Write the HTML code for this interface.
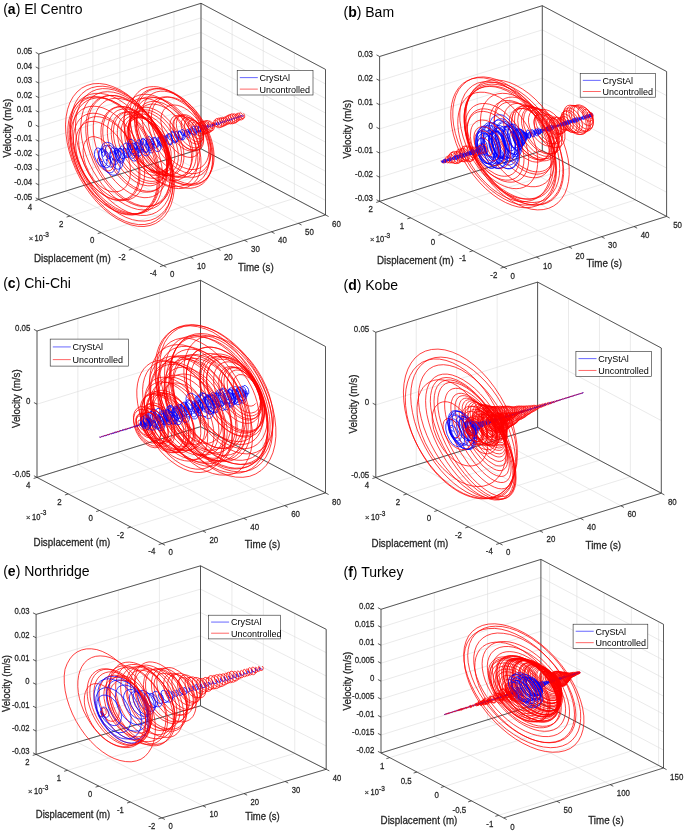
<!DOCTYPE html>
<html><head><meta charset="utf-8"><style>
html,body{margin:0;padding:0;background:#fff;}
svg{display:block;font-family:"Liberation Sans", sans-serif;will-change:transform;}
</style></head><body>
<svg width="685" height="833" viewBox="0 0 685 833">
<rect width="685" height="833" fill="#fff"/>
<g><line x1="38.80" y1="199.50" x2="38.80" y2="54.00" stroke="#dcdcdc" stroke-width="0.6"/><line x1="38.80" y1="199.50" x2="163.30" y2="265.60" stroke="#dcdcdc" stroke-width="0.6"/><line x1="65.83" y1="191.05" x2="65.83" y2="45.55" stroke="#dcdcdc" stroke-width="0.6"/><line x1="65.83" y1="191.05" x2="190.33" y2="257.15" stroke="#dcdcdc" stroke-width="0.6"/><line x1="92.87" y1="182.60" x2="92.87" y2="37.10" stroke="#dcdcdc" stroke-width="0.6"/><line x1="92.87" y1="182.60" x2="217.37" y2="248.70" stroke="#dcdcdc" stroke-width="0.6"/><line x1="119.90" y1="174.15" x2="119.90" y2="28.65" stroke="#dcdcdc" stroke-width="0.6"/><line x1="119.90" y1="174.15" x2="244.40" y2="240.25" stroke="#dcdcdc" stroke-width="0.6"/><line x1="146.93" y1="165.70" x2="146.93" y2="20.20" stroke="#dcdcdc" stroke-width="0.6"/><line x1="146.93" y1="165.70" x2="271.43" y2="231.80" stroke="#dcdcdc" stroke-width="0.6"/><line x1="173.97" y1="157.25" x2="173.97" y2="11.75" stroke="#dcdcdc" stroke-width="0.6"/><line x1="173.97" y1="157.25" x2="298.47" y2="223.35" stroke="#dcdcdc" stroke-width="0.6"/><line x1="201.00" y1="148.80" x2="201.00" y2="3.30" stroke="#dcdcdc" stroke-width="0.6"/><line x1="201.00" y1="148.80" x2="325.50" y2="214.90" stroke="#dcdcdc" stroke-width="0.6"/><line x1="38.80" y1="199.50" x2="201.00" y2="148.80" stroke="#dcdcdc" stroke-width="0.6"/><line x1="201.00" y1="148.80" x2="325.50" y2="214.90" stroke="#dcdcdc" stroke-width="0.6"/><line x1="38.80" y1="184.95" x2="201.00" y2="134.25" stroke="#dcdcdc" stroke-width="0.6"/><line x1="201.00" y1="134.25" x2="325.50" y2="200.35" stroke="#dcdcdc" stroke-width="0.6"/><line x1="38.80" y1="170.40" x2="201.00" y2="119.70" stroke="#dcdcdc" stroke-width="0.6"/><line x1="201.00" y1="119.70" x2="325.50" y2="185.80" stroke="#dcdcdc" stroke-width="0.6"/><line x1="38.80" y1="155.85" x2="201.00" y2="105.15" stroke="#dcdcdc" stroke-width="0.6"/><line x1="201.00" y1="105.15" x2="325.50" y2="171.25" stroke="#dcdcdc" stroke-width="0.6"/><line x1="38.80" y1="141.30" x2="201.00" y2="90.60" stroke="#dcdcdc" stroke-width="0.6"/><line x1="201.00" y1="90.60" x2="325.50" y2="156.70" stroke="#dcdcdc" stroke-width="0.6"/><line x1="38.80" y1="126.75" x2="201.00" y2="76.05" stroke="#dcdcdc" stroke-width="0.6"/><line x1="201.00" y1="76.05" x2="325.50" y2="142.15" stroke="#dcdcdc" stroke-width="0.6"/><line x1="38.80" y1="112.20" x2="201.00" y2="61.50" stroke="#dcdcdc" stroke-width="0.6"/><line x1="201.00" y1="61.50" x2="325.50" y2="127.60" stroke="#dcdcdc" stroke-width="0.6"/><line x1="38.80" y1="97.65" x2="201.00" y2="46.95" stroke="#dcdcdc" stroke-width="0.6"/><line x1="201.00" y1="46.95" x2="325.50" y2="113.05" stroke="#dcdcdc" stroke-width="0.6"/><line x1="38.80" y1="83.10" x2="201.00" y2="32.40" stroke="#dcdcdc" stroke-width="0.6"/><line x1="201.00" y1="32.40" x2="325.50" y2="98.50" stroke="#dcdcdc" stroke-width="0.6"/><line x1="38.80" y1="68.55" x2="201.00" y2="17.85" stroke="#dcdcdc" stroke-width="0.6"/><line x1="201.00" y1="17.85" x2="325.50" y2="83.95" stroke="#dcdcdc" stroke-width="0.6"/><line x1="38.80" y1="54.00" x2="201.00" y2="3.30" stroke="#dcdcdc" stroke-width="0.6"/><line x1="201.00" y1="3.30" x2="325.50" y2="69.40" stroke="#dcdcdc" stroke-width="0.6"/><line x1="201.00" y1="148.80" x2="201.00" y2="3.30" stroke="#dcdcdc" stroke-width="0.6"/><line x1="38.80" y1="199.50" x2="201.00" y2="148.80" stroke="#dcdcdc" stroke-width="0.6"/><line x1="232.12" y1="165.33" x2="232.12" y2="19.83" stroke="#dcdcdc" stroke-width="0.6"/><line x1="69.92" y1="216.03" x2="232.12" y2="165.33" stroke="#dcdcdc" stroke-width="0.6"/><line x1="263.25" y1="181.85" x2="263.25" y2="36.35" stroke="#dcdcdc" stroke-width="0.6"/><line x1="101.05" y1="232.55" x2="263.25" y2="181.85" stroke="#dcdcdc" stroke-width="0.6"/><line x1="294.38" y1="198.38" x2="294.38" y2="52.88" stroke="#dcdcdc" stroke-width="0.6"/><line x1="132.18" y1="249.07" x2="294.38" y2="198.38" stroke="#dcdcdc" stroke-width="0.6"/><line x1="325.50" y1="214.90" x2="325.50" y2="69.40" stroke="#dcdcdc" stroke-width="0.6"/><line x1="163.30" y1="265.60" x2="325.50" y2="214.90" stroke="#dcdcdc" stroke-width="0.6"/></g>
<g><line x1="38.80" y1="54.00" x2="201.00" y2="3.30" stroke="#262626" stroke-width="0.75"/><line x1="201.00" y1="3.30" x2="325.50" y2="69.40" stroke="#262626" stroke-width="0.75"/><line x1="325.50" y1="69.40" x2="325.50" y2="214.90" stroke="#262626" stroke-width="0.75"/><line x1="38.80" y1="199.50" x2="201.00" y2="148.80" stroke="#262626" stroke-width="0.75"/><line x1="201.00" y1="148.80" x2="325.50" y2="214.90" stroke="#262626" stroke-width="0.75"/><line x1="38.80" y1="199.50" x2="163.30" y2="265.60" stroke="#262626" stroke-width="0.75"/><line x1="163.30" y1="265.60" x2="325.50" y2="214.90" stroke="#262626" stroke-width="0.75"/><line x1="201.00" y1="3.30" x2="201.00" y2="148.80" stroke="#262626" stroke-width="0.75"/><line x1="38.80" y1="54.00" x2="38.80" y2="199.50" stroke="#262626" stroke-width="0.75"/></g>
<path d="M101 159.8l0-0.5M100.8 158.9l-1.3-1.3-1.1 0.1-0.8 1.3 0.1 2.4 1.2 3.2 2.4 3.2 3.2 2.4 1.2 0.5M95.2 136.8l-2.1-0.2-2 0.3-1.8 0.7-1.7 1.2-1.5 1.5-1.2 2-1 2.3-0.9 5.7 0.5 6.8 2 7.5 3.4 7.5 4.7 7.2 5.8 6.1 3.3 2.5 3.4 1.9 3.4 1.3 3.4 0.7 3.2 0M91 121.4l-3.3 0.6-3 1.3-2.7 2-2.2 2.7-1.8 3.2-1.3 3.8-0.8 4.2-0.3 4.6 0.3 5 0.8 5.2 1.4 5.3 1.9 5.3 2.3 5.3 2.8 5.2 3.2 4.8 3.6 4.5 3.8 4.1 4.1 3.5 4.2 3 4.2 2.3 4.3 1.6 4.1 0.9 4 0.2M89.2 113.6l-3.6 1.2-3.1 1.8-2.8 2.6-2.3 3.1-1.8 3.8-1.2 4.3-0.8 4.7-0.2 5 0.4 5.4 0.9 5.5 1.5 5.6 1.9 5.7 2.5 5.5 2.8 5.3 3.3 5.1 3.5 4.7 3.8 4.3 4.1 3.8 4.1 3.2 4.3 2.7 4.2 1.9 4.2 1.3 4 0.6 3.8-0.1M92.9 117l-3.2 1-2.9 1.7-2.4 2.2-2.1 2.9-1.6 3.3-1.2 3.8-0.7 4.2-0.2 4.5 0.3 4.7 0.7 4.9 1.3 5 3.6 10 2.3 4.9 2.6 4.8 3 4.6 3.4 4.3 3.6 3.9 3.8 3.5 3.9 2.9 4.1 2.5 4.1 1.8 4 1.2 3.9 0.5M93.7 106.2l-4.4 0.3-4 1.2-3.6 2-3.2 2.8-2.8 3.5-2.2 4.2-1.6 4.8-1.1 5.4-0.3 5.9 0.2 6.3 0.9 6.6 1.6 6.8 2.2 6.8 2.7 6.9 3.4 6.7 3.8 6.4 4.3 6.1 4.7 5.7 5.1 5.1 5.2 4.4 5.5 3.7 5.5 3 5.5 2.1 5.4 1.2 5.2 0.3M93.4 96.7l-5.1 0.6-4.7 1.7-4.2 2.6-3.7 3.6-3 4.4-2.3 5.3-1.7 5.9-0.8 6.5-0.1 7 0.6 7.4 1.4 7.6 2.2 7.7 2.8 7.7 3.5 7.6 4.1 7.3 4.6 6.9 5.1 6.3 5.4 5.7 5.7 5 5.8 4.2 5.9 3.3 5.9 2.4 5.8 1.3 5.5 0.4M95.3 96.9l-5.1 0.7-4.7 1.7-4.1 2.7-3.5 3.7-2.9 4.4-2.2 5.3-1.6 5.9-0.8 6.4 0 7 0.7 7.3 1.4 7.5 2.2 7.7 2.9 7.6 3.5 7.5 4 7.2 4.6 6.7 5 6.3 5.4 5.6 5.6 4.9 5.8 4.1 5.9 3.2 5.8 2.2 5.7 1.3 5.4 0.3M96.7 97.9l-4.9 0.9-4.6 1.8-4 2.8-3.5 3.8-2.8 4.5-2.1 5.4-1.4 6-0.7 6.6 0.1 7 0.9 7.4 1.6 7.5 2.4 7.7 3 7.6 3.6 7.3 4.3 7.1 4.7 6.6 5.1 6 5.4 5.4 5.7 4.6 5.8 3.8 5.8 2.9 5.7 1.9 5.6 1 5.3 0.2M94.9 93.4l-5.4 1.1-4.9 2.1-4.3 3.3-3.7 4.2-3 5.2-2.3 6-1.5 6.7-0.6 7.4 0.2 7.9 1.1 8.3 1.9 8.6 2.7 8.6 3.5 8.6 4.2 8.3 4.9 8.1 5.4 7.5 5.9 6.9 6.3 6.2 6.6 5.3 6.7 4.3 6.8 3.3 6.7 2.2 6.5 1.1 6.3-0.1M92.9 83.8l-5.8 1.6-5.4 2.7-4.6 3.8-4 4.9-3.2 5.8-2.3 6.7-1.5 7.5-0.6 8.1 0.4 8.6 1.2 8.9 2.1 9.1 2.9 9.2 3.7 9.1 4.4 8.8 5.1 8.4 5.6 7.9 6.1 7.3 6.5 6.4 6.7 5.6 6.9 4.7 7 3.5 6.8 2.5 6.7 1.4 6.4 0.2M97 86.5l-5.6 1.3-5 2.4-4.5 3.5-3.8 4.5-3.1 5.3-2.3 6.2-1.4 7-0.7 7.5 0.2 8 1 8.4 1.9 8.5 2.6 8.7 3.4 8.6 4.1 8.3 4.8 8.2 5.3 7.7 5.9 7 6.2 6.3 6.5 5.4 6.6 4.5 6.7 3.5 6.6 2.4 6.5 1.2 6.1 0.2M102.4 88.6l-5.6 0.9-5 2-4.5 3.1-3.9 4.1-3.1 5-2.4 5.9-1.6 6.5-0.8 7.3 0.1 7.7 0.9 8 1.8 8.3 2.5 8.4 3.3 8.3 4 8.1 4.5 7.7 5.2 7.3 5.5 6.6 6 5.9 6.1 5.1 6.4 4.2 6.3 3.2 6.3 2.2 6.1 1 5.8 0M102.1 92.2l-5 1.7-4.5 2.7-3.8 3.8-3.1 4.6-2.4 5.6-1.6 6.2-0.8 6.9 0 7.4 0.9 7.8 1.7 7.9 2.4 8.1 3.2 7.9 3.9 7.8 4.5 7.3 4.9 6.9 5.5 6.2 5.7 5.5 5.9 4.7 6.1 3.7 6.1 2.8 5.9 1.7 5.7 0.6 5.4-0.5M106.1 95.8l-4.7 1.4-4.3 2.5-3.6 3.4-3 4.3-2.3 5.1-1.6 5.9-0.8 6.4 0 6.9 0.7 7 1.4 7.2 2.1 7.3 2.8 7.3 3.4 7.2 3.9 6.8 4.5 6.5 4.8 5.9 5.2 5.3 5.4 4.6 5.6 3.8 5.6 2.9 5.5 2 5.4 1.1 5.2 0.1M109.5 95.5l-4.7 1-4.3 2-3.7 2.9-3.2 3.7-2.6 4.5-1.9 5.2-1.1 5.9-0.5 6.4 0.2 6.8 1 7.1 1.7 7.2 2.4 7.3 3 7.2 3.6 7 4.1 6.7 4.6 6.2 4.9 5.7 5.3 5.1 5.4 4.3 5.6 3.5 5.5 2.6 5.5 1.7 5.4 0.8 5-0.2M110.6 98.9l-4.1 1.5-3.7 2.5-3.2 3.2-2.5 4.1-1.9 4.6-1.3 5.3-0.6 5.8 0.1 6.1 0.7 6.5 1.4 6.6 2 6.6 2.6 6.5 3.2 6.4 3.6 6 4.1 5.7 4.3 5.1 4.7 4.6 4.8 3.8 4.9 3.2 4.9 2.4 4.8 1.5 4.6 0.8 4.4-0.2M117.1 106.8l-3.5 1.1-3.2 1.8-2.8 2.4-2.3 3-1.9 3.5-1.4 4.2-0.8 4.6-0.3 5 0.4 5.3 0.8 5.5 1.4 5.6 2 5.6 2.4 5.5 2.9 5.4 3.3 5.1 3.6 4.7 3.9 4.3 4.1 3.8 4.3 3.1 4.3 2.6 4.3 1.8 4.2 1.2 4.1 0.3 3.9-0.3M121.2 106.6l-3.7 0.5-3.4 1.2-3.1 1.9-2.6 2.6-2.2 3.2-1.7 3.8-1.1 4.3-0.6 4.8 0 5.1 0.6 5.3 1.1 5.5 1.6 5.6 2.2 5.6 2.6 5.4 3.1 5.3 3.4 4.9 3.7 4.5 4 4.1 4.2 3.5 4.3 2.9 4.3 2.2 4.3 1.6 4.2 0.8 3.9 0.1M123.2 109l-3.2 0.6-3 1.2-2.6 1.9-2.2 2.3-1.9 2.9-1.4 3.4-1 3.8-0.5 4.1 0 4.4 0.4 4.6 0.9 4.8 1.4 4.8 3.9 9.5 5.4 8.9 3.1 4.1 3.3 3.6 3.5 3.3 3.7 2.8 3.7 2.3 3.6 1.7 3.7 1.2 3.5 0.6 3.4 0M124.6 112l-3.1 0.9-2.8 1.5-2.3 2.1-2 2.7-1.5 3.2-1 3.6-0.6 4.1 0 4.3 0.4 4.6 1 4.8 1.4 4.8 1.9 4.8 2.3 4.7 2.7 4.5 3 4.2 3.3 3.9 3.5 3.5 3.6 2.9 3.8 2.5 3.7 1.9 3.7 1.2 3.6 0.7 3.5 0M129.5 111.9l-3.2 0.3-3 0.9-2.7 1.5-2.2 2.1-1.9 2.6-1.5 3.1-1 3.5-0.5 3.9-0.1 4.2 0.5 4.5 0.9 4.6 1.4 4.7 1.8 4.6 2.2 4.6 2.6 4.4 2.9 4 3.2 3.7 3.4 3.3 3.5 2.8 3.5 2.4 3.6 1.8 3.5 1.2 3.5 0.7 3.2 0.1M131.5 113.8l-2.9 0.4-2.6 0.9-2.4 1.4-2 2-1.7 2.4-1.2 2.9-0.9 3.2-0.4 3.5-0.1 3.9 1.3 8.1 2.9 8.4 4.4 8 5.4 7.2 6.3 5.9 3.3 2.2 3.3 1.9 3.3 1.3 3.2 0.7 3.1 0.3M133.2 115.7l-2.5 0.5-2.4 0.9-2 1.4-1.8 1.9-1.4 2.2-1.1 2.7-0.7 2.9-0.3 6.7 1.2 7.3 2.7 7.6 3.9 7.3 4.9 6.5 5.6 5.4 6 3.8 3 1.3 3 0.9 2.8 0.3 2.7 0M137 117.2l-2.5 0.2-2.3 0.7-2 1.1-1.8 1.5-1.5 2-1.2 2.3-0.8 2.8-0.5 6.2 0.9 7 2.4 7.2 3.7 7 4.8 6.3 5.4 5.3 5.8 3.7 2.9 1.3 2.9 0.8 2.7 0.4 2.6-0.2M139.7 117.8l-2.5 0.2-2.3 0.5-2.1 1.1-1.8 1.4-1.5 1.9-1.2 2.3-0.8 2.6-0.6 6 0.9 6.7 2.4 7 3.6 6.9 4.6 6.1 5.3 5.1 5.7 3.6 5.6 2 2.7 0.3M139.6 116.9l-2.5 0.4-2.3 0.9-2 1.4-1.7 1.8-1.3 2.2-1 2.6-0.6 2.9-0.2 3.3 0.8 7 2.3 7.5 3.8 7.3 4.9 6.6 5.7 5.5 6.1 4 3.1 1.3 3 0.9 3 0.3M141.4 114l-2.6 0.3-2.5 0.7-2.1 1.2-1.9 1.7-1.6 2.1-1.2 2.4-0.8 2.9-0.5 3.1 0.2 6.9 1.8 7.6 3.2 7.6 4.4 7.2 5.4 6.3 6.1 5.1 6.3 3.5 3.1 1 3 0.6 2.9 0.1M141.7 111.5l-2.7 0.4-2.5 1-2.2 1.4-1.9 1.9-1.6 2.3-1.2 2.7-0.8 3.1-0.4 3.4 0 3.7 1.3 7.8 2.9 8.2 4.3 7.9 5.5 7.3 6.4 6 3.4 2.4 3.5 1.9 3.4 1.4 3.3 0.9 3.3 0.4M145.3 109.8l-3.1 0.1-2.8 0.7-2.6 1.3-2.2 1.7-1.8 2.3-1.4 2.7-1.1 3.2-0.5 3.5-0.2 3.8 0.4 4.1 0.8 4.2 2.9 8.7 4.4 8.4 5.8 7.6 3.2 3.3 3.4 3 3.5 2.4 3.6 2 3.6 1.5 3.4 0.9 3.4 0.4M146.1 107.2l-3.2 0.1-3 0.7-2.8 1.2-2.4 1.8-2 2.3-1.6 2.9-1.2 3.3-0.8 3.7-0.2 4.1 0.2 4.3 0.8 4.6 1.2 4.7 1.7 4.8 2.2 4.8 2.5 4.6 3 4.5 3.2 4.2 3.6 3.9 3.8 3.5 3.9 3 4.1 2.5 4.1 1.9 4 1.3 3.9 0.7M145.4 98.4l-4.1 0-3.8 0.8-3.4 1.6-3.1 2.3-2.5 2.9-2 3.7-1.5 4.2-0.9 4.7-0.1 5.2 0.5 5.6 1.1 5.8 1.7 5.9 2.3 5.9 2.9 5.8 3.3 5.7 3.8 5.3 4.1 5 4.5 4.5 4.6 4 4.9 3.3 4.8 2.6 4.9 2 4.7 1.1 4.6 0.4M143.4 94.3l-4.2 0.7-3.8 1.5-3.4 2.3-2.8 3.1-2.3 3.8-1.7 4.4-1 5-0.4 5.4 0.4 5.8 1 6.1 1.6 6.3 2.3 6.3 2.9 6.2 3.4 6.1 3.9 5.8 4.3 5.4 4.6 4.9 4.9 4.4 5.1 3.7 5.2 2.9 5.2 2.3 5.1 1.4 4.8 0.5M148.7 96.9l-4.1 0.6-3.6 1.4-3.2 2.2-2.7 2.9-2.1 3.6-1.5 4.1-0.8 4.6-0.2 5.1 0.4 5.3 1.1 5.5 1.6 5.6 2.2 5.5 2.7 5.4 3.2 5.2 3.5 4.8 3.9 4.4 4 3.9 4.3 3.3 4.3 2.7 4.2 2 4.2 1.3 4 0.6 3.7-0.1M150.6 104.1l-3.3 0.8-2.9 1.3-2.5 2.1-2.1 2.6-1.6 3.1-1.1 3.5-0.6 4-0.1 4.2 0.4 4.5 1 4.7 1.4 4.8 1.9 4.8 2.3 4.7 2.8 4.5 3 4.3 3.4 4 3.6 3.6 3.8 3.2 3.9 2.7 3.9 2.1 3.9 1.5 3.8 0.9 3.7 0.3M153.7 101.3l-3.4 0.3-3.1 0.9-2.8 1.6-2.5 2.1-2 2.7-1.6 3.2-1.1 3.6-0.6 4-0.1 4.4 0.4 4.6 1 4.8 1.4 4.9 1.9 4.9 2.3 4.9 2.7 4.7 3.1 4.5 3.3 4.1 3.7 3.9 3.8 3.4 3.9 2.9 4 2.4 4 1.8 4 1.2 3.8 0.6 3.6 0M153.1 97.6l-3.6 0.4-3.4 1.1-3 1.7-2.7 2.4-2.2 3-1.7 3.6-1.1 4.1-0.6 4.5-0.1 4.9 0.5 5.2 1.1 5.4 1.6 5.6 2.2 5.6 2.6 5.5 3.2 5.4 3.5 5.1 3.9 4.8 4.2 4.4 4.5 4 4.6 3.4 4.7 2.8 4.7 2.1 4.7 1.4 4.5 0.7M153.5 86.6l-4.4 0.3-4.1 1-3.8 1.8-3.2 2.6-2.8 3.2-2.3 3.9-1.7 4.4-1 5-0.5 5.4 0.2 5.7 0.7 6 1.4 6.2 2 6.3 2.6 6.3 3.1 6.1 3.6 5.9 3.9 5.7 4.4 5.2 4.6 4.8 4.8 4.2 4.9 3.7 5.1 3 5 2.4 5 1.6 4.8 0.8 4.5 0.2M154.4 88.6l-4 0.7-3.6 1.4-3.3 2.1-2.8 2.7-2.3 3.3-1.8 3.9-1.3 4.4-0.7 4.8-0.2 5.1 0.5 5.4 0.9 5.7 1.5 5.7 2 5.6 2.4 5.7 2.8 5.5 3.3 5.3 3.6 5.1 3.9 4.7 4.2 4.4 4.4 3.9 4.5 3.4 4.6 2.8 4.6 2.3 4.6 1.6 4.4 1 4.3 0.3M156.7 88.7l-3.8 0.6-3.6 1.3-3.2 1.9-2.8 2.6-2.3 3.1-1.9 3.7-1.3 4.2-0.8 4.6-0.3 5 0.3 5.2 0.8 5.6 1.4 5.6 1.9 5.7 2.3 5.7 2.9 5.6 3.2 5.4 3.7 5.2 3.9 4.8 4.3 4.5 4.4 3.9 4.6 3.5 4.7 2.8 4.7 2.2 4.6 1.6 4.5 0.9 4.3 0.2M160.4 91.2l-3.9 0.7-3.5 1.4-3.1 2.1-2.6 2.7-2.1 3.4-1.6 3.9-1 4.3-0.5 4.8 0.1 5.1 0.7 5.3 1.3 5.5 1.8 5.5 2.3 5.6 2.8 5.3 3.2 5.2 3.5 4.9 3.9 4.5 4.1 4.1 4.3 3.5 4.4 3 4.4 2.3 4.4 1.7 4.2 1 4.1 0.3M165.8 96.8l-3.7 0.3-3.3 1-3 1.7-2.6 2.3-2 3-1.6 3.5-1 4-0.5 4.4 0.1 4.8 0.7 5 1.3 5.2 1.8 5.2 2.3 5.2 2.7 5.1 3.2 4.8 3.5 4.6 3.8 4.1 4.1 3.6 4.2 3.1 4.3 2.5 4.2 1.9 4.2 1.1 4 0.5M167.6 97l-3.6 0.5-3.2 1.2-2.9 1.9-2.3 2.5-1.9 3.1-1.4 3.6-0.8 4.1-0.2 4.5 0.4 4.7 0.8 4.9 1.5 5 1.9 5.1 2.4 4.9 2.9 4.7 3.2 4.5 3.5 4.1 3.7 3.6 3.9 3.2 3.9 2.5 3.9 1.9 3.9 1.3 3.7 0.7 3.5 0M171.8 105.1l-2.6 0.6-2.3 1.2-2 1.6-1.6 2.2-1.2 2.5-0.8 2.9-0.4 3.1 0.1 3.4 1.3 7.2 2.8 7.2 4 6.7 4.9 5.7 5.4 4.4 5.5 2.7 2.6 0.6 2.5 0.3 2.3-0.3M178.3 115.2l-3.4 0.6-2.6 1.9-1.7 3.1-0.7 4 0.5 4.6 1.5 4.9 2.4 4.7 3.2 4.4 3.6 3.6 4 2.5 3.9 1.4 1.9 0.2M180.4 116.1l-3 0.6-2.4 1.7-1.6 2.8-0.6 3.6 0.3 4.3 1.3 4.4 2.2 4.5 2.9 4 3.4 3.4 3.7 2.7 3.8 1.4 3.6 0.3M180.7 115.1l-2.9 0.9-2.3 2.2-1.4 3.2-0.3 4 0.6 4.6 1.7 4.8 2.5 4.7 3.3 4.2 3.7 3.4 4 2.4 4 1.2 1.8 0.2M183.5 114.6l-2.9 0.7-2.3 1.8-1.4 2.8-0.6 3.5 0.3 4.1 2.1 6.5 3.8 6 3.1 3.4 3.4 2.5 3.5 1.6 3.3 0.5M186.7 117.2l-2.3 0.6-1.8 1.5-1.1 2.2-0.4 4.4 1.1 5 2.5 4.9 3.5 4.2 4.1 2.9 4 1.2 1.2 0M188.9 118.7l-1.9 0.6-1.4 1.4-1.1 3.1 0.2 4.1 1.5 4.4 2.7 4.1 3.3 3.2 3.6 2 3.4 0.3M192.2 120.1l-2.3 0.7-1.5 2.1-0.3 3.1 0.8 3.5 1.8 3.5 2.5 3 2.9 2.1 2.9 0.8 0.8 0M194.9 121.9l-1.7 0.6-1.1 1.6-0.1 3.2 1.4 3.6 2.6 3.1 2.9 1.8 2.1 0.2M197.3 123.1l-1.3 0.5-0.8 1.8 0.3 2.8 1.9 3.4 2.4 2 2.5 0.7M199.2 122.6l-1.4 0.4-0.8 1.3 0 2.7 1.2 3 2.3 2.7 2.7 1.5 1.3 0.1M201 121.7l-1.4 0.6-0.8 1.3 0.1 2.7 1.8 3.7 2.3 2.4 2.6 1.1 0.6 0.1M203.2 121.2l-1.5 0.3-1 1.1-0.2 2.6 1.1 3.1 2.2 2.8 2.7 1.7 1.9 0.2M204.8 120.9l-1.3 0.5-0.8 2 0.5 2.7 2.1 3.5 2.4 1.9 2.4 0.5M207 120.4l-1.6 0.5-0.6 1.2 0.3 3 1.8 3.2 2.7 2.1 2.1 0.5M209.3 121.1l-1 0.9-0.1 2.1 1.6 2.8 2 1.4 1.2 0.1M212 122.8l-0.3 0.8 0.9 1.6 1.3 0.4 0.2 0M214 122.4l-0.7 0.4 0.4 1.7 1.7 1.8 1.3 0.4M215.5 120.1l-1.4 0.3-0.4 1.8 0.9 2.5 2.1 2.3 2.4 0.9M216.8 118.4l-1.2 0.7-0.5 1.6 0.9 3 2.2 2.6 2.2 1 1 0M218.7 118l-1.2 0.8-0.3 1.7 1 2.9 2.2 2.4 2.1 0.8 0.5 0M220.6 117.6l-1.1 0.7-0.3 2.1 1.2 2.7 2.1 2 2.3 0.7M222.7 117.3l-1.1 0.6-0.3 2 1.1 2.5 2.1 1.9 1.8 0.6M224.6 117l-1 0.6-0.2 1.8 1.3 2.8 2.1 1.6 1.6 0.3M226.6 116.2l-1.1 0.4-0.5 1.8 1.1 2.9 2.1 2 2.3 0.7M228.3 115.1l-1.3 0.6-0.5 1.6 0.8 2.8 2.1 2.5 2.6 1.2 0.5 0M229.8 114.3l-1.2 0.8-0.4 1.9 1.1 3 2.3 2.5 2.2 0.9 0.5 0M231.8 113.7l-1.3 0.8-0.3 1.8 1 2.9 2.2 2.4 2.5 0.9M234.1 113.7l-1.1 0.5-0.4 1.8 1.2 2.9 2 1.8 2 0.5M236.1 113.8l-0.9 0.7 0 2.1 1.5 2.3 2.2 1.3 0.7 0M238.1 113.1l-1.1 0.5-0.2 1.7 1.2 2.6 2.3 1.8 1.2 0.2M240 112.7l-0.9 0.7 0.1 2 1.8 2.5 2.1 0.8 0.3 0" fill="none" stroke="#ff0000" stroke-width="0.75" stroke-linejoin="round"/><path d="M101 159.8l-0.5-1.2-0.8 0.2 0 1.9 1.4 3.3 2.5 2.7 2.2 1.1 1.2 0 1.1-0.4 1-0.8 0.8-1.2 0.9-3.8-0.6-4-1.5-3.5-2-2.6-1-0.6-1.9 0.1-1.1 1.1-0.2 1-0.9-2.5-1.6-1.8-1.9-0.9-1 0.2-1 0.5-1.3 2.4-0.4 3.7 0.4 2.3 2.1 4.9 2.9 3.5 1.5 1 1.4 0.4 1.3-0.1 1.2-0.5 1.4-1.9 0.5-2.4-0.7-2.5-0.3-0.2 0.5 1.4 0.7-0.1 0.6-1.2-0.4-4-2.1-4.5-1.8-1.9-1.9-0.6-1.8 1-1.3 1.9-0.5 2.9 0.8 4.6 1.9 2.7 1.1 0.4 0.7-0.6-0.2 1.6 1.1 4 3.5 4.9 3.3 2.6 1.8 0.8 1.9 0.1 1.7-0.4 1.6-1.1 1.4-1.8 0.9-2.5 0.6-3 0-3.5-0.4-3.7-1-3.8-1.4-3.6-1.8-3.3-2.1-2.7-2.2-2-2.3-1.2-2.2-0.3-1.9 0.4-1.6 1.1-1.1 1.7-0.8 2.1-0.3 2.3 0.6 4 1.4 2.4 0.8 0 0.6-0.6 0.2-2.6-1.2-2.7-1-0.9-1-0.2-1.1 0.5-0.8 1.2-0.6 2-0.1 2.6 0.3 3.1 0.8 3.2 1.4 3.2 1.7 2.9 2 2.4 2.1 1.6 2.1 0.8 2-0.1 1.7-0.9 1.3-1.6 0.8-2.1 0.4-2.3-0.4-4.3-1.4-2.7-0.7-0.4-0.7 0.6 0.4 1.3 0.5 0 0.8-1.2-0.1-3.2-1.4-4.4-1.2-2.2-1.5-1.8-1.6-1.4-1.7-0.6-1.6 0.1-1.4 0.8-1.1 1.6-0.6 2.2-0.2 2.6 0.3 2.9 0.8 2.9 1.2 2.6 1.4 2.3 1.7 1.7 1.7 1.2 1.6 0.6 1.5 0 1.3-0.4 1.8-1.9 0.4-2.6-0.6-2.4-0.2-0.2 0.6 0.6 0.9-0.6 0.5-2.2-0.4-3.6-1.7-4.2-2.7-3.2-1.5-0.9-1.5-0.2-1.3 0.4-1.1 1-0.7 1.6-0.4 1.9 0.4 4.1 1.6 3.3 1.8 1.2 1.2-0.5 0.2-1.7-0.4-0.1 0 2.3 1.7 3.7 2 1.8 2.1 0.4 1.6-1.3 0.9-2.4-0.4-4.2-1.5-3-2.5-2-1.2 0.1-0.8 1.2-0.1 0.5-1-1.3-0.8 0-0.7 1.3-0.2 2.5 0.7 3.6 1.7 4.1 2.7 3.5 1.6 1.3 1.6 0.7 1.4 0 1.4-0.5 1.1-1 0.9-1.5 0.9-3.9-0.4-4.5-1.4-4-1.9-2.8-2.1-1.1-1.5 0.4-0.7 1.5 0.3 2 0.5 0.1 0.1-2.1-1.5-3-1.7-1-0.9 0.1-0.7 0.6-0.9 2.5 0.3 3.5 1.3 3.4 2 2.4 2 0.9 1.5-0.5 1.1-1.8 0.4-1.2 1 0.1 0.8-1.5-0.5-3.8-1.8-3.1-1.7-1.1-1.5 0.2-0.9 1.6-0.1 2.3 0.8 1.8 0.9 0.7 0.7-0.5-0.4-1.5-0.7 0.2-0.3 1.7 0.6 3.1 1.8 3.2 1.4 1.2 1.4 0.6 1.3 0.1 1.2-0.7 0.9-1.2 0.6-1.7 0-4.1-1.2-3.9-2-2.4-1-0.4-0.9 0-1.2 1.1-0.1 2.5 0.5 0.6 0.2-1.5-0.7-1.9-1.4-1.2-0.8-0.1-0.7 0.5-0.7 2.4 0.4 3.5 1.5 3.5 2.1 2.5 2.2 1 1.8-0.4 1.5-2 0.6-5-0.8-3.3-1.6-2-2-0.5-1.7 0.6-0.8 1.9 0.2 2.5 1.3 2.9 2 2 2 0.4 1.4-0.7 1.4-1.7 0.8-1.2 0-3.1-1.1-3-1.9-2.3-1.4-0.7-1.3 0.3-1.1 1.9 0.1 2.7 1.1 2.1 1.4 0.6 1.4 2.7 1.7 1.3 1.6 0.1 1.3-1 0.7-2.6-0.8-3-1.6-1.8-2.6-1.2-0.9 0.9-0.2 2.3 0.9 2.9 1.9 2.3 2.1 0.9 1.7-0.6 1.1-1.9 0.6-3.5-1-4.1-2-3-1.7-1.1-1.7 0.1-1.3 1.5-0.4 2.5 0.4 2.8 1.1 2.3 1.3 1.2 1.2 0.1 0.8-1.1 1 3.2 1.6 1.8 1.9 0.9 1-0.2 0.8-0.5 1.2-2.4 0-3.5-1-3.8-1.8-3-2.2-1.5-1.9 0.1-1.2 1.4-0.2 2.8 0.8 1.8 0.5 0 0.1-1.2-0.7-0.5-0.7 0.5-0.3 2.1 0.7 3.3 1.7 3.6 2.6 2.8 1.5 0.7 1.5 0.1 1.3-0.6 1.1-1.1 0.8-1.7 0.5-2.1-0.3-4.8-1.7-4.5-1.2-1.6-1.3-1.2-1.2-0.3-1.1 0.3-0.8 0.7-0.7 2.3 0.3 2.4 0.8 1.3 0.9 0 0.2-2.3-1.3-2.5-1.3-0.5-0.9 0.9-0.3 2.1 1 3.9 2.2 3 2.4 1.1 1.5-0.2 1-1.1 0.6-2.8-0.6-2.7-1-1.1-0.6 0.4 0.2 0.8 0.7-0.4 0-2.5-1.4-3.8-1.6-2.1-1.8-1-1.7 0.4-1.3 1.6-0.6 2.6 0.6 4.5 1.9 3.6 2.1 1.7 1.7-0.2 1-1.2 1.1 1.9 1.7 1.6 1.9 0.3 1.1-0.7 1-2.8-0.4-4.2-1.9-4.1-1.8-1.7-1.8-0.4-1.3 0.9-0.7 1.9 0.5 3.4 0.9 1.3 1 0.2 0.7-1.1-0.3-1.4-0.5-0.2-0.3 1.2 0.8 2.4 1.6 1.7 1.2 0 1.1-1.3 0-2.4-1.1-2.2-1.9-0.8-0.6 0.8 0.4 2.3 1.7 2.6 1.8 0.9 1.4-0.2 1-1.3 0.1-2.5-0.6-3.1-1.1-3.3-1.7-1.9-1.4-0.4-1.2 0.7-0.8 1.5 0 3.5 1.3 3.2 1.9 1.8 1.6-0.2 0.8-1.3 1.1 2.4 1.9 1.5 1.5-0.1 1.2-1.4 0.5-2.6-0.3-3.3-1.2-3.2-1.8-2.4-2-1-1.6 0.5-0.9 1.5 0 3 1 1.5 0.6-0.4-0.2-2.2-1-1.2-1.1-0.2-1 1.3-0.2 2.8 0.8 3.7 1.9 3.6 2.5 2.5 1.4 0.5 1.3 0.1 1.1-0.4 1-0.8 1.1-2.7 0-3.2-0.8-2.7-1.1-1.5-1-0.2-0.3 1 0.1-1.7-1.4-3.3-1.8-1.5-0.9-0.1-0.9 0.3-0.7 0.9-0.6 3 0.7 3.9 1.9 3.4 1.2 1.1 1.3 0.7 1.1 0 1-0.4 1.1-1.8 0-2.9-0.5-0.6 0.2 1.2 0.9 0.3 0.7-1.1 0-2.5-1.1-2.9-1.8-2.1-1-0.5-0.9-0.1-0.8 0.4-0.9 1.8 0 2.3 1.1 2.6 2 1.5 2.6 2.9 1.5 0.5 1.4-0.9 0.7-2.4-0.4-3.4-1.4-3-2.1-1.7-0.9-0.1-0.8 0.4-0.9 1.9 0.3 2.3 0.9 1.3 0.5 0.1 0.5-1-0.4-1.8-1.2-1.1-0.7 0.2-0.5 0.7-0.2 2.9 1.1 3.7 2.2 3 1.3 0.9 1.2 0.2 1.2-0.3 0.9-0.9 0.9-2.8-0.2-3.1-1.1-2-1-0.5-0.3 0.9 0.4 1.2 0.9 0.3 0.7-1.3-0.5-2.8-1.4-2.9-2.1-1.8-1-0.3-1 0.2-0.8 0.8-0.7 2.6 0.4 3.4 1.4 2.9 1.8 1.8 1.7 0.2 1.1-0.8 0.6-2-0.1-0.8 0.7 0.1 0.5-1.4-0.5-2.5-1.4-1.9-1.1-0.3-0.9 0.6-0.4 1.9 0.6 1.9 0.9 0.5 0.2-0.6 1 2.7 1.6 1.8 1.3 0.4 1.2-0.5 0.9-2.4-0.5-3.3-1.5-2.8-1.8-1.3-1.6 0.2-0.7 1.3 0.5 2.1 0.3 0-0.5-0.3-0.5 1.3 0.5 3.3 2.1 3.9 2 1.8 2.2 0.3 1-0.4 1.3-2 0.5-3-0.5-2.8-1.1-2.1-1.2-0.8-0.8 0.3-0.1 1.2 0.3-0.7-0.6-2.3-1.7-1.8-1.2 0.1-0.8 1.4 0 2.4 1.3 3.8 1.4 1.5 1.5 0.5 1-0.6 0.6-2-0.4-1.6-0.4-0.2 0.1 1.6 1.1 1.4 1.4 0.2 1-1.5 0-2.8-1.3-2.8-1.8-1.4-1 0.1-0.9 1.3 0.2 2.6 1.2 1.3 0.8-0.3 0.1-0.8-0.3 1.2 1 2.7 1.7 1.6 1.8 0.2 1.5-1.5 0.4-2.8-0.6-3.1-1.4-2-1.3-0.6-0.9 1-0.1 0.2-0.8-1.4-1-0.3-0.8 1.4 0.3 2.8 1.4 2.9 2.1 1.6 1.8-0.2 1.1-1.3 0.2-2.9-0.5-3.1-1.5-2.3-1.5-0.8-1.4 0.5-0.4 2 0.9 3 1.7 2 1.6 0.4 2-1 0.7-0.5 0-2.7-1.2-2-1.2-0.4-0.9 0.9 0 2.6 0.9 1.8 3.5 2.9 1.5 0.5 1.5-0.7 0.9-2.2-0.1-3.1-1.3-3-1.8-1.7-1.1-0.1-1 1.3 0 1.8 0.7 1 0.6-0.5-0.4-1.9-1-0.6-0.8 1.2 0.1 3.1 1.6 3.4 1.6 1.6 1.6 0.4 1.3-0.8 0.8-2.5-0.5-3.1-0.9-0.9 0 0.7 0.5-0.4-0.4-2.3-1.7-1.9-1.3 0-0.8 1.7 0.5 2.6 1.4 1.9 1.8 0.3 1.9 2.4 1.7 0.7 1.2-0.6 0.7-1.6 0-3.5-1.5-3.5-1.4-1.4-1.4-0.3-1 0.6-0.4 2 0.7 1.5-0.1-0.7-0.4 0.5 0.6 3 1.7 2.5 1.4 0.8 1.4-0.1 1-0.9 0.7-2.4-0.7-3.1-1.4-1.8-1.2-1.3-1.7-1.8-1.4 0.1-1 1.9 0.3 3.4 1.5 3.3 1.5 1.5 1.6 0.5 1.9-0.6 1.7-2.9 0-2.8-1.4-2.8-1.6-1.1-1.4 0.4-0.6 1.3 0.5 3 1.3 1.9 1.4 0.5 0.9-0.9-0.1-1 0.5 1.8 1.4 1.5 1.3 0 0.8-1.4 0-3.6-1.6-3.1-1.3-1-1.1 0.2-0.7 1.6 0.5 2 0.6 0.1-0.2-0.8 0 1.7 1.4 2.6 1.8 1 1.1-0.5 0.9-2.1-0.4-2.7-1.1-1.8-1.1-0.2-0.6 0.7-0.8-1.3-0.9 0-0.5 1.9 0.8 3.2 2 2.7 1.6 0.7 1.3-0.5 1-2.1-0.2-2.5-0.8-1.1-0.5 0.5 0.5 0.8 0.7-0.4-0.2-2.6-1.1-2-1.5-0.7-1 1-0.2 2.1 1.1 2.5 1.3 0.8 1.1-0.4 1.5 1.4 1.2-0.2 0.7-1.7-0.5-2.7-1.4-1.5-1 0.1-0.4 1.7 1.1 3.1 1.7 1.7 1.5 0.3 1.1-1 0.4-2.7-1-2.5-0.9-0.6-0.6 0.4 0.3 1.6 0.6 0 0.1-1.7-0.9-1.5-0.8-0.1-0.4 1.6 0.7 2.2 1.3 1.2 1-0.4 0.4-1.6 0.9 0.8 0.7-0.8-0.3-2-1.2-1.7-1 0.2-0.2 2 1 2 1 0.6 0.9-0.5 1.6 1.4 1.1 0 0.7-1.3-0.3-2.9-1.2-1.7-1 0 0 0.4-0.9-1.3-0.6 0.2-0.4 1.9 0.7 2.7 1.8 2.3 1.4 0.6 1.2-0.4 1-1.9-0.4-2.7-0.9-0.8-0.1 0-0.4-2.1-1.2-1.2-0.8 0.1-0.7 1.6 0.4 2.4 1.3 1.9 1.3 0.5 0.9-0.9 0.2-0.5 1.2 1 0.8-0.5 0.3-1.8-0.7-2.5-1.5-1.5-1 0-0.8 1.7 0.4 2.7 1.5 1.9 1 0 0.7-1.2-0.3-1.4-0.1 0.7 1 1.6 1.2 0.2 0.8-1.4-0.4-2.8-1.3-1.6-0.8 0.2-0.1 1.3-0.1-0.3 0.1 1.7 1.3 1.6 1.2 0.1 0.8-1.4 0-2-0.7-0.7-0.3 0.9 0.9 1.4 0.9-0.3 0.1-0.5 1 1.1 0.7-0.3 0.2-1.8-0.9-2.1-1-0.1-0.3 1.4 0.8 1.1 0.9 0.7 1.5 1.4 0.9-0.2 0.6-1.6-0.5-2.2-1.2-1-0.6 0.4 0.3 1.4 0.6 0.1-0.2-0.4 0.5 1.7 1.4 0.9 0.9-0.7-0.1-1.8-0.4-0.2 0.5 0.5 0.4-0.8-0.6-1.3-0.6 0.2 0.2 1.6 1.2 0.9 0.7-0.6 0.1-0.5 0.8 0.5 0.5-1.1-0.6-1.2 0.1 0.4 1.3 1.7 1-0.2 0.1-1.6-0.5-0.5 0.3 0.6-0.1-0.6 0.5 1.5 1.1 0.3 0.4-1.1-0.1-0.4 0.1-0.9-0.3-0.2 0.5 1.2 0.9-0.1 0.8 0.4 0.5-1-0.6-1.2-0.4 0.3 0.6 0.9 0.2-0.4 1 1.3 0.9-0.3 0.1-1.5-0.7-0.9 0.1 0.7 0-0.1 1 1.4 1 0 0.3-1.4 0.6-0.5-0.4-1.1-0.2 0.7 0.8 0.8 1.7 0 0.1-1.4-0.4-0.2 0.6 0.4 0.2 0 0.9 1.1 0.8-0.4 0.2-1.3 1 0.7 0.8-0.7 0.6-0.3-0.3-1.2 0 0.7 0.9 0.6 0.7-0.2 0.7 0.1 0.2-1.4-0.3-0.1 0.4 0.4 0.1-0.1 1 1 0.7-0.5-0.2-1.4 0.3 0.2 0.2-0.1 0.9 0.6 0.5-0.4 0.8 0.5 0.4-1.1 0-0.5 1.2 0.7 0.7-0.9 0-0.3 1.5 1 0.6-0.7 0.1-0.9-0.1-0.7 0.6 1.3 1-0.1 0.4-0.4 0.6-0.3-0.3-1.3 0.4 0.9 1.7 0.5 0.4-1.2 0-0.2" fill="none" stroke="#0000ff" stroke-width="0.75" stroke-opacity="1.0" stroke-linejoin="round"/><path d="M101 159.3l-0.2-0.4M105.7 170.7l2.4 0.4 2.3-0.6 1.9-1.6 1.3-2.6 0.6-3.5-0.3-4.2-1.3-4.7-2.2-4.7-3-4.5-3.7-3.8-4.2-2.7-4.3-1.4M116.1 191.8l3-0.5 2.8-1.2 2.4-1.8 2.1-2.3 1.7-2.9 1.3-3.4 0.8-3.8 0.3-4.2-0.2-4.5-0.7-4.6-1.1-4.8-1.7-4.9-2-4.7-2.5-4.6-2.8-4.4-3.2-4.1-3.4-3.6-3.6-3.2-3.7-2.6-3.7-2.1-3.8-1.4-3.6-0.8-3.5 0M120.6 200l3.8-0.6 3.4-1.4 3.1-2.1 2.6-2.9 2.2-3.5 1.6-4 1.1-4.7 0.5-5-0.1-5.5-0.7-5.7-1.3-5.8-1.8-6-2.4-5.8-2.9-5.8-3.4-5.4-3.7-5.2-4.1-4.6-4.2-3.9-4.3-3.2-4.4-2.5-4.3-1.8-4.3-1.1-4-0.3-3.8 0.4M122.7 200.6l3.6-0.8 3.3-1.5 2.8-2.2 2.5-2.8 2-3.3 1.5-3.9 1-4.3 0.5-4.7 0-5-0.5-5.2-1.1-5.3-1.5-5.4-2-5.3-2.5-5.2-2.8-5-3.1-4.6-3.4-4.3-3.7-3.9-3.8-3.4-3.9-2.8-3.9-2.2-3.9-1.6-3.9-1-3.6-0.3-3.4 0.4M123.2 200.1l3.8-0.2 3.6-0.8 3.2-1.6 2.9-2.2 2.6-2.9 2-3.4 1.6-4.1 1.1-4.5 0.6-5 0-5.3-0.6-5.7-1.1-5.8-1.7-5.9-2.2-6-2.7-5.8-3.2-5.7-3.5-5.4-4-5-4.2-4.6-4.4-4-4.7-3.5-4.7-2.7-4.7-2.1-4.7-1.3-4.5-0.4M131.7 214.4l4.9-0.6 4.6-1.6 4.2-2.5 3.6-3.3 3.1-4.2 2.5-5 1.7-5.9 0.8-6.6 0.1-7.1-0.7-7.5-1.4-7.7-2.1-7.7-2.9-7.8-3.5-7.6-4-7.3-4.6-6.8-5-6.4-5.4-5.7-5.6-5-5.8-4.1-5.9-3.3-5.8-2.3-5.6-1.4-5.5-0.3M132.1 215.1l5.2-0.7 4.8-1.6 4.3-2.7 3.7-3.5 3.1-4.4 2.5-5.3 1.7-5.9 0.9-6.5 0.2-7-0.6-7.4-1.3-7.7-2.1-7.7-2.8-7.7-3.4-7.6-4.1-7.3-4.5-6.9-5-6.3-5.3-5.7-5.6-5-5.8-4.1-5.8-3.3-5.8-2.3-5.7-1.3-5.4-0.3M134.3 214.1l5.1-0.8 4.7-1.7 4.2-2.7 3.6-3.6 3-4.4 2.3-5.2 1.6-5.9 0.9-6.5 0.1-7-0.7-7.3-1.4-7.6-2.1-7.6-2.9-7.6-3.4-7.5-4.1-7.1-4.5-6.7-5-6.2-5.3-5.6-5.6-4.7-5.7-4-5.8-3.1-5.7-2.1-5.6-1.2-5.3-0.1M137.7 213.7l5.1-0.8 4.7-1.9 4.1-2.8 3.6-3.7 2.9-4.6 2.3-5.4 1.5-6.2 0.8-6.7 0-7.2-0.8-7.6-1.6-7.8-2.4-8-3-7.9-3.7-7.7-4.4-7.4-4.8-7-5.4-6.5-5.7-5.7-5.9-5-6.1-4.1-6.2-3.1-6.1-2.2-6-1-5.7 0M144.9 224.5l5.8-1.3 5.3-2.5 4.7-3.6 4.1-4.6 3.2-5.7 2.5-6.5 1.6-7.4 0.7-8-0.3-8.6-1.1-9-2.1-9.3-2.9-9.3-3.8-9.2-4.5-9-5.2-8.7-5.8-8-6.4-7.4-6.7-6.6-7-5.6-7-4.4-7.1-3.2-6.9-2.2-6.7-0.9-6.4 0.3M144 226.5l6-1 5.6-2.1 4.9-3.2 4.3-4.3 3.5-5.2 2.8-6.1 2-6.9 1.1-7.6 0.2-8.1-0.6-8.5-1.5-8.8-2.3-8.9-3.1-9-3.8-8.7-4.5-8.5-5.1-8-5.6-7.4-6-6.8-6.3-6-6.6-5.1-6.6-4.1-6.7-3.1-6.5-2-6.3-0.9-5.9 0.3M145 221.1l5.8-1 5.3-2.1 4.7-3.3 4-4.2 3.3-5.2 2.6-6 1.7-6.8 0.9-7.4 0-8-0.8-8.3-1.6-8.6-2.5-8.6-3.2-8.6-4-8.4-4.6-8.1-5.1-7.5-5.6-7-6-6.2-6.2-5.4-6.4-4.4-6.4-3.5-6.4-2.4-6.2-1.3-5.9-0.2M146.3 215.4l5.4-1.1 4.9-2.2 4.4-3.2 3.7-4.1 3.1-5.1 2.2-5.9 1.5-6.6 0.7-7.2-0.2-7.6-0.9-8-1.9-8.3-2.6-8.4-3.4-8.2-4.1-8-4.6-7.6-5.2-7-5.6-6.4-5.9-5.6-6.1-4.6-6.2-3.8-6.1-2.7-6.1-1.6-5.8-0.5-5.4 0.5M148.7 209.5l5-1.5 4.5-2.5 3.8-3.6 3.2-4.4 2.5-5.3 1.7-6 0.9-6.7 0.1-7.1-0.7-7.6-1.5-7.7-2.3-7.8-2.9-7.8-3.7-7.5-4.2-7.2-4.8-6.7-5.1-6.1-5.5-5.4-5.7-4.5-5.8-3.7-5.8-2.7-5.7-1.7-5.5-0.6-5.1 0.4M147.3 206.7l4.9-0.9 4.4-1.8 3.9-2.7 3.4-3.6 2.7-4.5 2.1-5.1 1.4-5.8 0.7-6.3 0-6.8-0.8-7.1-1.5-7.3-2.2-7.3-2.9-7.3-3.4-7.1-4-6.7-4.4-6.4-4.9-5.8-5.1-5.2-5.4-4.4-5.5-3.6-5.5-2.8-5.4-1.8-5.3-0.9-5 0M150.7 206.1l4.7-1.1 4.3-2.1 3.8-3 3.2-3.8 2.5-4.6 1.9-5.5 1-6.1 0.4-6.6-0.5-6.9-1.1-7.2-1.9-7.3-2.5-7.3-3.1-7.1-3.7-6.8-4.2-6.4-4.6-5.9-4.9-5.3-5.1-4.6-5.2-3.8-5.3-3-5.3-2.1-5.1-1.1-4.9-0.3-4.5 0.7M148.4 197.5l4.1-0.9 3.7-1.8 3.2-2.5 2.8-3.2 2.1-3.9 1.7-4.5 1-5 0.4-5.4-0.2-5.7-0.9-6-1.4-6-1.9-6-2.5-5.9-2.9-5.8-3.4-5.4-3.7-5-4-4.5-4.2-3.9-4.3-3.4-4.4-2.6-4.3-2-4.3-1.2-4.1-0.4-3.8 0.3M150.8 191.9l3.5-1.1 3.2-1.8 2.9-2.5 2.3-3.1 1.8-3.8 1.4-4.2 0.7-4.7 0.3-5.1-0.4-5.4-0.9-5.5-1.5-5.6-2-5.7-2.4-5.5-2.9-5.3-3.3-5-3.6-4.7-3.9-4.2-4-3.6-4.2-3.1-4.3-2.4-4.2-1.7-4.2-1-3.9-0.3M150.3 191.3l3.5-0.7 3.2-1.3 2.9-2 2.5-2.6 2.1-3.1 1.6-3.6 1.1-4 0.6-4.5 0.2-4.7-0.4-5-0.9-5.1-1.4-5.1-1.8-5.2-2.2-5.1-2.6-4.8-2.9-4.7-3.2-4.3-3.5-3.9-3.6-3.5-3.8-2.9-3.8-2.5-3.8-1.8-3.8-1.3-3.6-0.6-3.5 0M150.9 185.8l3.1-0.6 2.9-1.2 2.6-1.7 2.2-2.3 1.9-2.7 1.4-3.2 1-3.6 0.6-3.9 0.1-4.2-0.3-4.4-0.8-4.5-2.8-9.3-4.3-8.9-5.5-8-3.2-3.7-3.6-3.4-3.6-2.9-3.8-2.3-3.7-1.7-3.7-1.1-3.5-0.4-3.3 0.2M152.7 183.4l3.2-0.6 2.9-1.3 2.6-1.9 2.1-2.4 1.8-3 1.3-3.4 0.8-3.8 0.4-4.2-0.2-4.5-0.7-4.6-1.1-4.7-1.6-4.8-2-4.7-2.4-4.5-2.7-4.4-3.1-4-3.2-3.6-3.5-3.2-3.6-2.7-3.6-2.2-3.7-1.6-3.5-1-3.4-0.4M153.1 181.4l3.1-0.5 2.8-1 2.5-1.6 2.2-2.1 1.8-2.5 1.3-3.1 1-3.4 0.5-3.7 0-4.1-0.4-4.2-2.1-8.7-3.7-8.7-5-7.9-6-6.8-3.2-2.8-3.4-2.3-3.3-1.9-3.3-1.3-3.3-0.8-3.1-0.2M153.8 178.4l2.9-0.3 2.7-0.9 2.4-1.3 2.1-1.9 1.7-2.3 1.4-2.7 0.9-3.1 0.6-3.5 0.1-3.7-1-7.9-2.5-7.8-3.8-7.7-4.9-6.8-5.6-5.7-6-4.2-3-1.5-3-0.9-2.9-0.5-2.7 0M156.8 175.3l2.5-0.6 2.3-1 2-1.5 1.7-1.9 1.4-2.3 1.1-2.6 0.7-3 0.3-6.6-1.2-7.2-2.6-7.4-3.8-7-4.8-6.2-5.4-5.1-5.7-3.6-2.8-1.2-2.8-0.7-2.7-0.2M158.5 172.8l2.4-0.6 2.2-1 1.9-1.5 1.7-1.9 1.2-2.3 1-2.7 0.6-2.9 0-6.5-1.5-7.1-2.8-7.2-4-6.7-5-5.8-5.4-4.6-5.7-3-2.7-0.8-2.7-0.4M157.7 171.5l2.6-0.1 2.4-0.6 2.2-1 2-1.5 1.6-2 1.3-2.3 0.9-2.7 0.5-3-0.2-6.7-1.7-7.3-3.1-7.2-4.3-6.8-5.3-5.7-5.7-4.4-2.9-1.5-2.9-1.1-2.8-0.6-2.7-0.1M160.7 172.8l2.7-0.2 2.6-0.6 2.3-1.2 2-1.6 1.6-2.1 1.3-2.5 1-2.9 0.5-3.2 0.1-3.4-1-7.5-2.5-7.7-4-7.5-5-6.8-5.9-5.5-6.2-3.9-3.1-1.2-2.9-0.8-2.8-0.2M164.6 174.3l2.8-0.4 2.5-0.9 2.2-1.4 1.9-1.8 1.7-2.2 1.2-2.6 0.9-3 0.5-3.3-0.2-7.2-1.8-7.8-3.2-7.8-4.5-7.4-5.4-6.5-6.1-5.2-6.3-3.6-3.2-1.1-3-0.5-2.9-0.1M165.7 175.6l3-0.2 2.9-0.8 2.5-1.2 2.3-1.8 1.8-2.3 1.5-2.7 1.1-3.2 0.6-3.4 0.2-3.8-0.2-4-0.7-4.2-2.7-8.5-4.2-8.4-5.4-7.5-6.4-6.3-3.3-2.5-3.5-2.1-3.4-1.5-3.3-1-3.2-0.4M168 175.6l3.1-0.3 2.9-0.8 2.6-1.4 2.3-1.9 1.9-2.5 1.5-2.9 1-3.3 0.6-3.7 0-3.9-0.3-4.2-0.9-4.4-2.9-8.7-4.3-8.4-5.5-7.7-6.5-6.4-3.5-2.6-3.5-2.1-3.6-1.6-3.5-1.1-3.3-0.5M171.1 180.6l3.8 0 3.5-0.7 3.2-1.3 2.8-2 2.4-2.6 2-3.2 1.5-3.7 0.9-4.2 0.4-4.6-0.2-4.9-0.7-5.2-1.3-5.3-1.9-5.4-2.3-5.4-2.8-5.3-3.2-5-3.6-4.8-4-4.4-4.2-3.9-4.3-3.3-4.5-2.8-4.4-2.1-4.5-1.5-4.3-0.6M176.7 186.7l4.2-0.5 4-1.2 3.5-2 3-2.7 2.5-3.5 1.9-4.1 1.3-4.6 0.7-5.1 0-5.6-0.6-5.8-1.3-6-1.9-6.1-2.4-6.2-3-5.9-3.6-5.8-3.9-5.4-4.3-5-4.6-4.5-4.8-3.9-4.9-3.3-4.9-2.5-4.9-1.7-4.8-0.9-4.5-0.1M178.5 188.6l4.6-0.3 4.3-1.2 3.8-2 3.3-2.8 2.8-3.5 2-4.5 1.2-5.1 0.5-5.7-0.2-6-0.9-6.3-1.6-6.4-2.3-6.5-2.8-6.3-3.4-6-3.9-5.8-4.2-5.3-4.6-4.7-4.8-4.1-4.8-3.4-4.9-2.7-4.8-1.9-4.7-1-4.4-0.2M177.8 176.8l3.4-0.9 3.1-1.5 2.6-2.1 2.1-2.8 1.6-3.2 1.2-3.6 0.8-4 0.3-4.3-0.3-4.6-0.8-4.8-1.4-4.9-1.8-4.9-2.3-4.8-2.8-4.7-3.1-4.4-3.4-4-3.6-3.6-3.8-3.1-3.9-2.6-4-1.9-3.8-1.3-3.8-0.7-3.5 0M179.2 176.3l3.4-0.4 3.1-1 2.9-1.6 2.4-2.2 2-2.7 1.6-3.3 1-3.7 0.6-4.1 0.1-4.4-0.5-4.6-0.9-4.8-1.4-4.8-1.9-4.9-2.4-4.8-2.7-4.6-3-4.4-3.4-4-3.6-3.7-3.7-3.2-3.9-2.7-3.9-2.2-3.9-1.6-3.7-0.9-3.7-0.4M183.4 177.7l3.5-0.7 3.1-1.3 2.8-2 2.4-2.6 1.9-3.1 1.5-3.6 0.9-4.1 0.3-4.4-0.1-4.7-0.7-5-1.2-5.1-1.8-5.1-2.1-5.1-2.7-4.9-3-4.8-6.9-8.6-3.8-3.8-4-3.4-4.1-2.8-4.2-2.2-4.1-1.6-4.1-1-3.9-0.2M185.2 184.7l4.4 0 4-0.8 3.7-1.6 3.3-2.3 2.9-2.9 2.3-3.7 1.8-4.2 1.2-4.8 0.5-5.2 0-5.7-0.7-5.9-1.3-6.1-2-6.3-2.5-6.3-3-6.1-3.6-6-3.9-5.7-4.4-5.3-4.7-4.9-5-4.3-5-3.6-5.1-2.7-5-2-4.9-1.3-4.7-0.4M190.3 188.3l4.3-0.7 4-1.4 3.5-2 3.1-2.8 2.6-3.4 2-4 1.5-4.5 0.9-5 0.3-5.4-0.3-5.7-0.9-5.8-1.5-6.1-2-6-2.5-6-3-5.9-3.4-5.6-3.8-5.4-4.1-4.9-4.4-4.5-4.6-4-4.7-3.4-4.8-2.8-4.7-2.2-4.6-1.4-4.5-0.8-4.3 0M190.9 185.4l4.1-0.4 3.7-1 3.5-1.7 3-2.4 2.6-2.9 2.1-3.6 1.6-4 1.1-4.4 0.5-4.9 0.1-5.1-0.6-5.4-1-5.6-1.6-5.7-2-5.6-2.5-5.7-2.9-5.4-3.3-5.3-3.7-5-3.9-4.6-4.2-4.2-4.4-3.7-4.4-3.2-4.6-2.7-4.5-2-4.4-1.4-4.4-0.7-4.1-0.1M193.2 184.1l4.1-0.5 3.8-1.3 3.4-2.1 3-2.7 2.4-3.4 1.9-4 1.4-4.4 0.7-5 0.2-5.3-0.5-5.5-1-5.8-1.6-5.8-2.2-5.9-2.6-5.8-3.1-5.6-3.5-5.4-3.9-5-4.2-4.5-4.4-4.1-4.5-3.5-4.6-2.8-4.6-2.2-4.5-1.5-4.4-0.8-4.1 0M191.6 177.3l3.8-0.4 3.5-1.1 3.1-1.7 2.8-2.4 2.2-2.9 1.7-3.5 1.2-4 0.7-4.4 0.1-4.8-0.4-4.9-1-5.2-1.5-5.2-2-5.2-2.4-5.1-2.9-4.9-3.2-4.7-3.5-4.3-3.7-3.9-4-3.4-4-2.8-4.2-2.4-4.1-1.8-4.1-1.1-3.9-0.4M192.5 173.7l3.8-0.3 3.5-1 3.1-1.7 2.6-2.4 2.2-2.9 1.7-3.6 1.1-4.1 0.5-4.4 0-4.9-0.6-5.1-1.2-5.2-1.8-5.3-2.2-5.2-2.8-5.1-3.1-4.9-3.5-4.5-3.8-4.2-4-3.6-4.2-3.1-4.2-2.3-4.1-1.7-4.1-0.9-3.8-0.3M194.4 169.5l3.2-0.6 2.9-1.2 2.6-1.9 2.1-2.4 1.7-2.8 1.2-3.4 0.8-3.7 0.2-4.1-0.4-4.4-0.9-4.5-1.4-4.5-1.8-4.5-2.1-4.3-5.4-7.9-3-3.5-3.2-3.1-3.3-2.6-3.3-2.1-3.3-1.6-3.2-1-3.1-0.4-2.9 0.1M192.3 157.1l2.1-0.6 1.8-1.1 1.6-1.5 1.2-1.8 1.5-4.5 0.2-5.4-1.1-5.7-2.3-5.7-3.2-5.2-3.9-4.3-4-3.2-4.1-2.2-3.8-0.7M190.9 151.1l3.4-0.6 2.6-1.9 1.8-3 0.8-3.9-0.3-4.5-1.3-4.7-2.2-4.7-2.9-4.2-3.4-3.5-3.6-2.5-3.7-1.3-1.7-0.2M194 149.8l3-1 2.3-2.3 1.4-3.2 0.4-4.1-0.6-4.6-1.6-4.7-2.5-4.5-3.1-4-3.5-3.2-3.8-2.2-3.6-0.9-1.7 0M195.4 150.9l3.3-0.9 2.6-2 1.7-3.1 0.7-4-0.2-4.4-1.3-4.8-2.1-4.6-2.8-4.3-3.3-3.5-3.6-2.7-3.6-1.6-3.3-0.4M195.8 148l2.9-0.5 2.3-1.6 1.6-2.4 0.8-3.1-0.2-5.6-2-5.8-3.3-5.3-4.2-4-4.3-2.2-2.7-0.3M197.5 144.1l2.2-0.6 1.7-1.5 1.2-2.1 0.6-4.1-0.9-4.7-2.1-4.6-3.1-4-3.6-2.7-3.5-1.1-1.1 0M199.2 141.9l2.7-1.3 1.6-2.7 0.3-3.7-0.9-4.1-2-4-2.8-3.2-3-2.1-2.9-0.7M199.8 138.9l2.2-1 1.4-2 0.3-2.9-1-4.3-2.5-3.9-3.1-2.4-2.2-0.5M201 136l1.7-0.7 1-1.6 0.2-3-1.1-3.3-2-2.7-2.4-1.5-1.1-0.1M202.3 134.3l1.5-0.4 1.1-1.2 0.4-2.6-0.9-3.1-1.8-2.6-2.3-1.6-1.1-0.2M204.5 134.3l1.7-0.5 1.1-1.5 0.3-2.8-1-3.3-2.1-2.8-2.4-1.5-1.1-0.2M206.2 133.6l1.6-0.5 1.1-1.3 0.4-2.7-0.8-3.2-2.4-3.3-2.4-1.3-0.5-0.1M208.4 133l1.6-0.6 0.9-1.5 0.2-2.8-1-3.1-2-2.6-2.3-1.4-1-0.1M210.1 132l1.5-0.7 1-1.8-0.1-3.2-1.6-3.3-2.4-2.2-1.5-0.4M211.7 130.9l1.6-0.7 0.9-1.7-0.2-2.9-1.5-2.7-2-1.6-1.2-0.2M213 128.4l1.2-0.9 0.2-2.2-1.2-2.1-1.2-0.4M214.1 125.6l1-0.6-0.1-1.7-1-0.9M216.7 126.7l1.2-0.6 0.6-1.5-0.7-2.5-1.7-1.8-0.6-0.2M219.1 127.9l1.6-0.6 0.8-1.6-0.2-2.8-1.5-2.8-2.1-1.5-0.9-0.2M221.4 127.3l1.5-0.9 0.6-1.9-0.7-3.1-1.9-2.5-1.8-0.9-0.4 0M223 126.6l1.5-0.8 0.7-1.8-0.6-2.8-1.6-2.5-2.1-1.1-0.3 0M224.8 125.8l1.4-0.8 0.7-2.1-0.7-2.7-1.7-2.1-1.8-0.8M226.3 124.9l1.4-0.6 0.7-1.9-0.5-2.5-1.9-2.4-1.4-0.5M228.4 124.1l1.5-0.9 0.4-2-1-2.9-2-1.9-0.7-0.2M230.5 124l1.4-0.6 0.7-1.6-0.3-2.7-1.5-2.6-2.1-1.3-0.4-0.1M232.5 123.8l1.5-0.8 0.8-1.8-0.6-3-1.7-2.7-2.3-1.2-0.4 0M234.3 123.4l1.6-0.7 0.8-1.9-0.5-3.1-1.8-2.7-2.2-1.2-0.4-0.1M235.9 122.5l1.5-0.6 0.8-1.7-0.3-2.7-1.5-2.5-2-1.2-0.3-0.1M237.8 121.2l1.2-0.7 0.6-1.9-0.8-2.7-1.8-1.8-0.9-0.3M239.6 120.2l1.4-0.8 0.4-1.8-0.9-2.6-1.8-1.7-0.6-0.2M241.5 119.9l1.3-0.5 0.6-1.8-0.6-2.7-1.7-1.9-1.1-0.3M243.4 118.7l1.1-0.8 0.3-2-1.1-2.4-0.2-0.2" fill="none" stroke="#ff0000" stroke-width="0.75" stroke-linejoin="round"/>
<g><line x1="38.80" y1="199.50" x2="35.71" y2="197.86" stroke="#262626" stroke-width="0.75"/><line x1="38.80" y1="184.95" x2="35.71" y2="183.31" stroke="#262626" stroke-width="0.75"/><line x1="38.80" y1="170.40" x2="35.71" y2="168.76" stroke="#262626" stroke-width="0.75"/><line x1="38.80" y1="155.85" x2="35.71" y2="154.21" stroke="#262626" stroke-width="0.75"/><line x1="38.80" y1="141.30" x2="35.71" y2="139.66" stroke="#262626" stroke-width="0.75"/><line x1="38.80" y1="126.75" x2="35.71" y2="125.11" stroke="#262626" stroke-width="0.75"/><line x1="38.80" y1="112.20" x2="35.71" y2="110.56" stroke="#262626" stroke-width="0.75"/><line x1="38.80" y1="97.65" x2="35.71" y2="96.01" stroke="#262626" stroke-width="0.75"/><line x1="38.80" y1="83.10" x2="35.71" y2="81.46" stroke="#262626" stroke-width="0.75"/><line x1="38.80" y1="68.55" x2="35.71" y2="66.91" stroke="#262626" stroke-width="0.75"/><line x1="38.80" y1="54.00" x2="35.71" y2="52.36" stroke="#262626" stroke-width="0.75"/><line x1="38.80" y1="199.50" x2="35.46" y2="200.54" stroke="#262626" stroke-width="0.75"/><line x1="69.92" y1="216.03" x2="66.58" y2="217.07" stroke="#262626" stroke-width="0.75"/><line x1="101.05" y1="232.55" x2="97.71" y2="233.59" stroke="#262626" stroke-width="0.75"/><line x1="132.18" y1="249.07" x2="128.83" y2="250.12" stroke="#262626" stroke-width="0.75"/><line x1="163.30" y1="265.60" x2="159.96" y2="266.64" stroke="#262626" stroke-width="0.75"/><line x1="163.30" y1="265.60" x2="166.39" y2="267.24" stroke="#262626" stroke-width="0.75"/><line x1="190.33" y1="257.15" x2="193.42" y2="258.79" stroke="#262626" stroke-width="0.75"/><line x1="217.37" y1="248.70" x2="220.46" y2="250.34" stroke="#262626" stroke-width="0.75"/><line x1="244.40" y1="240.25" x2="247.49" y2="241.89" stroke="#262626" stroke-width="0.75"/><line x1="271.43" y1="231.80" x2="274.52" y2="233.44" stroke="#262626" stroke-width="0.75"/><line x1="298.47" y1="223.35" x2="301.56" y2="224.99" stroke="#262626" stroke-width="0.75"/><line x1="325.50" y1="214.90" x2="328.59" y2="216.54" stroke="#262626" stroke-width="0.75"/></g>
<g fill="#262626" stroke="#262626" stroke-width="0.22"><text transform="translate(32.20,199.54) scale(1,1.16)" font-size="7.9" text-anchor="end">-0.05</text><text transform="translate(32.20,184.99) scale(1,1.16)" font-size="7.9" text-anchor="end">-0.04</text><text transform="translate(32.20,170.44) scale(1,1.16)" font-size="7.9" text-anchor="end">-0.03</text><text transform="translate(32.20,155.89) scale(1,1.16)" font-size="7.9" text-anchor="end">-0.02</text><text transform="translate(32.20,141.34) scale(1,1.16)" font-size="7.9" text-anchor="end">-0.01</text><text transform="translate(32.20,126.79) scale(1,1.16)" font-size="7.9" text-anchor="end">0</text><text transform="translate(32.20,112.24) scale(1,1.16)" font-size="7.9" text-anchor="end">0.01</text><text transform="translate(32.20,97.69) scale(1,1.16)" font-size="7.9" text-anchor="end">0.02</text><text transform="translate(32.20,83.14) scale(1,1.16)" font-size="7.9" text-anchor="end">0.03</text><text transform="translate(32.20,68.59) scale(1,1.16)" font-size="7.9" text-anchor="end">0.04</text><text transform="translate(32.20,54.04) scale(1,1.16)" font-size="7.9" text-anchor="end">0.05</text><text transform="translate(32.20,210.24) scale(1,1.16)" font-size="7.9" text-anchor="end">4</text><text transform="translate(63.32,226.77) scale(1,1.16)" font-size="7.9" text-anchor="end">2</text><text transform="translate(94.45,243.29) scale(1,1.16)" font-size="7.9" text-anchor="end">0</text><text transform="translate(125.58,259.82) scale(1,1.16)" font-size="7.9" text-anchor="end">-2</text><text transform="translate(156.70,276.34) scale(1,1.16)" font-size="7.9" text-anchor="end">-4</text><text transform="translate(169.90,277.24) scale(1,1.16)" font-size="7.9" text-anchor="start">0</text><text transform="translate(196.93,268.79) scale(1,1.16)" font-size="7.9" text-anchor="start">10</text><text transform="translate(223.97,260.34) scale(1,1.16)" font-size="7.9" text-anchor="start">20</text><text transform="translate(251.00,251.89) scale(1,1.16)" font-size="7.9" text-anchor="start">30</text><text transform="translate(278.03,243.44) scale(1,1.16)" font-size="7.9" text-anchor="start">40</text><text transform="translate(305.07,234.99) scale(1,1.16)" font-size="7.9" text-anchor="start">50</text><text transform="translate(332.10,226.54) scale(1,1.16)" font-size="7.9" text-anchor="start">60</text></g>
<g fill="#262626" stroke="#262626" stroke-width="0.25"><text x="0" y="0" font-size="9.80" text-anchor="middle" transform="translate(11.00,128.20) rotate(-90) scale(1,1.16)">Velocity (m/s)</text><text transform="translate(72.30,262.30) scale(1,1.16)" font-size="9.8" text-anchor="middle">Displacement (m)</text><text transform="translate(255.90,271.00) scale(1,1.16)" font-size="9.8" text-anchor="middle">Time (s)</text><text transform="translate(28.70,241.20) scale(1,1.0)" font-size="7.6" text-anchor="start" fill="#555">×</text><text transform="translate(34.60,241.00) scale(1,1.16)" font-size="7.5" text-anchor="start">10</text><text transform="translate(43.20,236.90) scale(1,1.16)" font-size="6.5" text-anchor="start">-3</text></g>
<g fill="#000"><rect x="237.20" y="70.50" width="75.80" height="24.50" fill="#fff" stroke="#262626" stroke-width="0.6"/><line x1="239.80" y1="77.61" x2="257.80" y2="77.61" stroke="#0000ff" stroke-width="0.6"/><line x1="239.80" y1="89.12" x2="257.80" y2="89.12" stroke="#ff0000" stroke-width="0.6"/><text transform="translate(259.60,80.91) scale(1,1.0)" font-size="9.0" text-anchor="start">CryStAl</text><text transform="translate(259.60,92.72) scale(1,1.0)" font-size="9.0" text-anchor="start">Uncontrolled</text></g>
<text x="3.2" y="13.7" font-size="14" fill="#000">(<tspan font-weight="bold">a</tspan>) El Centro</text>
<g><line x1="379.60" y1="201.40" x2="379.60" y2="56.50" stroke="#dcdcdc" stroke-width="0.6"/><line x1="379.60" y1="201.40" x2="503.90" y2="267.20" stroke="#dcdcdc" stroke-width="0.6"/><line x1="412.14" y1="191.24" x2="412.14" y2="46.34" stroke="#dcdcdc" stroke-width="0.6"/><line x1="412.14" y1="191.24" x2="536.44" y2="257.04" stroke="#dcdcdc" stroke-width="0.6"/><line x1="444.68" y1="181.08" x2="444.68" y2="36.18" stroke="#dcdcdc" stroke-width="0.6"/><line x1="444.68" y1="181.08" x2="568.98" y2="246.88" stroke="#dcdcdc" stroke-width="0.6"/><line x1="477.22" y1="170.92" x2="477.22" y2="26.02" stroke="#dcdcdc" stroke-width="0.6"/><line x1="477.22" y1="170.92" x2="601.52" y2="236.72" stroke="#dcdcdc" stroke-width="0.6"/><line x1="509.76" y1="160.76" x2="509.76" y2="15.86" stroke="#dcdcdc" stroke-width="0.6"/><line x1="509.76" y1="160.76" x2="634.06" y2="226.56" stroke="#dcdcdc" stroke-width="0.6"/><line x1="542.30" y1="150.60" x2="542.30" y2="5.70" stroke="#dcdcdc" stroke-width="0.6"/><line x1="542.30" y1="150.60" x2="666.60" y2="216.40" stroke="#dcdcdc" stroke-width="0.6"/><line x1="379.60" y1="201.40" x2="542.30" y2="150.60" stroke="#dcdcdc" stroke-width="0.6"/><line x1="542.30" y1="150.60" x2="666.60" y2="216.40" stroke="#dcdcdc" stroke-width="0.6"/><line x1="379.60" y1="177.25" x2="542.30" y2="126.45" stroke="#dcdcdc" stroke-width="0.6"/><line x1="542.30" y1="126.45" x2="666.60" y2="192.25" stroke="#dcdcdc" stroke-width="0.6"/><line x1="379.60" y1="153.10" x2="542.30" y2="102.30" stroke="#dcdcdc" stroke-width="0.6"/><line x1="542.30" y1="102.30" x2="666.60" y2="168.10" stroke="#dcdcdc" stroke-width="0.6"/><line x1="379.60" y1="128.95" x2="542.30" y2="78.15" stroke="#dcdcdc" stroke-width="0.6"/><line x1="542.30" y1="78.15" x2="666.60" y2="143.95" stroke="#dcdcdc" stroke-width="0.6"/><line x1="379.60" y1="104.80" x2="542.30" y2="54.00" stroke="#dcdcdc" stroke-width="0.6"/><line x1="542.30" y1="54.00" x2="666.60" y2="119.80" stroke="#dcdcdc" stroke-width="0.6"/><line x1="379.60" y1="80.65" x2="542.30" y2="29.85" stroke="#dcdcdc" stroke-width="0.6"/><line x1="542.30" y1="29.85" x2="666.60" y2="95.65" stroke="#dcdcdc" stroke-width="0.6"/><line x1="379.60" y1="56.50" x2="542.30" y2="5.70" stroke="#dcdcdc" stroke-width="0.6"/><line x1="542.30" y1="5.70" x2="666.60" y2="71.50" stroke="#dcdcdc" stroke-width="0.6"/><line x1="542.30" y1="150.60" x2="542.30" y2="5.70" stroke="#dcdcdc" stroke-width="0.6"/><line x1="379.60" y1="201.40" x2="542.30" y2="150.60" stroke="#dcdcdc" stroke-width="0.6"/><line x1="573.38" y1="167.05" x2="573.38" y2="22.15" stroke="#dcdcdc" stroke-width="0.6"/><line x1="410.68" y1="217.85" x2="573.38" y2="167.05" stroke="#dcdcdc" stroke-width="0.6"/><line x1="604.45" y1="183.50" x2="604.45" y2="38.60" stroke="#dcdcdc" stroke-width="0.6"/><line x1="441.75" y1="234.30" x2="604.45" y2="183.50" stroke="#dcdcdc" stroke-width="0.6"/><line x1="635.52" y1="199.95" x2="635.52" y2="55.05" stroke="#dcdcdc" stroke-width="0.6"/><line x1="472.83" y1="250.75" x2="635.52" y2="199.95" stroke="#dcdcdc" stroke-width="0.6"/><line x1="666.60" y1="216.40" x2="666.60" y2="71.50" stroke="#dcdcdc" stroke-width="0.6"/><line x1="503.90" y1="267.20" x2="666.60" y2="216.40" stroke="#dcdcdc" stroke-width="0.6"/></g>
<g><line x1="379.60" y1="56.50" x2="542.30" y2="5.70" stroke="#262626" stroke-width="0.75"/><line x1="542.30" y1="5.70" x2="666.60" y2="71.50" stroke="#262626" stroke-width="0.75"/><line x1="666.60" y1="71.50" x2="666.60" y2="216.40" stroke="#262626" stroke-width="0.75"/><line x1="379.60" y1="201.40" x2="542.30" y2="150.60" stroke="#262626" stroke-width="0.75"/><line x1="542.30" y1="150.60" x2="666.60" y2="216.40" stroke="#262626" stroke-width="0.75"/><line x1="379.60" y1="201.40" x2="503.90" y2="267.20" stroke="#262626" stroke-width="0.75"/><line x1="503.90" y1="267.20" x2="666.60" y2="216.40" stroke="#262626" stroke-width="0.75"/><line x1="542.30" y1="5.70" x2="542.30" y2="150.60" stroke="#262626" stroke-width="0.75"/><line x1="379.60" y1="56.50" x2="379.60" y2="201.40" stroke="#262626" stroke-width="0.75"/></g>
<path d="M441.3 160.4l-0.4 0.4 0.9 1.6 1.6 0.7M443.4 159.8l-0.3 0.8 1.4 1.6 1.1 0.3M445.2 158.6l-0.6 0.5 0.4 1.8 1.9 1.7 0.9 0.3M446.8 156.8l-1 0.7 0.2 2.2 1.8 2.3 2 1 0.4 0M448.7 155.7l-1 0.4-0.4 1.8 1.3 2.8 2.4 2 1.3 0.3M450.4 154.1l-1.3 0.5-0.6 1.5 0.7 2.8 2 2.9 2.8 1.6 1.1 0.2M452 152.3l-1.4 0.5-0.8 1.5 0.2 2.8 1.6 3.2 2.6 2.5 2.2 0.8 0.6 0M453.8 151.3l-1.6 0.6-0.8 1.5 0.3 3.1 1.7 3.3 2.6 2.3 2.1 0.8 0.7 0.1M455.8 151.5l-1.2 0.7-0.6 2 0.8 2.8 1.7 2.6 2.4 1.7 1.8 0.3M458 151.1l-1.3 0.4-0.8 1.7 0.3 2.6 1.5 2.8 2.4 2.3 2.7 0.8M459.1 149.1l-1.5 0.6-0.9 1.6 0 2.5 1.6 3.8 2.9 3 2.4 1.1 1.5 0.2M461.2 148.9l-1.5 0.8-0.6 1.7 0.4 3.1 1.9 3.2 2.7 2.3 2.1 0.5 0.6 0M463.2 148.1l-1.6 0.4-1 1.4-0.3 2.2 1.2 3.7 2.6 3.5 2.5 1.8 2.6 0.7M464.5 146.1l-1.8 0.7-1 1.9-0.1 2.7 1.1 3.2 1.9 3 2.6 2.3 2.7 1.2 0.8 0.1M466.4 145.8l-1.8 0.9-0.8 2 0.2 2.9 1.9 3.9 3 3 2.4 1 1.5 0M468.9 146.8l-1.2 0.6-0.7 2 0.5 2.8 2.1 3.3 2.4 1.8 2.3 0.4M471.4 147l-1.3 0.7-0.4 1.7 0.9 3.1 2.2 2.7 2.7 1.2 0.4 0M473.7 147l-1 0.6-0.3 2 1.3 3 2 1.9 2.2 0.5M476.3 147.1l-1.1 0.5-0.2 1.8 1.3 2.6 2.4 1.9 1.2 0.2M478.2 146.1l-1 0.5-0.3 1.8 1.2 2.9 2 1.9 2.2 0.5M480.2 145.2l-1.1 0.5-0.3 2 1 2.6 2.3 2.4 2.3 0.7M482.1 143.9l-1.6 0.6-0.7 1.7 0.7 3.3 2.3 3.6 2.9 2.2 2.3 0.6M482.1 137.6l-2.6 0.6-1.3 1.3-1 3.3 0.5 4.2 1.9 4.7 3.1 4.3 4 3.4 4.3 1.6 1.3 0.1M481.5 130.8l-2.8 0.7-2.1 1.8-1.5 2.7-0.5 3.6 0.3 4.2 1.3 4.5 3.5 6.6 3.2 4 3.7 3.2 3.8 2.2 3.9 1.2 1.8 0M482.5 126.6l-3.5 0.8-2.7 2.1-1.8 3.4-0.7 4.4 0.5 5.1 1.6 5.5 2.6 5.4 3.6 5.1 4.1 4.2 4.6 3.2 4.6 2 4.4 0.7M482.6 120l-2.3 0.1-2.2 0.6-2 1-1.8 1.5-1.5 1.9-1.1 2.2-0.8 2.7-0.6 6.1 1 6.9 2.5 7.4 3.9 7.2 5 6.7 5.8 5.5 6.4 4 3.2 1.4 3.1 0.8 3.1 0.3M480.4 111.5l-3.1 0.6-2.8 1.3-2.4 1.9-1.9 2.5-1.6 3-1.1 3.4-0.5 3.9-0.1 4.2 0.5 4.4 0.9 4.6 1.5 4.6 1.9 4.7 2.3 4.6 2.7 4.4 3.1 4.1 3.3 3.8 3.5 3.4 3.8 3 3.8 2.4 3.8 1.9 3.8 1.3 3.6 0.6 3.5 0M483.8 108.8l-3.3 0.3-3.1 0.9-2.7 1.5-2.4 2.1-1.9 2.6-1.5 3.1-1 3.6-0.6 4 0 4.3 0.5 4.6 1 4.7 1.5 4.8 1.9 4.8 5 9 5.8 7.7 6.7 6.5 3.5 2.7 3.7 2.2 3.6 1.8 3.6 1.3 3.5 0.7 3.4 0.2M482.4 103.5l-3.2 0.4-3 1.1-2.7 1.5-2.4 2.1-2 2.5-1.7 3.1-1.2 3.4-0.8 3.8-0.4 4.1 0.1 4.4 0.5 4.7 2.4 9.6 4.1 9.8 5.5 9.3 6.8 8.5 3.7 3.7 3.9 3.4 4 2.9 4.1 2.5 4.1 1.9 4.1 1.4 3.9 0.8 3.9 0.3M480 92.2l-4.4 0.6-4 1.5-3.7 2.2-3.1 3-2.7 3.8-2 4.5-1.4 5-0.8 5.6-0.1 6.1 0.6 6.4 1.3 6.8 2 6.9 2.7 6.9 3.3 6.9 3.8 6.7 4.4 6.5 4.8 6 5.3 5.6 5.5 5 5.8 4.3 5.9 3.5 5.9 2.8 5.9 1.8 5.8 0.9M477.8 77.7l-5.6 1-5 2-4.6 3-3.8 4-3.2 4.8-2.4 5.6-1.6 6.4-0.8 7 0.1 7.5 0.9 7.9 1.7 8.2 2.6 8.3 3.3 8.3 4.1 8.1 4.7 7.9 5.3 7.5 5.8 6.9 6.2 6.4 6.5 5.5 6.7 4.7 6.8 3.8 6.7 2.8 6.6 1.8 6.4 0.6M483.5 76.9l-6.1 0.4-5.6 1.5-5 2.6-4.4 3.7-3.7 4.7-2.8 5.6-1.9 6.4-1.1 7.2-0.1 7.8 0.8 8.2 1.8 8.5 2.7 8.7 3.5 8.6 4.3 8.5 5 8.1 5.6 7.7 6.3 7.2 6.8 6.6 7.2 5.5 7.3 4.5 7.2 3.4 7.2 2.1 6.8 0.8 6.4-0.4M483.2 81.8l-5.6 1.3-4.9 2.5-4.3 3.6-3.5 4.7-2.6 5.6-1.8 6.4-0.7 7.1 0.1 7.7 1.2 8.1 2 8.2 2.9 8.4 3.8 8.2 4.4 7.9 5.2 7.6 5.6 6.9 6.1 6.3 6.4 5.3 6.6 4.5 6.6 3.4 6.6 2.3 6.3 1.2 6 0.1M489.6 86.4l-5.3 0.5-4.7 1.5-4.3 2.4-3.7 3.4-3 4.2-2.3 5-1.5 5.7-0.8 6.3 0.1 6.8 0.8 7.1 1.6 7.4 2.4 7.5 3.1 7.5 3.8 7.3 4.3 7.1 4.9 6.6 5.4 6.1 5.6 5.5 5.9 4.7 6.1 3.9 6.1 3 6 2.1 5.8 1 5.5 0.1M491.5 85.8l-5.4 0.4-5 1.4-4.4 2.4-3.8 3.4-3.2 4.2-2.5 5.1-1.6 5.8-0.9 6.4 0 7 0.7 7.3 1.6 7.6 2.4 7.8 3.1 7.7 3.9 7.6 4.4 7.3 5 6.9 5.6 6.5 5.9 5.9 6.2 5 6.4 4.2 6.4 3.3 6.3 2.2 6.2 1.2 5.8 0.1M491.9 84.1l-5.5 0.5-5.1 1.6-4.6 2.7-3.9 3.6-3.2 4.5-2.4 5.3-1.7 6.1-0.8 6.7 0 7.2 0.9 7.6 1.7 7.8 2.5 8 3.2 7.9 4 7.8 4.5 7.4 5.1 7.1 5.6 6.5 6 5.9 6.2 5.1 6.3 4.2 6.5 3.4 6.3 2.3 6.2 1.4 5.9 0.3M494.3 82.3l-5.6 0.2-5.2 1.2-4.8 2.3-4.1 3.1-3.6 4.1-2.8 4.9-2.2 5.6-1.3 6.4-0.5 6.9 0.3 7.3 1 7.7 1.9 8 2.6 8 3.4 8 4 7.9 4.7 7.5 5.2 7.2 5.6 6.6 6 6.1 6.3 5.3 6.5 4.5 6.6 3.6 6.5 2.7 6.4 1.8 6.2 0.7 5.8-0.3M497.5 79.9l-5.7 0.1-5.3 1.1-4.9 2-4.3 3-3.7 3.8-3 4.6-2.4 5.5-1.6 6.5-0.7 7 0.1 7.6 1 7.9 1.8 8.1 2.6 8.2 3.4 8.2 4.1 8 4.7 7.6 5.2 7.3 5.7 6.6 6 6 6.3 5.2 6.5 4.1 6.4 3.2 6.3 2.2 6.1 1.2 5.8 0.2 5.3-0.8M502.3 93.3l-4.6 0.5-4.2 1.4-3.6 2.3-3.1 3-2.6 3.7-1.9 4.4-1.2 4.9-0.6 5.4 0.1 5.7 0.8 6 1.4 6.2 2.1 6.2 2.6 6.1 3.1 6 3.6 5.6 4 5.4 4.4 4.8 4.5 4.3 4.8 3.8 4.8 3 4.8 2.3 4.8 1.6 4.5 0.8 4.4 0 4-0.7M508.2 100.5l-3.5 0.1-3.3 0.8-2.9 1.4-2.6 1.9-2.2 2.5-1.8 3-1.3 3.4-0.8 3.9-0.4 4.1 0.1 4.5 0.7 4.6 1.1 4.7 1.5 4.8 2 4.8 5.1 9.2 6.3 8.3 3.5 3.6 3.7 3.2 3.8 2.8 3.9 2.2 3.8 1.7 3.8 1.1 3.7 0.6 3.4 0M511 102l-3.2 0.2-2.9 0.6-2.7 1.3-2.3 1.8-2 2.3-1.6 2.8-1.2 3.2-0.7 3.6-0.3 3.9 0.2 4.2 0.6 4.4 1.1 4.5 3.6 9.1 5 8.7 6.3 7.9 3.5 3.4 3.7 3 3.7 2.5 3.8 2 3.8 1.5 3.7 0.9 3.6 0.4M512.3 97.1l-3.5 0.2-3.1 0.9-2.9 1.4-2.5 2-2.1 2.6-1.7 3-1.2 3.5-0.7 3.9-0.3 4.3 0.3 4.5 0.7 4.8 1.3 4.9 1.9 4.9 2.3 4.9 2.7 4.6 3 4.5 3.3 4.1 3.5 3.8 3.7 3.3 3.8 2.8 3.9 2.3 3.8 1.8 3.8 1.2 3.6 0.6 3.4-0.1M515 103.6l-2.6 0.7-2.3 1.2-2 1.7-1.7 2.1-1.3 2.5-0.9 2.8-0.5 3.2 0.1 7 1.7 7.4 3.1 7.5 4.3 7 5.2 6 5.7 4.8 5.8 3.1 2.9 1 2.7 0.4 2.6 0.1M520.5 108.4l-2.3 0.2-2 0.6-1.9 1.1-1.6 1.4-1.3 1.7-1.8 4.5-0.6 5.5 0.8 6.2 2 6.4 3.2 6.4 4.2 5.8 4.8 5 5.2 3.7 5.3 2.3 5 0.7M522.3 108.3l-2.2 0.3-2.1 0.7-1.8 1.1-1.5 1.4-1.3 1.8-1.6 4.6-0.4 5.6 0.9 6.3 2.3 6.5 3.4 6.3 4.3 5.8 5 4.8 5.3 3.5 5.4 2 2.5 0.4 2.5 0M524.1 105.9l-2.4 0.2-2.2 0.7-2.1 1.1-1.7 1.5-1.5 1.9-1.1 2.3-0.8 2.6-0.5 6.1 1 6.9 2.4 7.2 3.8 7 4.7 6.3 5.6 5.3 6 3.7 3 1.2 2.9 0.7 2.8 0.3M526.6 105.2l-2.5 0.2-2.3 0.7-2 1.2-1.7 1.5-1.4 2-1.1 2.4-0.8 2.6-0.3 6.2 1.1 6.8 2.5 7.1 3.8 6.7 4.8 6.1 5.4 4.9 5.7 3.3 2.9 1.1 2.7 0.6 2.7 0.1M528.1 106.2l-2.3 0.4-2 0.8-1.8 1.3-1.5 1.7-1.2 2.1-0.9 2.4-0.7 5.6 0.8 6.4 2.1 6.7 3.4 6.5 4.4 5.8 5 4.9 5.4 3.4 5.3 1.9 2.6 0.2M531.1 107.5l-2.1 0.4-1.9 0.8-1.7 1.1-1.4 1.6-1.1 1.9-1.3 4.7 0 5.6 1.4 6.1 2.6 6.3 3.8 6 4.6 5.1 5.1 3.9 5.2 2.4 2.6 0.5 2.4 0.1M534.3 107.5l-2.3 0.1-2.1 0.6-1.8 1-1.6 1.4-1.3 1.8-0.9 2.2-0.9 5.3 0.6 6.1 2.1 6.5 3.3 6.3 4.3 5.7 5.1 4.6 5.3 3.2 2.7 0.9 2.6 0.5 2.4 0M535.2 109.2l-1.7 0.6-1.5 1-2.2 2.8-1.2 4-0.1 4.6 1.1 4.9 2 5 2.8 4.6 3.4 3.9 3.7 3 3.8 1.9 3.5 0.7 1.6-0.1M539.9 114.3l-2.6 0.8-1.9 1.8-1.2 2.6-0.3 3.4 0.6 4 1.5 4.3 2.4 4.1 3 3.6 3.4 2.7 3.5 1.7 3.3 0.6M542.2 112.7l-3.2 0.3-2.5 1.6-1.7 2.8-0.7 3.9 0.4 4.5 1.5 4.9 2.4 4.9 3.4 4.4 3.9 3.7 4.2 2.6 4.3 1.2 2 0.1M542 109.5l-2.9 1.3-2.1 2.5-1.2 3.5-0.1 4.2 0.9 4.5 1.8 4.6 2.5 4.3 3.2 3.7 3.5 2.9 3.5 1.9 3.4 0.8 1.6-0.1M546.7 114.7l-2 0.8-1.4 1.5-1.1 3.5 0.4 4.3 1.8 4.6 2.8 4.1 3.6 3 3.6 1.6 2.2 0.1M549.8 117.5l-2 1.2-1.1 2.3 0.1 3.2 1.2 3.5 2.1 3.2 2.7 2.5 2.8 1.4 1.8 0.2M552.4 118.3l-1.8 0.8-1.1 1.9-0.1 2.8 1 3.2 2.7 4.1 2.7 2.2 2.8 1.1 0.9 0.1M554.7 116.9l-2.2 0.5-1.3 1.9-0.3 2.8 0.8 3.3 2.5 4.3 2.5 2.5 2.9 1.4 1.7 0.2M557 117l-1.9 0.6-1.2 1.7-0.3 2.4 1.2 4 2.5 3.6 3.2 2.4 2.5 0.6M559.5 117.9l-1.5 0.6-0.8 1.4 0 2.7 1.7 3.9 2.4 2.5 2.7 1.2 0.7 0.1M561.4 117.3l-1.5 0.4-1 1.5 0 3 1.5 3.6 2.6 2.9 2.4 1.3 1.5 0.3M563.1 116.1l-1.7 0.6-1.1 1.7 0 2.6 1.4 3.9 2.9 3.4 2.5 1.6 2.5 0.5M564.4 113.9l-2.2 0.6-1.4 2.1-0.2 3.2 1.1 3.9 2.3 3.7 3.1 3 3.5 1.7 1.1 0.1M565.1 111.2l-1.8 0.6-1.4 1.3-0.9 3.4 0.6 4.2 2 4.5 3 3.9 3.7 2.7 3.7 0.9M567.4 110.1l-2 0.4-1.5 1.2-1 2-0.2 3.9 1.2 4.6 2.6 4.4 3.6 3.5 3.8 2.2 2.5 0.5M569.1 107.9l-2.4 0.3-1.9 1.2-1.2 2-0.6 2.8 0.6 5.1 2.2 5.4 3.7 4.8 4.4 3.5 3.1 1.3 3 0.3M570 105.1l-2.6 0.6-2 1.7-1.2 2.5-0.5 3.3 1 5.7 2.7 5.8 4 5 4.8 3.4 3.2 1.2 1.5 0.1M571.9 105.4l-2.4 0.8-1.7 1.7-1.1 2.5-0.3 3.2 1.2 5.5 2.8 5.4 4 4.7 4.6 2.9 3.1 0.8 1.4 0M573.9 105.6l-2.2 0.8-1.6 1.8-1 2.6-0.1 3.1 1.4 5.4 2.9 5.2 4 4.2 4.5 2.4 2.8 0.5M576.5 105.3l-2.3 0.5-1.8 1.4-1.1 2.3-0.4 2.9 0.9 5.1 2.5 5.2 3.8 4.5 4.3 3 2.9 0.9 1.3 0.1M578.4 104.8l-2.1 0.6-1.6 1.4-1 2.2-0.3 4.2 1.3 4.9 2.8 4.8 3.7 3.7 4 2.2 2.5 0.4 1.2-0.1M581.2 106.9l-2.2 1.2-1.1 2.5 0.1 3.3 1.2 3.6 2.1 3.4 2.7 2.7 2.9 1.5 2.6 0.3M584.9 109.4l-1.4 0.7-0.9 2 0.4 2.8 1.9 3.6 2.8 2.3 2.2 0.5 0.5-0.1M588.3 112l-0.9 0.6-0.1 2.1 1.4 2.4 2.2 1.4 0.7 0M590.7 112.4l-0.7 0.6 0.4 1.9 1.6 1.6 0.3 0.1" fill="none" stroke="#ff0000" stroke-width="0.75" stroke-linejoin="round"/><path d="M441.9 161.1l-0.4 0 0.6 1.4 0.8-0.2-0.1-1.5-0.4-0.1 0.5 1.6 0.9 0.1 0.4-1.4-0.7-1.3-0.5 0.4 0.6 2.2 1.2 0.7 0.8-1-0.3-2.2-0.9-0.7-0.4 1.2 1 1.9 0.9 0.1 0.5-1.3-0.6-1.9-0.6 0.2 0.3 1.7 1 0.5 0.4-1.2-0.2-0.4 0.7 0.8 0.5-0.9-0.5-0.7 0.3 1.5 1 0.4 0.4-1.5-0.7-1-0.2 1.1 1 1.2 0.8-0.5-0.1-1.8-0.7-0.6-0.2 1.4 1.1 1.5 0.9-0.2 0.3-1.9-0.8-1.4-0.6 0.4 0.6 2 1 0.5 0.6-1-0.4-1.3 0.6 1.2 0.7-0.2-0.1-1.5-0.5 0 0.4 1.7 1.1 0.6 0.7-0.9-0.4-2.1-0.7-0.2 0.1 1.8 1.1 1.2 1-0.5 0.2-2-1-1.4-0.6 0.5 0.2 2 1.2 1.6 1.1 0 0.7-1.5-0.6-2.5-1-0.7-0.6 0.9 0.6 2.2 1.3 1 0.8-0.8 0-2-1-1-0.4 0.8 0.7 2 1.1 0.4 0.7-1.1-0.5-2.1-0.8-0.4-0.3 1.4 0.9 1.7 1 0.1 0.5-1.4-0.7-1.6-0.4 0.5 0.6 1.5 0.8 0 0.3-1.8-0.7-0.7-0.3 1.4 1.1 1.9 1.2 0.3 0.7-1.3-0.4-2.6-1.1-1.1-0.8 0.4 0.1 2.1 1.2 1.7 1-0.1 0.3-1.8-0.7-1.1-0.1 0.9 0.8 0.8 0.7-0.7-0.4-1.5-0.6 0 0.1 1.8 1.1 1.4 1.1-0.2 0.5-1.5-0.8-2.3-0.9-0.4-0.4 1.1 0.7 2.1 1.1 0.6 0.8-0.8-0.2-2.1-0.8-0.7-0.4 1 0.8 1.7 1 0.2 0.5-1.4-0.6-1.5-0.5 0.4 0.6 1.8 1.1 0.3 0.5-1.3-0.6-1.8-0.8-0.1 0 1.9 1.1 1.7 0.9 0.1 0.7-1.5-0.5-2.1-0.9-0.5-0.3 1.4 1 1.6 1-0.2 0.1-1.7-0.7-1-0.3 1.2 0.9 1.6 0.9 0 0.5-1.7-0.7-1.8-0.8-0.1-0.4 1.5 0.8 1.9 1.3 0.5 0.8-0.9 0-2.1-1-1.2-0.6 0.7 0.5 2.1 1.3 0.9 0.8-0.6 0.1-2.1-1.1-1.6-0.7 0.3-0.1 2.1 1.1 1.9 1.3 0.3 0.8-1.2-0.1-2.6-1.3-1.9-0.7-0.1-0.7 1.3 0.5 2.4 1.3 1.6 1-0.2 0.5-1.8-0.7-1.9-0.7 0 0.2 1.6 1 0.8 0.6-1.1-0.5-1.4-0.4 0.6 0.7 1.8 1.2 0.4 0.6-1.1-0.4-2.1-0.9-0.4-0.2 1.3 1 1.6 0.9-0.1 0.3-1.6-0.7-1.3-0.5 0.6 0.7 2.1 1.1 0.6 0.9-1-0.2-2.3-1-1.3-0.9 0.2 0 2 1.2 1.8 1.1 0.1 0.6-1.4-0.6-1.6-0.4 0.4 0.7 1.4 0.9-0.2 0-1.7-0.6-0.4 0 1.5 1 1.2 0.9-0.3 0.3-2.1-0.9-1.9-0.9-0.3-0.7 1.1 0.2 2.6 1.5 2.7 1.5 0.7 1.3-0.6 0.8-2-0.2-3.6-1.6-3.4-1.4-1.1-1.3 0-1.1 1.2-0.5 2.8 0.7 3.4 1.6 3 2.1 1.4 1.4-0.2 1.1-1.3 0.5-2.8-0.6-3.4-1.5-2.5-1.3-1-1.2 0.2-1 1.7 0.1 2.8 1.4 3.4 2.3 2.3 1.4 0.1 1.2-0.8 1-2.7-0.1-4.1-1.6-4.4-2-2.6-2.3-1.3-1.6 0-1.4 1-1.5 3-0.4 4.5 0.9 5.4 2.2 5.2 3.2 4.1 2.4 1.7 2.5 0.5 2.3-0.7 2-1.9 1.4-3.1 0.7-4-0.1-4.6-1.8-7-3.1-5.8-2.5-2.8-2.6-1.7-2.5-0.5-2.3 0.8-1.9 1.8-1.3 2.9-0.7 5.6 0.8 6.4 2.1 6.1 3.2 4.9 2.4 2.2 2.5 1.1 2.3 0.1 2.1-1.1 1.6-2.1 1.5-4.6 0-5.7-1.3-6-2.4-5.3-3.1-3.7-2.3-1.4-2.2-0.4-2 0.7-1.9 1.9-1.3 3.1-0.5 4.1 0.8 6.8 1.6 4.6 2.1 4 2.7 3.1 2.8 1.9 2.9 0.4 2.5-1.1 2-2.5 1.3-3.8 0.3-4.7-0.5-5.2-1.4-5.1-2.3-4.7-2.7-3.8-3.2-2.4-1.5-0.6-1.6-0.2-1.5 0.3-1.3 0.6-2.3 2.6-1.5 4.1-0.5 5.1 0.6 5.8 1.5 5.9 2.5 5.5 3.2 4.4 3.7 2.9 1.8 0.8 1.8 0.3 1.8-0.2 1.5-0.7 2.5-2.6 1.7-4.1 0.8-5-0.2-5.7-1.1-5.9-2-5.6-2.7-4.8-3.2-3.7-3.4-2.2-1.7-0.5-1.6-0.1-1.6 0.3-1.4 0.8-2.4 2.8-1.6 4.1-0.6 5.2 0.4 5.8 1.3 6 2.2 5.6 3 4.8 3.4 3.6 3.6 2 1.8 0.3 1.7-0.1 1.6-0.5 1.5-1 2.4-3.2 1.5-4.6 0.5-5.7-0.6-6.2-1.6-6.3-2.5-5.7-3.2-4.8-3.6-3.3-1.9-0.9-1.9-0.2-1.8 0.2-1.7 0.7-1.4 1.3-1.2 1.7-1.7 4.5-0.6 5.5 0.6 6 1.6 6 2.4 5.3 3 4.1 3.3 2.7 3.2 1 1.5-0.1 1.4-0.5 2.3-2.2 1.5-3.4 0.7-4.3-0.2-4.7-1.7-7-1.9-3.9-2.4-3-2.4-1.9-2.3-0.6-2.1 0.7-1.6 1.8-1 2.6-0.3 4.9 1.1 5.2 2.1 4.3 2.6 2.8 2.6 1.4 1.7-0.1 1.5-0.9 1.5-2.9 0.4-4.1-0.7-4.5-1.8-4.2-2.3-3-2.6-1.3-1.7 0.3-1.3 1-1.3 3.1-0.3 4.2 0.9 4.6 1.9 4.3 2.6 3.1 2.8 1.5 1.8-0.2 1.5-0.9 1.7-2.9 0.6-4.1-0.5-4.8-1.5-4.5-2.1-3.6-2.6-2.4-2.6-0.8-1.6 0.5-2 2.3-1 3.8 0 4.7 1.2 5.2 2.2 4.6 3 3.5 2.1 1.4 2.2 0.5 2-0.5 1.7-1.5 1.7-3.9 0.5-5.3-0.9-5.9-2.1-5.6-3.1-4.5-2.4-1.8-2.3-0.9-2.3 0.4-2 1.4-1.5 2.5-0.9 3.5 0 6.5 1.7 6.9 3.1 6.3 2.6 3.2 3 2.1 2.9 0.7 2.7-0.7 2.3-2.1 1.7-3.4 0.9-4.5 0-5.2-0.9-5.5-1.8-5.3-2.5-4.8-3-3.8-3.3-2.4-3.3-0.9-1.6 0.2-1.5 0.7-1.3 1-2.2 3.3-1.3 4.7-0.3 5.7 0.8 6.3 1.8 6.2 2.7 5.7 3.4 4.7 3.8 3.2 2 0.9 1.9 0.4 1.9-0.2 1.8-0.6 1.5-1.2 1.4-1.6 2.1-4.3 1-5.7-0.1-6.5-1.3-6.7-2.2-6.3-3.1-5.5-3.6-4.1-3.8-2.5-1.9-0.5-1.8 0-1.8 0.4-1.5 0.9-1.5 1.3-2.2 4-1.2 5.2-0.1 6.2 1 6.5 1.9 6.4 2.8 5.8 3.4 4.6 3.8 3.2 2 0.9 1.9 0.6 1.8 0 1.8-0.4 1.6-0.9 1.4-1.2 2.3-3.8 1.4-5 0.4-6-0.6-6.4-1.7-6.4-2.4-5.9-3.2-4.6-3.3-3.2-3.5-1.6-3.2-0.2-2.8 1.3-2.2 2.7-1.4 3.7-0.8 4.5 0.4 7.5 2 7.5 3.2 6.3 3.9 4.3 2.7 1.6 2.6 0.5 2.4-0.6 1.9-1.6 2-3.9 0.8-5.1-0.4-5.7-1.5-5.4-2.3-4.5-2.7-3.1-2.7-1.6-2.5 0-2.2 1.4-1.6 2.8-0.7 4.1 0.3 4.8 1.4 4.9 2.2 4.3 2.9 3.1 3 1.4 1.9 0 1.7-1 2-2.8 0.9-4.3-0.2-5.1-1.3-5.3-2.3-4.5-2.8-3.3-3.1-1.4-1.9 0.2-1.7 1.1-1.8 3.2-0.7 4.7 0.6 5.4 1.9 5.5 2.8 4.4 3.3 2.7 2.2 0.5 2.1-0.4 1.7-1.4 1.7-3.8 0.4-5-0.8-5.6-2.1-5.1-2.8-3.8-2-1.5-2.1-0.5-1.9 0.4-1.5 1.5-1.4 3.7-0.2 5 1.1 5.3 2.3 4.8 2.9 3.3 2.1 1.2 2.1 0.1 1.8-0.8 1.4-1.8 1.3-4.2-0.2-5.4-1.5-5.4-2.5-4.5-2.1-2-2.2-1-2 0.1-1.7 1.2-1.3 2.2-0.8 4.8 0.7 5.7 2 5.6 3.1 4.3 2.3 1.7 2.4 0.6 2.2-0.5 1.8-1.7 1.2-2.7 0.8-5.4-0.9-6.3-2.3-5.9-3.3-4.5-2.5-1.7-2.4-0.6-2.2 0.8-1.5 1.7-1.5 4.2-0.3 5.4 1.1 5.8 2.2 5.4 3 4.2 3.4 2.5 2.2 0.6 2.1-0.5 1.8-1.4 1.9-3.6 0.8-5-0.5-5.8-1.7-5.6-2.7-4.8-3.2-3.3-2.2-1.1-2.2-0.1-1.9 0.9-1.6 1.8-1.5 4.2-0.3 5.5 1.2 6.3 2.8 6.5 2.5 3.4 2.8 2.3 2.9 0.9 2.6-0.4 2.2-1.9 1.6-3.1 0.8-4.2 0-4.8-0.9-5-1.6-4.9-2.4-4.2-2.8-3.2-3-1.9-2.9-0.4-1.4 0.4-2.4 1.9-1.7 3.5-0.8 4.5 0.1 5.3 1.1 5.7 2 5.4 2.7 4.8 3.3 3.6 3.5 2 1.8 0.4 1.7-0.1 1.6-0.5 1.5-1 1.3-1.4 1.9-4.1 1-5.3-0.1-5.9-1.8-8.4-2.2-5.2-2.7-4.5-3.2-3.5-3.4-2.3-3.4-0.7-1.6 0.2-1.5 0.7-2.7 2.4-1.9 4-1.1 5.1-0.1 6.2 0.9 6.6 2 6.6 2.8 6.1 3.6 5.2 4.1 3.7 2.2 1.2 2.1 0.7 2.1 0.2 2-0.3 2-0.8 1.7-1.4 1.6-1.8 1.3-2.4 1.8-5.9 0.5-7.4-1.1-8.1-2.3-7.9-3.4-7.2-4.2-5.7-2.3-2.1-2.3-1.7-2.4-1.1-2.3-0.4-2.2 0.1-2.1 0.6-1.9 1.3-1.6 1.8-1.3 2.2-1.9 5.6-0.7 6.9 0.6 7.6 1.7 7.7 2.9 7.2 1.7 3.2 2 2.9 4.3 4.1 2.2 1.4 2.1 0.9 2.1 0.4 2-0.1 1.9-0.6 1.7-1 1.5-1.4 2.4-4.1 1.4-5.2 0.5-6-0.6-6.4-1.5-6.4-2.2-5.9-2.9-5.1-3.3-3.9-3.4-2.6-3.5-1.2-3.2 0.4-2.8 1.9-2.2 3.2-1.4 4.4-0.6 5.3 0.3 5.9 1.1 6.1 2 5.9 2.7 5.4 1.9 2.5 2.1 2.2 2.1 1.6 2.2 1 2.1 0.6 2-0.1 1.8-0.6 1.7-1.1 1.5-1.6 1.2-2 1.5-5.1 0.4-6.1-0.7-6.6-1.9-6.2-2.6-5.5-3.3-4.2-3.5-2.5-1.7-0.6-1.6-0.2-1.6 0.4-1.4 0.7-2.2 2.8-1.4 4-0.4 5.1 0.6 5.4 1.5 5.3 2.2 4.7 2.8 3.7 3 2.3 3 0.8 1.4-0.3 2.4-1.5 1.8-2.9 0.9-4 0.1-4.6-0.8-4.9-1.6-4.5-2.2-4-2.5-2.9-2.7-1.7-2.6-0.3-2.3 1.1-1.7 2.5-1.1 3.5-0.2 4.4 1.2 7.2 1.7 4.6 2.4 4 2.8 2.9 3 1.7 2.8 0.2 2.6-1.3 2-2.7 1.3-3.9 0.4-4.8-0.5-5.3-1.3-5.4-2.1-4.9-2.8-4.2-3.1-3-3.2-1.6-1.6-0.1-1.6 0.2-1.4 0.6-2.4 2.5-1.8 3.9-0.8 5 0.1 5.8 1.2 6.1 0.9 3.1 2.5 4.9 3 3.9 3.1 2.7 3.1 1.3 2.9 0 2.6-1.3 2-2.4 1.3-3.3 0.8-6.1-0.7-6.6-1.9-6.2-2.8-4.9-3.3-3.2-2.1-1-2 0-1.7 0.7-1.9 2.6-0.9 3.6 0 4.3 1.4 5.6 2.4 4.5 2.8 2.6 2.7 0.7 2-0.4 1.6-1.6 1-2.9 0.1-4.9-1.3-5.4-1.9-3.4-2.3-2.3-2.4-1-2.3 0.7-1.6 2.3-0.8 3.6 0.2 4.5 1.2 4.7 2.1 4.1 2.7 3.1 2.9 1.4 1.9-0.1 1.7-0.9 1.8-2.9 0.9-4.3-0.4-5.2-1.4-5.2-2.4-4.3-3-2.9-2-0.9-2 0-1.7 1-1.8 3.1-0.8 4.7 0.6 5.5 1.8 5.4 2.7 4.5 3.3 2.9 2.3 0.7 2.1-0.3 1.8-1.3 1.4-2.2 1.1-4.8-0.3-5.8-1.6-5.8-2.7-5-3.3-3.2-2.3-0.8-2.4 0.4-1.9 1.7-1.4 2.9-0.6 3.8 0.6 6.5 2.2 6.5 2.2 3.5 2.5 2.6 2.7 1.4 2.5 0.1 2.3-1.3 1.6-2.5 1-3.5 0.3-4.3-1.1-6.9-2.7-6.3-2.4-3.2-2.7-2.1-2.7-0.8-2.4 0.5-2.1 2-1.4 3.2-0.6 4.1 0.2 4.7 1.8 7.3 2.1 4.5 2.6 3.6 2.9 2.5 2.8 0.6 2.5-0.8 2.1-2 1.3-3 0.8-5.8-0.8-6.4-2.2-5.7-2.9-4.2-2.2-1.7-2.1-0.6-1.8 0.5-1.5 1.3-1.4 3.5-0.1 4.5 1 4.6 1.9 3.9 2.4 2.6 2.4 0.9 2-0.8 1.3-2.2 0.4-3-0.7-4.4-2.2-4.6-1.9-1.9-1.6-0.3-1.5 0.7-1 1.9-0.4 4 0.9 4.9 2.3 4.5 2.4 2.3 2.6 1 2.3-0.8 1.9-2.4 0.9-3.8-0.1-4.8-1.2-5.1-2.2-4.6-2.9-3.3-2.1-1.2-2.1-0.3-1 0.2-1.6 1.7-1.5 3.9-0.1 5.1 1 5.3 2 4.7 2.6 3.4 2.9 1.8 1.8 0.2 2.3-1.2 1.4-2.7 0.6-3.7-0.7-5.4-2-4.5-1.9-2.3-2-1-1.7 0.4-1.3 1.6-0.6 3.3 0.6 3.9 1.9 4.3 2.3 2.2 1.8 0.4 1.5-0.7 1.1-1.9 0.4-3.7-0.8-4.1-1.9-3.4-1.7-1.6-1.8-0.4-1.5 1-1 2-0.2 4 1.2 4.4 2.2 3.7 2 1.5 2.1 0.3 1.7-1.1 1.1-2.2 0.4-4-0.9-4.4-1.9-3.8-2.4-2.2-1.9-0.3-1.5 0.8-1.1 2-0.3 3.9 0.9 4.4 1.9 3.9 2.6 2.5 2 0.4 1.8-0.7 1.3-1.9 0.6-3.9-0.6-4.5-1.6-3.9-2.3-2.4-1.7-0.7-1.5 0.4-1.5 2-0.4 3.3 0.8 4.7 2.1 4 2.2 1.9 1.7 0.3 1.4-0.6 1.4-2 0.5-4.1-1-4.5-2.1-3.6-1.7-1.1-1.7 0-1.3 1.2-0.8 3.1 0.4 3.9 1.6 3.7 2.2 2.4 1.7 0.7 1.6-0.5 1.1-1.6 0.7-3.2-0.5-3.8-1.5-3.4-2-2.1-1.6-0.4-1.3 0.7-1.1 2.3 0.1 3.4 1.3 4 1.8 2.4 2 1 1.4-0.3 1.3-1.7 0.4-3.6-1-3.7-1.9-2.5-1.5-0.4-1.2 1.1-0.4 2.9 0.9 3.3 1.9 2.2 1.5 0.3 1.2-1.1 0.5-2.8-0.9-3.1-1.6-1.7-1.3 0.2-0.6 1.5 0.3 3 1.5 2.4 1.5 0.6 1.1-0.9 0.4-2.7-0.9-2.7-1.3-1.1-0.9 0.2-0.6 1.5 0.5 2.8 1.5 2 1.3 0.1 0.9-1.2 0-2.7-1.1-2.2-1.2-0.6-0.8 0.8-0.1 2.2 1 2.4 1.5 1 1-0.5 0.4-2.3-0.8-2.5-1.2-0.6-0.6 1.1 0.7 2.4 1.2 0.9 0.9-0.7-0.1-2.2-0.9-1.3-0.7 0.6 0.2 2.3 1.4 2 1.4 0.2 1-1.2 0.1-3-1.3-3-1.4-0.9-0.9 0.2-0.7 1.9 0.5 3.1 1.5 2.4 1.4 0.6 1-0.9 0.4-2.2-0.9-2.6-1.1-0.6-0.7 1.1 0.4 2.3 1.2 1.2 0.9-0.2 0.6-1.4-0.7-2.4-0.9-0.5-0.5 1.2 0.7 2 1.1 0.7 0.8-0.9-0.2-2.2-1-0.6-0.3 1.4 0.9 2.1 1.4 0.9 1.1-0.8 0.4-2.4-0.9-2.8-1.4-1-1 0.5-0.4 2.3 0.9 3 1.6 1.4 1.2-0.1 0.9-1.5-0.2-2.8-1.2-1.8-0.8 0.1-0.3 1.8 1 2 1.1 0.4 0.8-1.2-0.5-2.1-0.7-0.3 0 1.5 1.4 1.4 0.9-0.4 0.3-2.1-1-2-1.1-0.2-0.6 1.2 0.4 2.9 1.4 2 1.5 0.4 1.1-1.1 0.2-2.6-1.2-2.8-1.1-0.6-0.8 0.7 0.1 2.4 1.2 2 1.2 0.1 0.7-1.5-0.6-2.5-0.9-0.5-0.6 1 0.6 2.3 1.4 1.3 1.2-0.4 0.5-2.1-0.8-2.5-1.2-0.9-0.8 1 0.2 2.3 1.2 1.8 1.2 0.2 0.7-1.4-0.4-2.3-0.9-0.5-0.2 1.3 0.9 1.6 0.9 0.1 0.6-1.5-0.8-1.8-0.7 0.1 0.1 1.9 1.2 1.5 0.9-0.3 0.3-1.8-0.8-1.5-0.5 0.2 0.4 1.8 1 0.4 0.5-1.3-0.6-0.8 0.2 1.2 0.9 0.2 0.1-1.4-0.5-0.3 0.2 1.5 1 0.4 0.6-1.1-0.7-1.5-0.4 0.6 0.8 1.8 1 0.2 0.6-1.3-0.6-1.9-0.6 0 0.1 1.8 1.1 1.3 0.9-0.2 0.4-1.8-0.8-1.8-0.7 0-0.3 1.6 1 2 1.2 0.4 0.8-1-0.1-2.5-1.1-1.4-0.8 0.2-0.3 1.9 1.1 2.5 1.3 0.7 1-0.7 0.3-2.2-0.9-2.6-1.1-0.6-0.8 0.8 0 2.2 1.3 2.3 1.3 0.4 1-1.1-0.2-2.5-1-1.6-0.9 0.2-0.1 1.8 1.1 1.5 0.9-0.2 0.1-1.9-0.8-0.9-0.3 1.1 0.9 1.8 1 0.2 0.7-1.3-0.5-2.4-1-0.7-0.7 0.8 0.3 2.1 1.4 1.5 1-0.3 0.4-1.9-0.8-1.7-0.5 0.3 0.4 1.9 1.1 0.7 0.7-1.1-0.5-1.8-0.6 0 0.1 1.7 1.1 1 0.8-0.5-0.1-2-0.7-0.4 0.2 1.4 1.1 0.8 0.8-0.8-0.4-1.7-0.6-0.1 0.1 1.5 1 0.5 0.4-1-0.4-0.8 0.4 1.2 0.8-0.1-0.1-1.5-0.3 0.1 0.6 1.5 0.9-0.1 0.1-1.6-0.4-0.4 0.4 1.5 1 0.4 0.5-1.3-0.6-1.4-0.6 0.5 0.6 1.9 1 0.5 0.8-0.9-0.3-2.1-0.9-0.5-0.2 1.3 0.9 1.6 0.9-0.2 0.2-1.6-0.7-0.9-0.1 1.2 1 1.2 0.8-0.4 0-1.8-0.8-1.1-0.6 0.7 0.5 2.1 1.2 1.1 0.9-0.3 0.4-1.9-0.9-2-0.8-0.2-0.3 1.5 1 1.9 1.1 0.1 0.5-1.5-0.6-1.7-0.7-0.1 0 1.7 1 1.2 0.9-0.3 0.1-1.9-0.8-1.1-0.6 0.5 0.5 2.1 1.1 0.7 0.8-0.9-0.2-2.1-0.8-0.8-0.6 0.8 0.6 2.1 1.2 0.9 0.9-0.6 0.1-2.2-1-1.5-0.7 0.1-0.1 1.7 1.1 1.9 1.1 0.1 0.6-1.5-0.6-2.1-1-0.4-0.3 1.1 0.9 2.1 1.2 0.4 0.7-1.3-0.5-2-0.7-0.2 0 1.5 1 1.3 0.9-0.5 0-1.8-0.7-0.8-0.2 1.3 1 1.4 0.8-0.2 0.2-1.8-0.8-1-0.3 1 1 1.6 0.8-0.1 0.3-1.6-0.8-1.2-0.4 0.8 0.7 1.8 1.1 0.4 0.6-1.1-0.5-2.2-0.8-0.5-0.5 1.2 0.7 1.9 1.2 0.8 0.9-0.8-0.1-2.4-1.1-1.1-0.6 0.6 0.3 2.2 1.2 1.3 1.1-0.4 0.3-1.9-0.8-1.9-0.8-0.2-0.4 1.4 1 2.2 1.1 0.4 0.8-1-0.1-2.2-1-1.1-0.6 0.7 0.5 2.2 1.3 0.9 0.9-0.7 0-2.1-0.9-1.2-0.5 0.8 0.6 1.9 1.1 0.6 0.7-1.1-0.4-1.8-0.5 0.1 0.5 1.8 1 0.3 0.5-1.3-0.6-1.6-0.6 0.3 0.3 1.9 1.1 0.9 0.8-0.7-0.1-2-0.7-0.5 0.2 1.4 0.9 0.5 0.6-1-0.5-1.2-0.3 0.9 0.8 1.7 1 0.1 0.7-1.4-0.5-1.9-0.9-0.5-0.4 1 0.8 2.1 1.1 0.4 0.7-1.2-0.4-1.9-0.7-0.1 0.1 1.7 1.1 0.9 0.8-0.5-0.1-2-0.8-0.5-0.1 1.4 1 1.3 0.9-0.2 0.2-1.7-0.7-1.3-0.6 0.5 0.5 1.9 1 0.7 0.8-0.5-0.1-2.1-0.8-0.8-0.4 1.1 0.9 1.6 0.9 0.1 0.4-1.6-0.8-1.3-0.3 0.9 0.9 1.5 0.9-0.1 0.2-1.7-0.7-0.9-0.3 1.1 1 1.6 0.8-0.1 0.4-1.7-0.8-1.5-0.7 0.3 0.2 1.9 1.2 1.3 0.9-0.3 0.3-1.7-0.8-1.8-0.8 0-0.1 1.6 1 1.6 0.9-0.1 0.3-1.7-0.7-1.4-0.6 0.2 0.2 1.7 0.1 0.2" fill="none" stroke="#0000ff" stroke-width="0.75" stroke-opacity="1.0" stroke-linejoin="round"/><path d="M441.5 160.5l-0.2-0.1M443.4 163.1l1-0.7-0.2-1.8-0.8-0.8M445.6 162.5l1-0.8-0.1-1.8-1.1-1.3-0.2 0M447.8 162.9l1.3-0.5 0.6-1.5-0.7-2.5-1.7-1.5-0.5-0.1M450.2 163l1.3-0.5 0.6-1.9-0.5-2.4-1.9-2.2-1-0.3M452.3 163l1.5-0.5 0.9-1.9-0.4-2.7-1.5-2.4-2-1.4-0.4 0M455.1 163.6l1.8-0.8 0.8-1.4 0-2.8-1.3-3.1-2.1-2.3-2.3-0.9M457 163.6l1.8-0.5 1.1-1.6 0.1-3.1-1.3-3.4-2.4-2.7-1.9-0.9-0.6-0.1M458.8 163l1.6-0.6 1.1-1.4 0.2-2.9-1.2-3.1-2-2.5-2.2-1-0.5 0M460.7 161.6l1.5-0.6 0.9-1.4 0-2.7-1.6-3.5-2-1.8-1.5-0.5M462.8 161.7l1.7-0.5 1.1-1.4 0.3-3-1.2-3.4-2.3-2.9-2.6-1.4-0.7 0M465.1 161.9l1.8-0.9 1-1.8 0.1-2.6-1.3-3.6-2.3-2.9-2-1.1-1.2-0.1M466.8 160.5l1.6-0.8 0.8-1.7-0.1-3.1-1.2-3.1-2.2-2.5-2.5-1.2M469.2 161.8l2.2-0.6 1.3-1.9 0.3-2.9-0.7-3.2-2.3-4-2.3-2.1-2.4-1-0.8 0M470.7 161.2l2.2-0.7 1.5-1.8 0.3-2.8-0.6-3.2-2.3-3.9-2.4-2.1-2.3-0.9-0.7 0M472.8 159.5l1.7-0.9 1-1.9-0.2-3.3-1.4-3.3-2.2-2.4-2.3-0.9-0.5 0M474.3 157.7l1.7-0.9 0.8-2-0.5-3.3-1.8-2.9-2.3-1.6-0.8 0M475.9 156.4l1.7-0.7 0.8-1.8-0.4-2.9-1.5-2.6-2-1.3-0.8-0.1M477.9 155l1.3-0.6 0.8-1.9-0.7-2.8-1.7-2.2-1.3-0.4M479.9 154.1l1.6-0.8 0.6-2-0.9-2.9-2-2-1-0.3M482.3 153.7l1.4-0.7 0.7-2.1-0.7-2.7-1.6-2.2-1.9-0.8M484.4 153.4l1.5-0.6 0.9-1.9-0.3-2.8-1.9-3-2.1-1.2-0.4 0M488 155.9l2.1-0.3 1.6-1.6 0.7-2.7-0.4-3.4-1.5-3.7-2.4-3.3-2.9-2.3-3.1-1M492.3 161.1l2.5-0.5 2.1-1.4 1.4-2.3 0.8-3-0.5-5.5-2.2-5.9-3.7-5.5-4.7-4.1-3.3-1.6-3.2-0.5M496.1 165.5l3.3-0.7 2.7-2 1.8-3.1 0.9-4-0.2-4.7-1.2-5-2.2-5.1-3-4.7-3.7-4-4-3.1-4.1-2-3.9-0.5M499.8 168.5l3.9-0.9 1.7-0.9 1.5-1.3 2.3-3.7 1.1-4.8-0.1-5.6-1.4-6.1-2.6-6.3-3.7-5.9-4.5-5.2-5-4.1-5.2-2.7-2.6-0.7-2.6-0.3M504.3 176.3l2.9-0.2 2.7-0.7 2.4-1.3 2.2-1.7 1.8-2.3 1.4-2.7 1-3.1 0.6-3.5 0.2-3.8-0.3-4.1-0.8-4.2-2.8-8.7-4.5-8.5-2.7-4-3.1-3.8-3.5-3.4-3.6-2.9-3.6-2.4-3.7-1.8-3.7-1.2-3.5-0.6-3.3 0.1M508.9 180.1l3.3-0.6 2.9-1.2 2.6-1.8 2.2-2.5 1.7-2.9 1.3-3.4 0.8-3.8 0.3-4.2-0.2-4.4-0.8-4.6-1.2-4.8-1.7-4.7-2.1-4.7-2.5-4.6-2.9-4.3-3.2-4-3.4-3.7-3.6-3.2-3.8-2.7-3.8-2.2-3.7-1.6-3.7-1-3.6-0.4M511 182.2l3.2-0.3 3-0.9 2.7-1.3 2.4-1.9 2-2.4 1.7-2.8 1.3-3.2 0.9-3.6 0.4-3.9 0.1-4.2-0.4-4.3-2.1-9.1-3.7-9.2-5.1-8.8-6.2-7.9-7-6.5-3.7-2.7-3.7-2.2-3.7-1.6-3.7-1.2-3.6-0.6-3.4-0.1M516.1 188.7l3.6-0.3 3.5-0.9 3.1-1.5 3-2.1 2.6-2.8 2.2-3.3 1.7-4 1.2-4.4 0.6-4.9 0.1-5.3-0.5-5.5-1.1-5.8-1.7-6-2.2-5.9-2.8-5.9-3.2-5.8-3.7-5.6-4-5.2-4.4-4.8-4.7-4.4-4.8-3.7-5-3.2-5-2.4-5-1.7-4.9-1-4.7-0.1M520.8 201.5l5.4 0 5.2-1 4.7-2 4.2-2.9 3.6-3.8 2.9-4.7 2.3-5.4 1.4-6.2 0.7-6.7-0.2-7.3-0.9-7.7-1.8-7.9-2.6-8.1-3.3-8.1-4.1-7.9-4.7-7.7-5.3-7.2-5.8-6.8-6.2-6.1-6.6-5.2-6.7-4.3-6.6-3.2-6.4-2.2-6.2-1.2-6-0.2M525.2 207.7l6.1-0.4 5.5-1.5 5.1-2.5 4.4-3.6 3.7-4.6 2.9-5.4 2.1-6.2 1.2-7 0.4-7.5-0.6-8-1.4-8.3-2.3-8.5-3.1-8.6-3.8-8.4-4.6-8.2-5.2-7.8-5.8-7.2-6.1-6.6-6.6-5.9-6.7-5-6.9-4-6.8-2.9-6.7-1.9-6.5-0.8M531.7 204.8l5.9-1.6 5.2-2.9 4.4-4 3.6-5.1 2.7-6 1.7-6.9 0.8-7.6-0.3-8.1-1.2-8.5-2.3-8.7-3.1-8.8-3.9-8.5-4.7-8.3-5.4-7.8-5.9-7.2-6.4-6.4-6.6-5.5-6.8-4.5-6.9-3.4-6.7-2.3-6.5-1-6.1 0.1M529.6 199.1l5.5-1.1 4.9-2.3 4.3-3.3 3.5-4.3 2.7-5.3 1.9-6 0.9-6.8 0-7.2-0.9-7.7-1.8-7.9-2.6-8-3.5-7.9-4.1-7.7-4.8-7.3-5.4-6.7-5.7-6.1-5.9-5.1-5.9-4.2-5.9-3.4-5.9-2.4-5.8-1.5-5.5-0.5M531.4 199.1l5.2-0.9 4.7-1.9 4.1-2.8 3.5-3.8 2.8-4.6 2.1-5.4 1.3-6 0.5-6.6-0.3-7-1.2-7.3-1.9-7.5-2.6-7.6-3.4-7.5-4-7.2-4.6-7-5.1-6.4-5.5-5.9-5.7-5.2-6-4.4-6.1-3.5-6.1-2.6-5.9-1.6-5.7-0.6M534.6 202.5l5.5-0.9 5-2 4.3-3.1 3.6-4.1 2.9-4.9 2.1-5.7 1.3-6.4 0.4-7-0.4-7.5-1.3-7.7-2.1-7.9-2.9-8-3.6-7.8-4.3-7.6-4.9-7.2-5.4-6.7-5.8-6-6.1-5.3-6.2-4.5-6.4-3.5-6.3-2.6-6.2-1.5-5.9-0.5M535.6 205l5.5-0.7 5.1-1.7 4.5-2.7 3.9-3.7 3.2-4.5 2.5-5.4 1.6-6 0.9-6.7 0-7.2-0.8-7.5-1.6-7.8-2.4-7.9-3-7.8-3.7-7.6-4.3-7.4-4.8-7-5.4-6.6-5.7-5.9-6-5.3-6.1-4.4-6.3-3.7-6.3-2.7-6.1-1.8-6-0.7M543.2 209.6l5.5-1.3 4.9-2.3 4.4-3.2 3.7-4.2 3.1-5 2.2-5.8 1.5-6.4 0.7-7.1-0.1-7.5-1-7.9-1.9-8.1-2.6-8.1-3.4-8.2-4-7.9-4.6-7.6-5.1-7.2-5.5-6.7-5.9-6.1-6.2-5.4-6.3-4.5-6.5-3.7-6.3-2.8-6.3-1.8-6-0.9M543.2 204.3l4.9-1.8 4.3-2.7 3.7-3.6 3-4.5 2.2-5.1 1.5-5.8 0.8-6.3-0.1-6.7-0.8-7.1-1.5-7.2-2.2-7.3-3-7.3-3.5-7-4-6.7-4.5-6.3-4.8-5.8-5.2-5.1-5.3-4.5-5.5-3.8-5.4-2.9-5.4-2-5.2-1.2-4.9-0.3M539.2 186l3.5-1.4 3.1-1.9 2.6-2.5 2.2-3.1 1.8-3.5 1.2-4 0.8-4.4 0.2-4.8-0.3-4.9-0.9-5.2-1.3-5.2-1.8-5.3-2.2-5.2-2.6-5.1-3-4.8-3.3-4.6-3.6-4.2-3.8-3.8-3.9-3.3-4-2.8-4-2.3-4-1.7-3.9-1.1-3.8-0.4M535.8 177.7l3.3-0.6 3-1.1 2.6-1.8 2.3-2.2 1.9-2.7 1.5-3.1 1.1-3.6 0.6-3.9 0.1-4.1-0.3-4.4-0.7-4.5-2.8-9.2-4.3-8.9-5.6-8.2-6.4-6.9-3.5-3-3.5-2.5-3.6-2.1-3.6-1.5-3.5-0.9-3.4-0.5M536.7 174.2l3.4-0.3 3.2-0.8 2.9-1.5 2.5-2 2.1-2.5 1.8-3 1.3-3.4 0.8-3.9 0.4-4.2-0.2-4.5-0.6-4.6-1-4.8-1.6-4.8-1.9-4.8-2.4-4.7-2.7-4.5-3-4.3-3.4-3.9-3.5-3.6-3.7-3.2-3.8-2.7-3.9-2.1-3.8-1.6-3.7-1-3.6-0.4M539.3 171.8l3.2-0.6 2.9-1.1 2.5-1.7 2.2-2.3 1.8-2.7 1.3-3.1 0.9-3.5 0.5-3.8-0.1-4.1-0.4-4.2-2.3-8.7-3.7-8.6-5.1-7.9-6-6.6-6.4-5.1-3.3-1.9-3.3-1.4-3.1-0.8-3-0.3-2.9 0.2M537.8 162.1l2.4-0.5 2.2-0.8 2-1.3 1.6-1.7 2.5-4.3 1.2-5.1 0-6-1.3-6.5-2.5-6.5-3.5-6.2-4.4-5.5-4.9-4.4-5.2-3.2-5-1.5-2.4-0.2M539.5 159.9l2.4-0.3 2.1-0.6 1.9-1.1 1.7-1.4 1.4-1.8 1.9-4.6 0.7-5.6-0.7-6.2-2-6.5-3-6.3-4-5.8-4.7-4.9-5.1-3.7-5.1-2.2-4.7-0.6M543 159.4l2.3-0.5 2.1-0.8 1.8-1.3 1.6-1.7 1.3-2 1-2.3 1.1-5.5-0.4-6.4-1.7-6.7-3-6.8-4-6.3-4.9-5.4-5.3-4.2-5.5-2.7-2.7-0.6-2.6-0.3M544 160.9l2.6-0.3 2.4-0.7 2.2-1.1 1.9-1.6 1.6-2.1 1.2-2.4 0.9-2.7 0.5-3-0.2-6.8-1.6-7.2-3-7.2-4.2-6.7-5.1-5.7-5.5-4.5-5.7-2.7-2.8-0.8-2.6-0.2M546.1 158.7l2.5-0.3 2.2-0.7 2.1-1.3 1.7-1.6 1.4-2 1.1-2.4 0.7-2.7 0.4-6.1-1-6.8-2.5-7-3.7-6.6-4.6-5.8-5.2-4.7-5.4-3.1-2.7-0.9-2.5-0.5-2.5 0M546.7 156.3l2.4-0.1 2.2-0.6 1.9-1.1 1.7-1.4 1.5-1.8 1.1-2.2 1.2-5.2-0.2-6-1.5-6.5-2.8-6.4-3.8-5.9-4.6-5-5-3.8-5-2.2-2.4-0.5-2.3-0.1M549.3 154l2.2-0.3 2.1-0.8 1.8-1.3 1.5-1.6 1.2-2 0.9-2.3 0.7-5.5-0.8-6.2-2.1-6.5-3.3-6.2-4.3-5.5-4.9-4.3-5.1-2.9-2.5-0.8-2.4-0.3M551.8 153.7l2.3-0.5 2-0.9 1.8-1.3 1.5-1.8 1.2-2.1 0.8-2.5 0.5-5.8-1-6.5-1.1-3.3-3.1-6.1-3.9-5.3-4.5-4.2-4.6-2.9-4.5-1.4-4 0.1M550.4 146.1l2.8-1 2.1-2 1.3-2.9 0.6-5.2-1.2-5.9-2.9-5.9-4.1-4.9-3.1-2.3-3.1-1.3-2.9-0.4M551.6 143.9l2.9-0.7 2.2-1.7 1.4-2.8 0.5-3.5-0.8-6-1.6-4.3-2.4-4.1-3-3.5-3.4-2.7-3.5-1.6-1.7-0.3M556.2 147.6l3.6-0.9 1.5-1 2.4-3.1 1.2-4.2 0-5.1-1.3-5.5-2.6-5.4-3.4-4.8-3.9-3.9-4.1-2.7-4-1.4-3.6-0.1M556.1 143.6l2.7-0.9 2.1-1.8 1.3-2.8 0.5-3.3-0.8-5.6-2.5-5.6-3.5-4.7-4.1-3.1-2.6-1-2.5-0.1M556.6 138.2l1.9-0.7 2-2.2 0.8-3.4-0.6-4-1.7-4-2.6-3.4-2.9-2.2-2.9-0.9-0.8 0.1M557.4 135l2.2-0.8 1.4-2 0.3-2.8-1-4.3-2.4-3.9-2.3-2-2.4-0.9-0.8 0M559.5 134.5l2.3-0.7 1.6-2 0.4-2.9-0.6-3.5-1.6-3.5-2.4-2.8-2.7-1.8-1.8-0.4M561.3 133.8l2.3-0.6 1.5-1.9 0.5-2.7-0.5-3.2-2-4.2-3-3-2.4-1.1-0.7-0.1M563 132.3l2-0.7 1.3-1.6 0.4-2.5-0.8-3.7-2-3.3-2.6-2.1-1.8-0.5M564.7 130.3l1.7-0.4 1.2-1.4 0.5-2.8-0.9-3.3-1.9-3-2.6-1.8-1.3-0.3M566.9 130.3l2-0.6 1.2-1.6 0.4-2.4-0.8-3.8-2.3-3.5-2.2-1.7-2.1-0.6M569.6 130.4l2.1-0.8 1.3-2.1 0.3-2.9-0.9-3.4-1.8-3.3-2.5-2.6-2.8-1.3-0.9-0.1M571.7 132.2l2-0.2 1.7-1 1.2-1.8 0.6-3.7-1-4.4-2.2-4.4-3.2-3.5-3.5-1.8-2.2-0.2M574 132.7l2.2-0.3 1.7-1.2 1.2-2 0.6-3.9-1-4.5-2.2-4.5-3.2-3.6-3.6-2.2-2.3-0.4M576.4 132.8l2.3-0.4 1.8-1.3 1.3-2 0.7-4.1-1-4.9-2.4-4.9-3.5-4.1-3.9-2.6-2.6-0.6M580 134.6l2.6-0.7 2-1.7 1.3-2.6 0.6-3.3-0.8-5.7-2.6-6-2.5-3.5-4.5-4-3.1-1.5-3-0.5M580.9 134.4l2.8-0.4 2.2-1.5 1.6-2.4 0.7-3.1-0.1-3.6-1.6-5.8-3.2-5.5-4.2-4.1-3-1.8-2.9-0.8-1.3 0M583.5 132.9l2.5-0.8 2-1.7 1.2-2.6 0.4-3.2-1-5.5-2.6-5.5-3.7-4.5-4.3-2.8-2.8-0.7-1.3 0M584.6 131.6l2.5-0.5 2-1.5 1.3-2.4 0.5-2.9-0.7-5.3-2.3-5.2-3.4-4.5-4.1-3-2.6-0.9-1.3-0.1M586.6 131.2l2.5-0.5 1.9-1.4 1.4-2.2 0.6-2.8-0.4-5-2-5.2-3.2-4.6-3.9-3.2-3.9-1.4-1.2-0.1M588.9 129.1l2-0.7 1.5-1.6 1.1-3.4-0.2-4.2-1.6-4.3-2.5-3.9-3.1-2.7-3.1-1.4-1.8 0M589.5 125.4l2.1-1 1.3-2 0.3-2.8-1-3.9-2.1-3.5-2.7-2.2-2.5-0.6M590.4 121.2l1.5-1 0.7-2.4-0.8-2.8-1.9-2.5-1.6-0.5M591.6 118.5l1.3-0.7 0.3-2.1-1.1-2.5-1.4-0.8" fill="none" stroke="#ff0000" stroke-width="0.75" stroke-linejoin="round"/>
<g><line x1="379.60" y1="201.40" x2="376.51" y2="199.76" stroke="#262626" stroke-width="0.75"/><line x1="379.60" y1="177.25" x2="376.51" y2="175.61" stroke="#262626" stroke-width="0.75"/><line x1="379.60" y1="153.10" x2="376.51" y2="151.46" stroke="#262626" stroke-width="0.75"/><line x1="379.60" y1="128.95" x2="376.51" y2="127.31" stroke="#262626" stroke-width="0.75"/><line x1="379.60" y1="104.80" x2="376.51" y2="103.16" stroke="#262626" stroke-width="0.75"/><line x1="379.60" y1="80.65" x2="376.51" y2="79.01" stroke="#262626" stroke-width="0.75"/><line x1="379.60" y1="56.50" x2="376.51" y2="54.86" stroke="#262626" stroke-width="0.75"/><line x1="379.60" y1="201.40" x2="376.26" y2="202.44" stroke="#262626" stroke-width="0.75"/><line x1="410.68" y1="217.85" x2="407.33" y2="218.89" stroke="#262626" stroke-width="0.75"/><line x1="441.75" y1="234.30" x2="438.41" y2="235.34" stroke="#262626" stroke-width="0.75"/><line x1="472.83" y1="250.75" x2="469.48" y2="251.79" stroke="#262626" stroke-width="0.75"/><line x1="503.90" y1="267.20" x2="500.56" y2="268.24" stroke="#262626" stroke-width="0.75"/><line x1="503.90" y1="267.20" x2="506.99" y2="268.84" stroke="#262626" stroke-width="0.75"/><line x1="536.44" y1="257.04" x2="539.53" y2="258.68" stroke="#262626" stroke-width="0.75"/><line x1="568.98" y1="246.88" x2="572.07" y2="248.52" stroke="#262626" stroke-width="0.75"/><line x1="601.52" y1="236.72" x2="604.61" y2="238.36" stroke="#262626" stroke-width="0.75"/><line x1="634.06" y1="226.56" x2="637.15" y2="228.20" stroke="#262626" stroke-width="0.75"/><line x1="666.60" y1="216.40" x2="669.69" y2="218.04" stroke="#262626" stroke-width="0.75"/></g>
<g fill="#262626" stroke="#262626" stroke-width="0.22"><text transform="translate(373.00,201.44) scale(1,1.16)" font-size="7.9" text-anchor="end">-0.03</text><text transform="translate(373.00,177.29) scale(1,1.16)" font-size="7.9" text-anchor="end">-0.02</text><text transform="translate(373.00,153.14) scale(1,1.16)" font-size="7.9" text-anchor="end">-0.01</text><text transform="translate(373.00,128.99) scale(1,1.16)" font-size="7.9" text-anchor="end">0</text><text transform="translate(373.00,104.84) scale(1,1.16)" font-size="7.9" text-anchor="end">0.01</text><text transform="translate(373.00,80.69) scale(1,1.16)" font-size="7.9" text-anchor="end">0.02</text><text transform="translate(373.00,56.54) scale(1,1.16)" font-size="7.9" text-anchor="end">0.03</text><text transform="translate(373.00,212.14) scale(1,1.16)" font-size="7.9" text-anchor="end">2</text><text transform="translate(404.08,228.59) scale(1,1.16)" font-size="7.9" text-anchor="end">1</text><text transform="translate(435.15,245.04) scale(1,1.16)" font-size="7.9" text-anchor="end">0</text><text transform="translate(466.23,261.49) scale(1,1.16)" font-size="7.9" text-anchor="end">-1</text><text transform="translate(497.30,277.94) scale(1,1.16)" font-size="7.9" text-anchor="end">-2</text><text transform="translate(510.50,278.84) scale(1,1.16)" font-size="7.9" text-anchor="start">0</text><text transform="translate(543.04,268.68) scale(1,1.16)" font-size="7.9" text-anchor="start">10</text><text transform="translate(575.58,258.52) scale(1,1.16)" font-size="7.9" text-anchor="start">20</text><text transform="translate(608.12,248.36) scale(1,1.16)" font-size="7.9" text-anchor="start">30</text><text transform="translate(640.66,238.20) scale(1,1.16)" font-size="7.9" text-anchor="start">40</text><text transform="translate(673.20,228.04) scale(1,1.16)" font-size="7.9" text-anchor="start">50</text></g>
<g fill="#262626" stroke="#262626" stroke-width="0.25"><text x="0" y="0" font-size="9.80" text-anchor="middle" transform="translate(351.40,129.20) rotate(-90) scale(1,1.16)">Velocity (m/s)</text><text transform="translate(415.40,264.10) scale(1,1.16)" font-size="9.8" text-anchor="middle">Displacement (m)</text><text transform="translate(604.20,267.00) scale(1,1.16)" font-size="9.8" text-anchor="middle">Time (s)</text><text transform="translate(369.90,242.40) scale(1,1.0)" font-size="7.6" text-anchor="start" fill="#555">×</text><text transform="translate(375.80,242.20) scale(1,1.16)" font-size="7.5" text-anchor="start">10</text><text transform="translate(384.40,238.10) scale(1,1.16)" font-size="6.5" text-anchor="start">-3</text></g>
<g fill="#000"><rect x="580.20" y="73.50" width="75.20" height="23.70" fill="#fff" stroke="#262626" stroke-width="0.6"/><line x1="582.80" y1="80.37" x2="600.80" y2="80.37" stroke="#0000ff" stroke-width="0.6"/><line x1="582.80" y1="91.51" x2="600.80" y2="91.51" stroke="#ff0000" stroke-width="0.6"/><text transform="translate(602.60,83.67) scale(1,1.0)" font-size="9.0" text-anchor="start">CryStAl</text><text transform="translate(602.60,95.11) scale(1,1.0)" font-size="9.0" text-anchor="start">Uncontrolled</text></g>
<text x="343.5" y="16.5" font-size="14" fill="#000">(<tspan font-weight="bold">b</tspan>) Bam</text>
<g><line x1="37.00" y1="477.40" x2="37.00" y2="331.00" stroke="#dcdcdc" stroke-width="0.6"/><line x1="37.00" y1="477.40" x2="162.00" y2="543.60" stroke="#dcdcdc" stroke-width="0.6"/><line x1="77.88" y1="464.72" x2="77.88" y2="318.32" stroke="#dcdcdc" stroke-width="0.6"/><line x1="77.88" y1="464.72" x2="202.88" y2="530.92" stroke="#dcdcdc" stroke-width="0.6"/><line x1="118.75" y1="452.05" x2="118.75" y2="305.65" stroke="#dcdcdc" stroke-width="0.6"/><line x1="118.75" y1="452.05" x2="243.75" y2="518.25" stroke="#dcdcdc" stroke-width="0.6"/><line x1="159.62" y1="439.38" x2="159.62" y2="292.98" stroke="#dcdcdc" stroke-width="0.6"/><line x1="159.62" y1="439.38" x2="284.62" y2="505.57" stroke="#dcdcdc" stroke-width="0.6"/><line x1="200.50" y1="426.70" x2="200.50" y2="280.30" stroke="#dcdcdc" stroke-width="0.6"/><line x1="200.50" y1="426.70" x2="325.50" y2="492.90" stroke="#dcdcdc" stroke-width="0.6"/><line x1="37.00" y1="477.40" x2="200.50" y2="426.70" stroke="#dcdcdc" stroke-width="0.6"/><line x1="200.50" y1="426.70" x2="325.50" y2="492.90" stroke="#dcdcdc" stroke-width="0.6"/><line x1="37.00" y1="404.20" x2="200.50" y2="353.50" stroke="#dcdcdc" stroke-width="0.6"/><line x1="200.50" y1="353.50" x2="325.50" y2="419.70" stroke="#dcdcdc" stroke-width="0.6"/><line x1="37.00" y1="331.00" x2="200.50" y2="280.30" stroke="#dcdcdc" stroke-width="0.6"/><line x1="200.50" y1="280.30" x2="325.50" y2="346.50" stroke="#dcdcdc" stroke-width="0.6"/><line x1="200.50" y1="426.70" x2="200.50" y2="280.30" stroke="#dcdcdc" stroke-width="0.6"/><line x1="37.00" y1="477.40" x2="200.50" y2="426.70" stroke="#dcdcdc" stroke-width="0.6"/><line x1="231.75" y1="443.25" x2="231.75" y2="296.85" stroke="#dcdcdc" stroke-width="0.6"/><line x1="68.25" y1="493.95" x2="231.75" y2="443.25" stroke="#dcdcdc" stroke-width="0.6"/><line x1="263.00" y1="459.80" x2="263.00" y2="313.40" stroke="#dcdcdc" stroke-width="0.6"/><line x1="99.50" y1="510.50" x2="263.00" y2="459.80" stroke="#dcdcdc" stroke-width="0.6"/><line x1="294.25" y1="476.35" x2="294.25" y2="329.95" stroke="#dcdcdc" stroke-width="0.6"/><line x1="130.75" y1="527.05" x2="294.25" y2="476.35" stroke="#dcdcdc" stroke-width="0.6"/><line x1="325.50" y1="492.90" x2="325.50" y2="346.50" stroke="#dcdcdc" stroke-width="0.6"/><line x1="162.00" y1="543.60" x2="325.50" y2="492.90" stroke="#dcdcdc" stroke-width="0.6"/></g>
<g><line x1="37.00" y1="331.00" x2="200.50" y2="280.30" stroke="#262626" stroke-width="0.75"/><line x1="200.50" y1="280.30" x2="325.50" y2="346.50" stroke="#262626" stroke-width="0.75"/><line x1="325.50" y1="346.50" x2="325.50" y2="492.90" stroke="#262626" stroke-width="0.75"/><line x1="37.00" y1="477.40" x2="200.50" y2="426.70" stroke="#262626" stroke-width="0.75"/><line x1="200.50" y1="426.70" x2="325.50" y2="492.90" stroke="#262626" stroke-width="0.75"/><line x1="37.00" y1="477.40" x2="162.00" y2="543.60" stroke="#262626" stroke-width="0.75"/><line x1="162.00" y1="543.60" x2="325.50" y2="492.90" stroke="#262626" stroke-width="0.75"/><line x1="200.50" y1="280.30" x2="200.50" y2="426.70" stroke="#262626" stroke-width="0.75"/><line x1="37.00" y1="331.00" x2="37.00" y2="477.40" stroke="#262626" stroke-width="0.75"/></g>
<path d="M99.5 437.1l1 0.1M101.2 436.6l1 0.1M102.8 436.1l0.9 0.1M104.3 435.5l1 0.3M105.9 435l0.9 0.3M107.4 434.5l1 0.4M109 434l1.1 0.3M110.8 433.5l1 0.2M112.5 433l1 0.2M114.1 432.5l1 0.3M115.6 431.9l1.2 0.5M117.3 431.3l1.1 0.6M119 430.9l1 0.4M120.6 430.5l0.9 0.2M122.1 430l1 0.2M123.7 429.5l1 0.4M125.2 428.9l1 0.6 0.1 0M126.8 428.4l1.1 0.5M128.5 428l1 0.2M130.2 427.5l0.9 0.3M131.7 426.9l1 0.5M133.3 426.5l1 0.3M135 426l1 0.3M136.6 425.4l1.1 0.5M138.3 424.9l1.1 0.4M139.9 424.4l1 1.4 0.4 0.3M140 420.1l-1.4 0.3-0.7 1.7 0.7 3.2 2.3 3.3 2.5 1.7 1.3 0.2M140.7 415.9l-2.1 0.3-1.6 1.5-0.8 2.7 0.4 3.4 1.3 3.8 2.3 3.5 3 2.7 3.2 1.6 2 0.2M141.2 414l-2 0.5-1.5 1.2-1.4 3 0 4.1 1.3 4.7 2.6 4.4 3.4 3.4 3.6 2.1 3.5 0.3M142.4 413.2l-2.4 0.2-1.9 1.1-1.5 2-0.8 2.7 0.1 5.1 1.7 5.7 3.3 5.5 4.3 4.4 3.2 2 3.2 1.1 3 0M143.2 409.3l-3.4 0.2-2.8 1.4-2.1 2.7-1.1 3.7-0.2 4.5 0.9 5.1 1.9 5.1 2.8 4.9 3.5 4.3 3.9 3.4 4.2 2.3 4.1 0.9 3.6-0.5M144.4 406.6l-3.9 0.1-1.8 0.6-1.5 1-2.4 3-1.4 4.2 0.2 5.1 1.3 5.5 2.3 5.4 3.1 5 3.7 4.2 4 3.1 4.1 1.9 3.8 0.5 3.3-0.8M147.9 412.3l-2.6 0.3-2.1 1.2-1.4 2.2-0.7 2.8 0.4 4.8 1.8 5.1 3 4.3 3.5 3.5 3.9 2.1 2.4 0.3 2.2-0.5M149.2 412.4l-2.7-0.1-2.4 0.9-1.8 2.1-1 2.9-0.2 3.6 0.7 4.2 2.7 6.4 2.7 3.9 3.3 3.3 3.5 2.5 3.6 1.3 3.5 0.1M150.3 408.3l-3.4 0.1-2.7 1.4-2 2.6-1.1 3.5 0 4.3 0.9 4.6 1.8 4.7 2.7 4.4 3.2 3.7 3.6 2.9 3.6 1.8 3.5 0.6 3.1-0.6M152.6 409.7l-3-0.1-2.6 0.9-2 1.8-1.4 2.8-0.5 3.5 0.4 4.1 2.1 6.6 3.8 6.2 3.3 3.5 3.6 2.7 3.7 1.6 3.5 0.5 1.6-0.3M152.6 404.5l-3.8-0.2-3.2 1.2-2.6 2.5-1.6 3.7-0.6 4.6 0.5 5.3 1.6 5.7 2.9 5.5 3.7 5 4.2 4.1 4.4 2.8 4.4 1.5 4.1 0 1.8-0.5M153.9 405.3l-3.3 0.4-2.7 1.7-1.9 2.8-0.9 3.6 0 4.4 0.9 4.6 1.8 4.7 4.1 6.4 3.3 3.4 3.6 2.6 3.6 1.4 3.3 0.3 1.6-0.2M154.5 403l-3.9 0.1-1.8 0.6-1.5 1-1.4 1.4-2 3.7-0.8 4.9 0.4 5.8 1.7 6.1 2.8 6.3 3.9 5.8 4.6 5 5.2 3.8 5.3 2.3 2.6 0.5 2.6 0M152.7 394.3l-2.4 0.2-2.3 0.7-2 1.1-1.8 1.5-1.5 1.9-1.2 2.3-1.4 5.4-0.2 6.4 1.3 7 2.5 7.1 3.6 6.9 4.6 6.2 5.2 5.1 5.6 3.9 5.6 2.2 2.7 0.5 2.6 0 2.4-0.3M155.4 393.6l-2.4 0-2.3 0.5-2.2 1-1.8 1.3-1.7 1.7-1.3 2.1-1.8 5.1-0.5 6.2 0.9 6.8 2.1 7.1 3.4 7 4.3 6.5 5 5.5 5.6 4.3 5.6 2.8 2.8 0.7 2.7 0.4 2.6-0.1M155.9 391.7l-2.6 0.2-2.4 0.6-2.2 1.1-2 1.5-1.7 1.9-1.3 2.4-1 3.1-0.5 3.6-0.1 3.9 0.4 4.1 0.9 4.2 3.1 8.5 4.5 8 5.6 6.9 3.1 2.9 3.3 2.4 3.2 1.9 3.3 1.3 3.1 0.8 3 0.2 2.9-0.4M158.2 395l-2.6 0.4-2.3 0.9-2.1 1.5-1.8 1.9-1.3 2.5-1 2.8-0.5 3.2-0.1 3.5 0.4 3.8 2 7.7 3.5 7.8 4.8 7 5.8 5.7 3.1 2.2 3.1 1.8 3.1 1.2 3.1 0.6 2.6 0.1 2.4-0.4M159.3 392.5l-2.4 0.2-2.3 0.6-2.1 1.1-1.8 1.5-1.6 1.9-1.3 2.2-0.9 2.6-0.9 6.1 0.5 6.9 2 7.4 3.2 7.3 4.3 6.9 5.2 6.1 5.8 4.7 6 3.2 3 0.9 2.9 0.5 2.8 0M162.5 390.3l-2.7 0-2.5 0.4-2.3 1-2 1.3-1.7 1.8-1.5 2.2-1.1 2.5-1.2 5.9 0.2 6.8 1.6 7.2 2.9 7.3 3.9 6.8 4.9 6.1 5.3 4.8 5.7 3.5 5.5 1.7 2.6 0.3 2.5-0.2M164.2 393l-2.6 0.2-2.3 0.6-2.2 1.2-1.8 1.6-1.5 2.1-1.1 2.4-0.8 2.8-0.4 3.1 0.4 6.9 1.9 7.3 3.3 7.2 4.4 6.5 5.3 5.5 5.6 3.9 2.9 1.4 2.8 0.8 2.7 0.4 2.6-0.2M165.7 393.6l-2.5 0.2-2.3 0.6-2 1.1-1.8 1.6-1.5 2-1.1 2.4-0.8 2.8-0.5 6.1 0.6 6.2 1.9 6.8 3.1 6.7 4.1 6.4 5 5.6 5.6 4.4 5.8 3 2.9 0.8 2.9 0.4 2.7 0M163.9 381.9l-3.3 0-3.2 0.5-2.9 1.1-2.6 1.6-2.3 2.3-1.9 2.8-1.5 3.2-1.1 3.8-0.6 4.1-0.1 4.5 0.4 4.8 0.8 5 1.4 5.1 1.8 5.1 2.2 5.2 2.7 5 3.1 4.8 3.4 4.6 3.8 4.1 4.1 3.4 4.1 2.9 4.2 2.3 4.1 1.6 4.1 1 3.8 0.4 3.6-0.3M167.4 382.3l-3.1 0.1-2.9 0.7-2.7 1.2-2.3 1.7-2 2.2-1.6 2.6-1.2 3-0.8 3.4-0.4 3.6 0.4 7.9 2 8.4 3.4 8.2 4.6 7.7 5.5 6.6 6 5.2 6.2 3.6 3.1 1.1 2.9 0.6 2.9 0.2 2.6-0.4M166.7 377.5l-3.7-0.3-3.5 0.4-3.2 1-3 1.7-2.6 2.3-2.3 3-1.7 3.5-1.3 4.1-0.8 4.5-0.2 5 0.3 5.3 0.9 5.6 1.4 5.8 2.1 5.8 2.5 5.9 3 5.7 3.5 5.6 4 5.2 4.2 4.9 4.6 4.4 4.8 3.8 5 3.2 5 2.5 5 1.8 5 0.9 4.7 0.1M160.5 360.2l-4.9 0.8-4.4 1.7-4 2.7-3.4 3.5-2.7 4.3-2.2 5-1.4 5.7-0.7 6.2 0.1 6.7 0.8 7 1.5 7.2 2.2 7.3 2.9 7.3 3.5 7.1 4 6.9 4.6 6.4 4.9 6 5.3 5.4 5.6 4.6 5.7 3.9 5.7 3 5.7 2.2 5.6 1.2 5.3 0.2M161.9 361.4l-4.7 1.3-4.2 2.5-3.5 3.4-2.8 4.2-2.1 4.9-1.4 5.6-0.6 6.1 0.2 6.5 0.9 6.8 1.6 6.8 2.3 6.9 3 6.7 3.5 6.5 3.9 6 4.4 5.6 4.7 4.9 4.8 4.3 5 3.5 5 2.7 4.9 1.8 4.8 1 4.4 0 4.1-0.7M174.8 382.9l-3 0.5-2.7 1.2-2.3 1.7-1.9 2.3-1.4 2.7-2 6.2-0.5 3.5 0 3.8 0.5 4 1 4.2 1.3 4.2 4 8.2 5.3 7.3 3 3.2 3.2 2.8 3.3 2.2 3.3 1.8 3.3 1.1 3.2 0.6 3 0M172.4 377.2l-3.7 0-3.4 0.7-3.1 1.5-2.8 2.2-2.3 2.9-1.8 3.6-1.2 4.2-0.7 4.7-0.1 5.1 0.6 5.5 1.1 5.8 1.8 5.9 2.4 6 3 5.8 3.5 5.7 3.9 5.3 4.4 4.9 4.6 4.4 4.9 3.8 5.1 3 5.1 2.3 5 1.4 4.9 0.5M171 364.3l-4.3 0.7-3.9 1.5-3.4 2.2-2.9 3-2.4 3.7-1.7 4.3-1.2 4.8-0.5 5.2 0 5.6 0.7 5.8 1.3 5.9 1.9 5.9 2.3 5.9 2.9 5.7 3.2 5.4 3.7 5.1 3.9 4.7 4.1 4.1 4.3 3.6 4.4 2.9 4.4 2.3 4.3 1.6 4.2 0.9 4 0.2 3.7-0.5M175.5 375.2l-3.5 0.2-3.2 1-2.9 1.6-2.5 2.2-2.1 2.9-1.6 3.5-1.1 4-0.6 4.4 0 4.8 0.6 5.1 1.1 5.3 1.6 5.3 2.2 5.4 2.6 5.3 3.1 5.1 3.5 4.8 3.8 4.5 4.1 3.9 4.3 3.5 4.4 2.8 4.5 2.1 4.4 1.5 4.3 0.7 4.1-0.1M173.2 362.2l-4.5 0.3-4.1 1.1-3.8 2-3.3 2.8-2.7 3.6-2.2 4.3-1.5 5-0.9 5.5-0.2 6 0.4 6.3 1.3 6.7 2 7 2.7 6.9 3.3 6.7 3.9 6.5 4.3 6.1 4.7 5.7 5 5 5.3 4.4 5.4 3.6 5.4 2.9 5.5 1.9 5.2 1.1 5 0.1M171.1 356.3l-4.7 1-4.3 1.9-3.8 2.7-3.3 3.7-2.5 4.4-2 5.2-1.1 5.8-0.5 6.4 0.3 6.8 1.1 7.1 1.8 7.2 2.5 7.4 3.1 7.2 3.8 7.1 4.4 6.8 4.8 6.3 5.2 5.7 5.6 5 5.7 4.4 5.8 3.4 5.9 2.6 5.8 1.6 5.4 0.4 4.6-0.9M179 367.5l-3.2 0.9-2.8 1.4-2.5 2-2.1 2.4-1.7 2.9-1.3 3.3-0.9 3.6-0.4 3.8 0.3 8.2 1.9 8.5 3.3 8.4 4.3 7.7 5.2 6.8 8.5 8.3 6.2 4.2 6.2 2.6 3 0.7 3 0.2M184.3 374l-3.4 0.2-3.2 0.6-3 1.4-2.7 2-2.2 2.7-1.7 3.3-1.1 3.9-0.6 4.4-0.1 4.8 0.6 5.1 1.2 5.3 1.7 5.4 2.3 5.5 2.8 5.3 3.3 5.1 3.7 4.7 4 4.4 4.3 3.7 4.5 3.2 4.5 2.5 4.6 1.7 4.5 0.9 4.3 0.1M177.6 356.8l-4.4 0.9-4.1 1.7-3.5 2.6-3.1 3.4-2.4 4.2-1.7 4.8-1.1 5.5-0.4 5.9 0.3 6.3 1 6.5 1.6 6.8 2.4 6.7 2.9 6.7 3.5 6.5 4 6.2 4.5 5.7 4.7 5.3 5.1 4.6 5.2 3.9 5.4 3.1 5.3 2.3 5.2 1.4 5 0.5M179.5 355.6l-4.5 0.7-4.1 1.7-3.7 2.6-3.1 3.4-2.5 4.2-1.8 4.8-1.2 5.5-0.5 5.9 0.3 6.4 1 6.6 1.6 6.9 2.3 6.8 2.9 6.8 3.4 6.7 3.9 6.5 4.4 6.1 4.9 5.6 5.2 5 5.4 4.3 5.6 3.6 5.6 2.7 5.6 1.8 5.4 0.9M177.2 344.6l-5.5 0.7-5.1 1.8-4.6 2.8-4 3.8-3.2 4.8-2.5 5.7-1.7 6.5-0.9 7.1 0 7.7 0.9 8.2 1.8 8.4 2.5 8.6 3.4 8.6 4.2 8.4 4.8 8.1 5.4 7.7 5.9 7.1 6.4 6.3 6.6 5.6 6.9 4.7 6.9 3.6 7 2.6 6.7 1.5 6.5 0.2M181.6 346.5l-4.9 1-4.4 1.9-3.9 2.8-3.3 3.6-2.7 4.3-2 5-1.3 5.6-0.7 5.9 0.1 6.4 0.7 6.6 1.4 6.7 2 6.7 2.6 6.7 3 6.4 3.6 6.2 3.9 5.8 4.3 5.3 4.5 4.8 4.7 4.2 4.7 3.6 4.8 2.9 4.8 2.1 4.6 1.4 4.5 0.7 4.2-0.1M184.3 359.3l-4 0.6-3.6 1.4-3.3 2.1-2.8 2.9-2.4 3.5-1.9 4.2-1.2 4.8-0.7 5.2-0.1 5.8 0.6 6 1.2 6.3 1.8 6.5 2.4 6.5 3.1 6.5 3.5 6.3 4 6 4.5 5.7 4.8 5.2 5.1 4.7 5.3 3.9 5.5 3.3 5.5 2.5 5.4 1.6 5.3 0.8M181 338.2l-5.4 1.3-4.8 2.3-4.3 3.3-3.7 4.1-2.9 5-2.2 5.7-1.4 6.4-0.6 6.9 0.1 7.3 0.9 7.6 1.7 7.7 2.4 7.8 3.1 7.7 3.6 7.5 4.3 7.2 4.7 6.8 5.1 6.2 5.4 5.5 5.6 4.9 5.7 4.1 5.8 3.2 5.7 2.3 5.6 1.4 5.3 0.5 5-0.4M191 358.3l-3.9 0.9-3.5 1.6-3 2.3-2.5 3-2 3.5-1.5 4.1-0.9 4.5-0.3 4.9 0.2 5.2 1.5 10.2 1.3 5.1 1.8 5.2 2.2 5.2 2.6 5 3 4.9 3.4 4.6 3.6 4.3 3.9 3.8 4.1 3.4 4.1 2.9 4.3 2.3 4.2 1.7 4.2 1 4 0.3M191.9 355l-4.3 0.3-3.9 1-3.6 1.7-3.2 2.5-2.7 3.2-2.2 3.8-1.7 4.5-1.1 4.9-0.4 5.5 0.1 5.8 0.8 6.1 1.3 6.3 2 6.4 2.6 6.4 3 6.3 3.6 6.1 4 5.8 4.4 5.4 4.7 4.9 5 4.3 5.3 3.5 5.4 2.7 5.3 1.9 5.1 1 4.9 0.1M192.5 354.6l-4.2 0.7-3.8 1.6-3.4 2.4-2.9 3.1-2.3 3.8-1.7 4.4-1.2 4.9-0.4 5.4 0.1 5.8 0.8 6 1.4 6.1 2 6.2 2.6 6.2 3 5.9 3.6 5.7 3.9 5.3 4.2 4.9 4.5 4.3 4.6 3.7 4.8 3 4.7 2.3 4.7 1.6 4.5 0.7 4.3 0M191.2 349.1l-4.8 0.4-4.6 1.3-4.1 2.3-3.6 3.2-3 4-2.4 4.9-1.7 5.6-1 6.3-0.1 6.9 0.6 7.3 1.4 7.7 2.2 7.8 2.9 8 3.7 7.8 4.4 7.7 5 7.3 5.5 6.8 5.9 6.2 6.3 5.4 6.5 4.7 6.7 3.6 6.7 2.7 6.6 1.6 6.3 0.4M183.4 326.2l-6.3 1.7-5.7 3-5 4.2-4.2 5.2-3.3 6.3-2.3 7.2-1.4 8-0.4 8.6 0.6 9.1 1.5 9.5 2.5 9.6 3.4 9.6 4.2 9.5 5 9.2 5.7 8.6 6.2 8.1 6.7 7.3 7.1 6.4 7.2 5.4 7.4 4.4 7.3 3.3 7.2 2 6.9 0.9 6.5-0.4M188.7 336.2l-5.5 1.6-4.9 2.7-4.2 3.7-3.6 4.7-2.7 5.6-2 6.4-1 7-0.3 7.5 0.2 8 1.1 8.4 2 8.7 2.8 8.8 3.7 8.8 4.5 8.6 5.2 8.2 5.9 7.8 6.3 7.1 6.8 6.3 7 5.4 7.3 4.3 7.3 3.3 7.1 2 7 0.8M185.6 325.1l-6.5 1.7-5.9 3.1-5.2 4.4-4.3 5.5-3.3 6.7-2.4 7.6-1.3 8.5-0.2 9.2 0.8 9.7 1.8 10 2.9 10.2 3.9 10.2 4.7 10 5.6 9.6 6.2 9.1 6.9 8.4 7.3 7.5 7.7 6.5 7.9 5.4 8 4.2 7.9 2.9 7.6 1.6 7.2 0.2M191.1 325.1l-6.6 1.1-6.1 2.3-5.3 3.5-4.6 4.7-3.8 5.7-2.7 6.9-1.6 7.9-0.7 8.5 0.4 9 1.4 9.4 2.3 9.5 3.2 9.6 4 9.3 4.7 9.1 5.4 8.6 6 8 6.5 7.2 6.7 6.4 7 5.5 7.1 4.4 7 3.3 6.9 2.2 6.6 1 6.3-0.1M197.7 336.7l-5.6 0.7-5.2 1.7-4.6 2.8-4 3.8-3.3 4.6-2.6 5.6-1.7 6.3-1 6.9-0.1 7.5 0.7 7.9 1.6 8.2 2.4 8.3 3.1 8.3 3.9 8.1 4.5 7.9 5 7.4 5.6 6.9 6 6.2 6.2 5.5 6.5 4.6 6.5 3.6 6.5 2.7 6.4 1.5 6.1 0.6M199.8 334.9l-5.9 0.6-5.4 1.7-4.9 2.8-4.2 3.9-3.5 4.8-2.7 5.8-1.8 6.6-1 7.3 0 7.9 0.8 8.2 1.8 8.6 2.6 8.7 3.4 8.6 4.1 8.4 4.9 8.1 5.4 7.6 5.9 7 6.3 6.3 6.6 5.4 6.7 4.4 6.8 3.4 6.8 2.3 6.5 1.2 6.2 0M201 333.5l-6 0.5-5.5 1.7-4.9 2.8-4.3 4-3.6 4.9-2.7 5.8-1.9 6.7-0.9 7.4-0.1 8 0.8 8.3 1.8 8.7 2.6 8.8 3.5 8.3 4.2 8.1 4.8 7.7 5.3 7.2 5.7 6.5 6 5.8 6.2 5 6.3 4.1 6.3 3.1 6.1 2.1 6 1.2 5.7 0.1M205.3 347.3l-4.2 1.1-3.7 1.9-3.3 2.7-2.8 3.4-2.1 4-1.6 4.6-1 5-0.3 5.5 0.3 5.7 0.8 5.9 1.5 6 2 6 2.5 5.9 2.9 5.7 3.4 5.5 3.7 5 4 4.6 4.1 4.1 4.4 3.6 4.4 2.9 4.3 2.2 4.3 1.6 8.3 1.4 3.9-0.1M210.1 353.5l-3.9 0.5-3.6 1.1-3.2 1.9-2.8 2.6-2.3 3.2-1.8 3.9-1.3 4.3-0.7 4.8-0.2 5.2 0.5 5.5 1 5.8 1.6 5.8 2.1 5.8 2.6 5.8 3.1 5.6 3.5 5.3 3.9 5 4.2 4.6 4.4 4 4.6 3.4 4.6 2.8 4.7 2.1 4.6 1.4 4.4 0.6 4.2-0.2M207.1 347.2l-4.5 0.9-4 1.8-3.6 2.6-3 3.5-2.5 4.2-1.8 5-1.1 5.6-0.4 6.1 0.3 6.5 1 6.9 1.8 7 2.5 7.2 3.1 7 3.7 6.9 4.3 6.6 4.7 6.2 5.2 5.6 5.4 4.9 5.7 4.3 5.8 3.4 5.8 2.4 5.8 1.6 5.5 0.5M204.6 336.5l-4.9 1.8-4.3 2.7-3.7 3.6-3.1 4.5-2.3 5.2-1.6 5.9-0.8 6.5 0 6.8 0.8 7.2 1.5 7.3 2.2 7.4 2.8 7.4 3.5 7.1 4 6.8 4.4 6.4 4.9 5.8 5.1 5.2 5.3 4.5 5.4 3.8 5.5 2.9 5.3 2 5.2 1.1 4.9 0.3 4.6-0.6M213.5 354.4l-3.4 1.2-3 1.9-2.5 2.6-2.1 3.1-1.6 3.7-1.1 4.1-0.5 4.4 0 4.8 0.5 5 1.1 5 3.4 10.6 2.4 5.4 2.9 5.2 3.4 4.9 3.6 4.6 4 4.1 4.2 3.5 4.3 3 4.3 2.2 4.3 1.5 4.2 0.7 3.9 0M217.8 356.1l-3.8 0.6-3.4 1.3-3.1 2.1-2.5 2.8-2 3.5-1.5 4.1-0.8 4.6-0.3 5 0.4 5.3 1 5.6 1.6 5.7 2.2 5.7 2.7 5.6 3.1 5.3 3.6 5 4 4.6 4.2 4.1 4.3 3.4 4.5 2.8 4.5 2.1 4.4 1.3 4.3 0.5M217.4 356.8l-3.5 1.1-3.1 1.9-2.6 2.6-2.1 3.2-1.5 3.9-1 4.4-0.3 4.8 0.2 5.1 0.9 5.4 1.5 5.4 2 5.5 2.5 5.3 3 5.2 3.4 4.8 3.7 4.4 3.9 3.9 4.2 3.3 4.2 2.6 4.2 1.9 4.2 1.3 3.9 0.4 3.8-0.3M220.3 359.3l-3.2 0.9-2.9 1.5-2.4 2.2-2.1 2.7-1.6 3.3-1 3.9-0.6 4.2 0 4.5 0.6 4.9 1 4.9 1.6 5.1 2.1 5 2.5 4.8 2.9 4.7 3.2 4.3 3.6 4 3.7 3.5 3.9 3 3.9 2.3 4 1.8 3.9 1 3.7 0.4M221.1 357.3l-3.2 0.9-2.9 1.5-2.6 2.2-2.1 2.8-1.6 3.3-1.1 3.8-0.7 4.2-0.1 4.6 0.5 4.8 1 5 1.4 5.1 2 5.1 2.6 5 3 4.8 3.3 4.5 3.6 4 3.8 3.6 3.9 3 3.9 2.3 4 1.8 3.8 1.1 3.7 0.4 3.5-0.3M225.6 362l-2.7 0.8-2.5 1.3-2.2 1.8-1.7 2.4-1.4 2.8-0.9 3.2-0.5 3.5-0.1 3.8 0.4 4 2 8.2 3.6 8.2 4.8 7.4 5.7 6.2 6.2 4.6 3.1 1.5 3.1 1.1 3 0.6 2.8 0M230.6 366.5l-2.3 0.3-2.1 0.6-1.9 1.1-1.6 1.4-1.4 1.8-1.9 4.5-0.7 5.5 0.5 6.2 1.8 6.6 2.9 6.4 3.8 6 4.5 5.2 5 4 5.1 2.7 5 1.2 2.3 0M230.9 367.7l-2.1 0.5-1.8 0.9-1.6 1.3-2.5 3.5-1.4 4.8-0.2 5.6 1 6.1 2.1 6.4 3.2 6.1 4.1 5.5 4.6 4.7 5 3.4 4.9 2 4.8 0.5M234 367.3l-2.3 0.5-2 0.9-1.8 1.4-1.5 1.8-1.2 2.2-0.8 2.5-0.5 5.8 0.9 6.5 2.2 6.8 3.5 6.4 4.4 5.6 5 4.4 5.2 2.8 2.6 0.7 2.4 0.4 2.4-0.2M235.8 370.1l-2.1 0.5-1.8 1-1.6 1.3-1.3 1.8-0.9 2.1-1 5.2 0.5 6 1.9 6.4 3.1 5.9 3.8 5 4.4 3.9 4.5 2.6 4.4 1.2 2 0M238.8 374.7l-2.6 1.4-1.9 2.6-0.9 3.4 0 4.1 1 4.4 3 6.3 4.3 5.2 3.3 2.4 3.2 1.4 3 0.2" fill="none" stroke="#ff0000" stroke-width="0.75" stroke-linejoin="round"/><path d="M99.4 437l1.3 0.3 0.3-0.4 0.4-0.2 0.7 0.1 0.3-0.3 0.4-0.3 0-0.1 1.4 0.1 0.3-0.7 1.1 0.3 0.3-0.7 0.9 0.4 0.4-0.8 0.6 0.1 0.8 0 0.2-0.5 1 0 0.3-0.3 0.4-0.3 0.7 0.3 0.8-0.7-0.1 0 1.4 0.2 0.1-0.7 0.7 0.6 0.5-1.2 0.7 0.6 0.6-0.7-0.2-0.2 1.4 0.5 0.2-0.8 1.3 0.2 0.3-0.5 0.2-0.3 0.8 0.2 0.7-0.4-0.4-0.6 0.5 0.7 0.3-0.2 0.6 0 0.2-0.3 0.3-0.1 0.7 0.2 0.2-1.1 0.4 0.8 0.8-0.2 0.4-0.6 0.4 0.2 0.8 0.3 0.2-1.1 0.1-0.1 0.8 0.8 0.5-0.8 0.3-0.7 0.5 0.6 1.1-0.2 0-0.5 1.2 0.4 0.3-0.9 1.2 0.1 0.2-0.5 1.2 0.1 0.2-0.6 0.9 0.6 0.3-1.2 0.6 0.7 0.5-0.4 0.5-0.1-0.3-0.9 0.3 0.8 1.4 0.3-0.1-1.3 0.1 0.3-0.1-0.4 0.6 0.9 0.9-1.1-0.2-0.1 1 0.6 0.8-0.4-0.3-1.4-0.7-0.2 0 1.2 1 0.8 0.4-0.3 1 1.4 1 0.1 0.6-1.2-0.4-2.7-1.1-1.5-1.2-0.2-0.7 1.1 0.4 1.7 0.5 0.3 0.1-1-0.6-0.4-0.3 1.1 0.5 2.2 1.5 2.1 1.9 0.6 1.3-1.2 0.3-2.1-0.9-2.4-1.3-0.9-0.6-0.2-0.9-0.9-0.7 0.5-0.2 1.7 0.8 2.3 1.7 1.5 1.1 0.1 1-1.4-0.2-2.2-0.8-0.8-0.4 0.8 0.7 1.6 0.9 0.5 0.8-0.5 0.5-1.7-0.9-3.7-1.5-2.1-1.9-1-0.9 0.1-1.3 1.3-0.4 2.5 0.4 2.6 1.2 2 1.3 0.4 0.8-0.7-0.1-1.6-0.4-0.3-0.4 1.5 1 2.8 2.1 2.3 1.6 0.4 1.3-0.6 1-2.1-0.3-3.6-1.5-2.6-3.7-2-0.9 0.1-0.7 1.2 0.2 2.5 1.4 3.1 2.3 2 1.3 0.3 1.2-0.7 0.7-2.4-0.6-2.3-1-0.8-0.3 0.9 0.7 1 0.7-0.3 0.3-2.6-0.7-2.6-1.6-2.3-2-1.2-1 0.2-0.8 0.7-0.8 2.5 0.3 3.2 1.4 2.9 1.7 1.6 1.6-0.1 0.8-1.3-0.2-2.5-0.7-0.6-0.6 0.6 0.6 2.6 1.1 1.5 1.4 0.3 1-1.2 0.2-2.3-0.6-2.5-1.2-1.7-1.3-0.6-0.9 0.7-0.1 2.1 0.8 1.3 0.7-0.6-0.4-1.5-1-0.6-0.6 1.2 0.4 2.1 1.4 2.1 1.4 0.7 1.3-0.2 0.8-1.3-0.1-3.1-1.5-2.4-1.1-0.3-0.9 0.7-0.1 2 0.8 0.8 0.4-1.4-1.1-2.2-1.3-0.7-1.1 0.9-0.4 2.4 0.6 3.3 1.6 3.3 2.3 2.3 1.2 0.5 1.2 0.1 1-0.3 1.5-1.7 0.5-2.7-0.7-3.7-1.4-1.6-0.7 0.3 0.2 1.5 0.9 0.7 0.6-0.7 0.1-2.9-1.4-3.9-1.7-2-1.9-0.9-1.7 0.4-1.1 1.7-0.3 2.4 0.9 3.7 1.8 2.2 1 0.1 0.8-1.3-0.2-0.8 0.3 2 1.4 2.4 1.4 1.1 1.5 0.1 1.2-1 0.6-1.9-0.5-3.8-1.8-3.3-2.3-1.7-1.9 0-1.1 1.2-0.3 2.2 1.8 6.1 1.9 3 1.9 1.5 2 0.5 1.8-0.7 1.2-1.9 0.2-2.8-1-4.2-2.1-2.4-1.2-0.3-0.9 1 0.2 0.8 0.4-1-0.8-2.8-1.3-2-1.7-1.3-1.9 0.2-1.4 1.7-0.4 3.3 0.7 4 1.7 3.5 2.2 2.5 2.3 0.8 1.8-0.5 1.2-1.6 0.3-2.7-0.6-1.6 0.2 1.1 1 0.6 0.8-0.5 0.6-2.7-0.8-4.2-1.5-2.9-2.1-2.2-2.3-1.1-2.1 0.5-1.4 1.7-0.6 2.8 0.6 4.4 1.9 3.1 1.8 1 1.2-0.8 1.1 3.1 2 2.5 1.7 0.8 1.6-0.3 1.2-1.4 0.6-3.5-0.8-3.6-1.5-2.4-1.4-0.4-0.7 0.6-0.5 0-1.3-3.1-1.8-1.7-1.5-0.2-1.3 1.1-0.7 2.5 0.2 3.4 1.2 4 2.1 3.7 2.8 2.6 1.5 0.8 1.5 0.2 1.2-0.4 1.7-2.4 0.6-3.2-0.4-3.4-1.1-2.7-1.4-1.6-1.2-0.4-0.9 0.5-0.4 1.4 0.5 1 0.5-0.3-0.4-2.1-1.3-1.3-1.2-0.2-0.7 1.7 0.3 3.2 1.8 3.2 1.7 1.1 1.6-0.1 1.1-1.3 0.4-2.9-0.9-1.9-0.5 0.1 0.3 1.7 1.1 1 1-0.4 0.5-2.1-0.4-3.4-1.7-3.6-2.5-2.7-1.4-0.7-1.3 0-1.2 0.5-0.9 1-0.7 1.5-0.1 3.7 1.1 3.6 1.8 2.4 1.7 0.7 1.1-0.7 0.3-1.2 0.5 2.1 1.2 1.8 1.7 1 0.9 0 1.4-1.2 0.6-2.5-0.4-3-1.1-2.7-1.6-1.7-1.3-0.4-1.2 0.8-0.3 0.6-1.2-1.2-1.2 0.2-0.6 1.3 0.4 3.7 1.3 2.9 2 2.1 1.1 0.5 1 0.1 1-0.4 1.2-1.9 0.2-2.8-0.9-2.5-1.3-1.3-0.7 0-0.8 1.2 0.2 2.1 0.4 1 0.7 0.6 0.7 0.2 0.6-0.3 0.7-1.9-0.4-2.9-1.3-2.7-1.8-1.8-1.9-0.3-1.3 1.3-0.5 2.4 0.9 4 1.9 2.7 1.9 1 2.4-0.5 1.7-2.9-0.1-2.6-1.3-3-1.7-1.9-1.9-0.5-1.1 0.7-0.7 2 0.3 2.6 1.2 2 1.2 0.6 0.6-0.8-0.2 0.9 0.9 2.7 2.2 2.7 2 0.8 1.8-0.7 0.6-1 0.4-3-0.5-3.1-1.3-2.5-1.4-1.5-1.3-0.3-1.1 1-1.5-1.5-1.2 0.4-0.3 2 1.3 3.6 2 2.2 2.1 0.4 1.4-1 0.7-2.5-0.7-2.8-1.8-2.7-1.9-1.5-2-0.2-1.1 0.7-0.3 3.1 0.8 3 1.9 2.9 1.6 1.2 1.5 0.2 1.1-0.7 0.6-1.9-0.5-1.2 0.4 1 0.7 0.2 0.7-0.6 0.3-2-1-3.6-1.5-1.9-1.6-0.8-1.3 0.5-0.7 1.4 0.1 2.6 0.9 1.7 0.8 0-0.1-0.6-0.1 1.5 0.9 2.4 2 2.3 1.6 0.6 1.4-0.4 1-1.5 0.3-3.4-1.1-3.2-1.7-1.7-1.3 0.1-0.3 1-1.1-2.3-1.8-1.2-1.3 0.5-0.8 1.7-0.1 2.9 0.9 3.5 1.8 3.2 2.5 2.3 2.4 0.7 2.1-0.8 1.2-2 0.3-3.5-0.7-2.1-1.2-0.7-0.2 0.3 0.2-1.9-1.3-4-2-2.5-1.2-0.8-1.2-0.3-1.1 0.3-1 0.9-0.7 1.5-0.3 2.1 0.1 2.4 0.6 2.6 1 2.5 1.4 2.3 1.6 1.9 1.8 1.2 1.7 0.5 1.6-0.4 1.4-1.1 0.8-1.8 0.2-2.2-0.9-4.1-1.9-2.7-0.9-0.4-0.8 0.1-0.6 0.6-0.2 2.2 0.9 2.1 0.7 0.5 0.7 0.1 0.6-0.4 0.6-2.2-0.6-3.3-1.7-2.9-1.1-1-1.1-0.5-1.1 0-0.8 0.5-1.1 2.1 0 2.6 1.3 3.2 1.2 1.1 0.9-0.2 0.1-1.4-0.5 0.1-0.2 1.7 1 3.3 2.3 3.3 1.6 1.2 1.6 0.4 1.5-0.3 1.3-1.1 1-1.9 0.4-2.5-0.1-2.8-0.6-2.9-1-2.6-1.4-2.2-1.6-1.5-1.5-0.7-1.4 0.1-1.1 0.8-0.6 1.4 0.1 3 1 1.5 0.6-0.1 0.3-1.9-0.9-2.9-2-2.4-1.2-0.4-1.1 0.1-0.9 0.8-0.7 1.4-0.3 1.9 0.6 4.5 1.9 4.1 2.5 2.5 1.3 0.5 1.1 0 0.9-0.5 1.1-1.8-0.1-2.9-0.5-1.5-0.3 0.4 0.6 0.8 0.5-0.2 0.2-2-1.2-3.2-1.4-1.6-1.7-0.3-1.2 1.1-0.5 2.4 0.6 3.1 1.4 2.9 2 2 1.7 0.1 1.2-0.8 0.8-2.3 0.4-1.2 0.6-1.2-0.4-3-1.4-2.3-1.6-1.2-3-0.2-1 1-0.4 2.1 0.7 2.8 2.1 3.1 2.4 1.6 2.6 0 1.2-0.9 0.9-2.6-0.3-2.9-1.5-3-2-1.5-1.6 0.3-1.1 1.1-1.2-0.9-1 0.3-0.8 1.7-0.1 3 1.2 3.7 2.2 3.1 2.5 1.7 1.3 0.2 1-0.3 0.9-0.7 1-2.3-0.1-2.6-0.7-1.9-0.9-0.4-0.3 0.8 0.9 2.1 1.3 0.5 1.2-1 0.5-2.4-0.5-3.3-1.4-3.1-2.4-2.2-1.2-0.4-1.1 0-1.6 1.2-0.7 2 0.3 3.1 1.3 1.8 0.6 0.4 1.1 2.9 1.9 2.3 2.4 1 1.4-0.3 1.1-1.3 0.6-3.5-1-4.4-2.3-3.5-1.9-1.3-1.8-0.2-1.3 0.7-1 2.3 0.2 2.4 1 1.3 0.1-0.5-0.5 0.5 0 2.3 1.3 3.8 2.7 3.6 2.4 1.3 2.2 0 1.8-1.5 1.1-2.6 0.1-3.3-1.3-4.7-1.5-2.1-1.6-1-1.3 0.2-1 1.2 0.1 0.4-0.9-2.1-1.4-1-1 0.3-0.7 1.9 0.5 3.1 1.5 2.8 2.1 2.1 1.5 0.2 3.9-2.6 0.5-2.3-0.7-3.8-1.6-2.6-2.8-1.9-1.9-0.1-1.4 1.1-0.6 2 0.5 3.1 1.5 2.2 1.4 0.5 0.6 0.2 1.7 2.2 1.4 0.6 1.3-0.8 0.4-2.3-0.7-3.1-1.8-2.2-1.3-0.5-1.1 0.6-0.5 2.2 0.7 2.3 1.3 0.6 0.6-1.2-0.5-1.7-0.7-0.5-0.7 0.6-0.1 2.6 1.5 3.4 1.7 1.5 1.7 0.2 1.4-1.1 0.5-2.2-0.6-3.6-1-1.6-1.1-0.4-0.6 0.6 0.1 1.6 0.6 0.4 0.5-0.7-0.5-3.3-1.4-2.4-2-1.5-1-0.2-1 0.4-0.9 0.9-0.5 1.4-0.2 3.8 1.2 4.3 2.4 3.6 1.4 1.1 1.3 0.5 1.3-0.1 1-0.5 1.3-2 0.1-3.2-0.7-1.2 0.3 0.9 0.7 0 0.6-1.9-0.8-3.5-2.2-3-1.7-0.9-1.5 0.4-1.1 0.9-0.6 2.8 0.8 3.1 1.5 1.9 1.3 0.4 0.9-0.1 1.8 3 2.3 1.7 1.7 0 1.4-1.2 0.7-2.8-0.3-3.5-1.2-3.6-1.9-2.9-2.1-1.8-2.1-0.5-1.6 0.7-1.3 2.2 0 2.9 0.5 1.7 0.5 3.3 1.5 3.3 2.6 3.1 2.2 1.2 2-0.1 1.7-1.3 1.1-2.4 0.2-3-1.2-4.6-2.2-3.3-2.2-1.1-1.1 0.3-0.5 1.5 0.3 0.9 0.4-0.9-0.6-2.3-1.8-2.4-1.6-0.6-1.5 0.6-1.1 2-0.3 3 0.7 3.4 1.4 3 1.9 2.1 1.9 0.5 1.6-0.3 1.1-1.2 0.3-2-0.3-0.2 0.6 2.1 1.3 1.9 1.8 1.2 1.1 0.1 1-0.4 0.8-0.9 0.7-1.4 0.4-4.2-1.1-5.5-1.2-2.8-1.5-2.5-1.7-2.1-2-1.5-1.9-1-1.9-0.3-1.6 0.5-1.4 1.1-0.9 1.7-0.4 2.1 0.3 4.6 1.4 3.8 2 2.2 1.7 0.5 1-0.8 0.1-1.7-0.4-0.3-0.3 1.4 0.9 2.5 1.3 1.7 1.6 0.8 1.4-0.4 0.9-1.5-0.1-3.4-1.4-2.8-1.2-0.8-1 0.1-0.7 1.5 0.6 1.8 0.5-0.1-0.1-1-0.6 0-0.1 1.9 1.3 2.7 1.7 1.3 1-0.2 1.1-1.5-0.1-2.5-0.6-0.7 0.5 0.7 0.8-0.4 0.1-1.3-1-2.9-2.2-2.6-1.6-0.7-1.5 0.6-0.8 1.7-0.1 2.5 0.8 2.8 1.4 2.3 1.8 1.2 1.6 0 1-0.9 0.5-2.3-0.5-1.5-0.6 0.1 0.2 0.9 0.5 0 0.5-1.5-0.8-2.9-1.3-1.6-1.5-0.7-1.2 0.7-0.6 1.7 0.5 3.6 1.8 2.4 1.3 0.4 0.9-0.7 0.3-1.7-0.6-0.9-0.2 1.1 0.9 2.1 1.2 1 1.2-0.1 1-1.2 0.4-2.2-0.9-4-1.4-2.1-1.6-1-1.3 0.2-0.7 1.4 0.2 2.4 0.9 0.9 0.3-1.1-0.8-1.8-1-0.5-1 0.5-0.5 1.6 0.4 3.7 1.9 3.4 1.7 1.3 1.6 0.2 1.2-0.8 0.6-2.4-0.6-2.2-0.4 0.1 0.6 0.7 0.6-0.8-0.1-2.1-1.1-2.3-1.6-1.2-1 0.3-0.7 1.6 0.5 2.6 2.7 2.9 2.4 2.7 2.3 0.8 1.5-0.6 1.2-1.6 0.5-2.7-1.3-5.2-1.9-3.3-2.4-2.6-2.6-1.3-2.3 0.2-1.7 1.4-0.9 2.2 0.1 3.4 1.2 2.9 1.6 3.3 2.5 5 2.3 2.8 2.9 1.9 1.5 0.4 1.5-0.2 1.4-0.7 1.2-1.4 0.9-1.9 0.5-2.5 0.1-2.8-0.4-3-0.8-3-1.3-2.9-1.5-2.5-1.7-2-1.8-1.4-1.8-0.7-1.7 0-1.4 0.6-1 1.1-0.7 1.5-0.3 3.3 0.8 2.4 0.5 0.6 0.6-0.1 0.5-1.7-0.6-2.9-1.9-2.4-1.1-0.5-1.1 0.1-1 0.7-0.8 1.5-0.5 2 0 2.4 1.2 5.5 1.1 2.7 1.5 2.4 1.6 1.9 1.8 1.3 1.7 0.6 1.5 0 1.4-0.6 1-1.1 1-3.1-0.2-3.2-1-2.1-1-0.4-0.4 1.1 1.1 2.1 1.4 0.8 0.7-0.1 1.2-1.6 0.4-3.2-0.9-4.2-2-4.2-3-3-1.5-0.8-1.6-0.2-1.3 0.4-1.2 0.9-0.8 1.4-0.8 3.8 0.7 4.1 1.5 3.4 2 1.9 1.8 0.4 1.3-1 0.4-2.1-0.4-0.5-0.1 1.3 1.2 3 1.6 1.7 1.8 0.5 0.9-0.3 1.2-1.8 0.4-3.1-0.6-3.6-1.6-3.4-2.1-2.2-2.1-0.7-1.6 0.6-0.9 1.6 0 3 1 1.9 0.7 0.1 0.3-1.1-0.8-1.3-0.7 0-0.6 1 0.1 3.4 1.9 4.3 2 2.4 2.4 1.3 1.3 0.1 1.1-0.3 1-0.7 1.4-2.6 0.4-3.7-0.8-4-1.8-3.6-2.3-2.3-1.2-0.5-1.1-0.1-1 0.3-1.3 1.8-0.4 2.4 0.6 2.4 1 1.3 1.1-0.1 0.5-1.5-0.4-2.2-1.4-2.4-0.9-0.6-0.9-0.2-0.8 0.3-1.1 2-0.2 3.4 1 4 2 3.6 2.6 2.4 1.3 0.6 1.2 0.1 1.1-0.3 1.7-1.6 0.7-2.4-0.2-3.3-0.8-1.5 0.2-2.6-1.2-3.5-2.5-3.1-2-0.9-1.8 0.6-1.1 1.8-0.2 2.7 1.3 4.1 2.1 2.4 1.9 0.4 1.1 0 2.1 1.8 1.4 0.3 1.3-0.7 0.9-1.8 0-2.8-0.8-3.1-1.5-2.8-1.9-1.9-2.7-0.9-2.6 0.7-0.9 1-0.5 3.4 0.7 3.6 2.3 4.9 2.7 2.9 1.6 1 1.6 0.5 1.5-0.1 1.4-0.7 1-1.4 0.7-1.9 0.2-2.3-0.2-2.4-0.7-2.5-1-2.2-1.3-1.9-1.4-1.3-1.4-0.7-1.2-0.2-1.8 0.8-1 1.2-1.4-1.2-0.7-0.2-0.8 0.3-0.6 0.7-0.6 3.1 0.8 4.5 2.3 4.3 1.5 1.7 1.6 1.1 1.5 0.6 1.4 0.1 1.3-0.4 1.6-1.7 0.9-3 0.1-4.7-2.1-4.7-2.8-3.1-2.2-0.7-0.9 0.2-1.4 1.5-0.5 2.5 0.6 3 1.3 2.4 1.7 1.4 1.4 0.3 1.2-1.1 0.3-1 1 0.7 0.7-1-0.2-2.3-1.3-2.2-1.5-0.6-0.9 1.2 0.4 2.2 0.7 0.5 0.3-0.9-0.5-0.8-0.8 0.4-0.2 2 0.9 2.5 1.7 1.8 1.8 0.7 1.9-0.6 1.9-2.5 0.3-1-2.6-6.6-2.3-3-2.3-1.3-1.5 0.3-1.2 1.2-0.6 2.2 0.5 4.1 1.9 3.5 2.1 1.3 1.7-0.5 0.8-0.1 1.9 1.5 1.6 0 1.2-1.7 0.1-3.2-1.3-3.4-2.1-2.6-2.5-1.7-1.8 0-1.3 1.3-0.5 2.2 0.4 2.6 1 2 1.3 1.1 1-0.2 0.5-1-0.3 0 0.2 2.5 1.2 3 2.4 2.7 1.4 0.8 1.5 0.2 1.3-0.8 0.9-1.5 0.5-2.1 0.1-2.4-1.1-5-2.2-4-1.3-1.2-1.3-0.7-1.1-0.2-1.7 0.7-0.9 2.1-0.3 0.9-0.8 0.1-0.7 1.5 0.6 3 1.6 2.2 3.4 2.3 1.9 0.4 1.7-0.8 0.8-2.4-0.5-3.1-1.9-3.5-3-2.6-2.4-0.6-1.5 0.6-1 2.1 0.1 3.5 1.5 4 2.5 3 1.9 0.9 1.6-0.1 1.6-1.5 0.4-2.3 0-0.5 1.1 0.4 0.8-1.2 0.2-2.8-1.1-4-2.5-3.6-2-1.3-2-0.2-1.6 1.1-0.9 2.2 0.1 4.1 1.6 3.4 2 1.4 1.4-0.3 0.7-0.8 1.3 2.5 1.7 1.1 1.2-0.3 0.8-1.3 0.1-3.3-1.3-3.6-1.7-2.5-1.3-0.7-1.2 0.2-1 1.4 0 1.5-0.8-0.8-0.9 0.1-0.8 1.2-0.2 2.3 0.6 3.2 1.6 3.4 2.2 2.8 2.6 1.6 2.4 0 1.8-1.4 0.9-2.4-0.1-3.9-1.1-2.5-1-0.4 0 0.5 0.7-0.2 0.3-2.2-1.2-3.8-1.8-2.6-2.3-1.6-2.2-0.2-1.7 1.4-0.9 2.6 0.1 3.2 1 3.1 1.5 2.4 1.7 1.4 2.1 0.3 2-0.9 2.3 1.3 1-0.2 0.9-1 0.5-3.5-1.3-4.9-1.9-3.1-2.4-2.2-2.4-0.8-1.1 0.2-1.8 1.7-0.8 2.8 0.2 3.3 1.1 3.1 1.6 2.4 0.8 0.7 1.4 0 1-1.4-0.2-1.2 0 2.2 1.5 2.9 1.7 1.7 1.9 0.7 1.8-0.5 1.4-1.7 0.6-2.6-0.5-4.4-1.1-2.7-1.8-2.2-1.8-1.1-1.5 0-1.4 0.9-0.9 1-0.9-0.3-0.8 0.8-0.1 2.6 1.3 3.9 2.6 3.4 1.9 1.3 1.9 0.2 1.6-1 1-2 0-3.9-1.3-3.4-1.7-1.7-1.6 0-0.4 0.1-1.8-2.6-1.6-0.9-1.2 0.3-0.8 1.6-0.2 2.6 0.7 3.1 1.6 2.9 1.9 1.8 1.9 0.3 1.3-1 0.5-1.7-0.5-1.9-0.5 0.2 0.5 2.4 1.3 1.8 0.9 0.3 0.9-0.1 0.8-0.6 0.8-2.5-0.3-3.6-1.4-3.7-2.2-2.5-1.2-0.6-1.1-0.2-0.9 0.4-1.3 1.6-0.2 2.4 1 3 1.4 0.9 0.6-0.7-0.2-0.4-0.2 1.3 0.8 2.5 2.1 2.1 1.5 0.2 1.2-1.1 0.6-2-0.5-3.5-1.5-2.2-1-0.1-0.5 1.2 0.5 1.3 0.6-0.1-0.4-2.8-1.6-2.7-1.6-0.9-1.6 0.5-0.9 2 0 3.2 1.1 3.7 2 3.2 2.6 1.9 1.2 0.2 1.2-0.2 1-0.7 1.3-2.5 0.1-3.3-0.9-3-1.5-1.6-1.3 0.1-0.6 1.2 0.5 2.3 0.9 0.7 0.9-0.6 0.3-1.9-1.1-3.9-1.6-2.2-1.9-1.1-1.7 0.4-1 1.8-0.3 2.5 1.1 3.7 1.3 1.7 1.4 0.7 1-0.4 0.4-1.7-0.6-0.9-0.4 1.5 1.2 3.2 1.6 1.8 2 0.5 0.9-0.3 0.7-0.8 0.7-2.8-0.4-3.5-1.4-3.3-2-2-1.1-0.4-1.6 0.5-0.8 1.5 0 2.1 0.3 0.3-0.5-0.9-0.8 0-0.5 1.4 0.2 2.7 1.4 3.4 2.2 2.8 2.7 1.4 1.3 0 1.2-0.4 1.6-2 0.6-3.1-0.4-3.4-1.3-2.8-1.6-1.6-1.5-0.4-1.5 0.8-1.4-2.1-1.1-0.2-0.9 0.9-0.3 1.9 1 3.9 1.3 2.3 1.7 1.2 1.5 0 1-1.1 0.2-2.4-0.7-1.4-0.4 0.5 0.5 1.5 1.3 0.6 0.8-0.7 0.2-3-1.3-3.7-1.7-2.2-2-1.1-1.8 0.3-1.2 1.4-0.6 2.3 0.5 3.9 1.6 2.9 1.9 1.3 1.8-0.2 1-0.1 2.7 2.4 1.9 0.2 1.1-1 0.6-1.9-0.5-4-1.7-4-2.5-2.6-1.7-0.5-1.3 0.6-1 2.2 0.3 2.7 1 1.6 0.7-0.1 0-1.9-1-1.1-0.9 0.1-0.7 2.1 0.7 3.9 1.5 2.9 2 2.2 2.4 0.9 1.1 0 1-0.5 1.4-2.1 0.5-3.1-0.7-3.4-1.3-2.5-1.5-1.4-1.3-0.2-1 0.9-0.1 0.4-0.9-1.9-1.7-1.2-1.2 0.4-0.7 1.6 0.1 2.7 1 3 1.7 2.7 2.1 1.7 2.1 0.4 1.6-0.9 0.9-1.8 0.1-3.1-1.3-2.6-3.4-4.2-1.3-0.8-1.3 0.2-0.8 1.1 0 3.3 1.6 3.8 1.7 1.7 1.6 0.3 1.2-0.9 0.3-2.2-0.8-1.1-0.2 1.2 1.2 1.6 1-0.1 0.7-1.4-0.2-2.4-1.1-2.1-1.3-1-1 0.4-0.2 1.9 0.7 1.2 0.5-0.5-0.6-1.4-0.7 0.4 0.3 2.1 1.7 1.8 1.3 0.1 0.7-1-0.2-1.9 0.2-1.4-0.8-2.3-1.8-2.1-1.5-0.3-0.7 0.3-0.8 1.7-0.1 2.5 0.8 2.9 1.5 2.3 1.8 1.3 1.6 0.1 1.1-1.1 0.5-2.2-0.5-1.3-0.2 0.5 0.7 1 0.8-0.1 0.5-1.2-0.4-3.4-1.2-2.3-1.7-1.5-1.6-0.2-1.1 1.3-0.3 2.1 0.9 3.4 1.3 1.4 1.2 0.3 0.8-0.7 0-1.8-0.8-0.8-0.4 0.9" fill="none" stroke="#0000ff" stroke-width="0.75" stroke-opacity="1.0" stroke-linejoin="round"/><path d="M99.5 437.1l0 0M100.5 437.2l0.7-0.6M102.2 436.7l0.6-0.6M103.7 436.2l0.6-0.7M105.3 435.8l0.6-0.8M106.8 435.3l0.6-0.8M108.4 434.9l0.6-0.9M110.1 434.3l0.7-0.8M111.8 433.7l0.7-0.7M113.5 433.2l0.6-0.7M115.1 432.8l0.5-0.9M116.8 432.4l0.5-0.9 0-0.2M118.4 431.9l0.6-0.9 0-0.1M120 431.3l0.6-0.8M121.5 430.7l0.6-0.7M123.1 430.2l0.6-0.7M124.7 429.9l0.6-0.8-0.1-0.2M126.3 429.5l0.6-0.9-0.1-0.2M127.9 428.9l0.6-0.9M129.5 428.2l0.7-0.7M131.1 427.8l0.6-0.8 0-0.1M132.7 427.4l0.6-0.9M134.3 426.8l0.7-0.8M136 426.3l0.6-0.8 0-0.1M137.7 425.9l0.6-0.9 0-0.1M139.4 425.3l0.5-0.8 0-0.1M141.3 426.1l1.3-0.2 0.5-1.3-0.7-2.5-1.6-1.7-0.8-0.3M144.7 430.5l1.8-0.2 1.3-1.3 0.6-2.1-0.4-3.6-2-3.7-2.9-2.8-2.4-0.9M148.4 435.6l2.6-1.1 1.6-2.6 0.4-3.7-1-4.3-2.2-4.2-3.1-3.3-3.4-2-2.1-0.4M150.7 437.7l1.9-0.8 1.4-1.6 1.2-3.4-0.2-4.2-1.4-4.6-2.7-4.4-3.5-3.4-3.8-1.9-1.2-0.2M154.6 443l2.5-1.1 2-2.1 1.3-3 0.4-3.8-0.5-4.3-2.4-6.6-4.1-6.2-3.3-3.2-3.7-2.3-3.6-1.1M158.5 447.3l3-1.9 2.2-3.1 1.1-4.2 0.1-5-1.1-5.4-2.1-5.5-3.1-5.1-3.7-4.4-4.2-3.4-4.3-2.1-2-0.6M159.2 445.4l2.6-2 1.7-3.1 0.7-3.8-0.2-4.4-1.1-4.5-3.1-6.4-4.3-5.1-3.1-2.3-3.1-1.3-1.4-0.2M158.3 438.4l1.9-1.3 1.3-2.1 0.7-2.7-0.4-5.1-2-5.4-3.4-4.8-4.3-3.5-2.9-1.1M161.1 443.5l2.9-1.1 2.3-2.4 1.4-3.5 0.4-4.3-0.7-4.9-1.9-5-2.7-4.7-3.3-4-3.7-3-3.7-1.8-1.8-0.5M163.5 442.3l2.5-1.9 1.6-2.9 0.8-3.7-0.3-4.3-1.1-4.5-3.2-6.5-2.9-3.7-3.3-2.8-3.3-1.8-1.7-0.5M165.1 443.5l2.9-1.3 2.2-2.5 1.4-3.6 0.4-4.3-0.6-4.8-1.5-5.1-2.5-4.9-3.1-4.5-3.7-3.7-4-2.8-4-1.5M168.4 445.7l3-2.1 2.1-3.2 1.1-4.3 0-4.9-1-5.3-2-5.3-2.9-4.9-3.4-4.2-3.8-3.2-3.9-2.2-3.7-0.8M167.3 441.4l3-1 2.4-2.3 1.5-3.3 0.5-4.3-0.5-4.9-1.6-5.1-2.5-5.1-3.3-4.6-3.9-3.8-4.2-2.7-4.2-1.3M172.2 450.3l2.3-0.4 2.2-0.9 2-1.3 1.7-1.7 1.4-2.2 1-2.5 0.8-2.9 0.3-6.6-1.1-7.3-2.7-7.6-3.9-6.8-4.7-5.9-5.3-4.8-5.5-3.3-5.4-1.7-2.6-0.1M176 452.4l2.3-0.9 2-1.2 1.8-1.6 1.5-2 1.2-2.4 1.4-5.6 0.1-6.6-1.2-7.1-2.6-7.2-3.7-6.9-4.5-6.2-5.3-5.1-5.5-3.7-2.8-1.2-5.3-1.1M176.4 452.5l2.4-0.5 2.2-1 2-1.4 1.7-1.7 1.4-2.2 1.1-2.5 1.3-5.8-0.1-6.8-1.4-7.3-2.8-7.3-3.9-7-4.8-6.3-5.4-5.1-5.7-3.6-2.9-1.2-2.9-0.8-2.7-0.3M178.5 450.8l2.5-0.9 2.3-1.5 1.9-2.1 1.5-2.4 1.1-3 0.6-3.3 0.3-3.5-0.3-3.8-0.6-4-2.6-8-4.1-7.6-5.2-6.6-2.9-2.8-2.9-2.3-3.1-1.8-3-1.3-3-0.7-2.8-0.2M180.4 449.2l2.2-0.7 1.9-1.3 1.7-1.6 1.4-1.9 1.2-2.3 1.3-5.5 0-6.4-1.3-7-2.6-7-3.7-6.7-4.5-5.9-5.2-4.9-5.5-3.4-5.4-1.8-2.6-0.3M181.7 452.6l2.6-0.5 2.4-0.9 2.2-1.5 1.8-1.8 1.6-2.3 1.3-2.7 0.9-3 0.5-3.3 0.1-3.6-1.2-7.8-2.6-8-3.8-7.6-4.9-6.8-5.6-5.6-5.8-4.1-3-1.4-2.9-0.9-2.8-0.5M182.6 449.7l2.3-0.6 2.1-1 1.9-1.5 1.6-1.8 1.3-2.1 1.7-5.2 0.4-6.2-0.9-6.7-2.1-6.9-3.3-6.7-4.1-6.1-5.1-5.3-5.8-4.1-2.9-1.3-2.8-0.9-2.7-0.3M183.4 446.7l2.3-0.6 2.2-1.1 1.8-1.6 1.5-2 1.2-2.4 0.9-2.8 0.4-3-0.2-6.8-1.7-7.2-3.1-7.1-4.2-6.5-5.1-5.5-5.5-3.9-2.8-1.4-2.7-0.8-2.7-0.4M187.8 450.7l2.5-0.6 2.4-1 2.2-1.5 1.8-2 1.6-2.4 1.2-2.8 0.8-3.1 0.5-3.5-0.2-7.8-1.9-8.4-3.4-8.5-4.8-8.2-5.9-7.2-3.3-3.1-3.4-2.8-3.5-2.2-3.5-1.8-3.6-1.2-3.4-0.7M192 460.8l3.4-1 3-1.5 2.7-2.2 2.2-2.7 1.8-3.2 1.3-3.7 0.9-4 0.4-4.4-0.1-4.6-0.6-4.8-1-4.8-1.5-4.9-4.2-9.6-5.5-8.7-6.4-7.5-3.5-3.1-3.6-2.6-3.5-2.1-3.6-1.6-3.4-1-3.4-0.5M190 449.9l2.5-0.7 4.6-2.3 2.2-1.7 1.8-2.1 1.5-2.7 1.2-3 0.7-3.4 0.4-3.8-0.1-4.1-0.6-4.3-2.4-9-4-9.1-5.5-8.5-3.2-3.9-3.4-3.5-3.7-3.1-3.8-2.6-3.8-2.1-3.9-1.6-3.8-0.9M200.4 469.2l4.5-0.8 4.2-1.6 3.7-2.4 3.3-3.3 2.7-4.1 2.2-4.8 1.4-5.4 0.8-6.1 0.1-6.5-0.7-6.9-1.3-7.3-2.1-7.3-3-7.3-3.7-7-4.1-6.8-4.7-6.3-4.9-5.8-5.3-5.2-5.5-4.4-5.7-3.7-5.6-2.9-5.6-2-5.5-1-5.1-0.1M200.2 472.5l5-0.7 4.6-1.7 4.1-2.6 3.5-3.5 2.9-4.3 2.2-5 1.5-5.7 0.7-6.3 0.1-6.7-0.8-7.1-1.5-7.3-2.2-7.4-2.9-7.3-3.5-7.1-4.1-6.9-4.5-6.4-5-5.9-5.3-5.3-5.6-4.5-5.6-3.8-5.7-2.8-5.6-1.9-5.4-0.9-5.2 0M200.1 458.7l3.7-1.7 3.1-2.4 2.7-3.1 2-3.7 1.4-4.3 0.8-4.8 0.2-5.1-0.5-5.3-1.1-5.5-1.6-5.4-2.1-5.4-2.5-5.1-3-4.8-3.3-4.4-3.5-4-3.6-3.4-3.8-2.8-3.7-2.1-3.7-1.5-3.5-0.8-3.3-0.2M195.4 444.4l2.9-0.6 2.5-1.2 2.2-1.8 1.9-2.3 1.4-2.8 1-3.2 1-7.2-0.1-4-0.5-4.3-1.1-4.5-1.5-4.5-1.9-4.6-2.4-4.4-2.8-4.3-3.2-4-3.4-3.6-3.6-3.1-3.8-2.7-3.9-2-3.9-1.4-3.8-0.7M203.6 462.4l4.7-0.4 4.3-1.3 3.9-2.3 3.4-3.2 2.9-4 2.1-4.8 1.5-5.5 0.7-6.1 0-6.7-1.4-6.9-2-7-2.7-6.9-3.2-6.7-3.7-6.5-4.2-6-4.5-5.5-4.8-4.9-5-4.2-5.1-3.5-5.1-2.7-5-1.8-4.8-1-4.6-0.2M204 454.8l3.4-1.2 3-1.8 2.6-2.4 2.2-3 1.6-3.6 1.2-3.9 0.7-4.3 0.2-4.6-0.4-4.8-0.8-5-1.3-5-1.7-5-2.2-4.8-2.5-4.7-2.8-4.4-3.1-4.1-3.2-3.7-3.5-3.3-3.5-2.8-3.6-2.3-7.3-3.3-3.8-1.2-3.7-0.4M206.6 455l3.8-0.9 3.5-1.6 3.1-2.3 2.7-3.1 2.1-3.7 1.5-4.3 1-4.9 0.4-5.3-0.3-5.7-0.9-5.9-1.5-6.1-2-6.2-2.7-6.1-3.2-5.9-3.6-5.7-4-5.3-4.4-4.9-4.7-4.2-4.8-3.7-4.9-2.9-5-2.2-4.8-1.4-4.7-0.5M209.4 463.7l4.7-0.8 4.3-1.7 3.9-2.5 3.3-3.4 2.6-4.2 2.1-4.9 1.3-5.5 0.7-6-0.1-6.5-0.7-6.7-1.5-7-2.2-7.1-2.8-7-3.4-6.9-3.9-6.6-4.5-6.1-4.8-5.7-5.1-5.1-5.4-4.4-5.5-3.6-5.5-2.8-5.4-1.9-5.4-0.9-5-0.1M214.7 465.5l4.1-1.9 3.7-2.5 3.1-3.3 2.6-4 1.9-4.5 1.4-5 0.7-5.5 0.1-5.7-0.5-6-1-6-1.6-6.1-2.1-6.1-2.6-5.9-3-5.6-3.3-5.3-3.7-5-3.8-4.5-4-4-4.2-3.4-4.1-2.8-4.2-2.3-4.1-1.6-3.9-0.9-3.7-0.4-3.5 0.3M206 443.4l2.8-0.2 2.7-0.8 2.4-1.2 2.2-1.6 1.9-2.2 1.6-2.5 1.3-2.9 0.8-4 0.2-4.5-0.2-4.7-0.9-4.9-1.3-4.9-1.9-5-2.2-4.8-2.7-4.7-3.1-4.3-3.3-4-3.5-3.5-3.7-3-3.8-2.4-3.7-1.7-3.7-1.1-3.6-0.5M212.6 450.2l4-0.8 3.7-1.6 3.2-2.5 2.8-3.2 2.1-4 1.6-4.7 0.8-5.3 0.2-5.7-0.5-6.2-1.2-6.4-1.9-6.5-2.6-6.6-3.2-6.5-3.8-6.2-4.2-5.9-4.7-5.3-5-4.8-5.3-4-5.3-3.2-5.5-2.4-5.3-1.4-4.9-0.2M213 458.3l4.7-0.4 4.4-1.3 3.9-2.1 3.5-3 2.8-3.8 2.2-4.6 1.6-5.1 0.9-5.7 0.1-6.2-0.5-6.5-1.3-6.8-1.9-6.8-2.5-6.8-3.2-6.7-3.7-6.5-4.1-6-4.6-5.6-4.9-5-5.1-4.4-5.3-3.6-5.3-2.8-5.2-1.9-5.1-1-4.9-0.1M215.6 461.1l5.2-0.1 4.9-1.1 4.4-2.1 3.9-3 3.3-4 2.6-4.7 1.9-5.6 1.2-6.2 0.4-6.8-0.4-7.3-1.3-7.5-2-7.8-2.7-7.8-3.5-7.7-4.1-7.5-4.8-7.1-5.2-6.6-5.6-6-5.9-5.3-6.2-4.4-6.2-3.5-6.3-2.5-6.1-1.5-5.9-0.4M225.6 475.1l6.1-0.8 5.6-2.1 4.6-3.9 3.8-4.9 3-5.8 2.2-6.5 1.2-7.2 0.4-7.8-0.5-8.1-1.3-8.3-2.1-8.5-2.9-8.4-3.6-8.2-4.2-7.9-4.8-7.5-5.2-6.9-5.6-6.3-5.8-5.5-6-4.6-6.1-3.8-6-2.9-5.9-1.9-5.6-0.9-5.3 0.1M216.8 453l3.8-0.8 3.5-1.4 3.1-2.2 2.7-2.7 2.1-3.3 1.7-3.7 1.2-4.2 0.7-4.5 0.1-4.7-0.3-5-0.9-5-1.3-5.1-3.4-10.4-2.2-5.4-2.7-5.4-3.1-5.1-3.4-4.9-3.9-4.5-4-4-4.3-3.5-4.4-3-4.5-2.3-4.4-1.6-4.4-0.9-4.2-0.1M222.3 461.6l5.1-0.1 4.8-1.1 4.4-2 4-2.9 3.3-3.7 2.8-4.6 2.2-5.3 1.4-6 0.7-6.6-0.1-7.1-0.8-7.5-1.6-7.7-2.3-7.9-3.1-7.9-3.7-7.8-4.4-7.6-5-7.2-5.4-6.8-5.8-6.1-6.2-5.4-6.4-4.6-6.5-3.7-6.6-2.8-6.2-1.2-5.9 0.2M225.7 460.5l4.5-1.3 4.2-2.2 3.5-3 3-3.8 2.4-4.5 1.7-5.1 1.1-5.6 0.3-6-0.3-6.3-1-6.6-1.6-6.6-2.2-6.6-2.8-6.5-3.2-6.2-3.8-5.9-4-5.5-4.4-5-4.6-4.4-4.7-3.7-4.8-3-4.7-2.3-4.7-1.4-4.4-0.7-4.2 0M221.8 448.2l3.9-0.3 3.5-1 3.3-1.7 2.9-2.3 2.4-3 2-3.5 1.6-4.1 0.9-4.6 0.5-4.9-0.1-5.3-0.7-5.6-1.2-5.7-1.8-5.8-2.2-5.8-2.8-5.7-3.2-5.5-3.5-5.3-3.9-4.8-4.2-4.5-4.5-3.9-4.5-3.3-4.7-2.7-4.6-2-4.6-1.3-4.4-0.6M226.3 455.4l4.5-0.8 4.2-1.7 3.7-2.5 3.1-3.3 2.6-4 1.9-4.7 1.3-5.2 0.6-5.8 0-6.1-0.8-6.4-1.4-6.5-2-6.6-2.6-6.6-3.1-6.3-3.7-6.1-4-5.7-4.4-5.3-4.7-4.6-4.9-4-4.9-3.3-5-2.6-4.9-1.7-4.8-1-4.5 0M226.3 448.6l4-0.8 3.6-1.6 3.2-2.3 2.7-3 2.2-3.7 1.6-4.2 1.9-9.7 0.3-5.3-0.3-5.7-0.9-6-1.5-6.2-2.2-6.3-2.7-6.3-3.3-6.1-3.8-5.9-4.2-5.5-4.6-5.1-5-4.5-5.1-3.8-5.3-3.2-5.3-2.3-5.2-1.4-5.2-0.6M236.6 469l6.1-0.7 5.6-1.9 5-3 4.4-4.2 3.7-5.2 2.8-6.2 2-7.1 1.1-7.9 0.1-8.5-0.9-9-1.8-9.4-2.8-9.7-3.7-9.6-4.6-9.5-5.4-9.2-6-8.8-6.7-8.1-7.2-7.3-7.6-6.4-7.8-5.1-7.7-3.4-7.6-2.1-7.3-0.9-6.9 0.4M240.2 472.9l6-1.6 5.5-2.8 4.7-3.9 4-5 3.1-5.9 2.3-6.7 1.3-7.5 0.5-8.1-0.5-8.6-1.4-8.8-2.3-9-3.2-9-3.9-8.9-4.6-8.6-5.3-8-5.8-7.6-6.2-6.7-6.5-6-6.7-5-6.8-4-6.8-3-6.6-1.8-6.3-0.7-6 0.5M238.7 471.9l6.6-0.4 6.2-1.8 5.5-3 4.9-4.2 4-5.4 3.2-6.5 2.2-7.4 1.2-8.2 0.2-9-0.8-9.5-1.9-9.9-2.9-10.1-3.8-10.1-4.8-9.9-5.6-9.6-6.5-8.9-7.1-8.1-7.5-7.2-7.8-6.1-7.9-4.9-8-3.7-7.8-2.3-7.5-1-7.2 0.4M242.9 477.3l6.8-1 6.1-2.4 5.5-3.6 4.8-4.8 3.8-5.8 3-6.9 2-7.8 1-8.5-0.1-9.2-1-9.5-2-9.9-3-9.9-3.9-9.9-4.7-9.7-5.5-9.3-6.1-8.7-6.7-8-7.1-7.2-7.4-6.2-7.6-5.2-7.7-4-7.6-2.8-7.4-1.6-7-0.3M241.2 468.1l5.8-1.3 5.2-2.4 4.6-3.4 3.9-4.4 3.1-5.3 2.3-6.1 1.4-6.8 0.7-7.3-0.3-7.7-1.1-8.1-1.7-8.1-2.3-8.3-3.1-8.2-3.8-8.1-4.4-7.8-5.1-7.3-5.4-6.8-5.9-6.1-6.2-5.4-6.3-4.5-6.4-3.5-6.4-2.5-6.2-1.5-5.9-0.5M240.6 464.3l5.7-0.6 5.4-1.7 4.7-2.7 4.2-3.7 3.5-4.7 2.7-5.5 1.9-6.4 1.2-6.9 0.2-7.6-0.6-7.9-1.4-8.3-2.2-8.4-3.1-8.4-3.7-8.2-4.4-8-5-7.6-5.5-7.1-6-6.3-6.2-5.6-6.4-4.8-6.5-3.8-6.5-2.8-6.5-1.7-6.3-0.7M245.2 464.5l5.8-1.1 5.2-2.3 4.7-3.4 3.9-4.4 3.2-5.4 2.3-6.3 1.5-7 0.6-7.6-0.4-8.2-1.2-8.5-2.1-8.7-2.9-8.7-3.8-8.6-4.4-8.4-5.1-8-5.7-7.4-6.1-6.7-6.4-5.9-6.7-5-6.8-4-6.7-3-6.7-1.8-6.4-0.6M242.4 460.3l5.2-0.9 4.8-1.8 4.3-2.8 3.6-3.7 3-4.5 2.3-5.2 1.6-5.8 0.8-6.3 0.1-6.7-0.7-7.1-1.4-7.2-2-7.2-2.7-7.2-3.2-7.1-3.8-6.7-4.3-6.3-4.6-5.8-4.9-5.3-5.1-4.6-5.2-3.8-5.2-3.1-5.2-2.2-5.1-1.4-4.9-0.6-4.5 0.3M241.1 441.5l3.6-0.8 3.4-1.5 2.9-2.2 2.6-2.8 2.1-3.4 1.5-3.9 1.1-4.4 0.5-4.9-0.1-5.1-0.6-5.4-1.2-5.6-1.7-5.7-2.2-5.6-2.7-5.5-3-5.3-3.5-5-3.8-4.6-4.1-4.1-4.2-3.7-4.4-3-4.4-2.4-4.4-1.8-4.3-1-4.1-0.3M244.3 444.3l4-0.9 3.6-1.7 3.1-2.4 2.7-3.1 2.2-3.7 1.7-4.4 1-4.8 0.5-5.3-0.2-5.7-0.7-5.9-1.2-6.2-1.9-6.4-2.5-6.3-3.1-6.2-3.5-5.9-4-5.7-4.4-5.2-4.7-4.7-4.9-4-5.1-3.3-5.1-2.6-5-1.8-5-0.9-4.7 0M246.8 453.9l5.2-0.4 4.9-1.5 4.4-2.5 3.8-3.4 3.1-4.3 2.5-5.2 1.7-5.9 0.9-6.6 0.1-7.1-0.7-7.5-1.5-7.8-2.3-8-3.1-7.9-3.8-7.8-4.4-7.5-5-7.1-5.5-6.5-5.9-5.8-6.1-5.1-6.3-4.1-6.4-3.1-6.3-2.1-6.1-0.9-5.4 0.7M249.3 448.1l4.2-1.5 3.7-2.3 3.2-3.1 2.6-3.8 2-4.5 1.4-4.9 0.7-5.5 0.1-5.7-0.6-6.1-1.2-6.1-1.8-6.3-2.4-6.1-2.8-6-3.3-5.7-3.6-5.3-4-4.8-4.2-4.4-4.4-3.7-4.5-3.2-4.4-2.4-4.4-1.7-4.3-0.9-4-0.2-3.8 0.5M245.8 435.9l3.7-0.8 3.3-1.6 2.9-2.3 2.4-3 1.8-3.7 1.3-4.2 0.8-4.6 0.1-5.1-0.6-5.4-1.1-5.5-1.7-5.6-2.2-5.6-2.7-5.4-3.2-5.2-3.6-4.8-3.9-4.3-4.1-3.9-4.3-3.2-4.3-2.5-4.4-1.8-4.2-1-4-0.3M245.2 437.1l4-0.4 3.7-1.1 3.3-1.9 2.8-2.7 2.3-3.4 1.6-4.1 1.1-4.7 0.4-5.1-0.3-5.4-0.9-5.6-1.5-5.8-2-5.7-2.6-5.6-3.1-5.4-3.5-5.1-3.8-4.6-4.1-4-4.3-3.5-4.3-2.8-4.4-2-4.3-1.3-4-0.5-3.9 0.4M248.9 432.9l3.4-1.1 3-1.8 2.6-2.5 2.1-3.1 1.5-3.7 1-4.2 0.4-4.6-0.2-5-0.7-5.1-1.4-5.3-1.8-5.2-2.4-5.2-2.8-4.9-3.2-4.6-3.5-4.3-3.7-3.7-3.9-3.2-4-2.6-4-1.8-3.9-1.2-3.6-0.6-3.5 0.1M247.1 432.2l3.6-0.3 3.2-0.9 2.9-1.7 2.5-2.3 2.1-2.9 1.6-3.4 1.1-3.9 0.5-4.4 0.1-4.6-0.5-4.9-1.1-5-1.5-5.1-2.1-5.1-2.4-4.9-2.9-4.7-3.2-4.4-3.4-4-3.7-3.6-3.9-3-3.9-2.5-3.9-1.8-3.9-1.2-3.7-0.5-3.5 0.2M250.8 430.8l3.2-1 2.8-1.6 2.4-2.2 2-2.7 1.5-3.3 1.1-3.7 0.5-4.1 0-4.3-0.4-4.6-1-4.6-1.4-4.7-1.8-4.7-2.3-4.5-2.6-4.2-2.8-4-3.1-3.6-3.3-3.2-3.4-2.7-3.5-2.2-3.4-1.6-3.4-1-3.2-0.5-3.1 0.2M248.3 423.4l2.6-0.5 2.4-1 2.1-1.5 1.7-1.7 1.4-2.1 1.1-2.5 1.1-5.6-0.1-6.5-1.4-6.9-2.7-6.9-3.7-6.5-4.5-5.7-5-4.5-5.2-3.2-5.1-1.6-2.4-0.2M249.6 420l2.2-0.5 2-0.8 1.7-1.1 1.6-1.5 2.3-4.1 1.2-5.1 0-5.9-1.3-6.3-2.3-6.3-3.3-6.1-4.1-5.4-4.6-4.3-4.9-3.1-4.8-1.7-4.4-0.1M251 419l2.2-0.3 2-0.7 1.8-1.1 1.6-1.5 2.4-3.9 1.2-5.1 0.1-5.8-1.2-6.3-2.3-6.4-3.3-6.1-4.1-5.4-4.7-4.5-4.9-3.1-2.7-1-2.6-0.5-2.5 0M252.5 415.8l2.1-0.6 1.9-1.1 1.6-1.4 1.3-1.9 1.1-2.2 1-5.3-0.4-6.2-1.8-6.4-3-6.3-4-5.6-4.6-4.4-4.9-3-2.5-0.9-2.3-0.4-2.2 0M251.7 413l3.6-1.1 2.8-2.4 1.7-3.7 0.7-4.5-0.5-5-1.5-5.2-2.4-5-3.1-4.4-3.6-3.6-3.7-2.4-3.6-1.1-3.3 0.1M251.2 406.1l2.6-0.8 1.9-1.9" fill="none" stroke="#ff0000" stroke-width="0.75" stroke-linejoin="round"/>
<g><line x1="37.00" y1="477.40" x2="33.91" y2="475.76" stroke="#262626" stroke-width="0.75"/><line x1="37.00" y1="404.20" x2="33.91" y2="402.56" stroke="#262626" stroke-width="0.75"/><line x1="37.00" y1="331.00" x2="33.91" y2="329.36" stroke="#262626" stroke-width="0.75"/><line x1="37.00" y1="477.40" x2="33.66" y2="478.44" stroke="#262626" stroke-width="0.75"/><line x1="68.25" y1="493.95" x2="64.91" y2="494.99" stroke="#262626" stroke-width="0.75"/><line x1="99.50" y1="510.50" x2="96.16" y2="511.54" stroke="#262626" stroke-width="0.75"/><line x1="130.75" y1="527.05" x2="127.41" y2="528.09" stroke="#262626" stroke-width="0.75"/><line x1="162.00" y1="543.60" x2="158.66" y2="544.64" stroke="#262626" stroke-width="0.75"/><line x1="162.00" y1="543.60" x2="165.09" y2="545.24" stroke="#262626" stroke-width="0.75"/><line x1="202.88" y1="530.92" x2="205.97" y2="532.56" stroke="#262626" stroke-width="0.75"/><line x1="243.75" y1="518.25" x2="246.84" y2="519.89" stroke="#262626" stroke-width="0.75"/><line x1="284.62" y1="505.57" x2="287.72" y2="507.21" stroke="#262626" stroke-width="0.75"/><line x1="325.50" y1="492.90" x2="328.59" y2="494.54" stroke="#262626" stroke-width="0.75"/></g>
<g fill="#262626" stroke="#262626" stroke-width="0.22"><text transform="translate(30.40,477.44) scale(1,1.16)" font-size="7.9" text-anchor="end">-0.05</text><text transform="translate(30.40,404.24) scale(1,1.16)" font-size="7.9" text-anchor="end">0</text><text transform="translate(30.40,331.04) scale(1,1.16)" font-size="7.9" text-anchor="end">0.05</text><text transform="translate(30.40,488.14) scale(1,1.16)" font-size="7.9" text-anchor="end">4</text><text transform="translate(61.65,504.69) scale(1,1.16)" font-size="7.9" text-anchor="end">2</text><text transform="translate(92.90,521.24) scale(1,1.16)" font-size="7.9" text-anchor="end">0</text><text transform="translate(124.15,537.79) scale(1,1.16)" font-size="7.9" text-anchor="end">-2</text><text transform="translate(155.40,554.34) scale(1,1.16)" font-size="7.9" text-anchor="end">-4</text><text transform="translate(168.60,555.24) scale(1,1.16)" font-size="7.9" text-anchor="start">0</text><text transform="translate(209.47,542.57) scale(1,1.16)" font-size="7.9" text-anchor="start">20</text><text transform="translate(250.35,529.89) scale(1,1.16)" font-size="7.9" text-anchor="start">40</text><text transform="translate(291.23,517.22) scale(1,1.16)" font-size="7.9" text-anchor="start">60</text><text transform="translate(332.10,504.54) scale(1,1.16)" font-size="7.9" text-anchor="start">80</text></g>
<g fill="#262626" stroke="#262626" stroke-width="0.25"><text x="0" y="0" font-size="9.80" text-anchor="middle" transform="translate(19.50,398.70) rotate(-90) scale(1,1.16)">Velocity (m/s)</text><text transform="translate(72.00,546.00) scale(1,1.16)" font-size="9.8" text-anchor="middle">Displacement (m)</text><text transform="translate(262.50,547.50) scale(1,1.16)" font-size="9.8" text-anchor="middle">Time (s)</text><text transform="translate(26.10,519.70) scale(1,1.0)" font-size="7.6" text-anchor="start" fill="#555">×</text><text transform="translate(32.00,519.50) scale(1,1.16)" font-size="7.5" text-anchor="start">10</text><text transform="translate(40.60,515.40) scale(1,1.16)" font-size="6.5" text-anchor="start">-3</text></g>
<g fill="#000"><rect x="50.20" y="339.10" width="78.40" height="27.00" fill="#fff" stroke="#262626" stroke-width="0.6"/><line x1="52.80" y1="346.93" x2="70.80" y2="346.93" stroke="#0000ff" stroke-width="0.6"/><line x1="52.80" y1="359.62" x2="70.80" y2="359.62" stroke="#ff0000" stroke-width="0.6"/><text transform="translate(72.60,350.23) scale(1,1.0)" font-size="9.0" text-anchor="start">CryStAl</text><text transform="translate(72.60,363.22) scale(1,1.0)" font-size="9.0" text-anchor="start">Uncontrolled</text></g>
<text x="3.2" y="287.8" font-size="14" fill="#000">(<tspan font-weight="bold">c</tspan>) Chi-Chi</text>
<g><line x1="375.80" y1="477.50" x2="375.80" y2="332.30" stroke="#dcdcdc" stroke-width="0.6"/><line x1="375.80" y1="477.50" x2="499.50" y2="543.40" stroke="#dcdcdc" stroke-width="0.6"/><line x1="416.25" y1="464.95" x2="416.25" y2="319.75" stroke="#dcdcdc" stroke-width="0.6"/><line x1="416.25" y1="464.95" x2="539.95" y2="530.85" stroke="#dcdcdc" stroke-width="0.6"/><line x1="456.70" y1="452.40" x2="456.70" y2="307.20" stroke="#dcdcdc" stroke-width="0.6"/><line x1="456.70" y1="452.40" x2="580.40" y2="518.30" stroke="#dcdcdc" stroke-width="0.6"/><line x1="497.15" y1="439.85" x2="497.15" y2="294.65" stroke="#dcdcdc" stroke-width="0.6"/><line x1="497.15" y1="439.85" x2="620.85" y2="505.75" stroke="#dcdcdc" stroke-width="0.6"/><line x1="537.60" y1="427.30" x2="537.60" y2="282.10" stroke="#dcdcdc" stroke-width="0.6"/><line x1="537.60" y1="427.30" x2="661.30" y2="493.20" stroke="#dcdcdc" stroke-width="0.6"/><line x1="375.80" y1="477.50" x2="537.60" y2="427.30" stroke="#dcdcdc" stroke-width="0.6"/><line x1="537.60" y1="427.30" x2="661.30" y2="493.20" stroke="#dcdcdc" stroke-width="0.6"/><line x1="375.80" y1="404.90" x2="537.60" y2="354.70" stroke="#dcdcdc" stroke-width="0.6"/><line x1="537.60" y1="354.70" x2="661.30" y2="420.60" stroke="#dcdcdc" stroke-width="0.6"/><line x1="375.80" y1="332.30" x2="537.60" y2="282.10" stroke="#dcdcdc" stroke-width="0.6"/><line x1="537.60" y1="282.10" x2="661.30" y2="348.00" stroke="#dcdcdc" stroke-width="0.6"/><line x1="537.60" y1="427.30" x2="537.60" y2="282.10" stroke="#dcdcdc" stroke-width="0.6"/><line x1="375.80" y1="477.50" x2="537.60" y2="427.30" stroke="#dcdcdc" stroke-width="0.6"/><line x1="568.52" y1="443.77" x2="568.52" y2="298.57" stroke="#dcdcdc" stroke-width="0.6"/><line x1="406.73" y1="493.98" x2="568.52" y2="443.77" stroke="#dcdcdc" stroke-width="0.6"/><line x1="599.45" y1="460.25" x2="599.45" y2="315.05" stroke="#dcdcdc" stroke-width="0.6"/><line x1="437.65" y1="510.45" x2="599.45" y2="460.25" stroke="#dcdcdc" stroke-width="0.6"/><line x1="630.38" y1="476.73" x2="630.38" y2="331.53" stroke="#dcdcdc" stroke-width="0.6"/><line x1="468.57" y1="526.92" x2="630.38" y2="476.73" stroke="#dcdcdc" stroke-width="0.6"/><line x1="661.30" y1="493.20" x2="661.30" y2="348.00" stroke="#dcdcdc" stroke-width="0.6"/><line x1="499.50" y1="543.40" x2="661.30" y2="493.20" stroke="#dcdcdc" stroke-width="0.6"/></g>
<g><line x1="375.80" y1="332.30" x2="537.60" y2="282.10" stroke="#262626" stroke-width="0.75"/><line x1="537.60" y1="282.10" x2="661.30" y2="348.00" stroke="#262626" stroke-width="0.75"/><line x1="661.30" y1="348.00" x2="661.30" y2="493.20" stroke="#262626" stroke-width="0.75"/><line x1="375.80" y1="477.50" x2="537.60" y2="427.30" stroke="#262626" stroke-width="0.75"/><line x1="537.60" y1="427.30" x2="661.30" y2="493.20" stroke="#262626" stroke-width="0.75"/><line x1="375.80" y1="477.50" x2="499.50" y2="543.40" stroke="#262626" stroke-width="0.75"/><line x1="499.50" y1="543.40" x2="661.30" y2="493.20" stroke="#262626" stroke-width="0.75"/><line x1="537.60" y1="282.10" x2="537.60" y2="427.30" stroke="#262626" stroke-width="0.75"/><line x1="375.80" y1="332.30" x2="375.80" y2="477.50" stroke="#262626" stroke-width="0.75"/></g>
<path d="M450.6 427.1l-1.2 0.7-0.4 1.9 0.7 2.8 1.9 2.9 2.8 2 0.7 0.2M449.3 418.5l-2.2 0.1-1.9 1.1-1.4 2-0.7 2.9 0 3.6 1.7 6.2 3.6 6.4 3.2 3.7 3.8 2.9 3.9 1.8 2 0.4M444.8 401.7l-2.5 0.3-2.3 0.8-2.1 1.3-1.8 1.8-1.6 2.2-1.1 2.8-0.8 3.1-0.4 3.5 0.1 3.7 1.4 8.2 3.1 8.5 4.5 8.3 2.7 4 3.1 3.6 3.3 3.3 3.5 2.9 3.7 2.3 3.7 1.9 3.7 1.2 3.7 0.6M438.1 379.7l-4.3 0.6-3.9 1.5-3.6 2.4-3.1 3.2-2.5 4.1-1.9 4.7-1.2 5.4-0.6 6 0.2 6.5 0.9 6.9 1.6 7.1 2.4 7.2 3 7.2 3.7 7 4.2 6.8 4.7 6.3 5.2 5.9 5.6 5.1 5.7 4.5 6 3.5 6 2.7 5.9 1.7 5.7 0.6M433.3 359l-5.8 1.1-5.4 2.2-4.7 3.4-4.1 4.4-3.3 5.5-2.4 6.4-1.6 7.2-0.7 8 0.3 8.4 1.2 8.9 2.1 9.2 2.9 9.3 3.9 9.2 4.6 8.9 5.3 8.6 5.9 8.1 6.4 7.4 6.9 6.6 7.1 5.6 7.3 4.7 7.4 3.4 7.3 2.3 7.1 1.1M431.4 349.5l-6 1.6-5.5 2.8-4.8 4-4 5.1-3.2 6.1-2.4 6.9-1.5 7.7-0.6 8.3 0.4 8.8 1.2 9.2 2.1 9.4 3 9.4 3.8 9.4 4.5 9.1 5.2 8.7 5.8 8.3 6.2 7.5 6.7 6.8 6.9 5.9 7 5 7.2 3.9 7 2.8 6.9 1.7 6.6 0.6M435 357.6l-5.4 1.6-4.8 2.7-4.2 3.6-3.5 4.6-2.8 5.5-2 6.2-1.2 7-0.4 7.5 0.5 8.1 1.3 8.3 2 8.6 2.8 8.7 3.6 8.6 4.2 8.5 4.7 8.2 5.3 7.7 5.7 7.3 6.1 6.6 6.3 5.8 6.5 5 6.5 4.2 6.5 3.2 6.4 2.1 6.2 1.1M438.2 365.1l-4.8 1.4-4.2 2.5-3.6 3.5-2.9 4.5-2.2 5.3-1.4 6.1-0.7 6.8 0.2 7.4 0.9 7.8 1.8 8.2 2.4 8.4 3.2 8.4 3.8 8.4 4.4 8.2 4.9 7.8 5.4 7.4 5.7 6.9 5.9 6.1 6.1 5.4 6.1 4.5 6 3.6 6 2.6 5.6 1.6M447.2 374.1l-4.7 0.1-4.3 1.1-3.7 2.1-3.1 2.9-2.5 3.9-1.8 4.7-1.1 5.5-0.4 6.2 0.3 6.8 1 7.2 1.8 7.6 2.4 7.8 3 8 3.6 7.9 4.2 7.8 4.6 7.6 5 7.1 5.3 6.6 5.5 6 5.6 5.3 5.6 4.5 5.6 3.7 5.5 2.8 5.2 1.8M446 377.5l-4 0.6-3.5 1.6-2.9 2.6-2.4 3.5-1.6 4.4-1 5.2-0.3 5.9 0.5 6.5 1.1 7 1.8 7.4 2.5 7.7 3 7.9 3.6 7.8 4.2 7.8 4.5 7.5 4.9 7.1 5.2 6.6 5.4 6.1 5.4 5.3 5.5 4.6 5.4 3.6 5.2 2.8M450.2 379.9l-4 0.2-3.6 1.2-3 2.1-2.4 3.2-1.8 4-1 4.9-0.4 5.6 0.3 6.3 1 6.8 1.7 7.3 2.4 7.5 2.9 7.7 3.5 7.8 4.1 7.7 4.4 7.5 4.8 7.1 5.1 6.6 5.2 6.1 5.4 5.4 5.3 4.6 5.3 3.7 5.1 2.9M452.7 382.4l-3.8 0.1-3.4 1.2-2.8 2.1-2.2 3-1.6 4-1 4.7-0.2 5.5 0.4 6.1 1.1 6.6 1.8 7 2.3 7.4 3 7.5 3.5 7.4 3.9 7.3 4.3 7.1 4.6 6.8 4.8 6.2 4.9 5.8 5.1 5 5 4.4 4.9 3.5 4.7 2.7M455.3 388.3l-3.1 0.6-2.6 1.5-2.1 2.3-1.5 3.1-1 3.8-0.4 4.5 0.2 5 0.8 5.6 1.3 5.9 1.9 6.2 5.2 13 6.8 12.8 8 11.9 4.3 5.3 4.4 4.8 4.4 4.2 4.3 3.5 4.2 2.9M458.7 393.4l-2.5 0.9-2.1 1.6-1.5 2.4-1.1 3.1-0.6 3.7 0 4.2 0.5 4.8 1 5.2 3.5 11.2 5.2 11.7 6.6 11.3 7.4 10.3 7.8 8.5 3.9 3.4 3.8 2.8M462.1 395.7l-2.2 0.6-1.9 1.4-1.4 2-1 2.6-0.6 3.2 0 3.7 1.2 8.7 3 10 4.6 10.4 5.7 10.3 6.6 9.5 7 8 6.9 5.9M464.4 398.4l-1.9 0.8-1.5 1.5-1.1 2.1-0.7 2.5-0.4 3.1 0.6 7.4 2.2 8.6 3.6 9.3 4.7 9.3 5.7 8.7 6.1 7.5 6.2 5.9M467.4 399.9l-1.8 0.8-1.4 1.3-1.1 1.9-0.8 2.3-0.3 6 1.1 7.3 2.5 8.2 3.8 8.6 4.8 8.3 5.5 7.6 5.7 6.2 2.9 2.5M469.6 401.3l-1.6 0.9-1.2 1.4-1 1.9-0.6 2.3-0.2 5.8 1.2 7 2.6 7.7 3.6 7.9 4.6 7.5 5.2 6.7 5.3 5.4 2.7 2M472.6 402.3l-1.5 0.7-1.3 1.2-1 1.6-1 4.5 0.3 5.8 1.6 6.7 2.7 7.2 3.7 7 4.4 6.6 4.9 5.6 4.9 4.3M473.1 404l-1.2 1.2-0.9 1.6-0.9 4.4 0.3 5.6 1.6 6.4 2.6 6.8 3.6 6.6 4.1 5.9 4.5 5 4.6 3.7M476 404.9l-1.1 1-1.7 2.9-0.5 4.2 0.5 5.2 1.5 5.7 4 8.9 5.5 8.1 4 4.3 4.2 3.1M478.1 405.8l-2 2.1-1.1 3.5-0.1 4.4 1 5.2 3.2 8.4 4.8 7.9 3.9 4.5 3.9 3.4M479.1 406.1l-1.8 2.4-0.8 3.6 0.1 4.4 2 7.7 3.8 7.9 5.1 6.8 3.8 3.6 1.9 1.3M481.2 405.6l-2 2.1-1.2 3.2-0.1 4.2 0.8 4.9 2.9 7.8 4.6 7.4 3.6 4.1 3.8 3.1 1.9 1.1M482.1 405.6l-1.9 2.3-1 3.3 0 4.2 1.7 7.2 3.4 7.4 4.8 6.4 3.5 3.2 3.5 2.2M484.5 406.5l-1.9 1.9-1 2.9-0.3 3.7 1.3 6.5 3 6.6 4.2 5.9 4.9 4.2 1.6 0.9M486.3 406.9l-1.9 1.7-1.2 2.7-0.3 3.6 1.1 6.3 3 6.5 4.2 5.6 3.2 2.8 3.2 1.7M487.7 406.6l-2 1.5-1.3 2.5-0.5 3.4 0.9 6 2.7 6.2 3.9 5.5 3.1 2.8 3.1 1.8 1.5 0.5M490 406.6l-2.1 1-1.4 2-0.8 2.8 0.2 5.2 1.9 5.6 3.3 5.2 4 4 4.2 2.1 1.3 0.2M491.7 406.8l-2.1 0.8-1.5 1.7-0.9 2.5 0 4.8 1.6 5.3 2.9 4.9 3.7 3.9 4.1 2.2 2.5 0.3M492.9 406.6l-2 0.8-1.5 1.6-1.2 3.7 0.4 4.8 1.9 5 3.1 4.6 3.7 3.2 3.9 1.5 1.2 0M494.7 406.4l-2 0.6-1.5 1.4-1.3 3.3 0.1 4.4 1.6 4.7 2.7 4.4 3.4 3.4 3.7 1.8 2.4 0.3M496.5 406.6l-1.9 0.5-1.5 1.3-1.2 3.1 0.1 4.1 1.4 4.5 2.5 4.2 3.3 3.2 3.5 1.8 2.2 0.3M497.4 406.6l-1.7 0.7-1.7 2.4-0.5 3.6 0.7 4.2 2 4.3 2.9 3.7 3.4 2.6 3.4 1 1-0.1M499.5 406.1l-1.7 0.5-1.9 2.2-0.8 3.3 0.6 4.1 1.7 4.3 2.7 3.7 3.2 2.6 3.3 1.2 1.1 0.1M501 406.6l-2.2 1.2-1.2 2.5-0.2 3.4 1.1 3.9 2 3.7 2.7 3.1 3 1.8 3 0.5M503.3 406.5l-2.3 0.7-1.5 2.1-0.4 3.1 0.7 3.8 1.7 3.7 2.5 3.3 3 2.2 3 0.9 0.9-0.1M504.5 406.1l-2.2 0.9-1.4 2.2-0.2 3.4 0.9 3.8 1.9 3.7 2.7 3 3 2 2.9 0.4M506 406.1l-2.1 1-1.2 2.3-0.1 3.2 1 3.6 1.9 3.5 2.6 2.8 2.9 1.7 2.7 0.3M507.7 406.2l-1.9 0.9-1.1 2-0.2 2.9 1.3 4.4 2.6 4 2.6 2.1 2.5 0.9 1.6 0M509.9 406.3l-1.8 0.6-1.2 1.7-0.4 2.4 0.9 4 2.2 3.7 3 2.7 2.4 0.9 0.7 0M511.7 406.8l-1.6 0.5-1 1.5-0.2 3 1.1 3.5 2.1 3.1 2.8 2 2 0.5 0.6 0M513.3 406.8l-1.5 0.6-1 2.1 0.2 3 1.4 3.3 2.3 2.6 2.6 1.5 1.3 0.2M514.6 406.6l-1.3 0.7-0.9 2.2 0.4 3 1.5 3.2 2.4 2.6 2.6 1.2 1.2 0M516.4 406.2l-1.3 0.6-0.9 2.1 0.3 2.9 1.9 3.8 2.3 2.2 2.5 1 0.6-0.1M518.1 406l-1.2 0.6-0.9 2 0.3 2.8 1.8 3.7 2.3 2.1 2.4 0.7 0.6 0M519.9 405.9l-1.2 0.5-0.9 1.8 0.2 2.7 1.8 3.5 2.2 2 2.3 0.7 0.5 0M521.5 406l-1.3 0.8-0.5 2 0.8 3.2 2.2 2.8 2.1 1.1 1 0.1M523.4 406.1l-1.3 0.7-0.5 1.7 0.8 2.9 2 2.6 2.4 1.1 0.4 0M524.8 405.9l-1.2 0.8-0.3 2.2 1.1 2.7 2 2.1 2.3 0.7M526.3 405.8l-1 0.7-0.2 2 1.3 2.9 2.3 1.9 1.5 0.2M528.2 405.7l-1 0.8 0 2.2 1.3 2.4 2.1 1.4 0.7 0.1M530 405.6l-1 0.6 0 2.1 1.3 2.2 2 1.3 0.6 0M531.6 405.4l-0.9 0.6 0 1.9 1.6 2.4 1.9 0.8 0.3 0M533 405.1l-0.7 0.8 0.2 1.9 1.7 2.1 1.5 0.5M534.7 405l-0.7 0.9 0.5 1.9 1.6 1.5 1 0.1M536.4 405.1l-0.6 0.7 0.9 2 1.6 0.8M538 404.9l-0.4 0.8 1.1 1.8 1.2 0.4M539.6 404.5l-0.4 0.7 1 1.7 1.2 0.4M541.2 404.1l-0.4 0.6 1 1.7 1.2 0.4M542.7 403.7l-0.3 0.7 1 1.5 1 0.3M544.2 403.4l-0.2 0.7 1.2 1.4 0.6 0.1M545.7 403l-0.1 0.8 1.2 1.2 0.5 0.1M547.3 402.6l-0.2 0.8 1.2 1.1 0.4 0M548.8 402.3l0.1 0.9 1.3 0.8 0.1 0M550.4 401.9l0.1 0.8 1.3 0.7M551.9 401.5l0.3 0.9 1 0.4M553.4 401.2l0.6 1 0.6 0.1M554.9 400.8l0.7 0.9 0.5 0M556.4 400.4l0.8 0.8 0.4 0M557.9 400l1 0.7 0.1 0M559.5 399.6l1 0.6M561 399.2l1 0.5M562.5 398.7l1 0.5M564.1 398.2l1 0.5M565.6 397.8l1 0.4M567.1 397.3l0.9 0.5M568.5 396.9l1 0.4M570 396.4l1 0.5M571.4 396l1 0.4M572.9 395.6l0.9 0.3M574.3 395.1l0.9 0.4M575.8 394.7l0.9 0.3M577.2 394.3l1 0.2M578.7 393.8l1 0.2M580.3 393.4l0.9 0.2M581.8 392.9l0.9 0.2" fill="none" stroke="#ff0000" stroke-width="0.75" stroke-linejoin="round"/><path d="M465.2 421.7l-1.6 2.8-0.4 4.2 1.1 5.2 1.7 3.7 2.6 3.2 2.9 2.3 1.5 0.8M466.1 421.3l-1.1 3.6 0.4 4.4 1.8 4.5 2.7 4 3.1 2.6M467.4 422.5l-0.7 2.8 0.5 4.6 1.9 4.6 2.7 3.7 1.7 1.5M467.1 419.1l-1.3 2.8-0.4 3.7 0.7 4.4 1.8 4.4 2.6 4.2 3.3 3.3 2.4 1.5M468.1 419.9l-0.6 2.9 0.6 5 2.1 4.8 3.1 3.8 2.2 1.6M471.3 425.6l0.2 3.1 1.8 4.2 1.3 1.8M467 412.1l-2.6 2.3-1.1 1.6-0.2 4.8 0.9 5.1 1.7 4.9 3.9 6.4 4.5 4.5 3.1 1.8 1.4 0.6M471.8 422.3l-0.4 4.2 0.5 3.7 1.4 3.9 2.3 3.7 2.9 3.1M467.1 406.8l-1.9 1-1.5 1.8-1 2.2-1.2 5.3 0.2 6.1 1.4 6.4 2.6 6.4 3.5 5.9 4.3 5 4.6 3.9 4.9 2.4M470.1 411.3l-1.9 2.7-1.1 3.6-0.2 4.3 0.7 4.5 2.6 6.8 3.9 6 4.8 4.3 3.2 1.6M473.7 419.6l-1.1 3.9 0 3.4 1.6 5.8 3.2 5.6 2.9 3.1 1.6 1.2M470.3 406.8l-1.7 1-1.6 1.4-1.3 1.7-1.7 4.5-0.5 2.7 0.1 3 1.4 5.8 2.3 5.7 2.9 5.1 3.5 4.5 3.8 3.5 3.8 2.5 3.7 1.3M474 417.2l-1 2.6-0.3 5 1.4 5.7 2.8 5.5 3.9 4.6 2.9 2.3M473.7 413.4l-1.4 2.8-0.7 3.5 0.5 6.2 2.2 6.4 3.6 5.7 4.5 4.4 3.1 1.8M475.2 413.3l-1.9 3-0.9 4.1 0.4 4.8 1.4 5.2 2.5 5 3.3 4.5 3.9 3.4 2.7 1.6M475.4 410.4l-1.7 2.1-1.2 2.9-0.6 5.3 1 6.1 2.5 6.1 3.6 5.5 4.4 4.4 4.7 2.6M478.4 415.9l-1.2 3.8 0.3 4.5 1.6 4.7 2.7 4.2 3.2 3 1.1 0.7M480.8 420.6l-0.3 3.6 1.1 4 2.2 3.8 2.3 2.5M480.3 415.8l-1.2 1.9-0.8 4.1 0.8 5 2.2 5.2 2.2 3.1 4.1 3.3 1.4 0.7M480.8 416.7l-0.8 2.5 0.1 4.8 1.8 5 3 4.4 3.7 2.9M482.9 417.3l-1.4 1.6-0.8 2.4 0.2 5 2.1 5.8 2.4 3.8 3 3.3 3.5 2.5M482.6 414.1l-0.7 3.7 0.5 4.1 2.1 4.6 2.7 3.1 1.9 1.2M486.8 418.8l-0.6 2.1 0.5 3.4 2.1 4.2 2.5 2.7M485.2 413.2l-1.3 1.8-0.9 4.1 0.7 4.9 2.1 5.1 3.2 4.5 4 3.1 1.3 0.7M484.6 409l-1.7 1.9-1.1 2.6-0.3 3.3 1.1 5.7 2.5 5.4 3.4 4.5 4 2.9 2.5 0.9M488.4 416.3l-0.8 2.4 0.2 3.1 1.7 4.4 2.2 2.7 2.5 1.8M489.4 416.7l-0.9 1.8 0 3.5 1.5 4.1 2.7 3.7 2.5 1.9M487.8 411.2l-1.2 2.2-0.4 4.3 1.1 4.8 2.4 4.4 3.1 3.3 3.2 1.7M490.9 416.3l-0.7 2.4 0.4 3.4 1.7 3.6 2.6 2.8 0.7 0.5M491.4 414.6l-1.2 2-0.2 3 1.5 4.2 2.6 3.4 2.3 1.5M492.7 416.2l-0.8 2.4 0.5 3 1.7 3.2 2.3 2.2 0.8 0.4M492.9 415l-1.2 2.2 0 3.5 1.5 3.8 2.5 3.3 3.1 2M493 413.3l-1.3 2.2-0.2 3.1 0.9 3.5 1.9 3.3 2.5 2.5 2.6 1.2M495.4 416.9l0 2.4 1.3 2.5 0.8 0.7M496.6 418.5l-0.3 1.6 1.2 3.1 1.7 1.8M496 414.1l-1 1.5-0.2 3.1 1.3 3.5 2.3 2.8 2.1 1.2M496.8 413.2l-1.2 1.2-0.6 2.7 0.8 3.5 1.9 3.3 2.7 2.3 1.4 0.5M497.5 413.8l-0.9 1.7 0.2 3.3 1.7 3.3 2.4 2 0.7 0.3M498.9 415.8l-0.3 2.3 1.1 2.5 1.8 1.6M500.3 416.9l0 1.9 1.2 2.3 0.9 0.8M500.4 414.7l-0.8 1.7 0.6 3 1.9 2.9 2.1 1.2M500.8 413.4l-0.7 2.1 0.6 3.1 1.9 2.5 1.7 1M502.7 415.4l-0.3 1.7 1.1 2.5 1.6 1.2M503 412.7l-1.3 1-0.5 2.3 1.1 3.7 2 2.9 2.1 1.2 0.6 0.1M503.9 413.5l-0.7 1.9 0.7 2.6 1.6 2 1.4 0.7M505.2 414.9l-0.2 1.9 1.3 2 0.7 0.6M505.8 414.6l-0.4 1.4 0.9 2.5 1.6 1.3M505.9 413.1l-0.6 1.5 0.5 2.5 1.8 2.4 1.3 0.6M507 412.9l-0.8 1.1 0.1 2.3 1.7 2.8 1.8 1.2M508 412.8l-0.6 1.6 0.9 2.5 1.7 1.4 0.3 0M509.5 414.6l0.4 1.6 0.6 0.6M510.1 414l-0.4 1.2 1 2.1 1.3 0.9M510.4 412.4l-0.5 1.5 0.9 2.5 1.9 1.6 0.3 0.1M511.7 413l-0.3 1.3 1 1.9 1 0.6M512.6 413l-0.2 1.4 1.2 1.6 0.5 0.2M513.4 412.4l-0.5 1 0.8 2 1.5 0.9M514.2 412.1l-0.5 1 0.8 2.1 1.5 0.8M515 412l-0.4 1 0.8 1.8 1.2 0.5M515.8 412.1l-0.2 1 1 1.5 0.6 0.2M516.8 412.2l0 1.1 1.1 0.7 0.1 0M517.7 412.2l0.1 0.9 0.9 0.5M518.4 411.5l-0.4 0.6 0.8 1.5 0.9 0.2M519.4 411.7l0.3 1 0.6 0.3M520.1 411.1l-0.3 0.7 1 1.2 0.4 0M521.2 411.4l0.6 1 0.2 0.1M521.7 410.5l-0.3 0.7 0.8 1.3 0.7 0.1M522.6 410.9l0.8 0.7 0 0.1M523.5 410.4l-0.2 0.6 1 0.7M524.3 410.5l0.6 0.6 0.1 0M525.2 410.3l0.6 0.5M526.1 410.1l0.6 0.3M527 409.9l0.5 0.3M527.7 409.7l0.5 0.1" fill="none" stroke="#ff0000" stroke-width="0.75" stroke-linejoin="round"/><path d="M453.3 431.9l-1.4-1.8-1.2-0.1-0.6 1.3 0.6 2.8 2 3 2.3 1.4 1.7-0.3 1.1-1.6 0.2-2.7-1.3-4.2-2-2.7-2.3-1.5-1.6-0.1-1.1 1-0.7 2.5 0.5 3.4 2.1 4.5 2.5 2.8 2.8 1.4 1.8-0.2 1.9-1.6 0.9-3-0.3-4.1-1.6-4.6-2.8-4.3-3.4-2.9-2.6-0.8-2.3 0.5-1.8 1.9-0.9 3.2 0 4.2 1.2 4.9 2.3 5 3 4.5 3.3 2.3 2.9 0.8 2.4-0.3 1.9-1.3 1.5-2.8 0.3-4.5-1.6-7.2-2.3-5.4-3-3.8-2.8-2.1-1.5-0.5-1.6 0.5-1.7 2.1-0.7 3.3 0.5 4.2 1.4 4.3 3.3 5.3 3.1 3.4 3.5 1.9 2.2 0.3 1.9-0.8 1.5-1.6 1-2.6 0.2-5.1-1.4-6.1-2.9-6.1-4.1-5.2-3.1-2.4-3.5-0.4-1.9 0.8-2.2 2.5-1 3.8 0.2 4.8 1.3 5.1 2.3 5 2.9 4.3 3.4 3.2 3.5 1.8 3.1 0.2 2.5-1.4 1.6-3 0.5-4.2-0.7-4.9-2-5.7-3.5-5.6-2.9-2.9-3-1.7-2.8-0.6-2.4 0.8-1.8 2.1-1 3.2-0.2 4.1 0.9 4.6 2.8 7.2 2.8 4.4 3.3 3.7 3.5 2.5 3.5 1.2 3.1-0.2 2.6-1.7 1.8-3 0.9-4.2-0.2-5-1.1-5.5-2.2-5.5-3.1-5.1-3.6-4.1-3.8-2.9-3.7-1.3-3.3 0.2-1.4 0.6-2.2 2.5-1.3 3.7-0.3 4.6 0.8 5.3 1.8 5.4 2.5 5.1 3.2 4.6 3.6 3.6 3.7 2.3 3.5 1 3.1-0.5 2.5-1.9 1.6-3.1 0.7-4.2-0.2-4.8-1.2-5.2-2-5.1-4.2-6.8-3.2-3.4-3.4-2.4-3.4-1.2-2.9 0.3-2.5 1.5-1.7 2.9-0.8 3.8 0.1 4.7 1.1 5.1 2 5.3 2.7 4.9 3.3 4.2 3.6 3.3 3.7 2 3.4 0.6 3.1-0.9 2.3-2.3 1.5-3.5 0.4-4.6-0.5-5.3-1.6-5.5-2.5-5.3-3-4.3-3.3-3.4-3.3-2.3-3.2-0.9-2.8 0.3-2.3 1.5-1.5 2.7-0.7 3.5 0.5 6.4 2.2 6.8 3.6 6.1 4.4 4.4 3 1.8 2.8 0.6 2.5-0.5 1.9-1.6 1.3-2.6 0.5-3.3-0.6-5.8-2.2-6-3.4-5.3-4-3.5-2.6-0.9-2.3 0.1-1.7 1.3-1.2 2.1-0.4 4.6 1.2 5.3 2.5 5.1 3.3 3.9 3.5 2.2 2.1 0.3 1.8-0.6 1.4-1.4 1-3.4-0.4-4.3-1.5-4.4-2.4-4-3-3-2.1-1-1.9-0.1-1.5 0.9-1 1.7-0.4 3.9 1 4.7 2.4 4.7 3.1 3.7 3.5 2 2.1 0.2 1.8-0.8 1.3-1.8 0.8-4-0.6-5-2.1-5.1-3.1-4.3-3.1-2.3-2.8-0.7-2.3 1-1.4 2.4-0.4 3.6 0.7 4.2 2.5 5.8 2.6 3.6 3.1 2.6 3 1.2 2.6-0.4 2-1.8 1-3.1 0-4.1-1.1-4.4-2.5-4.5-2.9-3.3-3-1.7-2.5 0-1.7 1.6-0.7 2.8 0.3 3.4 1.7 4.7 2.7 3.6 2.2 1.6 2 0.4 1.6-0.7 0.9-1.7 0.1-3-0.8-3.7-1.9-3.4-2.1-1.7-1.9-0.3-1.1 0.8-0.7 2.3 0.7 4.2 2.4 4.2 2.6 2.3 2 0.6 1.8-0.4 1.1-1.7 0.2-3.5-1.1-4-2.2-3.4-2.5-1.9-1.7-0.1-1.2 1-0.5 2.7 0.8 3.5 1.9 3.3 2.4 2 1.8 0.4 1.4-0.6 1-1.9 0-2.9-1.4-4-2.1-2.5-2.2-1.1-1.4 0.3-0.9 1.4-0.1 3 1.2 3.8 2.2 3.3 2.8 2 2 0.2 1.3-1.4 0.6-2.3-0.6-3.7-1.6-3.4-2.2-2.1-1.5-0.5-1.1 0.5-0.6 1.9 0.6 3.2 1.8 2.7 2 1 1.6-0.6 0.5-2.1-0.8-2.8-1.6-1.9-1.3-0.4-0.8 1 0.1 2.4 1.4 2.6 2 1.6 1.4 0 1-1.5-0.2-2.8-1.6-3-1.8-1.1-1.1 0.6-0.2 2.2 1.4 3.5 2.1 2 1.6 0.2 1.1-1.1 0.2-2.5-1.2-3.3-1.7-1.6-1.2-0.1-0.8 1.3 0.6 3 1.9 2.6 1.6 0.5 1-0.8 0.3-2.3-1.2-2.5-1.1-0.4-0.2 1.3 1.3 2.3 1.3 0.4 0.8-0.9-0.2-2.3-1.4-1.8-1 0-0.4 1.3 0.9 2.4 1.8 1.6 1.3-0.2 0.6-1.4-0.6-2.4-1.4-1.5-1 0.2 0 1.8 1.5 2.3 1.3 0.5 0.9-0.8-0.2-2.3-1.2-1.7-0.8 0-0.2 1.5 1.3 2.2 1.3 0.6 0.9-0.8-0.1-2.2-1.2-1.7-0.8 0.1-0.1 1.5 1.4 2.1 1.5 0.5 0.8-0.9-0.1-2.2-1.2-1.6-0.8 0.1 0.1 1.7 1.4 1.7 1.1 0 0.3-1.4-0.8-1.5-0.5 0.2 0.6 1.8 1.5 1.3 1.2-0.3 0.3-1.7-0.7-2.1-1.3-1-0.7 0.4 0.1 1.7 1.4 1.9 1.2 0.1 0.5-1.4-0.8-1.6-0.4 0.2 0.9 1.5 1 0.1 0.2-1.3-0.7-0.7 0.2 1.3 1.2 0.8 0.7-0.7-0.4-1.9-0.9-0.7-0.3 1 1.1 1.9 1.3 0.7 0.9-0.8-0.2-2-1.1-1.3-0.5 0.5 0.8 1.9 1.4 0.6 0.7-0.8-0.4-1.9-0.9-0.5-0.1 1.2 1.2 1.8 1.2 0.1 0.6-1.2-0.7-2-0.8-0.4-0.1 1.2 1.2 1.6 1.1-0.1 0.3-1.5-0.7-0.9 0.7 1.2 0.9-0.1 0-0.7 1 0.5 0.4-1-0.4-0.4 0.7 1.2 0.8-0.1 0-1.4-0.7-0.4 0.3 1.3 1.2 0.6 0.5-0.9-0.6-1.1 0.7 1.1 0.7-0.2 0.1-0.6 0.9 0.3 0.1-1.1 0.5 0.9 0.9-0.2-0.2-1.3 0.2 0.9 1.1 0.4 0.3-1.1-0.5-0.6 0.7 1.3 0.9 0 0-1.4-0.6-0.5 0.3 1.4 1.1 0.5 0.6-1-0.7-1.3 0 0.9 1.1 0.9 0.7-0.5-0.4-1.4 0.2 0.9 1 0.2 0.2-1.2-0.3-0.1 1 1.1 0.7-0.5-0.1-0.5 1 0.5 0.3-1.1-0.5-0.5 0.6 1.2 0.9 0.1 0.1-1.3-0.2 0 1 0.7 0.4-0.8 0.8 0.6 0.6-0.5-0.5-1.4-0.3 0.5 1.2 1.4 0.9-0.2 0-1.6-0.3-0.1 0.9 1.2 0.8-0.3-0.2-1.5-0.4 0.2 1 1.4 0.9-0.2 0-1.6-0.6-0.3 0.6 1.4 1.1 0.3 0.3-1.3-0.6-0.7 0.7 1.3 0.8-0.1-0.1-1.4-0.2 0.2 1 1 0.6-0.6-0.4-1.1 0.5 1.1 0.9 0-0.1-1.3 0.8 1.1 0.8-0.3-0.2-1.4-0.1 0.4 1.1 0.9 0.5-0.8-0.4-0.7 0.9 1.2 0.9-0.1-0.1-1.6-0.3 0 1.2 1.2 0.6-0.4-0.3-1.2 0.9 1 0.7-0.6-0.1-0.4 1.2 0.5 0.4-1-0.4-0.4 0.8 1.2 0.8-0.4-0.4-1.1 0.7 1 0.8-0.2-0.2-1.3-0.1 0.4 1.1 0.9 0.5-0.9 0-0.1 0.9 0.3 0.1-1.1 0.5 0.9 0.9-0.1-0.1-1.4-0.3 0.1 0.8 1.1 0.8-0.3 0-0.8 1.1 0.5 0.4-0.9-0.3-0.4 0.9 1.1 0.7-0.4-0.3-1.3 0.4 1 1 0.1 0-1.3 0.6 0.8 0.7-0.4 0.2-0.5 1 0.2 0.2-0.6 1 0.8 0.5-0.9-0.4-0.7 0.9 1 0.7-0.5-0.1-0.3 1 0.5 0.3-1.1-0.2-0.1 1 0.6 0.4-0.7-0.2-0.3 0.9 0.9 0.6-0.7-0.1-0.3 1 0.3 0.2-1.1 0.9 0.7 0.4-0.8 0.1 0 1 0.3 0.2-0.7 0.9 0.4 0.4-0.8 1 0.3 0.3-0.7 0.9 0.3 0.4-0.7 1.1 0.1 0.4-0.5 0.9 0.3 0.4-0.8 0.9 0.2 0.6-0.6 0.9 0.3 0.3-0.7 1 0.4 0.3-0.8 0.9 0.2 0.4-0.6 0.9 0.2 0.3-0.5 0.9 0.1 0.2-0.5 1 0.3 0.6-0.8 1 0 0.3-0.3 0.8 0.1 0.3-0.5 0.9 0.1 0.4-0.5 1 0.1 0.4-0.5 0.9 0 0.5-0.4 0.8 0 0.2-0.4 1 0.2 0.2-0.7" fill="none" stroke="#0000ff" stroke-width="0.75" stroke-opacity="1.0" stroke-linejoin="round"/><path d="M451.9 427.7l-1.3-0.6M455.1 437.6l2.2 0 1.7-1.3 0.9-2.4 0-3.3-1.2-3.6-2.1-3.5-3.9-3.6-3.4-1.4M461.3 449.6l3.8-0.2 1.7-0.6 1.5-1.1 1.4-1.4 1.9-3.9 0.8-5.1-0.4-5.9-1.8-6.5-2.9-6.4-4.1-6-4.9-5-5.4-3.7-2.7-1.2-2.7-0.7-2.7-0.2M468.7 466l3.5-0.1 3.3-0.7 3.1-1.5 2.7-2.1 2.3-2.8 1.9-3.4 1.4-4 0.8-4.5 0.3-4.9-0.3-5.3-0.8-5.6-1.5-5.7-2-5.9-2.5-5.7-3-5.7-3.5-5.4-3.9-5-4.3-4.6-4.5-4-4.7-3.4-4.8-2.7-4.8-2-4.7-1.1-4.6-0.2M477.8 486.6l5.5-0.4 5.1-1.5 4.6-2.5 4.1-3.6 3.4-4.5 2.7-5.5 1.9-6.3 1.1-7 0.2-7.7-0.8-8.1-1.6-8.5-2.4-8.5-3.3-8.6-3.9-8.4-4.7-8.1-5.2-7.6-5.8-7-6.2-6.4-6.4-5.5-6.7-4.5-6.7-3.6-6.7-2.4-6.5-1.3-6.2-0.1M481 498.9l6.7-0.2 6.3-1.5 5.7-2.8 5.1-3.9 4.3-5.1 3.5-6.2 2.5-7.2 1.7-8 0.6-8.7-0.3-9.4-1.4-9.7-2.3-10-3.3-10.1-4.3-9.9-5.2-9.5-5.9-9.1-6.4-8.3-6.9-7.6-7.3-6.6-7.3-5.5-7.4-4.4-7.3-3.2-7.2-2.1-6.9-0.8-6.6 0.4M483.9 498.5l6.3-0.6 5.7-1.8 5.2-2.9 4.5-3.9 3.9-4.9 3-5.8 2.2-6.7 1.4-7.3 0.5-7.9-0.3-8.3-1.2-8.6-2.1-8.7-2.8-8.8-3.6-8.7-4.3-8.5-4.9-8.2-5.4-7.6-5.9-7.1-6.3-6.3-6.5-5.6-6.6-4.6-6.7-3.7-6.6-2.7-6.5-1.6-6.1-0.6-5.8 0.5M485.3 498.3l5.9 0 5.4-1.1 4.8-2.2 4.3-3.2 3.5-4.2 2.8-5.1 2-6 1.3-6.6 0.4-7.3-0.5-7.8-1.2-8.2-2.1-8.4-2.8-8.5-3.5-8.5-4.1-8.3-4.8-8-5.2-7.6-5.6-7-5.9-6.3-6.2-5.6-6.3-4.7-6.2-3.8-6.2-2.8-5.9-1.7-5.7-0.7-5.3 0.4M486.8 497.9l5.3 0.5 4.9-0.5 4.4-1.5 3.8-2.6 3.2-3.5 2.5-4.4 1.7-5.2 1.1-6 0.2-6.6-0.5-7.1-1.2-7.5-2-7.9-2.7-7.9-3.3-8-3.9-7.9-4.4-7.6-4.9-7.3-5.2-6.8-5.5-6.2-5.6-5.5-5.8-4.7-5.7-3.8-5.6-2.9-5.4-2-5-0.9M489.8 499.1l4.9 0.9 4.5-0.2 4-1.2 3.4-2.1 2.9-3.1 2.2-3.9 1.6-4.8 0.8-5.6 0.2-6.2-0.6-6.7-1.3-7.2-1.9-7.5-2.6-7.8-3.2-7.8-3.8-7.8-4.2-7.6-4.6-7.3-5-6.8-5.2-6.4-5.4-5.7-5.4-5-5.4-4.2-5.3-3.3-5.1-2.4-4.8-1.5-4.5-0.4M488.5 497l4.9 1.8 4.6 0.8 4.2-0.2 3.7-1.2 3.1-2.2 2.6-3.2 1.9-4 1.2-4.9 0.5-5.6-0.2-6.4-0.9-6.8-1.6-7.4-2.2-7.6-2.9-7.8-3.4-7.8-4-7.7-4.4-7.6-4.7-7.1-5.1-6.7-5.2-6.1-5.4-5.4-5.3-4.7-5.3-3.7-5.1-2.9-4.8-1.8-4.5-0.9M490.5 496.1l4.8 1.9 4.5 0.9 4-0.2 3.6-1.1 3-2.1 2.4-3.1 1.8-3.9 1.1-4.8 0.4-5.5-0.3-6.1-0.9-6.7-1.7-7.2-2.2-7.4-2.9-7.6-3.4-7.6-3.9-7.6-4.3-7.3-4.6-7-4.9-6.5-5.1-5.9-5.2-5.3-5.1-4.5-5.1-3.7-4.9-2.8-4.6-1.8-4.3-0.8M492 493.8l4.4 1.8 4.2 0.8 3.7 0 3.2-1 2.8-1.9 2.1-2.7 1.6-3.6 1-4.3 0.4-5-0.3-5.6-0.8-6.1-1.5-6.5-2-6.8-2.6-6.9-3-7-3.5-7-3.9-6.7-4.1-6.5-4.4-6-4.5-5.6-4.6-5-4.6-4.3-4.5-3.5-4.4-2.8-4.1-2-3.9-1.1-3.4-0.2M490.4 485.2l4 2 3.8 1.3 3.4 0.4 3.1-0.4 2.6-1.1 2.1-2 1.7-2.7 1.1-3.4 0.6-4 0.1-4.7-0.5-5.1-1.1-5.4-3.5-11.9-5.3-12.2-6.7-11.9-7.6-10.8-8.1-9-4-3.7-4-2.9-3.7-2.3-3.6-1.4-3.2-0.7-2.9 0.1M490.6 478.5l3.6 2.1 3.4 1.3 3.2 0.6 2.7-0.1 2.4-0.9 2-1.6 1.5-2.3 1.1-2.9 0.5-3.6 0.1-4.1-0.4-4.5-2.3-10.3-4.1-11-5.5-11.2-6.5-10.6-7.2-9.2-7.3-7.3-3.6-2.8-3.4-2.1-3.2-1.5-2.9-0.8-2.6 0M490 472l3.3 2.1 3 1.4 2.9 0.8 2.5 0.2 2.3-0.5 1.9-1.2 1.5-1.8 1-2.5 0.7-2.9 0.2-3.5-0.8-8.2-2.5-9.5-4-10-5.2-10-6.1-9.2-6.4-7.9-6.5-6-3.1-2.2-2.9-1.6-2.7-1-2.5-0.4-2.2 0.3M487.9 465.1l5.9 3.9 2.8 1.1 2.5 0.5 2.2-0.1 2-0.6 1.6-1.3 1.3-1.7 0.9-2.3 0.6-2.8-0.1-6.7-1.5-8-2.9-8.8-4.1-8.9-5-8.6-5.6-7.6-5.9-6.3-5.7-4.4-2.7-1.5-2.5-0.9-2.3-0.4-2 0.2M488.3 460.9l5.6 3.6 2.5 1.1 2.4 0.4 2.2 0 1.8-0.6 1.6-1.2 1.3-1.6 0.9-2.1 0.6-2.6 0-6.4-1.3-7.5-2.8-8.2-3.8-8.4-4.8-7.9-5.3-7-5.5-5.7-5.3-3.8-2.5-1.2-2.3-0.7-2.1-0.2-1.9 0.4M490.2 457.8l5.1 2.8 2.3 0.7 2.1 0.1 1.9-0.4 1.6-0.9 1.4-1.3 1-1.9 0.7-2.2 0.3-5.7-1-6.8-2.2-7.4-3.4-7.7-4.2-7.4-4.8-6.5-5.1-5.3-4.9-3.7-4.6-1.9-2-0.3-1.8 0.3M490.3 453.5l4.7 2.6 2.2 0.7 2 0.2 1.8-0.3 1.6-0.8 1.3-1.2 1-1.6 1.1-4.5-0.2-5.7-1.4-6.6-2.5-7-3.5-7-4.3-6.5-4.6-5.5-4.8-4.1-4.5-2.5-2-0.6-1.9-0.2-1.7 0.3-1.5 0.8M491.4 451.2l4.4 2.2 3.8 0.5 1.6-0.4 1.4-0.8 1.2-1.2 1.6-3.4 0.4-4.8-0.7-5.7-1.8-6.2-2.7-6.4-3.5-6.1-4-5.4-4.2-4.4-4.2-3.1-3.9-1.6-3.4-0.1-1.4 0.6M492.4 448.3l3.9 1.8 3.4 0.3 1.5-0.4 1.3-0.8 1.9-2.5 0.9-3.8-0.1-4.8-1.1-5.4-3.2-8.6-4.9-8-5.8-6.4-3.9-2.9-3.7-1.5-3.2-0.1-1.3 0.6M491.7 445.2l3.9 2.1 3.5 0.8 2.9-0.7 2.2-2.1 1.3-3.4 0.2-4.4-0.7-5.1-2.8-8.2-4.5-7.9-5.5-6.4-3.8-2.9-3.6-1.7-3.2-0.3-2.5 1.1M493.2 443.8l3.7 1.8 3.3 0.5 2.8-0.9 2-2.2 1.1-3.4 0.2-4.4-0.8-4.9-2.9-8-4.5-7.5-3.5-4.2-3.7-3.2-3.7-1.9-3.3-0.7-2.7 0.8M495.5 443.5l3.6 1.2 3.1-0.1 2.5-1.6 1.6-2.7 0.8-3.9-0.3-4.7-1.2-5.1-3.5-7.9-4.8-6.9-3.7-3.6-3.7-2.4-3.5-1.1-3 0.3-1.3 0.6M496.1 441.8l3.4 1 2.9-0.3 2.3-1.5 1.6-2.7 0.6-3.6-0.2-4.2-1.9-7.1-3.5-7-4.7-5.7-3.3-2.8-3.3-1.6-3-0.5-2.5 0.7M496.3 439.1l3.1 0.9 2.8-0.2 2.1-1.4 1.5-2.4 0.7-3.3-0.5-6.1-2.4-6.7-3.8-6.3-4.7-4.7-3.2-1.8-3-0.7-2.6 0.5M497.6 437.8l3.1 0.7 2.6-0.6 2-1.7 1.3-2.7 0.4-3.6-1-6.2-2.7-6.5-4-5.6-4.6-3.9-3-1.3-2.8-0.2-1.2 0.4M499.1 436.8l2.8 0.2 2.4-1 1.7-1.9 1-2.8 0.3-3.5-1.2-5.9-2.6-6-3.9-5-4.3-3.3-2.8-1-2.5 0M500.6 434.7l2.4-0.3 2-1.2 1.4-2.1 0.7-2.8-0.3-5.2-1.8-5.5-3.1-5-3.8-3.7-4-2-2.4-0.1M502 433.2l2.2-0.7 1.8-1.5 1.1-2.3 0.4-4.6-1.1-5.2-2.5-5.1-3.5-4.1-3.9-2.5-2.4-0.6-1.2 0M502.4 431.8l2.2-0.5 1.8-1.5 1.2-2.1 0.5-4.3-0.9-5-2.2-4.8-3.2-3.9-3.6-2.5-3.5-0.8M503.8 430.7l2-0.6 1.6-1.4 1.5-3.2 0-4.3-1.2-4.7-2.5-4.3-3.1-3.4-3.5-1.9-2.1-0.3M504.9 429.6l2-0.5 1.6-1.2 1.4-3 0.2-4-1.1-4.5-2.3-4.1-2.9-3.4-3.3-2-3.1-0.3M506.9 429l1.9-0.6 2-2.3 0.9-3.5-0.5-4.3-1.6-4.4-2.7-3.8-3.1-2.8-3.3-1.2-1 0M507.7 428.1l2.6-1 1.8-2.4 0.5-3.5-0.6-4-1.7-4.1-2.5-3.4-3-2.3-2.9-0.8-0.9 0M509.2 426.7l2.4-0.9 1.5-2.3 0.5-3.3-0.6-3.8-1.7-3.8-2.4-3.2-2.8-2.1-2.8-0.8M510.9 426.2l2.4-1.1 1.4-2.4 0.4-3.4-0.7-3.8-1.8-3.8-2.5-3.1-2.8-2-2.8-0.5M512.1 425.5l2.4-1 1.5-2.3 0.4-3.3-0.8-3.8-1.7-3.7-2.5-3-2.7-1.8-2.7-0.5M513.7 424.5l2.2-1.1 1.3-2.3 0.3-3.3-0.9-3.6-2.4-4.3-2.4-2.4-2.5-1.2-1.6-0.1M515.1 423.4l2-1 1.1-2.1 0.3-2.9-1-4.2-2.4-3.9-3-2.4-2.2-0.6M515.7 422.3l2-0.7 1.3-1.6 0.5-2.4-0.7-3.9-1.8-3.5-2.6-2.6-2-0.8-0.7 0M517.5 420.9l1.6-0.8 1-1.6 0.3-3.1-1-3.4-1.9-3-2.5-1.8-1.7-0.4M518.6 420.1l1.6-0.6 1.1-1.4 0.4-2.8-0.7-3.3-2.3-3.6-2.4-1.6-1.7-0.2M520.5 419.5l1.5-0.7 1.2-2.3-0.1-3-1.7-4-2.1-2.3-2.3-1-0.6 0M521.8 418.7l1.5-0.6 1.2-2.1 0-2.9-1.6-3.8-2-2.3-2.3-1-0.5 0M523.4 417.9l1.4-0.7 1-2.1-0.1-2.9-1.6-3.6-2.1-2-2.1-0.7M524.8 417.1l1.3-0.7 1-2-0.4-3.5-1.8-3.2-2-1.5-1.4-0.2M525.8 416l1.6-0.8 0.7-1.9-0.5-3.1-1.7-2.8-2.1-1.3-0.4 0M527.2 415.1l1.5-0.8 0.6-1.9-0.5-2.9-1.6-2.5-2.1-1.1-0.3 0M528.7 414.4l1.3-0.8 0.7-2.2-0.7-2.7-1.9-2.4-1.8-0.5M530.2 413.5l1.3-1.1 0.4-2.1-1-2.7-1.8-1.7-0.9-0.2M531.3 412.6l1.4-0.7 0.5-1.8-0.8-2.6-1.6-1.7-0.8-0.2M532.9 411.8l1.2-0.8 0.3-2.2-1.3-2.6-1.5-0.8M534.5 411.1l1-0.9 0.2-2.1-1.2-2.3-1.5-0.7M535.7 410.4l1.1-0.7 0.2-1.9-1.1-2.1-1.2-0.7M537.1 409.4l0.9-0.8-0.1-2.1-1.2-1.4-0.3 0M538.3 408.6l1-0.8-0.2-2-1.1-0.9M539.9 407.9l0.8-0.8-0.2-1.9-0.9-0.7M541.4 407.3l0.9-0.8-0.3-1.8-0.8-0.6M543 406.8l0.8-1-0.5-1.7-0.6-0.4M544.4 406.2l0.7-0.9-0.4-1.6-0.5-0.3M545.8 405.6l0.7-0.7-0.4-1.6-0.4-0.3M547.3 405.1l0.7-0.8-0.5-1.6-0.2-0.1M548.7 404.5l0.7-0.7-0.4-1.4-0.2-0.1M550.3 404l0.6-0.9-0.5-1.2M551.8 403.4l0.6-0.8-0.5-1.1M553.2 402.8l0.6-0.8-0.4-0.8M554.6 402.3l0.6-0.8-0.3-0.7M556.1 401.7l0.5-0.8-0.2-0.5M557.6 401.2l0.5-0.8-0.2-0.4M559 400.7l0.5-0.9 0-0.2M560.5 400.2l0.5-0.9 0-0.1M562 399.7l0.5-0.9 0-0.1M563.5 399.2l0.6-0.8 0-0.2M565.1 398.7l0.5-0.8 0-0.1M566.6 398.2l0.5-0.8 0-0.1M568 397.8l0.5-0.9M569.5 397.3l0.5-0.9M571 396.9l0.4-0.9M572.4 396.4l0.5-0.8M573.8 395.9l0.5-0.8M575.2 395.5l0.6-0.8M576.7 395l0.5-0.7M578.2 394.5l0.5-0.7M579.7 394l0.6-0.6M581.2 393.6l0.6-0.7M582.7 393.1l0.5-0.6" fill="none" stroke="#ff0000" stroke-width="0.75" stroke-linejoin="round"/><path d="M468.2 432l-0.3-0.6 0 1.1 1.2 1.2 1.1-0.1 0.5-1.4-0.9-2.4-1.6-1.1-1.2 0.4-0.4 1.8 1 2.6 1.9 1.9 1.7 0.4 1.3-0.9 0.5-2-0.9-3.1-2.1-2.3-1.8-0.5-1.3 1-0.3 2 1.2 3.3 2.3 2.3 2 0.5 1.5-0.9 0.6-2.1-0.7-3.1-2-2.9-2.2-1.2-1.3 0.1-0.8 1.6 0.2 3 1.5 3 2.2 1.8 1.6 0.3 1.2-0.6 0.7-1.6-0.4-2.8-1.6-2.5-1.6-1.1-1.5 0-1 1.2-0.2 2 1.2 3.4 2 2 2.1 0.7 2.2-0.4 1.4-1.8 0.2-3.2-1.3-4-2.7-3.8-2.8-1.9-2.8-0.6-1.8 0.5-0.8 0.5M473 443.9l2.9 0.9 2.6-0.3 2.1-1.2 1.5-2.2 0.7-2.9-0.2-5-1.8-5.3-3-4.6-3.7-3.1-2.4-1-2.3-0.2-1.9 0.8-1.4 1.5M473 440.4l3 1.2 2.8-0.2 2-1.6 1.1-2.8 0.1-3.6-1-3.9-2.6-4.7-2.5-2.7-2.8-1.6-2.6-0.3-2.1 1-1 1.3M473.5 439.7l3.4 1.7 2.4 0.2 2.1-0.9 1.6-1.9 0.8-2.7-0.2-4.5-1.6-4.9-2.8-4.4-3.6-3.3-2.8-1.4-2.7-0.2-2.3 1-0.7 0.7M476.2 443.4l3.6 1.1 3.2-0.6 1.8-1.3 1.7-3.2 0.5-4.5-0.9-5.1-2.2-5.1-3.3-4.6-3.9-3.2-2.7-1.1-2.6 0.4-2 1.4-1.3 2.3M475.5 438l2.2 0.7 1.9-0.2 1.5-1 1-2.7-0.5-4.6-1.2-3.2-2.2-2.7-2.6-1.6-2.4 0.2-1.2 1-0.7 1.7M474.6 434.7l4.3 3.7 2.4 1.1 2.6-0.1 2.2-1.7 1.3-3.4-0.1-4.9-1.8-5.7-3.5-5.6-3-3.1-3.4-2.3-3.6-1.3-3.4 0.1-1.6 0.6M478.6 444.1l2.7 0.3 2.3-0.5 1.7-1.3 1.6-2.8 0.5-3.5-0.8-4.7-2.2-4.9-4.6-5.7-2.8-1.7-1.9-0.5-1.7 0.8-1.2 1.7-0.4 1M478.5 440.9l3.2 2.1 3.4 0.8 3-0.5 2.4-2.1 1.6-3.3 0.5-4.5-0.7-5.3-1.9-5.5-3-5.5-3.9-4.7-4.5-3.6-4.7-2.2-2.4-0.4-2.2 0.1-2.2 0.5M483 453.2l2.3 0.5 2.2 0.1 2-0.3 1.9-0.8 1.7-1.1 2.6-3.2 1.5-4.4 0.4-5.1-0.7-5.7-1.7-5.6-2.6-5.4-3.3-4.8-3.7-3.8-3.9-2.7-3.8-1.5-3.6-0.2-3 1.1-1.2 1M482.1 445.1l3.1 0.6 2.8-0.4 2.2-1.5 1.6-2.3 0.8-3 0-5.3-1.6-5.6-2.8-5.1-3.6-3.8-3.8-2.2-2.3-0.4-2.1 0.5-1.6 1.1-1.1 1.9M481.9 442.6l3.3 1.7 3.2 0.6 2.9-0.7 2.4-2 1.6-3.1 0.7-4.1-0.4-4.8-1.3-5.2-2.4-5.2-3.2-4.8-3.8-4.1-4.2-3-4.4-1.6-4.1 0-1.9 0.5M485 449.5l3.4 0.3 3-0.7 2.3-1.7 1.8-2.5 1.3-4.8-0.1-5.6-1.5-5.6-2.4-5.2-3.2-4.2-3.4-3.1-3.4-1.8-3.1-0.5-3 0.7-1.9 1.4-0.8 1M483.7 442.9l3 1.3 2.9 0.4 2.6-0.7 2.1-1.6 1.5-2.5 0.8-3.3-0.2-5.9-2-6.3-3.4-5.8-4.5-4.6-3.2-2.1-3.2-1.1-2.9 0.3-2.5 1.4-1 1M485.5 444.2l3.1 0.9 2.9-0.1 2.4-1.2 1.9-2.1 1.2-2.8 0.4-5.4-1.2-6.1-2.7-5.9-3.8-5.1-4.4-3.4-3.9-1.5-3.4 0.1-2.8 1.7M486.6 444.9l4 1.2 3.6-0.5 3-2.1 2-3.6 0.8-4.7-0.7-5.8-2.2-6.2-3.3-5.7-4.3-4.6-4.6-3.1-3-0.9-2.9-0.1-2.5 0.9-1.1 0.7M488.1 445.4l3 0.6 2.8-0.2 2.4-1.2 1.8-2.5 1-3.3 0.1-5.7-1.5-6.1-2.9-5.7-3.8-4.5-4.1-2.8-2.7-0.8-2.4 0-2 1-1.4 1.7M486.1 436.8l3.3 0.9 2.5-0.7 1.6-1.6 1-3.3-0.4-4.1-1.7-4.2-2.5-3.4-3-2.3-2.2-0.5-1.9 0.4-1.4 1.3-0.6 1.3M486.1 434.5l2.7 1.7 2.7 0.4 2.3-0.9 1.5-2.3 0.5-3.4-0.6-4.1-1.8-4.2-2.7-3.7-3.3-2.6-3.4-1-2 0.3-1.7 1.1M489 439.1l2.7 0.6 2.4-0.5 2-1.4 1.3-2.3 0.5-2.9-0.5-5.2-2.1-5.3-3.3-4.5-3.9-2.8-2.6-0.7-2.2 0.4-1.8 1.2-0.7 1M488.6 436.3l2.5 0.7 2.1-0.5 1.5-1.4 0.9-2 0.2-3.9-1.3-4.1-2.2-3.4-2.5-2-2.4-0.5-1.7 1-0.6 2.1 0.7 3.9 1.6 2.8 2.2 1.6 1.6 0.1 1.2-0.7 0.6-2.1-0.6-3-1.5-4.2-2-2.4-2.5-1.5-1.9-0.1-1.6 0.6M491.9 441.7l3.6 1.3 1.8 0.1 2.8-1.5 2-2.6 1.2-3.7 0.1-4.6-0.9-4.9-1.8-4.9-2.9-4.1-3.2-3.1-3.1-2-3-0.8-2.5 0.2-2 1.2-1.4 1.8M489.1 430.8l4 0.7 1.5-0.8 0.8-2.1-0.5-3.6-1.9-3.4-2.5-2-1.7-0.1-1.3 1-0.4 1.9 0.7 3.1 1.9 2.6 2.3 1.2 1.4-0.3 0.8-1.4 0-2.6-1.3-2.7-2.2-1.7-1.4 0-1 1.2 0.1 2.7 1.5 3 1.8 1.5 1.9 0.4 1.4-0.9 0.7-2-0.4-2.7-1.8-3.6-2.1-1.9-2.2-0.8-2 0.7-0.4 0.6M491.3 431.2l3 1.4 2-0.1 1.8-1.1 1-2.2 0.3-3-1-4.7-2.7-4.6-2.7-2.8-3-1.6-2.9-0.3-1.9 1M494.3 437.4l2.7 0.6 2.4-0.2 2.1-1.2 1.5-2 1-2.7 0.1-5.1-1.4-5.8-3-5.6-4.1-4.5-3-1.9-3-1.1-2.8 0-2.2 1.1M495 436.2l2.4 0 1.9-0.8 1.5-1.6 1.1-3.5-0.3-4.2-1.4-4.3-2.4-3.7-2.7-2.5-2.8-1-2.2 0.4-1.7 1.3M494.2 430.7l2.4 0.4 2-0.9 1.1-2.1 0.2-2.9-1.3-4.3-2.6-3.6-2.3-1.6-2.2-0.3-1.7 0.8-0.4 0.5M495.2 431.7l2.6 0.7 2.4-0.5 1.7-1.9 0.8-3.2-0.3-3.9-1.4-4.2-2.5-4-3.2-3-3.4-1.7-2.2-0.1-1.9 1.3M496 431.9l2.9-0.1 1.9-1.7 0.9-3-0.4-3.6-1.4-3.6-2.3-2.9-2.5-1.7-2.4-0.3-1.8 1.3M495.6 429l2.2 0.7 1.9-0.4 1.4-1.6 0.6-2.4-0.7-4.1-2.1-4-2.3-2.2-2.4-1.1-2.2 0.3-0.6 0.4M496.4 428.7l2.1 0.4 1.8-0.7 1-1.7 0.2-3.3-1.1-3.6-2.2-2.9-2.5-1.6-1.7 0-1.3 0.9M497.2 427.4l2.4 0.3 1.7-1.4 0.5-2.8-0.7-3.3-1.8-3.1-2.5-2.2-2.5-0.5-1.4 0.6M498.8 429.8l1.9 0.2 2.1-1.3 1.1-2.6-0.1-3.6-1.2-3.7-2.2-3.2-2.6-2.2-2.7-0.8-2.1 0.7M499.4 429.1l2.4-0.2 1.2-0.9 0.8-2.7-0.4-3.2-1.9-3.9-2.6-2.4-1.8-0.4-1.3 0.7-0.4 0.8M497.5 422.5l1.5 1 1.3-0.5 0.5-1.6-0.9-2.4-1.5-1.2-1.4 0.3-0.4 0.4M499.2 425l2.1 0.8 1.5-0.3 1.1-1.3 0-3.2-1.4-3.5-2.3-2.7-1.9-1-1.8 0.1-0.5 0.2M500.5 426.2l1.9 0.2 1.5-1 0.8-1.9-0.2-3.3-1.3-3.3-2.3-2.7-2.5-1.2-1.6 0.2M501.8 426.7l2-0.1 1.5-1.2 0.7-2.1-0.2-2.9-1.8-4-2.1-2.2-2.1-1-1.8 0.2-0.5 0.4M501.6 424.4l1.7-0.1 1.1-1.1 0.3-2.7-1.1-3-1.8-2.1-1.7-0.4-1.2 0.8M501.5 422.2l1.6 0.1 0.9-1.2-0.2-2.2-1.4-2-1.4-0.5-0.7 0.5M502.4 421.9l1.8 0.4 1.2-0.9 0.3-2.5-1.1-2.6-2.3-1.9-1.6 0.1-0.3 0.2M504.2 423.5l1.9-0.1 1.2-1.4 0.3-2.6-1.2-3.6-1.9-2.2-2.3-0.8-1.4 0.6M504.3 422.1l1.5-0.2 0.8-1.5-0.4-2.9-1.4-2.1-1.5-0.4-0.6 0.4M505.1 420.8l2.1 0.1 0.8-1.2-0.1-2.6-1.6-2.9-2.1-1.5-1.2 0M507 423.9l1.8-0.5 1-1.5 0.1-3.1-1.2-3.1-2.1-2.2-1.6-0.5-1.1 0.5M506.9 420.7l1.2-0.2 0.8-1.5-0.5-2.4-1.7-1.9-1.1-0.1-0.4 0.3M507 419.4l1.5 0.1 0.7-1.1-0.5-2.4-1.6-1.6-1.3 0.2M507.9 419.8l1.5 0.1 0.9-1.4-0.4-2.7-1.8-2.4-1.6-0.6-0.6 0.3M508.9 420.1l1.5-0.4 0.7-1.5-0.5-2.8-1.6-2.1-1.5-0.6-0.5 0.2M509.8 420.3l1.7-0.2 1-1.5-0.1-2.3-1.5-2.7-1.9-1.1-1 0.3M510.3 418.3l1.1-0.5 0.1-1.8-1.1-1.7-0.9 0.2 0 0.1M510.5 416.8l1-0.1 0.1-1.5-1-1.2-0.5 0M512 418.2l1.3 0 0.8-1.3-0.3-2.4-1.7-2-1.4-0.3-0.3 0.2M513 418.1l0.9-0.2 0.6-1.4-0.7-2.5-1.3-1.1-0.8 0.1M513.4 416.8l1-0.3 0.2-1.6-1.1-1.8-0.9-0.1M514.1 416.2l1-0.3 0.2-1.6-1-1.7-0.9-0.2M515.2 416.3l1-0.5 0.1-1.8-1.3-1.8-0.8-0.1M516 416l0.9-0.6-0.1-1.9-1.2-1.5-0.6 0M516.6 415.3l0.8-0.5-0.2-1.8-1.1-1-0.3 0.1M517.2 414.8l0.7-0.8-0.6-1.6-0.5-0.2M518 414l0.5-0.7-0.6-1.1-0.2 0M518.7 413.6l0.5-0.6-0.6-1.4-0.2-0.1M519.7 413.8l0.5-1-0.7-1.2-0.1 0.1M520.3 413l0.5-0.7-0.6-1.2-0.1 0M521.2 413l0.4-1-0.4-0.6M522 412.5l0.6-0.6-0.6-1.3-0.3-0.1M522.9 412.6l0.4-0.9-0.7-0.8M523.4 411.7l0.5-0.6-0.4-0.7M524.3 411.7l0.3-0.9-0.3-0.3M525 411.1l0.2-0.8M525.8 410.8l0.3-0.7M526.7 410.4l0.3-0.5M527.5 410.2l0.2-0.5M528.2 409.8l0.5-0.2" fill="none" stroke="#ff0000" stroke-width="0.75" stroke-linejoin="round"/>
<g><line x1="375.80" y1="477.50" x2="372.71" y2="475.85" stroke="#262626" stroke-width="0.75"/><line x1="375.80" y1="404.90" x2="372.71" y2="403.25" stroke="#262626" stroke-width="0.75"/><line x1="375.80" y1="332.30" x2="372.71" y2="330.65" stroke="#262626" stroke-width="0.75"/><line x1="375.80" y1="477.50" x2="372.46" y2="478.54" stroke="#262626" stroke-width="0.75"/><line x1="406.73" y1="493.98" x2="403.38" y2="495.01" stroke="#262626" stroke-width="0.75"/><line x1="437.65" y1="510.45" x2="434.31" y2="511.49" stroke="#262626" stroke-width="0.75"/><line x1="468.57" y1="526.92" x2="465.23" y2="527.96" stroke="#262626" stroke-width="0.75"/><line x1="499.50" y1="543.40" x2="496.16" y2="544.44" stroke="#262626" stroke-width="0.75"/><line x1="499.50" y1="543.40" x2="502.59" y2="545.05" stroke="#262626" stroke-width="0.75"/><line x1="539.95" y1="530.85" x2="543.04" y2="532.50" stroke="#262626" stroke-width="0.75"/><line x1="580.40" y1="518.30" x2="583.49" y2="519.95" stroke="#262626" stroke-width="0.75"/><line x1="620.85" y1="505.75" x2="623.94" y2="507.40" stroke="#262626" stroke-width="0.75"/><line x1="661.30" y1="493.20" x2="664.39" y2="494.85" stroke="#262626" stroke-width="0.75"/></g>
<g fill="#262626" stroke="#262626" stroke-width="0.22"><text transform="translate(369.20,477.54) scale(1,1.16)" font-size="7.9" text-anchor="end">-0.05</text><text transform="translate(369.20,404.94) scale(1,1.16)" font-size="7.9" text-anchor="end">0</text><text transform="translate(369.20,332.34) scale(1,1.16)" font-size="7.9" text-anchor="end">0.05</text><text transform="translate(369.20,488.24) scale(1,1.16)" font-size="7.9" text-anchor="end">4</text><text transform="translate(400.12,504.72) scale(1,1.16)" font-size="7.9" text-anchor="end">2</text><text transform="translate(431.05,521.19) scale(1,1.16)" font-size="7.9" text-anchor="end">0</text><text transform="translate(461.97,537.67) scale(1,1.16)" font-size="7.9" text-anchor="end">-2</text><text transform="translate(492.90,554.14) scale(1,1.16)" font-size="7.9" text-anchor="end">-4</text><text transform="translate(506.10,555.04) scale(1,1.16)" font-size="7.9" text-anchor="start">0</text><text transform="translate(546.55,542.49) scale(1,1.16)" font-size="7.9" text-anchor="start">20</text><text transform="translate(587.00,529.94) scale(1,1.16)" font-size="7.9" text-anchor="start">40</text><text transform="translate(627.45,517.39) scale(1,1.16)" font-size="7.9" text-anchor="start">60</text><text transform="translate(667.90,504.84) scale(1,1.16)" font-size="7.9" text-anchor="start">80</text></g>
<g fill="#262626" stroke="#262626" stroke-width="0.25"><text x="0" y="0" font-size="9.80" text-anchor="middle" transform="translate(357.00,404.00) rotate(-90) scale(1,1.16)">Velocity (m/s)</text><text transform="translate(410.00,547.00) scale(1,1.16)" font-size="9.8" text-anchor="middle">Displacement (m)</text><text transform="translate(603.30,548.50) scale(1,1.16)" font-size="9.8" text-anchor="middle">Time (s)</text><text transform="translate(365.10,520.20) scale(1,1.0)" font-size="7.6" text-anchor="start" fill="#555">×</text><text transform="translate(371.00,520.00) scale(1,1.16)" font-size="7.5" text-anchor="start">10</text><text transform="translate(379.60,515.90) scale(1,1.16)" font-size="6.5" text-anchor="start">-3</text></g>
<g fill="#000"><rect x="575.90" y="351.30" width="75.60" height="25.20" fill="#fff" stroke="#262626" stroke-width="0.6"/><line x1="578.50" y1="358.61" x2="596.50" y2="358.61" stroke="#0000ff" stroke-width="0.6"/><line x1="578.50" y1="370.45" x2="596.50" y2="370.45" stroke="#ff0000" stroke-width="0.6"/><text transform="translate(598.30,361.91) scale(1,1.0)" font-size="9.0" text-anchor="start">CryStAl</text><text transform="translate(598.30,374.05) scale(1,1.0)" font-size="9.0" text-anchor="start">Uncontrolled</text></g>
<text x="343.5" y="289.7" font-size="14" fill="#000">(<tspan font-weight="bold">d</tspan>) Kobe</text>
<g><line x1="36.10" y1="754.40" x2="36.10" y2="614.40" stroke="#dcdcdc" stroke-width="0.6"/><line x1="36.10" y1="754.40" x2="161.80" y2="817.90" stroke="#dcdcdc" stroke-width="0.6"/><line x1="77.20" y1="742.25" x2="77.20" y2="602.25" stroke="#dcdcdc" stroke-width="0.6"/><line x1="77.20" y1="742.25" x2="202.90" y2="805.75" stroke="#dcdcdc" stroke-width="0.6"/><line x1="118.30" y1="730.10" x2="118.30" y2="590.10" stroke="#dcdcdc" stroke-width="0.6"/><line x1="118.30" y1="730.10" x2="244.00" y2="793.60" stroke="#dcdcdc" stroke-width="0.6"/><line x1="159.40" y1="717.95" x2="159.40" y2="577.95" stroke="#dcdcdc" stroke-width="0.6"/><line x1="159.40" y1="717.95" x2="285.10" y2="781.45" stroke="#dcdcdc" stroke-width="0.6"/><line x1="200.50" y1="705.80" x2="200.50" y2="565.80" stroke="#dcdcdc" stroke-width="0.6"/><line x1="200.50" y1="705.80" x2="326.20" y2="769.30" stroke="#dcdcdc" stroke-width="0.6"/><line x1="36.10" y1="754.40" x2="200.50" y2="705.80" stroke="#dcdcdc" stroke-width="0.6"/><line x1="200.50" y1="705.80" x2="326.20" y2="769.30" stroke="#dcdcdc" stroke-width="0.6"/><line x1="36.10" y1="731.07" x2="200.50" y2="682.47" stroke="#dcdcdc" stroke-width="0.6"/><line x1="200.50" y1="682.47" x2="326.20" y2="745.97" stroke="#dcdcdc" stroke-width="0.6"/><line x1="36.10" y1="707.73" x2="200.50" y2="659.13" stroke="#dcdcdc" stroke-width="0.6"/><line x1="200.50" y1="659.13" x2="326.20" y2="722.63" stroke="#dcdcdc" stroke-width="0.6"/><line x1="36.10" y1="684.40" x2="200.50" y2="635.80" stroke="#dcdcdc" stroke-width="0.6"/><line x1="200.50" y1="635.80" x2="326.20" y2="699.30" stroke="#dcdcdc" stroke-width="0.6"/><line x1="36.10" y1="661.07" x2="200.50" y2="612.47" stroke="#dcdcdc" stroke-width="0.6"/><line x1="200.50" y1="612.47" x2="326.20" y2="675.97" stroke="#dcdcdc" stroke-width="0.6"/><line x1="36.10" y1="637.73" x2="200.50" y2="589.13" stroke="#dcdcdc" stroke-width="0.6"/><line x1="200.50" y1="589.13" x2="326.20" y2="652.63" stroke="#dcdcdc" stroke-width="0.6"/><line x1="36.10" y1="614.40" x2="200.50" y2="565.80" stroke="#dcdcdc" stroke-width="0.6"/><line x1="200.50" y1="565.80" x2="326.20" y2="629.30" stroke="#dcdcdc" stroke-width="0.6"/><line x1="200.50" y1="705.80" x2="200.50" y2="565.80" stroke="#dcdcdc" stroke-width="0.6"/><line x1="36.10" y1="754.40" x2="200.50" y2="705.80" stroke="#dcdcdc" stroke-width="0.6"/><line x1="231.93" y1="721.67" x2="231.93" y2="581.67" stroke="#dcdcdc" stroke-width="0.6"/><line x1="67.53" y1="770.27" x2="231.93" y2="721.67" stroke="#dcdcdc" stroke-width="0.6"/><line x1="263.35" y1="737.55" x2="263.35" y2="597.55" stroke="#dcdcdc" stroke-width="0.6"/><line x1="98.95" y1="786.15" x2="263.35" y2="737.55" stroke="#dcdcdc" stroke-width="0.6"/><line x1="294.77" y1="753.42" x2="294.77" y2="613.42" stroke="#dcdcdc" stroke-width="0.6"/><line x1="130.38" y1="802.02" x2="294.77" y2="753.42" stroke="#dcdcdc" stroke-width="0.6"/><line x1="326.20" y1="769.30" x2="326.20" y2="629.30" stroke="#dcdcdc" stroke-width="0.6"/><line x1="161.80" y1="817.90" x2="326.20" y2="769.30" stroke="#dcdcdc" stroke-width="0.6"/></g>
<g><line x1="36.10" y1="614.40" x2="200.50" y2="565.80" stroke="#262626" stroke-width="0.75"/><line x1="200.50" y1="565.80" x2="326.20" y2="629.30" stroke="#262626" stroke-width="0.75"/><line x1="326.20" y1="629.30" x2="326.20" y2="769.30" stroke="#262626" stroke-width="0.75"/><line x1="36.10" y1="754.40" x2="200.50" y2="705.80" stroke="#262626" stroke-width="0.75"/><line x1="200.50" y1="705.80" x2="326.20" y2="769.30" stroke="#262626" stroke-width="0.75"/><line x1="36.10" y1="754.40" x2="161.80" y2="817.90" stroke="#262626" stroke-width="0.75"/><line x1="161.80" y1="817.90" x2="326.20" y2="769.30" stroke="#262626" stroke-width="0.75"/><line x1="200.50" y1="565.80" x2="200.50" y2="705.80" stroke="#262626" stroke-width="0.75"/><line x1="36.10" y1="614.40" x2="36.10" y2="754.40" stroke="#262626" stroke-width="0.75"/></g>
<path d="M98.8 715.3l1.8 1M100.7 711.1l-0.3 0.9 1.2 2.1 1.9 1.1M103 708.2l-1.3 0.7-0.3 1.8 1.1 3.7 2.3 3.2 3.3 2.6M98.5 683.8l-2.4-0.2-2.4 0.2-2.2 0.8-2 1.2-1.7 1.8-1.4 2.2-1.1 2.7-0.7 3.1-0.3 3.5 0.1 3.8 0.6 4.1 1.1 4.3 1.6 4.4 2 4.4 2.4 4.4 2.8 4.3 3.3 4 3.5 3.7 3.9 3.3 4 2.6 4.2 2.1 4.1 1.4 4.2 0.8M91.4 648.8l-5.1 0.1-4.8 1.1-4.4 2-4 3-3.3 4-2.7 4.8-2.1 5.5-0.8 6.6 0.1 7.3 0.9 7.6 1.7 7.7 2.5 7.8 3.1 7.7 3.8 7.5 4.4 7.1 4.8 6.7 5.3 6.1 5.6 5.5 5.8 4.7 5.9 3.9 6 3 5.9 2 5.7 1.1 5.5 0.2M95.7 656.3l-4.2 1.3-3.7 2.2-3.2 2.9-2.6 3.7-2 4.3-1.4 4.9-0.7 5.3-0.1 5.7 0.5 6 1.2 6.1 1.9 6.2 2.3 6.1 3 5.9 3.4 5.7 3.7 5.3 4.2 4.8 4.3 4.2 4.6 3.6 4.6 2.9 4.6 2.2 4.5 1.4 4.4 0.6 4.1-0.1M101.5 669l-3.1 0.9-2.9 1.6-2.5 2.1-2.1 2.7-1.7 3.2-1.2 3.7-0.7 4-0.2 4.5 0.3 4.6 0.7 4.9 1.3 4.9 1.7 5 2.2 4.9 2.6 4.8 3 4.6 3.3 4.2 3.5 3.9 3.8 3.4 3.9 2.9 4 2.4 4.1 1.7 3.9 1.1 3.9 0.4M103.3 669.6l-3.4 1.2-3 2-2.5 2.7-2 3.3-1.4 3.9-0.9 4.3-0.3 4.8 0.3 5 0.9 5.2 1.4 5.4 2 5.3 2.4 5.2 3 5 3.2 4.6 3.7 4.3 3.9 3.8 4 3.2 4.2 2.6 4.1 1.9 4.1 1.3 4 0.4M108.7 671.9l-3.4 0.8-3 1.4-2.6 2-2.2 2.7-1.7 3.2-1.2 3.7-0.6 4-0.2 4.4 0.4 4.7 0.9 4.7 1.3 4.9 1.8 4.8 2.3 4.8 2.7 4.5 2.9 4.3 3.3 3.9 3.5 3.5 3.6 3 3.8 2.5 3.8 1.9 3.7 1.3 3.6 0.7 3.5 0M111.5 675.5l-2.9 0.8-2.5 1.4-2.1 1.9-1.9 2.4-1.4 2.9-1 3.3-0.5 3.6-0.1 3.9 0.4 4.1 0.8 4.2 2.8 8.6 2.1 4.3 2.4 4.2 2.8 3.9 3 3.5 3.2 3.2 3.4 2.8 3.4 2.2 3.5 1.7 3.5 1.2 3.3 0.6 3.2-0.1M116.6 677.2l-2.7 0.5-2.5 1-2.2 1.6-1.9 2.1-1.4 2.5-1.1 3-0.7 3.3-0.2 3.6 0.2 3.8 1.7 8.1 3.3 8 4.7 7.5 5.6 6.4 3.1 2.6 3.2 2.2 3.2 1.7 3.2 1.1 3 0.6 2.9 0.1M120.3 680.2l-2.3 0.6-2.1 1-3.3 3.3-1.2 2.1-1 2.5-0.8 5.9 0.7 6.6 2.1 7 3.3 6.7 4.4 6.2 5.1 5.1 5.6 3.6 2.8 1.2 2.7 0.8 2.7 0.3 2.5-0.2M123.5 675.9l-2.7-0.1-2.6 0.4-2.4 0.8-2.2 1.4-2 1.8-1.6 2.3-1.3 2.7-0.9 3.2-0.5 3.4-0.1 3.8 0.3 4.1 1.9 8.5 3.6 8.8 5.1 8.3 3 3.9 3.3 3.6 3.5 3.2 3.7 2.7 3.8 2.3 3.8 1.7 3.8 1.2 3.7 0.5M121.2 666l-3.5 1-3.1 1.6-2.7 2.4-2.2 3-1.7 3.6-1.2 4.1-0.5 4.4-0.1 4.9 0.6 5 1.1 5.2 1.7 5.3 2.1 5.1 2.6 5.1 3 4.7 3.4 4.5 3.7 4 3.8 3.5 4 3 4.1 2.3 4.1 1.7 4 1 3.8 0.3M125.1 667.6l-3 0.4-2.8 1-2.6 1.4-2.2 2-1.9 2.5-1.6 3-1.2 3.4-0.7 3.7-0.3 4.1 0.2 4.4 0.5 4.5 1.1 4.7 3.4 9.6 5 9.3 3 4.3 3.3 4.1 3.6 3.7 3.7 3.3 3.9 2.9 4 2.3 4.1 1.8 4 1.2 3.9 0.6M125.8 662.3l-3.4 0.8-3.2 1.5-2.7 2.2-2.4 2.8-1.9 3.3-1.4 3.9-0.9 4.2-0.3 4.7 0.2 4.9 0.7 5.2 1.3 5.3 1.7 5.3 2.2 5.3 2.7 5.1 3.1 4.9 3.4 4.6 3.7 4.2 4 3.8 4.1 3.2 4.2 2.7 4.3 2 4.2 1.4 4 0.7 4 0M131.6 664.5l-3.3 0.6-3 1.3-2.6 1.8-2.3 2.5-1.8 2.9-1.5 3.4-0.9 3.8-0.5 4.2 0 4.5 0.6 4.6 1 4.9 1.5 4.8 2 4.8 2.3 4.7 2.8 4.5 3 4.2 3.3 3.9 3.6 3.5 3.7 2.9 3.8 2.5 3.8 1.9 3.8 1.3 3.7 0.7 3.5 0M135.5 666.8l-3.1 0.5-2.7 1.1-2.5 1.6-2.1 2.2-1.8 2.7-1.3 3.1-0.9 3.5-0.4 3.9 0 4.1 0.5 4.3 1 4.5 1.4 4.5 1.9 4.5 2.2 4.4 2.6 4.2 2.9 3.9 3.2 3.6 3.3 3.1 3.5 2.7 3.5 2.2 3.5 1.6 3.5 1.1 3.4 0.5 3.2 0M138.3 670.4l-2.5 0.7-2.4 1.3-1.9 1.8-1.7 2.2-1.3 2.7-0.9 3-0.5 3.4 0 3.5 1.1 7.7 2.6 7.8 4 7.5 5.1 6.6 5.8 5.4 6.1 4.1 3.1 1.4 3.2 0.8 3 0.4M140.6 666.2l-3.1 0.5-2.8 1-2.5 1.7-2.2 2.3-1.7 2.8-1.4 3.3-0.8 3.8-0.4 4.1 0.2 4.4 0.6 4.6 1.2 4.8 1.6 4.9 2.1 4.8 2.6 4.7 2.9 4.4 3.3 4.2 3.5 3.8 3.8 3.3 3.9 2.8 4 2.3 4 1.6 4 0.9 3.8 0.2M143.1 665.3l-3 0.9-2.7 1.5-2.3 2.1-1.8 2.7-1.5 3.2-0.9 3.6-0.4 3.9 0.1 4.2 0.6 4.4 1 4.5 1.5 4.5 2 4.5 2.3 4.2 2.7 4.1 3 3.6 3.2 3.3 3.4 2.9 3.4 2.3 3.5 1.8 3.4 1.1 3.3 0.6 3.2 0M149.5 668.9l-2.9 0-2.7 0.6-2.4 1.2-2.2 1.7-1.8 2.3-1.4 2.7-0.9 3.2-0.6 3.5 0 3.9 0.3 4 0.9 4.3 1.3 4.3 1.7 4.3 2.2 4.2 2.5 4.1 2.8 3.8 3.1 3.5 3.3 3.1 3.5 2.7 3.5 2.1 3.6 1.6 3.6 1 3.4 0.3M149 661.9l-3.3 0.7-2.9 1.4-2.5 2-2.2 2.5-1.6 3.2-1.2 3.6-0.6 4-0.1 4.3 0.4 4.5 0.9 4.6 1.4 4.7 1.8 4.7 2.3 4.5 2.6 4.3 3 4 3.2 3.6 3.4 3.2 3.5 2.7 3.6 2.1 3.6 1.5 3.5 1 3.3 0.3 3.2-0.3M155.4 669l-2.6 0.4-2.3 0.9-2.1 1.3-1.7 1.9-1.4 2.2-1 2.7-0.9 6.1 0.4 6.4 1.7 6.8 3 6.7 4.1 6.3 4.9 5.3 5.3 4.1 5.5 2.5 2.7 0.7 2.6 0.2M157.6 668.7l-2.3 0.2-2.2 0.7-1.9 1.1-1.7 1.6-1.4 1.8-1.2 2.3-1.3 5.3 0 6.3 1.4 6.8 2.7 6.9 4.2 6.6 4.9 5.6 5.4 4.3 5.6 2.7 2.6 0.7 2.6 0.2 2.4-0.2M162.9 673.2l-3.5 0.9-2.8 2.3-1.8 3.3-0.8 4.2 0.2 4.8 1.2 5 2.1 5 2.9 4.6 5.1 5.6 3.8 3.1 3.9 2.2 4.1 1.2M164.5 668.3l-2.3 0-2.2 0.5-2.1 0.8-1.8 1.3-1.6 1.7-1.3 2.1-1 2.5-0.9 5.8 0.5 6.8 0.8 3.6 3 7.3 4.1 6.7 5.1 5.9 5.6 4.5 5.8 2.9 2.9 0.8 2.8 0.4 2.6-0.2M166.3 667.6l-2.3 0.7-2 1.1-1.7 1.5-1.4 2-1 2.3-0.8 2.6-0.3 5.9 1.1 6.5 2.5 6.6 3.6 6.1 4.5 5.2 4.9 3.9 5 2.4 2.5 0.5 2.3 0.1 2.1-0.3M171.5 673.2l-3.3 1-2.5 2.3-1.6 3.6-0.5 4.3 0.7 5 1.6 5 2.6 4.9 3.3 4.3 3.7 3.5 4 2.3 3.9 1.2 1.8 0.1M174.8 674.3l-2.7 0.7-2.1 1.7-1.5 2.6-0.8 3.3 0.4 5.9 2.1 6.3 3.6 5.9 4.6 4.8 5.2 3.1 3.3 0.9 1.7 0M178 673.3l-2.6 0.9-1.9 2-1.3 2.8-0.5 3.4 0.8 5.8 2.4 5.9 3.7 5.3 4.5 3.8 3.1 1.5 3 0.6 1.4 0M183 677.5l-2.1 0.4-1.7 1.2-1.2 2.1-0.5 4.2 1.1 5.1 2.6 5 3.8 4.3 4.3 2.7 3 0.7 1.3 0M184.2 674.9l-2.4 0.9-1.7 2-1.1 2.9 0.1 3.7 1.7 5.9 3.3 5.5 4.3 4 3 1.7 2.9 0.6 1.4 0M189 677.3l-1.7 0.6-1.4 1.3-0.9 3 0.3 3.8 1.5 4 3.4 4.4 2.8 2.3 3 1.2 1.9 0.1M191.7 676.9l-2.2 0.8-1.4 2.1-0.5 3.1 0.6 3.7 1.6 3.8 2.5 3.5 3.1 2.7 3.4 1.3 2.1 0M195.3 677.5l-1.8 1-1 2.2 0 3 1.5 4.4 2.9 3.7 2.7 1.8 2.6 0.6 0.8 0M199 678.7l-1.4 0.8-0.9 2.3 0.5 3.3 1.8 3.4 2.7 2.5 2.9 1.1 0.7 0M202.6 678.4l-1.5 0.3-1 1.3-0.2 2.8 1.2 3.4 2.3 3.1 3 1.8 2.2 0.3M205 677.4l-1.5 0.9-0.7 1.8 0.4 3.3 1.9 3.4 2.8 2.4 2.2 0.6 0.7 0M208.1 677.5l-1.5 0.7-0.6 1.9 0.7 3.3 2.2 3.4 2.5 1.7 2.5 0.4M210.5 675.6l-1.5 0.7-0.7 1.7 0.2 3.3 1.7 3.5 2.8 2.6 2.2 1.1 1.4 0.1M213.5 675.4l-1.2 0.7-0.7 2.3 0.6 3 1.7 3 2.6 2.1 2.7 0.8M216.7 674.6l-1.4 0.5-0.8 1.3 0 2.7 1.3 3.1 2.2 2.7 2.7 1.4 1.3 0.1M219.8 674.1l-1.5 0.7-0.6 1.9 0.8 3.4 2.2 3.1 2.4 1.5 1.7 0.3M223 673.8l-1.4 0.6-0.5 1.8 0.8 3 2.1 2.8 2.3 1.3 1.6 0.2M225.7 673.2l-1 0.5-0.6 1.8 0.8 3.2 2.4 2.9 2.4 1.1 0.6 0.1M228.5 672.2l-1.1 0.4-0.8 1.7 0.6 3.2 2.3 3.1 2.3 1.4 1.8 0.2M231.1 671.2l-1.3 0.8-0.3 2 0.9 3 2.2 2.7 2.7 1.2 1 0M234.7 671.3l-1 0.5-0.4 1.7 1.1 2.9 2.3 2.3 2.2 0.5M237.7 671l-0.9 0.8 0.2 2.1 1.5 2.4 2.3 1.4 1.1 0.1M241.1 670.4l-0.8 0.6 0 1.9 1.7 2.6 2.2 1.2 0.7 0.1M244.2 669.3l-1 0.7-0.1 1.8 1.3 2.3 2 1.6 1.3 0.2M246.9 668.9l-0.8 0.5-0.1 1.8 1.3 2.2 2 1.4 1.1 0.2M249.5 667.7l-1 0.7 0.1 2.3 1.7 2.6 2.2 1.3 1.2 0.1M252.3 667.1l-0.7 1 0.6 2.3 1.9 2 1.8 0.4M255.6 667.1l-0.5 0.7 0.7 2 1.9 1.5 1.1 0.1M258.7 666.4l-0.5 0.7 0.8 2 1.9 1.4 0.9 0" fill="none" stroke="#ff0000" stroke-width="0.75" stroke-linejoin="round"/><path d="M98.9 715.6l0.2-0.2 1.9 1.5 1.6 0 1.1-1.4-0.3-2.1-1.1-1-0.7 0.5 0.5 2 2.1 2.1 2.1 0.5 1.9-0.9 0.8-1.9-0.4-2.9-2-3.2-2.2-1.4-1.7 0-1.3 1-0.6 2.2 0.3 3.1 1.4 3.6 2.5 3.6 3.4 2.9 3.8 1.7 2.5 0.3 2.4-0.6 2-1.5 1.5-2.3 0.8-3 0-3.7-1.6-5.9-3.1-5.6-4.3-4.6-3.1-2.1-3.2-1.1-3.1-0.1-2.6 1-2 2.1-1.3 3.1-0.4 3.8 0.5 4.4 2.5 7 4.2 6.6 3.6 3.8 3.9 3 4.2 2 4 0.8 3.8-0.4 3.2-1.6 1.4-1.3 1.2-1.8 1.6-4.6 0.3-5.6-1-6.1-2.4-6.3-3.5-5.9-4.3-5-4.9-3.8-5.1-2.2-2.4-0.4-2.3 0-2.2 0.5-2 0.9-1.7 1.4-1.4 1.9-1.1 2.2-0.8 2.6-0.4 6 1.2 6.9 2.7 7.1 4.1 6.9 5.1 6 5.9 4.8 3.1 1.8 3.1 1.3 3.1 0.7 3 0.3 2.9-0.3 2.6-0.8 2.4-1.3 2-1.7 1.6-2 1.3-2.4 1-2.7 0.6-3.1 0-6.9-1.4-7.5-2.8-7.5-4-7.1-5-6.3-5.6-5-5.9-3.6-3-1.1-2.9-0.7-2.7-0.2-2.7 0.3-2.4 0.7-2.3 1.2-1.9 1.7-1.7 2.1-1.3 2.5-0.9 2.9-0.6 3.1-0.1 7.1 1.5 7.8 3 8 4.4 7.7 5.4 6.9 6.3 5.7 3.3 2.3 3.3 1.9 3.5 1.3 3.4 0.8 3.3 0.3 3-0.3 2.9-0.8 2.6-1.4 2.3-1.8 2-2.3 1.5-2.8 1.2-3.1 0.8-3.5 0.3-3.8 0-3.9-1.5-8.4-3-8.5-4.5-8-5.5-7-6.2-5.6-3.2-2.2-3.3-1.6-3.2-1.2-3.2-0.6-3-0.1-2.8 0.5-2.6 0.9-2.3 1.5-1.9 2-1.6 2.4-1.3 2.9-0.8 3.2-0.4 3.6 0.1 3.8 1.4 8 3 8.3 4.4 7.8 2.7 3.7 6.2 6.5 3.4 2.6 3.4 2.1 3.4 1.6 3.3 1.1 3.3 0.6 3.1 0 2.9-0.6 2.6-1.1 2.4-1.6 1.9-2 1.7-2.6 1.2-2.9 0.8-3.2 0.3-3.6 0-3.7-1.4-7.9-2.9-7.8-4.2-7.3-5.1-6.3-5.8-4.8-2.9-1.7-3-1.2-2.8-0.8-2.8-0.2-2.5 0.2-2.4 0.8-2 1.2-1.8 1.7-1.4 2.2-1.1 2.5-0.7 2.8-0.3 3.1 0.6 6.8 2 7.2 3.2 6.2 3.9 5.3 4.4 4.5 4.7 3.5 4.7 2.2 4.6 1 4.1-0.3 3.5-1.5 2.8-2.7 1.9-3.5 1-4.4 0.1-4.8-0.9-5.2-2.8-7.6-4.3-6.9-3.5-3.7-3.8-2.9-3.8-1.9-3.7-0.8-3.3 0.4-2.9 1.5-1.2 1.4-1.7 3.9-0.4 4.8 0.7 5.4 1.9 5.5 3 5.3 3.6 4.6 4.2 3.6 4.4 2.4 4.3 1.1 3.8-0.4 3.1-1.7 2.2-3 1.3-3.9 0.1-4.6-0.9-4.8-1.9-4.8-2.6-4.4-3.2-3.6-3.4-2.6-3.5-1.5-3.1-0.2-2.7 1-1.9 2.2-1.1 3-0.1 3.8 0.8 4.2 1.8 4.2 2.5 3.9 3 3.3 3.4 2.5 3.5 1.4 3.2 0.3 2.8-0.9 2.1-2 1.3-2.8 0.5-3.6-0.5-3.9-2.2-5.8-3.6-4.8-2.8-2.3-2.8-1.3-2.6-0.2-2.2 0.9-1.6 1.8-0.8 2.6 0 3.2 1.6 5.4 3.2 5.1 4.4 3.9 3.1 1.5 2.9 0.4 2.7-0.6 2.1-1.7 1.3-2.6 0.5-3.3-0.4-3.6-2.1-5.6-3.5-4.7-2.8-2.2-2.8-1.2-2.5-0.1-2.1 1-1.3 1.8-0.7 2.6 0.4 4.7 2 5 3.4 4.5 4.1 3.2 2.8 1.2 2.7 0.2 2.4-0.6 1.8-1.5 1.3-2.3 0.6-4.4-1-5-2.4-4.7-3.3-3.8-3.6-2.1-2.3-0.3-1.9 0.7-1.4 1.5-0.9 3.5 0.7 4.3 2.1 4.4 3 3.6 3.5 2.4 3.4 0.8 2.9-0.8 1.9-2.2 0.6-3.3-0.4-3.6-1.5-3.5-2.1-2.8-2.4-1.7-2.2-0.4-1.8 0.7-0.9 1.9 0.1 2.7 1.6 3.9 2.8 3.3 2.5 1.5 2.5 0.3 2-0.7 1.3-1.7 0.5-3.2-0.9-3.6-1.9-2.9-2.6-1.8-1.8-0.2-1.3 1.1-0.5 2 0.8 3.6 2.4 3.6 2.5 2.1 2.6 1 2.5-0.1 1.8-1.4 1.1-2.4 0-3.1-1-3.4-1.9-2.9-2.3-1.7-2.1-0.5-1.6 0.8-0.8 1.8 0.5 3.3 1.8 3.3 2.7 2.3 2.7 0.7 1.7-0.6 1.2-1.9 0-3.2-1.2-2.8-1.9-1.4-1.3 0.1-0.6 1.5 0.6 2.5 2 2.8 3 1.9 2.4 0.1 1.5-0.9 1.1-2.4-0.3-3.2-1.6-3.1-2.2-2.1-1.6-0.5-1.3 0.5-0.8 1.4 0.2 2.8 1.5 3.2 2.6 2.6 2.9 1.3 2-0.1 1.6-1.1 0.8-2-0.3-3.3-1.4-3-2-1.8-1.7-0.3-1 1.1 0.3 2.6 1.8 2.7 2.5 1.4 1.7-0.1 1.4-1.4 0.2-2.5-1.1-2.4-1.2-0.6-0.5 0.9 0.9 2.2 2.2 1.7 2 0.2 1.4-1.1 0.4-2.3-1.1-2.4-1.1-0.5-0.4 0.9 0.9 2.2 2 1.8 2 0.6 1.6-0.9 0.7-1.9-0.7-2.8-1.7-1.7-1 0.1-0.5 1.4 0.9 2.3 2.4 2.3 2.2 0.5 1.7-1 0.7-2-0.7-2.7-1.5-1.6-1 0.2 0 1.4 1.4 2.2 2 1 1.7-0.3 1-1.6-0.4-2.3-0.7-0.5 0.3 1.3 1.8 1.6 1.7 0.2 1.1-1.2-0.1-2.2-1-1.3-0.6 0.3 0.5 1.8 2 1.9 1.8 0.3 1.4-0.9 0.4-2.1-1-2.4-1.2-0.6-0.4 0.9 1 2.1 2.1 1.7 2 0.1 1.3-1.3 0.1-2.3-1.1-1.9-0.8 0 0.2 1.5 1.9 2.1 1.9 0.5 1.5-0.9 0.4-1.9-0.9-2-0.8-0.2 0.1 1.3 1.6 1.7 1.7 0.4 1.2-0.9 0.2-2-0.7-1.1 0.8 1.4 2.1 0.7 1.3-0.7 0.3-1.9-0.6-0.5 0.8 1.5 2 1.1 1.4-0.4 0.7-1.5-0.6-2.1-0.5-0.1 0.8 1.6 2.1 1.2 1.6-0.5 0.6-1.6-0.7-1.8-0.4 0.1 1.2 1.8 2 0.9 1.4-0.4 0.7-1.7-0.6-2-0.8-0.4 0 1.3 1.8 1.8 2 0.5 1.4-1 0.3-2-0.9-1.5-0.1 0.8 1.6 1.7 1.8 0.3 1.2-1 0.1-2-0.8-0.9 0 1.1 1.7 1.6 1.6 0.2 1.1-1 0-2.1-0.8-0.9 0 1 1.7 1.6 1.6 0.1 0.9-1.1-0.2-1.9-0.6-0.4 1 1.6 1.8 0.7 1.3-0.6 0.4-1.7-0.1-0.4 1.8 1.1 1.6-0.1 0.9-1.5-0.4-1.4 0.4 1.2 2 1.1 1.4-0.5 0.5-1.8-0.7-1.3 0 0.7 1.5 1.5 1.7 0.2 1.1-1-0.1-2-0.3-0.2 1.5 1.4 1.8 0.2 1.2-1.1-0.1-1.8 0.8 1.3 1.9 0.8 0.3 0" fill="none" stroke="#0000ff" stroke-width="0.75" stroke-opacity="1.0" stroke-linejoin="round"/><path d="M98.8 715.4l0-0.1M100.6 716.3l1.4-0.4 0.6-1.7-0.7-2.4-1.2-0.7M103.5 715.2l1.7-0.3 1-1.5-0.1-2.6-1.3-2.2-1.2-0.7-0.6 0.3M108.1 720.2l2.5 1 2.6 0.1 2.5-1 1.9-2 1.3-3.2 0.4-4.1-0.6-4.8-1.7-5.2-2.9-5.2-3.7-4.8-4.5-4-4.9-2.5-2.5-0.7M122.1 746.7l4 0 3.8-0.7 3.6-1.4 3.2-2.2 2.8-2.9 2.3-3.6 1.8-4.3 1.2-4.8 0.7-5.3-0.1-5.8-0.6-6.1-1.3-6.3-2-6.5-2.6-6.5-3.1-6.4-3.7-6.1-4.2-5.9-4.6-5.4-5-4.8-5.2-4.2-5.4-3.4-5.5-2.7-5.4-1.8-5.4-0.8M131.2 761.8l5.1-0.9 4.7-1.7 4.1-2.9 3.5-3.9 2.8-4.6 2.1-5.3 1.3-5.9 0.6-6.4-0.2-6.7-0.9-7-1.6-7.1-2.3-7.1-3-6.9-3.5-6.7-4-6.3-4.4-5.8-4.8-5.3-5-4.6-5.1-3.8-5.2-3.1-5.2-2.2-5.1-1.3-4.9-0.4-4.5 0.4M129.1 747.5l3.8-0.9 3.4-1.7 2.9-2.4 2.5-3.1 1.9-3.6 1.3-4.2 0.8-4.5 0.1-5-0.4-5.1-2.2-10.2-1.8-4.9-2.1-4.8-2.5-4.7-2.9-4.4-3.2-4.2-3.4-3.7-3.6-3.3-3.8-2.7-3.8-2.3-3.8-1.6-3.7-1-3.7-0.4-3.4 0.2M129.3 745.4l3.6-0.3 3.3-1 3.1-1.6 2.7-2.2 2.2-2.9 1.8-3.4 1.2-3.9 0.8-4.3 0.2-4.7-0.4-4.9-0.9-5.1-1.4-5.3-1.9-5.1-2.4-5.1-2.8-4.9-3.2-4.6-3.5-4.2-3.9-3.8-4.2-3.3-4.2-2.5-4.3-1.8-4.1-1.1-4-0.3-3.7 0.5M131 745l3.7-0.2 3.5-1 3-1.7 2.7-2.3 2.2-3 1.6-3.6 1.2-4 0.6-4.5 0-4.7-0.6-5-1.1-5.1-1.6-5.2-2.2-5-2.6-4.9-2.9-4.6-3.3-4.3-3.6-3.8-3.8-3.3-3.9-2.7-3.9-2-3.9-1.5-3.8-0.7-3.6 0M134.9 743.6l3.2-0.5 2.9-1.2 2.6-1.8 2.3-2.4 1.8-2.8 1.3-3.3 0.9-3.7 0.4-4 0-4.3-0.6-4.4-1-4.6-1.4-4.6-1.9-4.5-2.2-4.3-2.6-4.2-2.9-3.8-3.1-3.5-3.3-3-3.3-2.6-3.5-2.1-3.4-1.5-3.4-0.9-3.2-0.4-3 0.3M136.9 740.1l3-0.6 2.7-1.2 2.3-1.7 2.1-2.3 1.6-2.7 1.2-3.2 0.8-3.5 0.3-3.8-0.2-4.1-0.6-4.2-2.5-8.5-4-8.2-5.2-7.3-3-3.1-3.1-2.7-3.2-2.2-3.2-1.7-3.2-1.2-3.1-0.7-3 0M138 736.9l2.7-0.5 2.5-1 2.2-1.4 1.9-2 1.6-2.3 1.2-2.7 0.8-3.1 0.4-3.3-0.4-7.2-1.9-7.5-3.2-7.3-4.4-6.6-5.1-5.4-5.5-4-2.7-1.3-2.7-0.8-2.7-0.4-2.4 0.1M141.5 732.9l2.4-0.6 2.1-1 1.9-1.5 1.6-1.9 2.1-4.6 0.9-5.7-0.3-6.3-1.7-6.6-2.4-6.7-3.6-6.4-4.5-5.9-5.2-4.8-5.6-3.3-2.9-1.1-2.8-0.6M146.7 744.4l3.6-0.1 3.4-0.7 3.2-1.3 2.8-2 2.5-2.5 2-3.2 1.6-3.7 1.2-4.1 0.6-4.6-0.2-5.2-1-5.7-1.5-5.7-2.1-5.7-2.6-5.6-3.1-5.2-3.5-5-3.7-4.5-4-3.9-4.2-3.4-4.3-2.7-4.2-2-4.2-1.3-4-0.5-3.8 0.2M148.2 741.7l3.6-0.4 3.3-1.1 2.9-1.8 2.6-2.4 2.1-3 1.5-3.5 1.1-4 0.6-4.4 0-4.6-0.6-4.9-1.1-5-1.5-5-2.1-5-2.5-4.8-2.8-4.5-3.2-4.2-3.5-3.8-6.9-5.9-3.4-2.2-3.4-1.6-3.3-1.2-3.3-0.7-3.2-0.1M152.5 745.8l3.8-0.1 3.5-0.7 3.2-1.6 2.8-2.2 2.4-2.8 2-3.3 1.5-3.7 1-4.2 0.5-4.6 0.1-4.8-0.5-5-1-5.2-1.5-5.2-1.9-5.2-2.4-5.1-2.7-4.9-3.1-4.7-3.4-4.3-3.6-3.9-3.8-3.5-4-2.9-4-2.4-4-1.7-4-1.2-3.9-0.5-3.7 0.2M157.4 744.3l3.6-0.7 3.4-1.3 3-2 2.6-2.7 2.1-3.2 1.7-3.7 1.1-4.3 0.5-4.6-0.1-5-0.6-5.1-1.1-5.3-1.6-5.2-2-5.2-2.5-5-2.9-4.8-3.2-4.5-3.4-4.1-3.7-3.6-3.8-3.1-3.9-2.5-3.9-2-3.9-1.3-3.7-0.6-3.5 0M158.1 738.7l3.3-0.5 3-1.2 2.7-1.8 2.3-2.3 1.9-2.9 1.5-3.3 1-3.7 0.6-4 0-4.4-0.4-4.5-0.8-4.7-1.4-4.7-1.7-4.6-2.2-4.6-2.5-4.3-2.8-4.1-3.1-3.7-3.3-3.4-3.4-2.9-3.6-2.4-3.5-1.8-3.5-1.3-3.4-0.7-3.3-0.1M160.3 734.6l3-0.7 2.7-1.2 2.4-1.8 2.1-2.3 1.6-2.7 1.2-3.2 0.8-3.5 0.4-3.8-0.1-4-0.5-4.2-2.4-8.6-3.8-8.2-5.1-7.4-5.9-6-3.1-2.4-3.2-1.9-3.2-1.4-3.1-0.8-3-0.4-2.8 0.3M161.1 730.7l2.9-0.1 2.7-0.7 2.4-1.3 2.2-1.7 1.9-2.2 1.5-2.7 1.1-3.1 0.7-3.4 0.3-3.8-0.2-4-0.6-4.2-2.5-8.6-4.1-8.4-5.5-7.6-3.1-3.3-3.2-2.9-3.4-2.4-3.5-1.9-3.5-1.3-3.3-0.8-3.3-0.1M167.2 737.4l3.6-0.4 3.4-1.2 2.8-2.1 2.4-2.8 1.8-3.3 1.4-3.9 0.8-4.2 0.3-4.6-0.3-4.8-0.8-5-1.4-5.1-1.8-5-2.3-4.8-2.6-4.7-3-4.3-3.3-4-3.5-3.4-3.7-3-3.7-2.4-3.7-1.7-3.7-1.1-3.5-0.5-3.3 0.2M167.1 729.2l2.9-0.6 2.6-1.3 2.3-1.7 1.9-2.3 1.5-2.8 1-3.2 0.6-3.5 0.1-3.7-0.3-4-0.8-4-2.6-8.1-3.8-7.6-4.9-6.8-5.8-5.5-3.1-2.1-3.1-1.6-3.1-1-3-0.5M170.3 731.3l3.3-0.2 3-0.9 2.8-1.5 2.3-2.1 2-2.7 1.6-3.1 1.1-3.6 0.6-4.1 0.1-4.3-0.4-4.6-0.9-4.7-1.4-4.8-1.9-4.8-2.3-4.6-2.7-4.5-3-4.2-3.4-3.8-3.5-3.3-3.7-2.9-3.8-2.2-3.8-1.5-3.7-0.8-3.6-0.2M174.3 729l2.9-0.8 2.5-1.5 2.2-2 1.9-2.5 1.4-3 0.9-3.3 0.5-3.6 0.1-3.9-0.4-4.1-0.9-4.1-2.9-8.3-4.3-7.6-5.3-6.5-2.9-2.7-3-2.2-3-1.8-3-1.2-2.9-0.7-2.7-0.2M173.6 723.5l2.5-0.3 2.2-0.7 2.1-1 1.8-1.6 1.6-1.8 1.2-2.3 1.6-5.3 0.2-6.3-1.1-6.8-2.4-6.9-3.5-6.5-4.4-5.7-4.9-4.7-5.3-3.2-5.2-1.6-2.4-0.1M177.4 721.6l2.3-0.6 2-1 1.8-1.5 1.5-1.7 2.1-4.5 0.8-5.5-0.4-6-1.6-6.2-2.7-6-3.5-5.4-4.1-4.4-4.3-3.2-4.4-1.9-4-0.5M177.3 715.4l3.8-0.2 3.3-1.5 2.7-2.8 1.7-3.9 0.7-4.9-0.5-5.6-1.5-6-2.7-5.9-3.7-5.5-4.3-4.7-4.9-3.5-4.9-2.1-2.5-0.5M184.5 721.7l2.5-0.7 2.3-1.1 2-1.6 1.7-2 1.3-2.5 1-2.8 0.6-3.1 0-6.8-1.5-7.4-2.9-7.3-4.2-6.8-5-5.7-2.7-2.2-5.6-3.1-2.7-0.8-2.6-0.3-2.4 0.1M185.3 714.7l2-0.8 1.7-1.1 1.5-1.6 1.2-1.9 1.3-4.6 0.2-5.3-0.9-5.6-2.1-5.6-3-5.1-3.7-4.4-4-3.2-4.2-1.9-3.8-0.4M185.2 710.7l3.3-0.8 2.7-2 1.8-3 1-3.9-0.1-4.4-1-4.6-2.9-6.7-4.2-5.6-4.8-3.7-3.2-1.4-3-0.3M188.6 709.5l2.9-0.6 2.5-1.5 1.9-2.5 1.2-3.2 0.4-5.8-1.4-6.4-2.8-6.2-4.1-5.3-3.2-2.6-3.4-1.6-3.1-0.6-1.5 0.1M190.6 705.3l2.5-0.9 2-1.7 1.3-2.5 0.7-4.7-1-5.4-2.3-5.1-3.4-4.1-3.8-2.6-3.6-0.8M193.6 703.2l2.5-0.8 2-1.8 1.3-2.6 0.5-3.2-0.7-5.7-2.5-5.7-3.7-4.8-3-2.2-2.9-1.3-2.9-0.2M195.7 702.1l2.4-0.9 1.8-1.7 1.2-2.5 0.3-4.6-1.2-5-2.4-4.6-3.3-3.5-3.4-1.8-2.1-0.2M197.9 698l2.4-1 1.7-2.2 0.7-3.1-0.4-3.7-1.3-3.7-2.1-3.4-2.7-2.5-2.7-1.4-1.8-0.1M200.9 697.9l2.6-1.2 1.7-2.5 0.5-3.4-0.5-3.8-1.6-3.7-2.3-3.1-2.6-2.1-2.6-0.7-0.8 0.1M203 694.2l1.9-0.9 1.3-1.9 0.5-2.5-0.7-3.9-1.9-3.5-2.6-2.3-1.9-0.5-0.6 0M205.3 692.1l1.8-0.7 1.2-1.6 0.5-3-0.9-3.4-1.9-2.9-2.3-1.8-1.1-0.3M208.6 691.4l1.8-0.8 1.2-1.7 0.4-3.3-1.3-3.9-2.4-3-2.1-1.2-1.2-0.1M210.8 689.8l1.8-0.8 1-1.7 0.1-3.2-1.3-3.4-2.1-2.4-2.2-0.8M213.9 688.9l1.6-0.6 1.3-2.1 0.2-2.9-1-3.3-2-2.7-2.4-1.6-1.1-0.1M216.6 688.6l1.8-0.7 1.2-1.7 0.3-3.1-1-3.4-2-2.8-2.3-1.4-1.1-0.1M219.2 687.3l1.7-0.6 1.2-1.4 0.5-2.9-0.8-3.2-1.8-2.8-2.3-1.6-1-0.2M222 686.4l1.6-0.5 1.5-1.9 0.2-2.8-1.2-3.7-2.3-2.7-2-0.7M224.8 685l1.9-0.8 1.1-1.9-0.2-3.4-1.5-3.1-2.2-1.8-0.9-0.2M227.9 683.5l1.7-1 0.8-2.1-0.5-3.3-1.9-2.8-1.8-1-0.5-0.1M230.3 682.8l1.5-0.5 1.2-1.8 0.1-2.7-1.4-3.4-1.8-1.7-1.4-0.5M233.6 682.2l1.8-1 0.9-2.1-0.5-3.6-1.9-3-1.9-1.3-0.9 0M236.3 680.9l1.6-0.9 0.8-2.4-0.5-2.8-1.8-2.7-1.7-0.8M238.9 679.2l1.7-1 0.6-2-0.6-2.9-1.7-2-1.2-0.3M241.9 677.8l1.5-0.9 0.6-2.2-0.9-2.8-1.5-1.4-0.5-0.1M244.9 676.8l1.5-0.8 0.7-1.8-0.6-2.7-1.5-1.9-0.8-0.3M247.7 675.9l1.4-0.7 0.7-2-0.6-2.4-1.4-1.6-0.9-0.3M250.4 675l1.5-0.8 0.6-1.8-0.6-2.6-1.6-1.9-0.8-0.2M253.7 674.7l1.4-0.8 0.6-1.8-0.5-2.6-1.7-2.2-1.2-0.2M255.9 672.8l1.3-0.8 0.3-2.1-0.9-2.2-1-0.6M258.8 671.4l1.2-0.8 0.4-1.8-1-2-0.7-0.4M261.8 670.5l1.2-0.9 0.2-2.1-0.9-1.5" fill="none" stroke="#ff0000" stroke-width="0.75" stroke-linejoin="round"/>
<g><line x1="36.10" y1="754.40" x2="32.98" y2="752.82" stroke="#262626" stroke-width="0.75"/><line x1="36.10" y1="731.07" x2="32.98" y2="729.49" stroke="#262626" stroke-width="0.75"/><line x1="36.10" y1="707.73" x2="32.98" y2="706.16" stroke="#262626" stroke-width="0.75"/><line x1="36.10" y1="684.40" x2="32.98" y2="682.82" stroke="#262626" stroke-width="0.75"/><line x1="36.10" y1="661.07" x2="32.98" y2="659.49" stroke="#262626" stroke-width="0.75"/><line x1="36.10" y1="637.73" x2="32.98" y2="636.16" stroke="#262626" stroke-width="0.75"/><line x1="36.10" y1="614.40" x2="32.98" y2="612.82" stroke="#262626" stroke-width="0.75"/><line x1="36.10" y1="754.40" x2="32.74" y2="755.39" stroke="#262626" stroke-width="0.75"/><line x1="67.53" y1="770.27" x2="64.17" y2="771.27" stroke="#262626" stroke-width="0.75"/><line x1="98.95" y1="786.15" x2="95.59" y2="787.14" stroke="#262626" stroke-width="0.75"/><line x1="130.38" y1="802.02" x2="127.02" y2="803.02" stroke="#262626" stroke-width="0.75"/><line x1="161.80" y1="817.90" x2="158.44" y2="818.89" stroke="#262626" stroke-width="0.75"/><line x1="161.80" y1="817.90" x2="164.92" y2="819.48" stroke="#262626" stroke-width="0.75"/><line x1="202.90" y1="805.75" x2="206.02" y2="807.33" stroke="#262626" stroke-width="0.75"/><line x1="244.00" y1="793.60" x2="247.12" y2="795.18" stroke="#262626" stroke-width="0.75"/><line x1="285.10" y1="781.45" x2="288.22" y2="783.03" stroke="#262626" stroke-width="0.75"/><line x1="326.20" y1="769.30" x2="329.32" y2="770.88" stroke="#262626" stroke-width="0.75"/></g>
<g fill="#262626" stroke="#262626" stroke-width="0.22"><text transform="translate(29.50,754.36) scale(1,1.16)" font-size="7.663" text-anchor="end">-0.03</text><text transform="translate(29.50,731.03) scale(1,1.16)" font-size="7.663" text-anchor="end">-0.02</text><text transform="translate(29.50,707.69) scale(1,1.16)" font-size="7.663" text-anchor="end">-0.01</text><text transform="translate(29.50,684.36) scale(1,1.16)" font-size="7.663" text-anchor="end">0</text><text transform="translate(29.50,661.03) scale(1,1.16)" font-size="7.663" text-anchor="end">0.01</text><text transform="translate(29.50,637.69) scale(1,1.16)" font-size="7.663" text-anchor="end">0.02</text><text transform="translate(29.50,614.36) scale(1,1.16)" font-size="7.663" text-anchor="end">0.03</text><text transform="translate(29.50,765.06) scale(1,1.16)" font-size="7.663" text-anchor="end">2</text><text transform="translate(60.93,780.93) scale(1,1.16)" font-size="7.663" text-anchor="end">1</text><text transform="translate(92.35,796.81) scale(1,1.16)" font-size="7.663" text-anchor="end">0</text><text transform="translate(123.78,812.68) scale(1,1.16)" font-size="7.663" text-anchor="end">-1</text><text transform="translate(155.20,828.56) scale(1,1.16)" font-size="7.663" text-anchor="end">-2</text><text transform="translate(168.40,829.46) scale(1,1.16)" font-size="7.663" text-anchor="start">0</text><text transform="translate(209.50,817.31) scale(1,1.16)" font-size="7.663" text-anchor="start">10</text><text transform="translate(250.60,805.16) scale(1,1.16)" font-size="7.663" text-anchor="start">20</text><text transform="translate(291.70,793.01) scale(1,1.16)" font-size="7.663" text-anchor="start">30</text><text transform="translate(332.80,780.86) scale(1,1.16)" font-size="7.663" text-anchor="start">40</text></g>
<g fill="#262626" stroke="#262626" stroke-width="0.25"><text x="0" y="0" font-size="9.51" text-anchor="middle" transform="translate(10.30,683.50) rotate(-90) scale(1,1.16)">Velocity (m/s)</text><text transform="translate(73.00,817.60) scale(1,1.16)" font-size="9.506" text-anchor="middle">Displacement (m)</text><text transform="translate(262.50,820.00) scale(1,1.16)" font-size="9.506" text-anchor="middle">Time (s)</text><text transform="translate(28.10,794.40) scale(1,1.0)" font-size="7.6" text-anchor="start" fill="#555">×</text><text transform="translate(34.00,794.20) scale(1,1.16)" font-size="7.5" text-anchor="start">10</text><text transform="translate(42.60,790.10) scale(1,1.16)" font-size="6.5" text-anchor="start">-3</text></g>
<g fill="#000"><rect x="208.50" y="615.20" width="71.90" height="23.70" fill="#fff" stroke="#262626" stroke-width="0.6"/><line x1="211.10" y1="622.07" x2="229.10" y2="622.07" stroke="#0000ff" stroke-width="0.6"/><line x1="211.10" y1="633.21" x2="229.10" y2="633.21" stroke="#ff0000" stroke-width="0.6"/><text transform="translate(230.90,625.37) scale(1,1.0)" font-size="9.0" text-anchor="start">CryStAl</text><text transform="translate(230.90,636.81) scale(1,1.0)" font-size="9.0" text-anchor="start">Uncontrolled</text></g>
<text x="3.2" y="575.8" font-size="14" fill="#000">(<tspan font-weight="bold">e</tspan>) Northridge</text>
<g><line x1="381.00" y1="753.00" x2="381.00" y2="609.30" stroke="#dcdcdc" stroke-width="0.6"/><line x1="381.00" y1="753.00" x2="503.60" y2="817.90" stroke="#dcdcdc" stroke-width="0.6"/><line x1="434.30" y1="736.37" x2="434.30" y2="592.67" stroke="#dcdcdc" stroke-width="0.6"/><line x1="434.30" y1="736.37" x2="556.90" y2="801.27" stroke="#dcdcdc" stroke-width="0.6"/><line x1="487.60" y1="719.73" x2="487.60" y2="576.03" stroke="#dcdcdc" stroke-width="0.6"/><line x1="487.60" y1="719.73" x2="610.20" y2="784.63" stroke="#dcdcdc" stroke-width="0.6"/><line x1="540.90" y1="703.10" x2="540.90" y2="559.40" stroke="#dcdcdc" stroke-width="0.6"/><line x1="540.90" y1="703.10" x2="663.50" y2="768.00" stroke="#dcdcdc" stroke-width="0.6"/><line x1="381.00" y1="753.00" x2="540.90" y2="703.10" stroke="#dcdcdc" stroke-width="0.6"/><line x1="540.90" y1="703.10" x2="663.50" y2="768.00" stroke="#dcdcdc" stroke-width="0.6"/><line x1="381.00" y1="735.04" x2="540.90" y2="685.14" stroke="#dcdcdc" stroke-width="0.6"/><line x1="540.90" y1="685.14" x2="663.50" y2="750.04" stroke="#dcdcdc" stroke-width="0.6"/><line x1="381.00" y1="717.08" x2="540.90" y2="667.18" stroke="#dcdcdc" stroke-width="0.6"/><line x1="540.90" y1="667.18" x2="663.50" y2="732.08" stroke="#dcdcdc" stroke-width="0.6"/><line x1="381.00" y1="699.11" x2="540.90" y2="649.21" stroke="#dcdcdc" stroke-width="0.6"/><line x1="540.90" y1="649.21" x2="663.50" y2="714.11" stroke="#dcdcdc" stroke-width="0.6"/><line x1="381.00" y1="681.15" x2="540.90" y2="631.25" stroke="#dcdcdc" stroke-width="0.6"/><line x1="540.90" y1="631.25" x2="663.50" y2="696.15" stroke="#dcdcdc" stroke-width="0.6"/><line x1="381.00" y1="663.19" x2="540.90" y2="613.29" stroke="#dcdcdc" stroke-width="0.6"/><line x1="540.90" y1="613.29" x2="663.50" y2="678.19" stroke="#dcdcdc" stroke-width="0.6"/><line x1="381.00" y1="645.23" x2="540.90" y2="595.33" stroke="#dcdcdc" stroke-width="0.6"/><line x1="540.90" y1="595.33" x2="663.50" y2="660.23" stroke="#dcdcdc" stroke-width="0.6"/><line x1="381.00" y1="627.26" x2="540.90" y2="577.36" stroke="#dcdcdc" stroke-width="0.6"/><line x1="540.90" y1="577.36" x2="663.50" y2="642.26" stroke="#dcdcdc" stroke-width="0.6"/><line x1="381.00" y1="609.30" x2="540.90" y2="559.40" stroke="#dcdcdc" stroke-width="0.6"/><line x1="540.90" y1="559.40" x2="663.50" y2="624.30" stroke="#dcdcdc" stroke-width="0.6"/><line x1="549.62" y1="707.72" x2="549.62" y2="564.02" stroke="#dcdcdc" stroke-width="0.6"/><line x1="389.72" y1="757.62" x2="549.62" y2="707.72" stroke="#dcdcdc" stroke-width="0.6"/><line x1="576.86" y1="722.14" x2="576.86" y2="578.44" stroke="#dcdcdc" stroke-width="0.6"/><line x1="416.96" y1="772.04" x2="576.86" y2="722.14" stroke="#dcdcdc" stroke-width="0.6"/><line x1="604.11" y1="736.56" x2="604.11" y2="592.86" stroke="#dcdcdc" stroke-width="0.6"/><line x1="444.21" y1="786.46" x2="604.11" y2="736.56" stroke="#dcdcdc" stroke-width="0.6"/><line x1="631.35" y1="750.98" x2="631.35" y2="607.28" stroke="#dcdcdc" stroke-width="0.6"/><line x1="471.45" y1="800.88" x2="631.35" y2="750.98" stroke="#dcdcdc" stroke-width="0.6"/><line x1="658.60" y1="765.40" x2="658.60" y2="621.70" stroke="#dcdcdc" stroke-width="0.6"/><line x1="498.70" y1="815.30" x2="658.60" y2="765.40" stroke="#dcdcdc" stroke-width="0.6"/></g>
<g><line x1="381.00" y1="609.30" x2="540.90" y2="559.40" stroke="#262626" stroke-width="0.75"/><line x1="540.90" y1="559.40" x2="663.50" y2="624.30" stroke="#262626" stroke-width="0.75"/><line x1="663.50" y1="624.30" x2="663.50" y2="768.00" stroke="#262626" stroke-width="0.75"/><line x1="381.00" y1="753.00" x2="540.90" y2="703.10" stroke="#262626" stroke-width="0.75"/><line x1="540.90" y1="703.10" x2="663.50" y2="768.00" stroke="#262626" stroke-width="0.75"/><line x1="381.00" y1="753.00" x2="503.60" y2="817.90" stroke="#262626" stroke-width="0.75"/><line x1="503.60" y1="817.90" x2="663.50" y2="768.00" stroke="#262626" stroke-width="0.75"/><line x1="540.90" y1="559.40" x2="540.90" y2="703.10" stroke="#262626" stroke-width="0.75"/><line x1="381.00" y1="609.30" x2="381.00" y2="753.00" stroke="#262626" stroke-width="0.75"/></g>
<path d="M444.1 714.2l0.5 0.3 0.3 0M445.2 714.2l0.1 0.1M445.5 713.9l0.6 0.4M446.2 713.7l0.5 0.4M446.8 713.4l0.4 0.6 0.2 0.1M447.4 713.2l0.6 0.5M448.1 713l0.3 0.6 0.4 0.1M448.8 712.7l0.6 0.6M449.7 712.7l0.5 0.2M450.4 712.4l0.6 0.5M451.1 712.1l0.6 0.6M451.9 711.9l0.6 0.3M452.7 711.8l0.4 0.2M453.3 711.4l0.6 0.6M454 711.1l0.3 0.6 0.3 0.1M454.6 711l0.6 0.5M455.3 711l0.5 0.2M456 710.7l0.4 0.1M456.5 710.8l0.3 0M457 710.7l0.1 0M457.2 709.9l-0.3 0.3 1.1 0.7M458 709.9l0.6 0.6M458.7 709.5l-0.3 0.4 1 0.6M459.4 709.3l0.4 0.8 0.3 0.1M460 708.9l-0.3 0.3 1 1 0.2 0M460.7 708.7l-0.3 0.4 1.1 0.9M461.4 708.6l0 0.5 0.7 0.4M462.1 708.4l-0.2 0.5 1 0.7M462.7 708.2l0.2 0.7 0.4 0.1M463.4 708.3l0.7 0.6M464.1 707.7l0.2 0.7 0.4 0.1M464.8 708.1l0.6 0.1M465.5 707.5l0 0.5 0.7 0.4M466.1 707l-0.3 0.3 1.1 0.9 0.1 0M466.9 706.9l0.1 0.7 0.5 0.2M467.6 706.9l0.5 0.6M468.3 706.9l0.5 0.2M469 706.5l0.5 0.7 0.2 0M469.5 706l-0.4 0.3 1.1 1.2 0.3 0.1M470.1 705.4l-0.6 0.4 1.1 1.4 0.5 0.1M470.8 705.4l-0.2 0.5 1.1 0.8M471.7 705.7l0.6 0.2 0.1 0M472.5 705.5l0.3 0.7 0.3 0.2M472.9 704.7l-0.2 0.5 0.9 0.6M473.6 705.3l0.4 0.2M474.4 704.8l0.5 0.6M475 704.7l0.7 0.7M475.5 703.7l-0.7 0.2 0.4 1.2 1.5 0.8M476 703.4l-0.4 0.4 0.8 1.4 0.8 0.3M476.7 703.2l-0.6 0.2 0.6 1.5 1.2 0.7M477.3 702.8l-0.6 0.5 0.9 1.5 0.9 0.4M478.1 702.9l-0.3 0.5 1 1.1 0.2 0M478.9 703.2l-0.4 0.2 1.2 1.2 0.1 0.1M479.3 702l-0.9 0.1 0.1 1.4 1.7 1.7 0.5 0.2M479.6 700.9l-1.2 0.2-0.1 1.4 1.5 2 1.7 0.8M480.6 701.6l-0.7 0.6 1 1.6 0.9 0.5M481.2 701.3l-0.9 0.3 0.2 1.4 1.6 1.4 0.6 0.1M482 701.3l-0.6 0.5 0.9 1.5 1 0.5M482.5 700.6l-1 0.3 0 1.3 1.4 1.9 1.6 0.7M482.9 700l-0.9 0.4 0 1.4 1.5 1.9 1.4 0.6M483.6 699.9l-1 0.4 0.2 1.8 1.7 1.8 1.2 0.4M484.2 699.6l-0.9 0.4 0.1 1.4 1.4 1.8 1.3 0.5M485 699.6l-1.1 0.3 0 1.5 1.6 2.1 1.7 0.8M485.1 698.1l-1.1 0.4-0.3 1.5 1.2 2.2 2.2 1.4 0.5 0M486.8 700.1l-0.5 0.5 0.9 1.3 0.6 0.3M487.3 700l-0.4 0.4 0.8 1.3 0.7 0.2M487.9 699.7l-0.6 0.4 0.6 1.4 1.3 0.7M488.3 699l-0.9 0.3 0.2 1.6 1.9 1.7 0.5 0.2M488.8 698.5l-0.7 0.6 0.7 1.7 1.5 0.7M489.9 699.5l-0.3 0.5 1.1 1.1 0.2 0M490.3 698.8l-0.7 0.2 0.6 1.6 1.6 1M490.7 697.4l-1.4 0.1-0.3 1.3 1.3 2.4 2.2 1.5 0.3 0.1M491 696.1l-1.6 0.2-0.6 1.3 0.9 2.6 2.2 2.1 2 0.8M491.7 696.3l-1.2 0.4-0.2 1.3 1.6 2.1 1.6 0.5 0.3-0.2M493.5 698.1l-0.3 0.4 1 1.1 0.4 0.1M494.5 699l0.2 0.2M494.7 698.4l0.2 0.6 0.5 0.2M495.5 698.5l0.1 0.1M495.5 697.7l-0.6 0.1 0.5 1.3 1.1 0.4M496.1 697.6l-0.3 0.5 1.1 1.2 0.1 0.1M496.1 695.4l-1.7-0.1-0.7 1.1 0.3 2.1 2.3 3 2.9 1.6M496 692.9l-1.7 0.5-0.6 1.6 0.8 2.7 2 2.2 2.2 0.9 0.4 0M497.9 696.1l-0.8 0.5 0.7 1.6 1.4 0.7M498.7 696.6l-0.9-0.1 0 1.2 1.5 1.7 1 0.5M498.2 693.4l-1.7 0-0.6 1.1 0.3 2.1 1.9 2.7 2.6 1.6 0.5 0.1M499.1 693.9l-1.2 0.4-0.3 1.5 1.3 2.4 2.3 1.6 0.3 0.1M499.8 693.9l-1.4 0.4-0.1 1.7 1.4 2.4 2 1.3 0.8 0.1M500.9 694.6l-0.9 0.4 0.3 1.4 1.7 1.5 0.6 0.2M501.5 694.5l-1 0.3 0 1.5 1.7 2.1 1.3 0.6M501.8 692.9l-1.6 0.2-0.6 1.6 0.8 2.3 2.5 2.5 2 0.7M502.5 692.9l-0.9 0.6 0.1 1.6 1.4 1.7 1.3 0.3M503.6 694.7l-0.7 0 0.2 1.4 1.8 1.4 0.2 0.1M503.8 693.3l-1.1 0.2-0.4 1.2 1.1 2.1 2.5 1.1M503.5 689.7l-2.6-0.2-1.4 1-0.2 2.2 1.4 3.5 2.7 3.3 3.4 2.1 1.7 0.4M504.2 689.1l-1.9 0.1-1.3 1-0.4 1.8 0.8 3.1 2.4 3 2.9 1.9 2 0.3M505.5 691.5l-1.2 0.6-0.2 1.4 1.1 2.2 1.9 1.4 1 0.3M506.9 693.4l-0.4 0.6 1 1.3 0.5 0M507.7 693l-1.1 0.2 0.1 1.5 1.6 2 1.4 0.6M508.3 692.4l-0.8 0.5 0.3 1.7 1.5 1.3 0.8 0.2M509.3 693.2l-0.5 0.5 1.1 1.5 0.5 0.3M509 691.1l-1.4 0-0.8 1.2 0.6 2.2 1.9 2.5 2.8 1.7M508.6 688l-1.5 0.5-0.7 1.2 0 2.2 1.7 3 2.5 2 1.9 0.6M510.9 691.3l-1.2 0.1-0.3 1.2 1 2 2.2 1.5 0.3 0.1M511.3 690.4l-1.1 0.5 0.1 1.6 1.4 1.9 1.6 0.6M512.7 692.2l-0.3 0.7 1.2 1 0.1 0M513.4 692.1l-0.3 0.5 1.1 0.8M514.3 692.5l0.3 0.2" fill="none" stroke="#ff0000" stroke-width="0.75" stroke-linejoin="round"/><path d="M502.8 696.3l0.9-0.2 0.8-0.3 0.8-0.3 0.8-0.2M506.2 695.1l0.6 0.4M506.7 694.4l-0.2 0.4 1.1 1M507.3 693.8l-0.6 0.2 0.6 1.4 1.2 0.7M507.8 693.1l-0.9 0.3 0.4 1.5 1.6 1.3 0.5 0.1M508.2 692.4l-1 0.3 0.2 1.7 1.6 1.7 1.2 0.5M508.7 691.6l-1.1 0.4-0.1 1.6 1.7 2.2 1.6 0.9M509.3 691.3l-1.2 0.3-0.3 1.3 1.1 2.2 2.2 1.8 0.8 0.2M509.6 689.7l-1.7 0-1 1.2 0.1 2 1.7 2.9 2.8 2.4 1.9 0.6M509.8 688.1l-2.1 0.1-1 1.1-0.2 2.3 1.2 2.9 2.9 3.2 2.9 1.5 0.7 0.2M509.8 686.8l-1.9 0.1-1.4 1.1-0.5 1.9 0.8 3.3 2.3 3.4 3.2 2.7 2.6 1.1M510.5 685.2l-2.4 0-1.8 1.1-0.8 2 0.2 2.7 1.9 4.1 3.4 3.7 4 2.3 1.9 0.4M510.2 683.9l-2.6 0.3-1.8 1.4-0.6 2.6 0.6 3.3 1.8 3.6 2.8 3.3 3.4 2.5 3.4 1.3M510.4 682.7l-2.9 0.4-1.5 1-1 2.6 0.2 3.6 1.7 4 2.9 3.9 3.8 3.2 4.2 2.1 1.3 0.3M511.1 679.7l-3-0.4-2.6 0.6-1.9 1.5-1.1 2.3-0.3 3.1 0.7 3.5 2.8 5.7 4.4 5.3 5.5 4 3.8 1.6 1.8 0.5M508.9 675.4l-3.6 0.1-2.9 1.3-2 2.3-1 3.3 0.2 4 1.2 4.5 2.4 4.7 3.3 4.6 4 4 4.5 3.3 4.6 2.2 2.3 0.7M509.1 671.9l-4.4-0.1-2 0.4-1.7 0.9-1.5 1.1-1.1 1.5-0.9 1.8-0.6 4.4 0.6 5.1 2.1 5.5 3.2 5.5 4.3 5.1 4.9 4.4 5.4 3.4 5.3 2.1 2.6 0.5M507.8 669l-4.8 0.2-2 0.7-1.8 1-1.5 1.4-1.2 1.8-0.8 2.1-0.6 4.9 1 5.9 2.7 6.5 4.1 6.4 5.2 5.8 6 4.8 6.2 3.4 6.1 1.8M507.7 666.2l-2.9-0.2-2.7 0.3-2.4 0.9-2.1 1.2-1.7 1.7-1.3 2.2-0.9 2.4-0.4 2.9 0 3.1 0.5 3.3 2.3 7 4 7.1 5.3 6.7 6.3 5.8 6.8 4.4 3.5 1.6 3.4 1.2 3.3 0.6M508.4 663.3l-3.2-0.4-2.9 0.1-2.6 0.6-2.4 1-2 1.5-1.7 1.9-1.3 2.3-0.8 2.7-0.4 2.9 0 3.3 0.5 3.4 2.3 7.3 3.9 7.4 5.3 7.2 6.4 6.3 7 5.2 7.2 3.5 3.5 1.2 3.4 0.6M508.2 660.3l-3.4-0.4-3.2 0.2-3 0.7-2.5 1.2-2.2 1.7-1.8 2.2-1.3 2.6-0.8 3-0.3 3.3 0.2 3.6 0.7 3.9 1.2 3.9 3.7 8.1 5.4 7.9 6.6 7.1 7.4 5.9 3.8 2.3 3.9 1.9 3.8 1.4 3.7 0.9M509.6 658.9l-3.6-0.5-3.4 0.1-2.9 0.5-2.5 1-2.3 1.5-1.9 1.9-1.4 2.4-1 2.6-0.6 3.1-0.2 3.2 0.4 3.6 2 7.5 3.6 7.8 5.1 7.6 6.3 6.9 7.1 5.7 7.4 4.4 3.7 1.5 3.6 1.1 3.5 0.6M509 657.4l-3.5-0.5-3.3 0-3 0.5-2.8 1-2.4 1.5-2 1.9-1.7 2.5-1.1 2.8-0.7 3.2-0.2 3.6 0.3 3.8 0.8 4.1 1.3 4.4 1.8 4.4 2.3 4.6 2.8 4.5 3.2 4.4 3.6 4.2 3.9 4 4.2 3.6 4.4 3.3 4.6 2.8 4.6 2.3 4.6 1.8 4.5 1.2M505.7 643.2l-5.2-0.9-5-0.2-4.7 0.7-4.1 1.4-3.7 2.2-3 3-2.4 3.7-1.7 4.3-0.9 4.9-0.2 5.4 0.7 5.9 1.4 6.2 2.2 6.4 3 6.5 3.6 6.6 4.3 6.4 4.9 6.3 5.4 5.9 5.8 5.5 6.2 5 6.4 4.4 6.5 3.6 6.5 2.9 6.4 2M501.2 629.2l-6.5-0.8-6.1 0.1-5.6 1-5.1 2-4.3 3-3.6 3.8-2.8 4.6-1.9 5.4-1.1 6-0.1 6.6 0.8 7.1 1.7 7.4 2.6 7.7 3.5 7.8 4.3 7.8 5 7.7 5.7 7.5 6.3 7 6.8 6.6 7.1 6 7.4 5.3 7.6 4.5 7.6 3.6 7.5 2.8 7.3 1.8M502 624.6l-7.2-0.8-6.6 0.3-6 1.4-5.3 2.5-4.5 3.4-3.7 4.4-2.6 5.3-1.7 6.1-0.7 6.7 0.4 7.2 1.3 7.7 2.4 8 3.3 8.1 4.1 8.1 5 8 5.7 7.7 6.3 7.3 6.8 6.8 7.2 6.2 7.4 5.4 7.6 4.6 7.6 3.6 7.5 2.7 7.2 1.7M502.2 626.6l-6.6-0.4-6.1 0.5-5.5 1.6-4.8 2.5-4 3.4-3.2 4.3-2.4 5.1-1.4 5.8-0.5 6.3 0.5 6.9 1.4 7.2 2.3 7.5 3.1 7.6 4 7.6 4.7 7.4 5.4 7.2 5.9 6.8 6.4 6.3 6.7 5.6 6.9 5 7.1 4.2 7 3.3 6.9 2.4 6.7 1.6M503.3 633.3l-6-0.3-5.5 0.8-4.9 1.7-4.2 2.6-3.5 3.5-2.7 4.3-1.8 5.1-0.9 5.6 0 6.2 0.9 6.7 1.8 6.9 2.7 6.9 3.4 6.7 4 6.5 4.5 6.4 5 6 5.5 5.7 5.7 5.1 6 4.6 6.1 3.9 6.1 3.2 6.1 2.5 5.8 1.7 5.6 0.9M509 641.9l-5.1-0.4-4.7 0.3-4.2 1.1-3.8 1.9-3.1 2.5-2.6 3.3-1.8 3.8-1.2 4.4-0.4 4.9 0.3 5.2 1 5.5 1.7 5.8 2.4 5.8 3 5.8 3.6 5.7 4 5.5 4.5 5.3 4.9 4.9 5.1 4.4 5.3 3.9 5.4 3.3 5.4 2.7 5.3 2 5.2 1.3M508.3 646.5l-4.4 0.1-4.1 0.8-3.5 1.5-3 2.2-2.5 2.8-1.8 3.4-1.2 3.9-0.5 4.4 0.2 4.7 0.8 4.9 1.5 5.2 2.1 5.3 2.6 5.2 3.2 5.2 3.7 5 4 4.8 4.4 4.4 4.6 3.9 4.8 3.5 4.8 3 4.9 2.3 4.7 1.8 4.6 1.1M513.9 652l-4.1-0.4-3.7 0.2-3.4 0.8-3 1.5-2.6 2-2 2.5-1.5 3-0.9 3.4-0.4 3.8 0.2 4.1 0.8 4.4 1.3 4.5 1.8 4.5 2.3 4.6 2.8 4.5 3.1 4.4 7.3 7.9 3.9 3.5 4.2 3.1 4.2 2.6 4.2 2.2 4.2 1.6 4 1.1M514.8 655.8l-3.5-0.3-3.2 0.3-2.9 0.7-2.6 1.3-2.1 1.6-1.8 2.1-1.4 2.6-0.9 2.8-0.5 3.3 0 3.4 0.5 3.8 2.3 7.8 4.1 8.1 5.5 7.7 6.6 7 7.4 5.8 7.6 4.2 3.8 1.5 3.7 0.9M516.8 656.7l-3.6-0.4-3.3 0-3 0.6-2.7 1.1-2.3 1.6-2 2.1-1.5 2.5-1 2.9-0.5 3.2-0.1 3.5 0.4 3.8 0.9 3.9 1.4 4.2 2 4.3 5.2 8.3 6.6 7.8 7.6 6.5 4 2.7 4.1 2.2 4 1.8 4 1.1 3.8 0.7M517.1 656.1l-3.8-0.4-3.5 0.1-3.2 0.8-2.8 1.2-2.4 1.9-1.9 2.3-1.4 2.9-0.8 3.2-0.3 3.6 0.2 4 0.8 4.1 1.3 4.3 1.9 4.4 2.3 4.4 2.8 4.3 3.2 4.2 3.5 3.9 3.7 3.6 4 3.3 4.1 2.8 4.2 2.4 4.2 1.8 4.1 1.3 3.9 0.8M518.5 656.9l-3.6-0.4-3.4 0.1-3.1 0.6-2.7 1.2-2.3 1.8-1.8 2.2-1.4 2.6-0.9 3.1-0.3 3.4 0.1 3.7 0.7 3.9 1.2 4 1.7 4.2 4.7 8.2 6.1 7.6 7.2 6.6 7.7 5 3.9 1.8 3.8 1.3 3.6 0.8M517.3 658.5l-3.3-0.1-2.9 0.5-2.7 1-2.3 1.5-1.8 2-1.4 2.4-0.9 2.8-0.5 3.2 0.1 3.4 0.6 3.7 1 3.8 3.5 7.9 5.1 7.6 6.3 6.8 7.1 5.7 7.4 3.9 3.6 1.3 3.5 0.8M518.3 659.6l-3.1 0-2.8 0.5-2.5 1-2.1 1.4-1.8 1.9-1.3 2.3-0.9 2.6-0.5 3 0.1 3.3 0.5 3.5 2.3 7.3 4.1 7.5 5.4 7.1 6.5 6.2 7 4.8 7.1 3.1 3.5 0.9M520.5 658.9l-3.2-0.3-3 0.1-2.8 0.6-2.4 1.1-2.1 1.6-1.7 2-1.2 2.4-0.8 2.8-0.4 3.1 0.2 3.3 0.6 3.6 2.5 7.5 4.2 7.6 5.5 7.1 6.5 6.2 6.9 4.8 7 3.2 3.4 0.9 3.2 0.5M520.1 658.2l-3.1-0.2-2.8 0.2-2.6 0.7-2.2 1.2-2 1.5-1.5 2-1.2 2.3-0.8 2.6-0.3 3 0 3.1 1.4 6.9 3 7.2 4.4 7.2 5.6 6.6 6.4 5.7 6.8 4.5 6.9 2.9 3.3 0.8M520.7 658.7l-3-0.1-2.9 0.3-2.5 0.9-2.2 1.3-1.8 1.8-1.4 2.1-1 2.6-0.6 2.8-0.1 3.1 0.4 3.4 2 7.1 3.7 7.4 5 7 6.1 6.3 6.8 5 6.9 3.5 3.4 1.1 3.3 0.6M522.8 659.7l-3-0.2-2.8 0.2-2.5 0.6-2.2 1.1-1.9 1.4-1.6 1.9-1.1 2.3-0.7 2.6-0.4 2.8 0.2 3.2 1.5 6.7 3.1 7.1 4.5 6.9 5.7 6.4 6.4 5.3 6.8 3.9 6.6 2.3 3.2 0.5M522.2 658.7l-3.1-0.1-2.8 0.4-2.5 0.8-2.3 1.3-1.8 1.8-1.4 2.2-1 2.7-0.5 2.9-0.1 3.3 0.5 3.5 0.9 3.6 3.2 7.6 4.7 7.4 6.1 6.7 6.8 5.6 7.2 4.1 3.6 1.3 3.5 0.9M522.1 658.2l-3.2 0-2.8 0.5-2.6 1-2.1 1.5-1.8 2-1.3 2.4-0.8 2.8-0.4 3.1 0.2 3.4 0.6 3.6 1.1 3.8 3.5 7.7 5.2 7.4 6.3 6.6 6.8 5.2 6.9 3.5 3.4 1.2 3.3 0.7M525.4 659.3l-3-0.3-2.9 0.1-2.5 0.6-2.3 1-1.9 1.5-1.6 1.9-1.1 2.2-0.8 2.6-0.3 2.9 0.1 3.1 1.5 6.7 3.1 7 4.6 6.9 5.6 6.2 6.3 5.2 6.6 3.8 6.5 2.1M525.5 660l-3-0.1-2.7 0.3-2.5 0.8-2.1 1.2-1.7 1.7-1.3 2.1-0.9 2.5-0.5 2.7 0 3.1 0.4 3.2 2.2 6.9 3.8 6.9 5 6.6 6 5.6 6.5 4.4 6.5 2.8 3.1 0.7M528.1 661.4l-3-0.4-2.7 0.1-2.6 0.5-2.2 1-1.8 1.5-1.5 1.8-1.1 2.2-0.6 2.6-0.2 2.9 0.2 3.1 1.9 6.6 3.4 6.9 4.8 6.6 5.9 5.7 6.4 4.5 6.5 2.9 3.2 0.8M527.6 660.5l-2.9-0.3-2.8 0.1-2.5 0.7-2.2 1.1-1.8 1.6-1.4 1.9-1.1 2.4-0.5 2.7-0.1 3 0.3 3.2 2 6.9 3.5 6.6 4.8 6.4 5.7 5.6 6.2 4.5 6.3 3 6 1.4M527.7 660.4l-2.7-0.2-2.6 0.3-2.2 0.6-2 1.1-1.7 1.5-1.4 1.8-0.9 2.2-0.6 2.5 0.1 5.7 1.6 6.3 3.1 6.5 4.4 6.3 5.3 5.6 6 4.7 6.1 3.3 6 1.8M527.4 660.1l-2.8-0.1-2.5 0.5-2.3 0.8-1.9 1.3-1.6 1.8-1.2 2.1-0.8 2.4-0.3 2.7 0 3 1.5 6.5 3 6.8 4.5 6.7 5.6 6 6.2 4.9 6.5 3.5 6.3 1.7M530.7 660.4l-2.9-0.4-2.7 0.1-2.4 0.6-2.1 0.9-1.8 1.4-1.5 1.8-1 2.1-0.7 2.4-0.2 2.7 0.7 6 2.3 6.4 3.7 6.4 4.9 5.9 5.6 5.1 6 3.8 5.9 2.4 2.9 0.5M530 662.9l-2.4 0-2.1 0.5-1.9 0.8-3 2.7-1 1.9-0.7 2.1-0.2 5 1.3 5.7 2.8 5.9 3.9 5.7 4.9 5.2 5.5 4.2 5.6 2.8 5.5 1.4M531.3 662.6l-2.5-0.1-2.3 0.3-2.1 0.6-1.8 1.1-1.4 1.5-1.2 1.7-0.7 2.2-0.4 2.3 0.4 5.4 1.9 6 3.2 6 4.5 5.7 5.2 4.9 5.6 3.7 5.6 2.3 2.7 0.6M532.1 662.9l-4.5 0.2-2 0.6-1.7 1-1.4 1.4-1.1 1.7-0.7 1.9-0.5 4.7 1 5.3 2.3 5.6 3.5 5.6 4.4 5 5 4.3 5.3 3.2 5.2 1.8 2.5 0.4M534.7 664.2l-4.5-0.2-1.9 0.4-1.8 0.8-1.4 1.1-1.2 1.4-1.5 3.6-0.1 4.5 1.2 5.1 2.4 5.3 3.5 5.1 4.3 4.6 4.8 3.7 4.9 2.7 4.8 1.4M534.9 665.1l-4 0.1-3.3 1.3-2.3 2.4-1.2 3.4-0.1 4.2 1.1 4.7 2.3 4.9 3.2 4.8 4 4.4 4.5 3.7 4.8 2.6 4.6 1.5M534.4 664.2l-4.1 0.2-3.2 1.6-2.2 2.7-1.1 3.8 0.3 4.6 1.5 5.1 2.7 5.2 3.7 4.9 4.4 4.4 4.8 3.5 5 2.3 4.6 1.1M535.2 664.2l-4 0.3-3.2 1.5-2.1 2.8-1 3.8 0.3 4.6 1.5 4.9 2.7 5.1 3.6 4.8 4.3 4.2 4.7 3.4 4.8 2.3 4.5 1M536.2 665.2l-3.6 0.4-2.9 1.6-1.9 2.7-0.8 3.5 0.4 4.3 1.5 4.6 2.5 4.6 3.4 4.3 3.9 3.8 4.3 3 4.3 1.9 4.1 0.8M537.3 666.2l-3.5 0.3-2.8 1.4-1.9 2.5-0.8 3.3 0.3 4.1 1.4 4.4 2.4 4.5 3.3 4.3 3.9 3.8 4.2 3 4.4 2.1 2.1 0.5M539.4 665.5l-3.9-0.2-3.2 1-2.3 2.2-1.2 3.1-0.1 3.9 1 4.4 2 4.5 2.9 4.5 3.7 4 4.1 3.3 4.3 2.4 4.2 1.4M540.6 666.5l-3.6-0.2-3 0.9-2.1 2-1.2 2.9-0.2 3.7 0.9 4.1 2 4.3 2.8 4.2 5.4 5.5 4.1 2.6 4.1 1.7 1.9 0.5M540.1 667.2l-3.2 0.3-2.5 1.4-1.6 2.3-0.6 3.2 0.4 3.7 1.4 4 3.7 5.9 5.1 5 5.6 3.4 3.7 1M541.8 668.1l-3.1 0.1-2.4 1.1-1.6 2-0.8 2.7 0.1 3.2 1.9 5.5 3.6 5.3 4.7 4.4 5.2 2.9 3.3 0.9M543.2 669l-2.8-0.1-2.3 0.8-1.7 1.6-0.9 2.4-0.1 2.9 1.4 4.9 3 5 4.2 4.3 4.8 3.1 4.6 1.4M543.9 669.3l-2.7 0-2.2 0.9-1.4 1.6-0.8 2.3 0.4 4.4 2 4.7 3.4 4.5 4.2 3.5 4.4 2.1 1.4 0.3M544.8 671.1l-3.1 0.6-1.3 1.2-0.9 3 0.6 3.8 2 4 3 3.6 3.6 2.8 3.7 1.6 1.2 0.2M545.8 671.3l-3.1 0.4-1.4 1.1-1.1 2.8 0.4 3.6 1.8 4.1 3 3.8 3.8 3 3.8 1.7 1.3 0.2M547.1 671.5l-3.1 0.3-1.5 1-1.1 2.7 0.4 3.6 1.8 3.9 3 3.5 3.5 2.8 3.6 1.4 1.2 0.1M548 672.2l-2.7 0.2-1.8 1.6-0.5 2.6 0.6 3.2 1.8 3.3 3.7 3.8 3.1 1.9 2 0.6M548.8 673.4l-2.1 0.4-1.4 1.3-0.4 2.3 0.7 2.8 2.3 3.8 3.4 3 2.8 1.2 0.9 0.2M550 673.2l-2.4 0.1-1.6 1.1-0.7 2.2 0.5 2.7 2.1 3.9 3.4 3.3 3.7 1.7 0.9 0.2M550.4 673.3l-2.1 0.3-1.3 1.3-0.4 2 0.9 3.5 2.4 3.4 3.3 2.5 3.3 1.1M551.7 673.7l-2 0.1-1.4 1-0.6 1.8 0.7 3.2 2.1 3.2 3 2.6 3.2 1.2M552.4 673.8l-1.9 0.2-1.3 1.1-0.3 1.8 0.8 3.2 2.3 3 2.9 2.2 2.2 0.7M552.9 674.2l-1.7 0.3-1 1.2-0.2 1.9 1.2 3.1 2.5 3 3.1 1.7 0.7 0.2M553.4 673.7l-1.9 0.3-1.1 1.3-0.2 2.2 1.5 3.5 2.8 3.1 3.4 1.8 0.8 0.1M554.2 673.1l-2 0.1-1.3 1.2-0.4 2 1 3.4 2.4 3.3 3.3 2.3 1.7 0.6M554.4 672.6l-2.1 0.4-1.1 1.5-0.2 2.3 1.5 3.6 2.9 3.3 3.5 2 0.8 0.2M555.4 672.5l-2.1 0.2-1.4 1.2-0.4 2.1 1.1 3.6 2.7 3.4 3.5 2.4 1.7 0.6M555.4 671.6l-2.2 0.3-1.4 1.4-0.3 2.4 0.8 2.9 2.5 3.9 3.7 2.9 2.8 1M556.6 671.3l-2.2 0.1-1.6 1.1-0.6 1.9 0.6 3.5 2.3 3.7 3.3 2.9 3.4 1.4M556.9 671.3l-2.1 0.3-1.3 1.4-0.4 2.2 1.2 3.7 2.7 3.5 3.6 2.5 1.8 0.6M558.1 671.4l-2.1 0.1-1.4 1.2-0.5 2 0.9 3.4 2.4 3.4 3.3 2.5 2.5 0.8M558.7 671.8l-1.8 0.2-1.2 1.2-0.3 2 1 3.2 2.4 3.1 3.1 2.2 1.6 0.5M559.5 671.6l-1.9 0.2-1.3 1.1-0.4 1.9 1 3.2 2.3 3.2 3.1 2.3 2.4 0.6M560 671.6l-1.7 0.3-1.1 1.2-0.1 2.5 1.3 3.1 2.4 2.7 2.9 1.7 1.4 0.3M561.1 672l-2 0.3-0.8 1.2 0 2.4 1.8 3.4 3.1 2.6 1.9 0.7M561.9 672.3l-1.8 0.4-0.9 1.5 0.5 2.4 2 3.1 3.1 2.1 1.2 0.3M562.8 672.2l-1.8 0.3-0.9 1.4 0.3 2.3 1.8 3 2.9 2.1 1.7 0.5M563.6 672.2l-1.8 0.1-0.9 1.4 0.4 2.7 2 2.9 2.9 1.8 1.2 0.3M564.4 672.2l-1.8 0.2-0.8 1.4 0.6 2.7 2.1 2.7 2.8 1.6 0.5 0.1M564.9 672.3l-1.4 0.4-0.6 1.3 0.7 2.4 2.3 2.6 2.2 1M566 673l-1.4 0.4-0.3 1.5 1.2 2.4 2.3 1.8 0.8 0.3M566.8 672.7l-1.4 0.3-0.5 1.4 0.9 2.3 2.5 2.1 1.1 0.3M567.4 672.8l-1.1 0.4-0.3 1.3 1.3 2.5 2.1 1.3 0.7 0.2M568.4 672.9l-1.1 0.4-0.2 1.5 1.6 2.2 1.9 0.9M569.1 673.1l-0.9 0.3-0.1 1.4 1.4 1.9 1.7 0.7M569.8 673.1l-0.9 0.4 0.2 1.6 1.8 1.8 0.8 0.3M570.6 672.7l-1.1 0.4 0.1 1.6 1.8 1.9 1.1 0.3M571.3 672.8l-0.9 0.4 0.4 1.7 1.9 1.5 0.3 0M572 672.6l-0.8 0.4 0.1 1.4 1.6 1.6 0.9 0.3M572.8 672.4l-0.9 0.3 0.1 1.3 1.4 1.7 1 0.3M573.5 672.3l-0.9 0.5 0.5 1.5 1.8 1.3 0.2 0M574.2 672.4l-0.6 0.4 0.5 1.4 1.6 1M575 672.2l-0.7 0.3 0.5 1.4 1.5 1M575.7 672.1l-0.6 0.5 0.8 1.4 1.1 0.6M576.5 672l-0.7 0.3 0.8 1.5 1.1 0.5M577.2 671.8l-0.7 0.4 0.8 1.4 1.1 0.5M577.9 671.6l-0.6 0.3 0.8 1.5 1 0.4M578.5 671.5l-0.4 0.4 1 1.4 0.5 0.1M579.3 671.5l-0.3 0.4 0.9 1" fill="none" stroke="#ff0000" stroke-width="0.75" stroke-linejoin="round"/><path d="M444.2 714.5l0.8-0.1 0.8-0.3 0.8-0.3 0.9-0.2 0.1-0.1 0.7-0.2 0.8-0.3 0.8-0.2 0.9-0.3 1-0.2 0.1-0.1 0.7-0.2 0.8-0.3 0.8-0.3 0.9-0.3 0.8-0.2 0.8-0.2 0.1-0.1 0.7 0 0.1-0.2 0.7-0.1 0.1-0.2 0.7 0 0.1-0.2 0.7-0.2 0.2-0.1 0.8-0.1 0-0.2 0.7 0 0.1-0.2 0.6-0.2 0.8-0.2 0.9-0.3 0.8-0.3 0.9-0.2 0.9-0.3 0.8-0.3 0.9-0.1 0.1-0.2 0.7-0.3 1 0 0.2-0.3 0.7-0.2 0.4 0 0.5-0.4 0.9-0.1 0.1-0.1 0.7-0.1 0.2-0.2 0.7-0.1 0-0.1 0.8-0.1 0.2-0.2 0.8-0.1 0.1-0.2 0.9 0 0-0.3 0.9 0 0-0.3 0.7 0 0.1-0.2 0.8 0 0-0.2 0.7 0 0-0.3 0.8 0 0-0.2 0.7 0 0-0.2 0.8 0 0-0.3 0.8-0.1 0.3-0.2 0.6-0.3 0.9 0 0-0.2 0.8 0 0.1-0.3 0.8-0.1 0-0.1 0.8 0 0.1-0.3 0.8 0.1 0-0.4 0.8 0 0-0.2 0.9 0.1 0-0.4 0.9 0.1 0-0.4 0.9 0.1-0.1-0.3 0.9 0.1 0-0.4 0.8 0.1 0-0.3 0.8 0.1-0.1-0.3 0.8 0 0-0.3 0.9-0.1 0.1-0.2 0.9 0 0.1-0.4 0.8 0 0.1-0.2 0.7-0.2 0.1 0 0.7-0.2 0-0.1 0.8 0.1 0-0.3 0.8 0 0.1-0.3 0.6-0.2 0.8-0.1 0.1-0.2 0.9 0 0-0.2 0.7 0 0-0.3 0.8 0 0-0.2 0.8 0.1 0-0.4 0.9 0.1-0.4-0.6 0.9 0.5 0.2-0.7 0.8 0.4 0.1-0.8 0.7 0.5 0.2-0.7 1 0.5 0.1-0.8-0.5-0.1 1 0.9 0.4-0.6-0.7-0.8 0.3 1 1.2 0.2-0.1-1.1-0.8-0.4 0.5 1.1 1.2 0.3 0.2-1-1-0.9-0.1 0.7 1.3 1.1 0.9-0.3-0.2-1.3-1-0.6-0.1 0.8 1.4 1.2 0.9-0.3-0.1-1.3-1.2-0.9-0.3 0.7 1.3 1.4 1.2 0.1 0.2-1.1-1-1.1-0.2 0.7 1.3 0.8 0.5-0.7-0.9-1.1-0.4 0.4 0.9 1.5 1.5 0.4 0.7-0.8-0.6-1.8-1.7-1.2-1 0.3-0.2 1.3 1.4 2.2 2.4 1.3 1.4-0.2 0.7-1.2-0.5-2.3-2.1-2.6-2.3-0.9-1.4 0.6-0.4 1.7 0.9 2.5 2.3 2.5 2.8 1.1 1.7-0.4 0.9-1.4-0.5-2.7-1.9-2.6-2.4-1.4-1.6 0.2-0.6 1.3 0.7 2.3 2.3 3 2.7 1.5 2.2-0.2 1-1.1 0.4-1.9-1.1-3.4-2.8-3.6-2.9-2-3-1-2.7 0.5-1.2 1.2-0.7 1.8 0.3 3.8 2.1 4.5 2.4 2.9 4.5 3.3 3.1 1.1 2.7 0.2 2.3-0.7 1.5-1.6 0.7-2.4-0.1-2.8-1.8-4.7-3.3-4.3-4.1-3.2-4.1-1.4-2.3 0.2-1.7 1-1 1.8-0.2 2.3 1.1 4.1 2.6 4 3.6 3.2 3.8 1.8 3.3 0.3 1.8-0.6 1.2-1.4 0.6-3-0.9-3.9-2.4-4-3.5-3.4-3.8-2.2-3.6-0.5-1.9 0.7-1.4 1.4-0.7 2.1 0.5 4 2.1 4.5 3.5 4.1 4.3 3.2 4.4 1.5 2.6-0.1 2.1-0.9 1.3-1.6 0.7-3.5-0.9-4.2-2.2-4.4-3.4-4.1-4-3.1-4.1-1.7-3.7-0.2-2 0.9-1.4 1.5-0.7 2.1 0.2 4.1 1.7 4.6 3.2 4.6 4.1 3.9 4.6 2.6 4.4 1.1 2.8-0.4 2.3-1.4 1.4-2.3 0.5-3.1-0.5-3.7-1.5-3.9-4-5.9-5.3-4.7-3.8-2.2-3.8-1.2-3.4 0.1-2.8 1.1-1.9 2.3-0.9 3.3 0.3 4 1.4 4.4 2.5 4.5 3.4 4.4 4 3.7 4.5 3 4.5 1.8 4.3 0.6 3.7-0.7 1.5-0.9 1.2-1.2 1.2-3.5-0.1-4.2-1.2-4.6-2.2-4.7-3.1-4.4-3.8-3.8-4-3-4.1-1.9-3.7-0.8-3.2 0.4-2.4 1.5-1.5 2.3-0.4 3.1 0.5 3.6 2.5 5.5 4 5 4.8 3.6 4.6 1.7 2.7-0.1 2-0.9 1.4-1.7 0.7-4.3-0.5-3.5-1.8-4-2.9-3.9-3.9-3.2-4.2-2.1-4-0.4-2.3 0.8-1.6 1.6-1 2.4-0.1 3.1 0.8 3.5 2.9 5.9 4.7 5.5 3.8 3 4.1 2.3 4.1 1.2 3.7 0 3.2-1.2 2.2-2.5 0.8-1.6 0-4.2-1.2-4.7-2.3-4.7-3.1-4.4-3.8-3.9-4.1-3.1-4.1-2.1-3.9-0.9-3.4 0.2-2.7 1.3-1.8 2.2-0.8 3.1 0.2 3.7 1.2 4 3.4 5.9 4.8 5.2 5.4 3.7 3.6 1.4 3.3 0.4 2.8-0.6 2.2-1.4 1.4-2.3 0.5-3-0.5-3.8-1.6-3.9-3.9-5.7-5-4.4-3.5-1.9-3.3-0.9-2.9 0.1-2.2 1.2-1.4 2.1-0.5 2.7 0.5 3.2 2.3 5.1 3.7 4.7 4.6 3.3 4.5 1.6 2.6-0.1 2-0.9 1.4-1.8 0.5-2.3-0.7-4.3-2.7-5.3-3-3.4-3.5-2.6-3.6-1.4-3.2 0-2.4 1.4-1.2 2.8 0.3 3.8 1.7 4.3 3 4.2 4 3.6 4.4 2.4 4.2 0.8 2.5-0.5 1.9-1.3 1.2-2 0.5-2.7-0.4-3.2-1.9-3.9-4.2-5.1-4.8-3.6-3.2-1.1-2.7-0.2-2.1 0.8-1.4 1.7-0.4 2.3 0.9 4.2 2.5 4.1 3.5 3.2 3.7 1.7 3.1 0.1 1.6-0.8 1-1.5 0.1-3.2-1.6-3.9-2.9-3.7-3.6-2.4-2.9-0.5-2.2 0.8-1.2 1.9 0 2.7 1.1 3.2 3 3.9 3.7 2.9 2.9 1.3 2.8 0.1 2-1.1 1.1-2.4-0.1-3.2-1.5-3.7-2.6-3.6-3.5-3.1-4-1.8-2.6-0.2-2.1 0.7-1.5 1.7-0.6 2.3 0.3 2.9 2 4.9 3.6 4.6 4.7 3.5 3.2 1.4 3 0.4 2.6-0.6 1.9-1.6 1-2.5 0-3.1-0.9-3.6-3.1-5.4-4.6-4.8-3.5-2.2-3.5-1.4-3.2-0.2-2.6 0.8-1.5 2.1-0.5 2.7 0.3 3.2 2.1 5.1 3.5 4.7 4.4 3.6 4.4 2 2.7 0.3 2.2-0.5 1.7-1.2 0.9-1.9 0.2-3.6-1.4-4-2.6-3.9-3.2-3-3.4-1.8-3.1-0.5-2.2 0.9-1.2 1.8-0.3 2.5 1.2 3.9 2.8 3.9 3.7 3.1 3 1.3 2.7 0.2 2.2-0.9 1.3-1.9 0.2-2.9-0.9-3.3-2.9-4.6-3-2.8-3.4-2-3.3-0.7-1.9 0.5-1.4 1.5-0.5 2.2 0.6 4 2.2 4.2 3.5 3.6 3.8 2.3 3.6 0.6 1.9-0.6 1.3-1.3 0.6-1.9-0.4-3.7-2-3.9-3.1-3.3-3.6-2.2-3.3-0.5-1.7 0.6-1.2 1.4-0.3 3.1 1.1 3.5 2.3 3.4 3.1 2.8 3.4 1.7 3 0.3 2.3-1.2 1-2.4-0.3-3.2-1.6-3.5-2.6-3.2-3.2-2.3-3.1-1-2.6 0.4-1.5 1.7-0.2 2.8 1.1 3.3 2.2 3.4 3 2.8 3.4 1.8 3.1 0.3 2.3-1.1 1-2.5-0.3-3.4-1.8-3.7-2.8-3.4-3.4-2.4-3.4-1.1-2.8 0.6-1.2 1.2-0.7 2.9 0.9 3.7 2.3 3.8 3.3 3.3 3.4 1.8 3 0.4 2.3-0.9 1.2-1.9 0.1-2.7-1.5-3.9-2.7-3.4-3.2-2.2-2.9-0.5-1.5 0.7-0.8 1.4 0.1 2.6 1.9 3.5 3.3 2.9 2.9 0.9 1.7-0.4 0.9-1.2 0.1-2.5-1.3-2.8-2.8-2.7-2.3-0.9-1.7 0.5-0.7 1.6 0.8 2.8 2.2 2.5 2.7 1.5 1.9-0.1 1.1-1.2-0.2-2.5-1.7-2.7-2.3-1.7-2.2-0.2-0.9 1 0.2 2.3 1.9 2.8 2.7 1.8 2 0.1 1.2-1.1 0.1-2.1-1.5-2.8-2.5-2-2-0.3-1 0.7-0.2 1.9 1.5 2.9 2.8 2.1 1.8 0.4 1.2-0.6 0.5-1.8-1.1-2.6-2.3-1.9-1.6-0.1-0.5 1.3 0.9 2.2 2.3 1.7 1.5 0 0.7-1-0.5-2.1-2-2-1.5-0.3-0.8 0.8 0.4 1.8 2 2 1.7 0.4 1-0.8-0.4-2-1.6-1.4-1.2-0.2-0.3 1 0.9 1.9 1.6 1 1.4-0.3 0.3-1.4-1-2-1.7-1-1.1 0.3-0.1 1.5 1.7 2.2 2 1 1.2-0.4 0.4-1.5-1.1-2.1-1.8-1.2-1 0.4 0.1 1.7 1.5 1.8 1.9 0.6 1-0.9-0.4-1.9-1.8-1.7-1.3 0-0.3 1.1 1.3 2 1.9 0.8 1-0.7-0.3-1.6-1.5-1.3-0.7 0.4 0.7 1.5 1.6 0.7 0.5-0.8-0.7-1.4-0.8 0 0.5 1.2 1.4 0.7 0.7-0.6-0.6-1.6-1.2-0.6-0.3 0.9 1.3 1.6 1.4 0.2 0.4-1-1-1.7-1-0.1 0.1 1.2 1.5 1 0.8-0.3-0.4-1.4-0.8-0.2 0.6 1.1 1.1 0-0.2-1.1-0.6 0 0.9 1.1 1.1-0.1-0.2-1.3-1.2-0.7-0.1 0.9 1.5 1.3 0.9-0.3-0.3-1.5-1.1-0.5-0.2 0.8 1.3 1.3 1.2 0 0.2-1.1-1.2-1.5-1.1-0.2-0.1 1.2 1.4 1.5 1.4 0.2 0.4-0.9-0.9-1.6-0.9-0.2 0.3 1.2 1.3 0.6 0.4-0.8-0.9-1-0.3 0.4 1.1 1.1 1-0.2-0.4-1.4-0.8-0.2 0.5 1.2 1.2 0.3 0.2-0.9-0.7-0.6 0.8 0.9 0.7-0.3-0.6-1 0 0.6 1.3 0.9 0.7-0.6-0.7-1.5-1.1-0.3 0 1.1 1.6 1.3 1-0.3-0.3-1.4-1-0.6 0.2 1 1.3 0.6 0.4-0.8-0.9-0.9 0 0.7 1.2 0.7 0.4-0.8-0.7-0.7 0.6 1 1 0.1-0.1-1.2-1-0.5 0.3 1.2 1.5 0.6 0.5-0.7-0.8-1.4-0.7 0.1 0.8 1.4 1.3 0.2 0.2-1.1-1-0.8 0.1 0.9 1.4 0.6 0.4-0.8-0.9-0.9 0.2 0.9 1.3 0.6 0.5-0.7-0.9-1.2-0.5 0.3 0.9 1.2 1.1 0-0.2-1.2-0.9-0.4 0.5 1.1 1.1 0.2 0-1.1-0.8-0.3 0.6 1.1 1.1 0-0.1-1.1-0.9-0.4 0.5 1.1 1 0.1-0.1-0.9-0.3 0 1 0.5 0.1-0.8-0.2 0.1 1 0.5 0.2-0.8-0.6-0.3 0.9 1 0.8-0.3-0.5-1.1-0.5 0.2 1 1 0.8-0.4-0.6-0.9 0.8 0.9 0.7-0.4-0.6-1-0.4 0.4 1.2 1 0.7-0.4-0.6-1.2-0.6 0.1 0.8 1.1 1 0-0.1-1.1-0.8-0.3 0.7 1 1 0-0.3-1.2-0.5 0 0.8 1.1 0.9-0.2-0.4-1.2-0.5 0.1 0.9 1.1 0.8-0.3-0.5-1.2-0.3 0.3 1.1 0.9 0.5-0.5-0.6-0.9 0.6 0.9 0.7-0.2-0.5-0.8 0.7 0.8 0.6-0.3-0.5-0.9 0.1 0.7 1.2 0.4 0-1-0.6-0.2 0.9 0.7 0.3-0.7-0.3 0 1.1 0.5 0.1-0.8-0.4 0 1 0.5 0.2-0.6" fill="none" stroke="#0000ff" stroke-width="0.75" stroke-opacity="1.0" stroke-linejoin="round"/><path d="M444.2 714.3l-0.1-0.1M444.9 714.5l0.3-0.3M445.3 714.3l0.3-0.4-0.1 0M446.1 714.3l0.2-0.5-0.1-0.1M446.7 714.1l0.3-0.5-0.2-0.2M447.4 714.1l0.3-0.6-0.3-0.3M448 713.7l0.3-0.5-0.2-0.2M448.8 713.7l0.4-0.5-0.4-0.5M449.4 713.3l0.3-0.6M450.2 712.9l0.2-0.5M451 712.9l0.3-0.6-0.2-0.2M451.7 712.7l0.3-0.6-0.1-0.2M452.5 712.2l0.2-0.4M453.1 712l0.3-0.5-0.1-0.1M453.9 712l0.4-0.5-0.3-0.4M454.6 711.8l0.3-0.5-0.3-0.3M455.2 711.5l0.1-0.5M455.8 711.2l0.2-0.5M456.4 710.8l0.1 0M456.8 710.8l0.2-0.1M457.1 710.7l0.5-0.3-0.4-0.5M458 710.9l0.3-0.6-0.3-0.4M458.6 710.5l0.5-0.4-0.4-0.6M459.4 710.5l0.5-0.5-0.5-0.7M460.1 710.2l0.5-0.4-0.6-0.9M460.9 710.2l0.5-0.6-0.7-0.9M461.5 710l0.5-0.4-0.6-1M462.1 709.5l0.4-0.5-0.4-0.6M462.9 709.6l0.5-0.4-0.7-1M463.3 709l0.2-0.6-0.1-0.1M464.1 708.9l0.6-0.4-0.6-0.8M464.7 708.5l0.1-0.4M465.4 708.2l0.3-0.4-0.2-0.3M466.2 708.4l0.6-0.5-0.7-0.9M467 708.2l0.4-0.5-0.5-0.8M467.5 707.8l0.4-0.5-0.3-0.4M468.1 707.5l0.2-0.6M468.8 707.1l0.3-0.4-0.1-0.2M469.7 707.2l0.4-0.5-0.6-0.7M470.5 707.6l0.7-0.4-0.5-1.4-0.6-0.4M471.1 707.3l0.7-0.4-0.7-1.4-0.3-0.1M471.7 706.7l0.3-0.7-0.3-0.3M472.4 705.9l0.1-0.4M473.1 706.4l0.8-0.3-0.5-1.2-0.5-0.2M473.6 705.8l0-0.5M474 705.5l0.4-0.6 0-0.1M474.9 705.4l0.3-0.6-0.2-0.1M475.7 705.4l0.7-0.3-0.7-1.3-0.2-0.1M476.7 705.9l0.8-0.4-0.5-1.5-1-0.6M477.2 705.5l0.8-0.5-0.7-1.5-0.6-0.3M477.9 705.6l0.9-0.5-0.4-1.5-1.1-0.8M478.5 705.2l0.8-0.4-0.4-1.3-0.8-0.6M479 704.5l0.4-0.6-0.5-0.7M479.8 704.7l0.9-0.3-0.3-1.5-1.1-0.9M480.7 705.4l1.3-0.4 0.1-1.4-1.4-2-1.1-0.7M481.5 705.3l1-0.5-0.1-1.6-1.5-1.5-0.3-0.1M481.8 704.3l1-0.4-0.3-1.6-1.3-1M482.7 704.5l1-0.5-0.3-1.6-1.4-1.1M483.3 703.8l0.9-0.3-0.2-1.6-1.5-1.3M484.5 704.8l1.1-0.5 0.1-1.6-1.4-2.1-1.4-0.6M484.9 704.3l1.1-0.6 0.1-1.4-1.3-1.8-1.2-0.6M485.7 704.3l1.1-0.4 0.3-1.4-1.3-2.1-1.6-0.8M486.1 703.7l1.1-0.5-0.1-1.6-1.7-1.8-0.4-0.2M487.2 704.3l1.4-0.3 0.6-1.4-1.1-2.5-2.3-1.8-0.7-0.2M487.6 703.6l1-0.7-0.3-1.8-1.5-1M487.8 702.2l0.7-0.6-0.7-1.4-0.5-0.2M488.4 701.9l0.7-0.5-0.8-1.4-0.4-0.3M489.2 702.2l0.9-0.4-0.3-1.5-1.5-1.3M490 702.8l1.4-0.3 0.2-1.3-1.3-2.1-1.5-0.6M490.3 701.5l0.6-0.6-0.9-1.4-0.1 0M490.9 701.1l0.7-0.4-0.5-1.4-0.8-0.5M491.8 701.6l1.1-0.3 0.1-1.4-1.5-2-0.8-0.5M492.8 702.8l1.6-0.2 0.7-1.3-0.7-2.4-1.9-2.1-1.5-0.7M493.9 703.1l1.5-0.5 0.5-1.5-0.7-2.3-2.2-2.1-1.3-0.4M493.8 700.4l0.9-0.4-0.4-1.5-0.8-0.4M494.6 699.7l0.1-0.6-0.2-0.1M494.7 699.2l0.3-0.5-0.3-0.3M495.4 699.2l0.5-0.3-0.4-0.4M495.6 698.6l0.4-0.2-0.5-0.7M496.5 699.5l0.6-0.6-0.8-1.2-0.2-0.1M497 699.4l1.1-0.3-0.2-1.9-1.6-1.6-0.2-0.2M499.2 703.1l2.2 0.1 1.2-1.4 0.1-2.3-1.3-2.9-2.3-2.5-2.5-1.2-0.6 0M499.1 700.8l1.2-0.7-0.1-1.8-2-2.1-0.3-0.1M499.2 698.9l0.7-0.6-0.7-1.4-0.5-0.3M500.3 699.9l1.5-0.1 0.6-1.4-0.7-2.2-2-2.1-1.5-0.7M501.2 701l1.6-0.4 0.7-1.3-0.6-2.4-1.8-2.1-2-0.9M501.5 699.9l1.6-0.4 0.4-1.5-1.1-2.4-2.2-1.6-0.4-0.1M502.5 699.8l1.2-0.6 0.1-1.8-1.4-2.1-1.5-0.7M502.6 698.1l0.9-0.5-0.2-1.6-1.6-1.4-0.2-0.1M503.5 699l1.5-0.2 0.6-1.3-1-2.4-2.1-1.9-0.7-0.3M504.9 700.2l1.7-0.3 0.8-1.3-0.4-2.6-2.3-2.4-2.2-0.7M504.4 697.1l0.4-0.9-0.9-1.4-0.3-0.1M505.1 697.6l1.1-0.4 0-1.6-1.6-2-0.8-0.3M505.9 697.9l2 0.1 0.8-1-0.1-2-1.6-2.7-2.9-2.3-0.6-0.3M508.5 702l2-0.3 1.3-1.3 0.4-2.1-1-3.4-2.4-3.2-3.1-2.2-1.5-0.4M508.7 700.3l1.5-0.5 0.8-1.3-0.2-2.3-1.9-3-2.5-1.6-0.9-0.1M508.1 697.4l1-0.6-0.1-1.7-1.4-1.5-0.7-0.2M508 695.3l0.9-0.5-0.7-1.4-0.5-0.4M509.7 697.3l1.1-0.5 0.2-1.7-1.4-2-1.3-0.7M510.1 696.1l0.7-0.7-0.5-1.6-1-0.6M510.4 695.5l1.2-0.2 0-1.5-1.7-2.2-0.9-0.5M512.1 698.7l2.1 0.1 1.5-1.2 0.3-2.2-1.1-2.9-2.3-2.6-2.7-1.6-1.3-0.3M512.5 697.5l1.4-0.4 0.6-1.6-0.9-2.3-2-1.7-0.7-0.2M512.9 696.2l1.6-0.3 0.4-1.3-0.7-2.1-2.2-2-0.7-0.1M513.3 695l0.8-0.5-0.2-1.4-1.2-0.9M513.7 693.9l0.6-0.6-0.8-1.1-0.1-0.1M514.2 693.4l0.4-0.6-0.3-0.3" fill="none" stroke="#ff0000" stroke-width="0.75" stroke-linejoin="round"/><path d="M506.1 695.3l0.1-0.2M506.8 695.5l0.4-0.4-0.5-0.7M507.6 695.8l0.7-0.4-0.6-1.4-0.4-0.2M508.5 696.1l0.9-0.4-0.2-1.4-1.4-1.2M509.4 696.3l1-0.4-0.1-1.5-1.4-1.7-0.7-0.3M510.2 696.6l1.1-0.3 0.4-1.5-1.3-2.2-1.7-1M510.8 696.7l1.4-0.3 0.4-1.3-0.9-2.1-2.1-1.6-0.3-0.1M511.9 697.1l1.7-0.3 0.6-1.6-0.8-2.3-1.9-2.2-1.9-1M513.4 698.8l2-0.4 1-1.6-0.2-2.5-2-3.4-3.1-2.4-1.3-0.4M514.2 699.4l1.8-0.1 1.3-1 0.6-1.7-0.5-2.9-1.8-3.1-2.8-2.5-3-1.3M514.9 700.4l2.4 0.1 1.7-1 0.9-1.9-0.1-2.6-1.7-3.8-3.1-3.5-3.6-2.2-0.9-0.3M516.9 701.5l2.5-0.3 1.7-1.5 0.7-2.4-0.5-3.1-2.3-4.3-3.7-3.7-3.1-1.8-2-0.5M517.2 702.2l3.1-0.1 2.1-1.4 1-2.7-0.4-3.4-1.7-3.8-2.8-3.5-3.4-2.8-3.6-1.6-1.1-0.2M519.1 703.8l2.5 0 2.1-0.7 1.5-1.5 0.9-2.2-0.3-4.3-2-4.8-3.4-4.7-4.5-3.7-4.8-2.2M521.2 707.4l3.4 0 2.8-1.1 2-2.1 1-3-0.1-3.6-1-4.1-3.4-6.2-5-5.7-3.9-3-4.1-2.1-4-1.1M521.9 710.4l4.2 0.5 3.7-1 2.7-2.1 1.6-3.4 0.3-4.2-0.9-4.9-2.2-5.2-3.3-5.2-4.1-4.7-4.8-3.9-5-2.9-5-1.5M525.3 713.5l4.6-0.1 2-0.6 1.8-1 1.5-1.3 1.1-1.7 0.9-2 0.6-4.7-0.9-5.4-2.2-5.8-3.5-5.8-4.4-5.4-5.2-4.6-5.6-3.5-5.5-2.1-2.7-0.5M526.4 715.7l2.9 0.2 2.6-0.2 2.3-0.7 2.1-1.2 1.7-1.5 1.3-2 0.9-2.3 0.5-2.7 0.1-2.9-1.2-6.4-2.9-6.8-4.4-6.7-5.5-6.1-6.2-5-6.6-3.5-3.2-1.1-3.1-0.6M528.7 718.4l3.1 0.2 2.7-0.3 2.5-0.8 2.1-1.2 1.8-1.6 1.5-2 1-2.4 0.6-2.7 0.2-3-0.9-6.5-2.6-7.1-4-7.1-5.3-6.6-6.3-5.8-6.7-4.5-6.8-2.9-3.2-0.8M530.6 721.3l3.2 0.2 3-0.3 2.7-0.8 2.4-1.2 2.1-1.8 1.6-2.1 1.2-2.6 0.8-2.9 0.3-3.2-0.1-3.5-0.7-3.6-2.6-7.8-4.5-8.1-6-7.6-7-6.5-7.5-5.1-3.8-1.9-3.8-1.4-3.7-0.8M530.1 721.7l3.5 0.3 3.3-0.1 3-0.7 2.6-1.2 2.3-1.7 1.8-2.2 1.4-2.6 0.9-3 0.4-3.4-0.1-3.6-0.6-3.8-1.1-4-3.5-8.2-5.2-8-6.5-7.4-7.4-6.1-3.9-2.5-3.8-2-3.9-1.5-3.7-1.1M532.5 721.4l3.3 0.2 3-0.4 2.8-0.8 2.4-1.3 2.1-1.8 1.7-2.1 1.2-2.6 0.9-2.9 0.3-3.2-0.1-3.5-0.5-3.7-2.5-7.8-4-7.8-5.5-7.6-6.6-6.7-7.2-5.5-7.4-4-3.7-1.5-3.7-1M535.2 727.3l4.3 0.5 4.1-0.1 3.7-0.7 3.4-1.4 3-2 2.4-2.7 1.9-3.2 1.3-3.7 0.6-4.3 0-4.6-0.6-5-1.3-5.3-2-5.4-2.5-5.5-3.2-5.6-3.7-5.4-4.2-5.3-4.6-4.9-4.9-4.6-5.3-4.2-5.4-3.6-5.5-3.1-5.5-2.3-5.5-1.7M538.1 741.3l6.2 1.1 5.7 0.1 5.4-0.7 4.9-1.6 4.2-2.5 3.6-3.3 2.8-4 2-4.8 1.2-5.5 0.4-6-0.5-6.4-1.3-6.9-2.2-7-3-7.3-3.8-7.2-4.5-7.2-5.1-7-5.7-6.6-6.1-6.2-6.6-5.7-6.8-5-7-4.4-7-3.5-6.9-2.7-6.8-1.8M545.3 751.5l7 0.7 6.6-0.2 6-1.3 5.4-2.2 4.5-3.4 3.7-4.4 2.7-5.2 1.8-5.9 0.9-6.6-0.1-7.1-1.2-8.1-2.3-8.3-3.3-8.6-4.2-8.6-5-8.4-5.9-8.2-6.5-7.8-7-7.2-7.5-6.5-7.7-5.8-7.9-4.9-8-4-7.8-3-7.5-1.9M543.5 747l6.9 0.7 6.3-0.4 5.8-1.4 5.2-2.3 4.4-3.4 3.5-4.2 2.7-5.1 1.7-5.9 0.7-6.5-0.2-7.1-1.3-7.5-2.2-7.9-3.1-8-4-8.1-4.9-7.9-5.6-7.8-6.2-7.3-6.8-6.9-7.2-6-7.5-5.4-7.6-4.4-7.5-3.6-7.4-2.5-7-1.5M542.7 742.3l6.3 0.5 5.9-0.4 5.2-1.4 4.7-2.3 3.9-3.2 3.1-4.1 2.2-4.8 1.4-5.5 0.5-6.1-0.5-6.6-1.4-6.9-2.2-7.2-3.1-7.2-3.9-7.3-4.6-7.1-5.1-6.8-5.8-6.5-6.1-5.9-6.5-5.4-6.8-4.6-6.8-3.9-6.8-3-6.6-2.2-6.4-1.1M543 736.5l5.3 0.1 4.8-0.8 4.3-1.5 3.7-2.3 3.1-3 2.4-3.6 1.7-4.3 1-4.8 0.2-5.2-0.5-5.6-1.3-5.8-2-6-2.6-6.1-3.2-6-3.8-5.9-4.3-5.7-4.7-5.4-5.1-5-5.4-4.5-5.5-4-5.6-3.3-5.7-2.7-5.5-2-5.3-1.2M539.2 730.8l5.1 0.5 4.8-0.3 4.3-1.1 3.7-1.9 3.1-2.6 2.4-3.3 1.7-3.9 1-4.5 0.3-4.9-0.5-5.3-1.2-5.5-1.9-5.7-2.6-5.7-3.2-5.7-3.7-5.5-4.2-5.3-4.6-4.9-4.9-4.5-5.1-3.9-5.2-3.4-5.2-2.8-5.2-2.1-5-1.4-4.8-0.6M538.2 725.9l4.4 0.4 4-0.2 3.6-0.9 3.2-1.6 2.8-2.1 2.1-2.7 1.6-3.2 1-3.6 0.4-4.1-0.2-4.3-0.8-4.6-1.3-4.8-2-4.8-2.4-4.9-3-4.8-3.4-4.7-3.7-4.4-4.1-4.1-4.3-3.7-4.4-3.3-4.6-2.7-4.5-2.2-4.4-1.6-4.3-1M536.6 721.8l3.8 0.5 3.6 0 3.3-0.6 2.9-1.2 2.5-1.7 2.1-2.1 1.6-2.7 1.1-3 0.5-3.4 0.1-3.7-0.4-3.9-1-4.1-1.4-4.2-1.9-4.3-5.1-8.4-6.5-7.7-7.4-6.6-4-2.8-4-2.2-3.9-1.9-3.9-1.3-3.8-0.7M537.4 720.4l3.5 0.5 3.3-0.1 3-0.5 2.8-1.1 2.3-1.5 2-2 1.5-2.4 1.1-2.8 0.6-3.2 0.2-3.4-0.4-3.7-0.8-3.9-3-8-4.7-8.1-6-7.5-7.1-6.5-7.6-5.2-3.8-1.9-3.8-1.4-3.7-1M540.8 721.1l3.5 0 3.3-0.5 3-1 2.5-1.6 2.1-2.1 1.6-2.6 1.1-3.1 0.6-3.4 0-3.7-0.5-4.1-1-4.1-1.6-4.4-2.1-4.3-2.5-4.3-6.1-8.2-3.6-3.8-3.8-3.4-4-3-4.1-2.6-4.1-2.1-4.1-1.6-3.9-1.1M541.2 721.3l3.7 0.1 3.3-0.5 3-1.1 2.5-1.6 2.1-2.2 1.7-2.6 1.1-3.1 0.5-3.4 0-3.7-0.5-4-1-4.2-1.6-4.3-2-4.3-2.5-4.2-6.1-8.1-7.2-7.1-3.9-2.9-4-2.6-4-2-3.9-1.6-3.9-1M539.7 718.6l3.5 0.3 3.2-0.3 2.9-0.9 2.5-1.3 2.1-1.8 1.6-2.3 1.2-2.7 0.7-3.1 0.2-3.4-0.3-3.6-0.8-3.8-1.3-4-3.9-7.9-5.4-7.7-6.7-6.8-7.3-5.5-3.7-2-3.8-1.7-3.6-1.1-3.5-0.5M539.7 716.7l3.3 0.3 3.1-0.3 2.8-0.8 2.4-1.3 2-1.7 1.6-2.2 1.1-2.6 0.7-3 0.1-3.2-0.3-3.5-0.8-3.7-2.9-7.6-4.6-7.5-5.9-6.9-6.7-5.8-7.1-4.3-3.5-1.5-3.5-1-3.2-0.5M539.8 716l3.2 0.3 3.1-0.1 2.8-0.6 2.4-1.1 2.1-1.6 1.7-2 1.2-2.4 0.8-2.8 0.4-3-0.1-3.4-0.6-3.5-2.5-7.5-4.2-7.5-5.5-7.1-6.5-6.1-7.1-4.8-7.1-3-3.4-0.9M542.9 717l3.1 0.1 2.8-0.4 2.6-0.9 2.2-1.3 1.9-1.7 1.4-2.1 1.1-2.5 0.7-2.8 0.2-3.1-0.2-3.3-1.7-7-3.2-7.4-4.7-7.1-5.7-6.5-6.5-5.5-6.9-4.2-6.7-2.5-3.2-0.6M541.4 716.4l3.2 0.4 3-0.1 2.7-0.6 2.4-1 2.2-1.5 1.7-1.9 1.4-2.4 0.9-2.6 0.4-3.1 0-3.2-0.5-3.5-2.2-7.4-3.9-7.4-5.2-7.1-6.3-6.3-6.8-5-7-3.4-3.4-1.1-3.3-0.5M542.8 714.9l3 0.1 2.9-0.3 2.5-0.8 2.2-1.3 1.9-1.7 1.4-2.1 1.1-2.5 0.6-2.8 0.1-3-0.3-3.4-1.9-7-3.6-7.2-4.9-6.9-5.7-6-6.4-4.9-6.6-3.5-6.3-1.9M544.6 714.7l3 0 2.7-0.5 2.4-0.9 2.1-1.3 1.8-1.8 1.3-2.2 1-2.5 0.5-2.9 0-3.1-0.3-3.3-2.1-7.1-3.6-7.2-5.1-7-6-6.1-6.7-5-6.9-3.4-3.3-1.1-3.2-0.6M543.2 714.7l3.2 0.3 3.1-0.1 2.8-0.7 2.4-1.2 2.1-1.6 1.6-2.1 1.2-2.5 0.7-2.9 0.3-3.2-0.3-3.4-0.7-3.6-2.9-7.6-4.4-7.6-5.9-7-6.7-5.9-7.2-4.3-3.6-1.6-3.5-1-3.3-0.5M544.4 714.6l3.1 0.2 2.9-0.3 2.6-0.7 2.3-1.2 1.9-1.7 1.5-2 1.2-2.4 0.6-2.7 0.3-3-0.2-3.3-1.7-6.9-3.3-7.2-4.7-7-5.8-6.2-6.5-5.2-6.7-3.7-6.5-2M543.3 712.8l3.1 0.4 2.8 0 2.6-0.5 2.4-0.9 2-1.4 1.6-1.7 1.3-2.2 0.9-2.6 0.4-2.9-0.1-3.2-0.5-3.4-2.4-7.2-4-7.1-5.3-6.7-6.2-5.7-6.6-4.4-6.7-2.6-3.1-0.7M544.3 711.4l3 0.3 2.7-0.2 2.5-0.7 2.1-1.1 1.8-1.5 1.5-2 1-2.3 0.6-2.6 0.1-2.8-0.9-6.4-2.6-6.8-4.1-6.6-5.2-6.1-6-5.1-6.3-3.9-6.4-2.2M544.7 710.7l3 0.4 2.7-0.2 2.5-0.6 2.2-1.1 1.9-1.5 1.4-1.9 1.1-2.3 0.6-2.7 0.2-2.9-0.3-3.2-1.9-6.7-3.5-7-4.9-6.6-5.9-5.7-6.5-4.6-6.5-2.9-3.2-0.7M547.1 711.3l2.8 0.1 2.5-0.4 2.3-0.8 2-1.2 1.7-1.6 1.3-2 0.9-2.2 0.5-2.6-0.2-5.9-1.8-6.4-3.3-6.6-4.5-6.4-5.4-5.6-6-4.6-6.2-3.1-6-1.6M546.2 710.4l2.9 0.2 2.7-0.1 2.4-0.6 2.2-1.1 1.8-1.5 1.4-1.8 1.1-2.3 0.6-2.5 0.2-2.8-0.8-6.3-2.6-6.8-4-6.7-5.1-6.2-6-5.2-6.4-3.9-6.2-2.3-3-0.4M547.6 710.7l3 0.2 2.7-0.2 2.4-0.7 2.1-1.2 1.8-1.6 1.4-2 1-2.3 0.5-2.7 0.2-3-0.4-3.1-1.9-6.8-3.5-6.9-4.9-6.5-5.8-5.6-6.2-4.3-6.3-2.9-3-0.7M547.4 708.5l2.6 0.2 2.5-0.3 2.2-0.7 1.9-1.1 1.6-1.4 1.2-1.8 0.8-2.2 0.5-2.4-0.2-5.4-1.7-6-3.1-6.1-4.3-5.8-5-5-5.6-3.9-5.5-2.6-5.3-1.1M548.2 706.8l2.5 0.1 2.3-0.3 2.1-0.7 1.7-1.2 1.5-1.4 1.1-1.9 0.7-2.1 0.4-2.4-0.4-5.4-1.9-6-3.3-5.9-4.4-5.7-5.3-4.8-5.6-3.7-5.6-2.2-2.7-0.6M548 706.8l4.9 0 2.1-0.5 1.9-1 1.5-1.3 1.3-1.7 0.8-2 0.7-4.7-0.7-5.4-2.2-5.8-3.4-5.8-4.4-5.3-5.1-4.5-5.4-3.4-5.3-2-2.6-0.5M549.4 705.6l4.4-0.3 1.9-0.7 1.6-1.1 1.3-1.3 1.1-1.7 1.1-4.1-0.4-5-1.6-5.5-2.9-5.5-3.9-5.2-4.7-4.5-5-3.5-5.1-2.3-2.5-0.7M548.2 703.7l4.3 0 3.5-1.3 1.4-1.1 1.9-3.1 0.7-4.1-0.6-4.7-1.8-5.1-2.9-5-3.8-4.7-4.4-4-4.8-3.1-4.6-1.9-2.2-0.5M548.5 703.1l4.2 0.2 3.6-1 2.6-2.3 1.5-3.4 0.3-4.2-0.9-4.8-2.1-5-3.1-5-4-4.6-4.5-3.8-4.8-2.9-4.7-1.7-2.2-0.4M550.8 703.6l4.2-0.3 3.3-1.6 1.2-1.3 1.7-3.3 0.4-4.3-0.9-4.9-2-5.1-3.2-5.1-4-4.6-4.5-3.9-4.8-2.9-4.7-1.7-2.3-0.4M551.3 702.9l4-0.4 3.2-1.6 2.1-2.8 0.9-3.8-0.3-4.5-1.5-4.8-2.6-5-3.5-4.6-4.1-4-4.5-3.2-4.5-2.1-4.3-0.9M551.4 700.7l3.5-0.3 2.8-1.6 1.9-2.5 0.8-3.4-0.4-4-1.3-4.4-2.2-4.4-3.2-4.3-3.7-3.7-4.1-3-4.2-2-4-0.9M550.3 700.4l3.9 0.3 3.3-0.9 2.4-2.1 1.5-3 0.3-3.9-0.9-4.4-1.9-4.7-3-4.6-3.6-4.1-4.2-3.5-4.4-2.6-4.3-1.4M550.9 700l3.8 0.2 3.2-1 2.3-2.1 1.3-3 0.2-3.7-0.9-4.3-1.9-4.4-2.7-4.3-5.4-5.7-4.1-2.8-4.1-1.9-2-0.5M551.7 698.7l3.6 0 2.8-1.1 2.1-2.2 1-3.1-0.1-3.7-1.1-4.1-2.1-4.3-4.6-5.8-5.6-4.5-3.9-1.9-3.7-0.8M552.1 697.4l3.3 0 2.6-1.1 1.9-2 0.9-2.8 0-3.4-1-3.7-3.1-5.8-4.5-5.1-5.3-3.7-3.5-1.3-1.6-0.4M552.7 696.2l2.9-0.1 2.4-1 1.6-1.9 0.9-2.6 0-3.1-1.7-5.2-3.2-5.1-4.4-4.3-4.8-3-3.2-0.9M553.4 695.3l2.7-0.2 2.2-1 1.5-1.8 0.8-2.5-0.4-4.5-2.2-5-3.5-4.8-4.5-3.7-4.6-2.2-1.5-0.3M552.6 693.6l2.6 0.1 2.1-0.7 1.5-1.4 0.9-2.1-0.1-3.9-1.7-4.4-2.9-4.2-3.7-3.3-4-2.1-2.5-0.5M553.6 691.9l3.1-0.4 1.5-1.1 1.1-2.8-0.3-3.6-1.8-4.1-2.9-3.7-3.6-3-3.7-1.7-1.2-0.2M554.3 692l3.2-0.4 1.5-1.1 1-1.9 0-3.6-1.5-4.2-2.8-4-3.6-3.2-3.8-1.8-1.2-0.3M554.9 690.8l2.8-0.5 1.3-1.2 0.9-2.8-0.6-3.5-1.9-3.8-2.8-3.3-3.3-2.4-3.3-1.1M554.2 689.4l2.6-0.2 1.8-1.4 0.7-2.3-0.5-2.9-2.1-4-3.4-3.3-2.7-1.5-1.8-0.4M555 688.4l2.3-0.2 1.6-1.3 0.6-2.2-0.4-2.8-2.2-3.9-3.3-3.2-2.8-1.4-0.8-0.2M555.9 688.4l2.2-0.3 1.5-1.4 0.6-2.2-0.9-3.6-2.3-3.6-3.3-2.8-3.3-1.2M556.5 687.4l1.9-0.4 1.3-1.3 0.4-2-0.8-3.3-2.2-3.3-3.1-2.5-2.3-0.9M556.7 686.8l2-0.2 1.4-1.1 0.5-1.9-0.7-3.3-2.2-3.2-3-2.4-2.3-0.9M557.1 686l1.9-0.3 1.2-1.1 0.3-2.5-1.2-3.1-2.3-2.7-2.8-1.8-1.3-0.3M557.5 685.6l2-0.1 1.4-1.1 0.4-1.9-0.9-3.3-2.4-3.1-3.1-2-1.5-0.4M558.7 686l2-0.2 1.3-1.3 0.4-2-1-3.4-2.4-3.3-3.2-2.2-1.6-0.5M558.9 686l2.2-0.1 1.6-1 0.6-2-0.4-2.5-2-3.6-3.2-2.9-2.5-1.1-0.8-0.2M559.7 685.9l2.3-0.2 1.5-1.2 0.5-2.1-0.6-2.7-2.2-3.6-3.3-2.7-2.5-0.9M560.5 686l2.3-0.1 1.6-1.2 0.6-2.2-0.5-2.7-2.1-3.8-3.4-3.1-2.7-1.2-0.9-0.1M561.3 686.4l2.4 0 1.7-1.2 0.7-2-0.3-2.7-1.8-3.8-3.1-3.3-3.5-1.9-0.8-0.2M561.8 685.9l2.3 0 1.6-1.1 0.8-2-0.2-2.6-1.9-3.8-3.1-3.2-3.6-1.8-0.8-0.1M562.4 685.5l2.3-0.1 1.6-1.1 0.7-2-0.3-2.7-2-3.7-3.2-3.1-3.4-1.4M563.2 684.8l2.1-0.1 1.4-1.2 0.5-2-0.9-3.4-2.2-3.2-3.1-2.4-2.3-0.7M563.5 684.2l2.1 0 1.4-1.1 0.6-1.8-0.7-3.2-2.1-3.3-3-2.4-2.3-0.8M564.7 684.1l1.9-0.3 1.2-1.2 0.4-2-0.9-3.2-2.2-3-2.9-2.2-2.2-0.6M565.1 683.4l1.8-0.3 1.1-1.1 0.3-2.4-1.1-2.9-2.8-3.2-2.6-1.4-0.7-0.1M565.1 682.6l2.2-0.3 0.9-1 0.2-2.2-1.4-3.3-2.7-2.6-2.4-0.9M566 682.1l1.9-0.3 1-1.6-0.2-2.4-1.9-3.1-2.8-2.1-1.2-0.4M566.8 681.8l1.8-0.5 0.9-1.5-0.5-2.9-2.1-2.9-2.7-1.7-0.6-0.1M567.4 681.4l1.8-0.4 0.8-1.6-0.3-2.4-2-2.9-2.7-1.8-0.6-0.1M567.8 680.9l1.8-0.4 0.8-1.5-0.6-2.7-2-2.5-2.4-1.4-0.5-0.1M568.1 680l1.7-0.5 0.5-1.7-1.1-2.6-2.1-1.8-1.1-0.4M568.6 679.4l1.6-0.3 0.6-1.5-0.8-2.4-2.1-2-1.1-0.5M569.4 679.1l1.5-0.4 0.5-1.4-0.8-2.2-2.2-2-1-0.3M570.1 678.5l1.3-0.4 0.3-1.4-1.2-2.4-2.1-1.4M570.6 677.9l1.1-0.4 0.3-1.5-1.3-2.1-1.6-0.8M571.2 677.4l1.1-0.5-0.1-1.8-1.7-1.8-0.7-0.2M571.7 677.2l1.2-0.4 0.2-1.3-1.3-2.1-1.2-0.7M572.5 676.9l1.1-0.4 0-1.6-1.5-1.8-0.8-0.3M573 676.4l1-0.3 0.1-1.4-1.2-1.7-0.9-0.4M573.8 676.3l1-0.4 0-1.6-1.4-1.6-0.6-0.3M574.4 676l1-0.3 0.1-1.4-1.2-1.7-0.8-0.3M575.1 675.6l0.9-0.5-0.3-1.5-1.3-1.2-0.2 0M575.7 675.2l0.9-0.4-0.3-1.5-1.3-1.1M576.3 674.9l0.9-0.4-0.3-1.4-1.2-1M577 674.6l0.8-0.5-0.4-1.5-0.9-0.6M577.7 674.3l0.8-0.4-0.4-1.5-0.9-0.6M578.4 674.1l0.8-0.5-0.6-1.5-0.7-0.5M579.1 673.8l0.7-0.5-0.6-1.5-0.7-0.3M579.6 673.4l0.7-0.4-0.6-1.3-0.4-0.2" fill="none" stroke="#ff0000" stroke-width="0.75" stroke-linejoin="round"/>
<g><line x1="381.00" y1="753.00" x2="377.91" y2="751.36" stroke="#262626" stroke-width="0.75"/><line x1="381.00" y1="735.04" x2="377.91" y2="733.40" stroke="#262626" stroke-width="0.75"/><line x1="381.00" y1="717.08" x2="377.91" y2="715.44" stroke="#262626" stroke-width="0.75"/><line x1="381.00" y1="699.11" x2="377.91" y2="697.48" stroke="#262626" stroke-width="0.75"/><line x1="381.00" y1="681.15" x2="377.91" y2="679.51" stroke="#262626" stroke-width="0.75"/><line x1="381.00" y1="663.19" x2="377.91" y2="661.55" stroke="#262626" stroke-width="0.75"/><line x1="381.00" y1="645.23" x2="377.91" y2="643.59" stroke="#262626" stroke-width="0.75"/><line x1="381.00" y1="627.26" x2="377.91" y2="625.63" stroke="#262626" stroke-width="0.75"/><line x1="381.00" y1="609.30" x2="377.91" y2="607.66" stroke="#262626" stroke-width="0.75"/><line x1="389.72" y1="757.62" x2="386.38" y2="758.66" stroke="#262626" stroke-width="0.75"/><line x1="416.96" y1="772.04" x2="413.62" y2="773.08" stroke="#262626" stroke-width="0.75"/><line x1="444.21" y1="786.46" x2="440.87" y2="787.50" stroke="#262626" stroke-width="0.75"/><line x1="471.45" y1="800.88" x2="468.11" y2="801.92" stroke="#262626" stroke-width="0.75"/><line x1="498.70" y1="815.30" x2="495.35" y2="816.35" stroke="#262626" stroke-width="0.75"/><line x1="503.60" y1="817.90" x2="506.69" y2="819.54" stroke="#262626" stroke-width="0.75"/><line x1="556.90" y1="801.27" x2="559.99" y2="802.90" stroke="#262626" stroke-width="0.75"/><line x1="610.20" y1="784.63" x2="613.29" y2="786.27" stroke="#262626" stroke-width="0.75"/><line x1="663.50" y1="768.00" x2="666.59" y2="769.64" stroke="#262626" stroke-width="0.75"/></g>
<g fill="#262626" stroke="#262626" stroke-width="0.22"><text transform="translate(374.40,753.04) scale(1,1.16)" font-size="7.9" text-anchor="end">-0.02</text><text transform="translate(374.40,735.08) scale(1,1.16)" font-size="7.9" text-anchor="end">-0.015</text><text transform="translate(374.40,717.12) scale(1,1.16)" font-size="7.9" text-anchor="end">-0.01</text><text transform="translate(374.40,699.16) scale(1,1.16)" font-size="7.9" text-anchor="end">-0.005</text><text transform="translate(374.40,681.19) scale(1,1.16)" font-size="7.9" text-anchor="end">0</text><text transform="translate(374.40,663.23) scale(1,1.16)" font-size="7.9" text-anchor="end">0.005</text><text transform="translate(374.40,645.27) scale(1,1.16)" font-size="7.9" text-anchor="end">0.01</text><text transform="translate(374.40,627.31) scale(1,1.16)" font-size="7.9" text-anchor="end">0.015</text><text transform="translate(374.40,609.34) scale(1,1.16)" font-size="7.9" text-anchor="end">0.02</text><text transform="translate(384.42,769.36) scale(1,1.16)" font-size="7.9" text-anchor="end">1</text><text transform="translate(411.66,783.78) scale(1,1.16)" font-size="7.9" text-anchor="end">0.5</text><text transform="translate(438.91,798.20) scale(1,1.16)" font-size="7.9" text-anchor="end">0</text><text transform="translate(466.15,812.63) scale(1,1.16)" font-size="7.9" text-anchor="end">-0.5</text><text transform="translate(493.40,827.05) scale(1,1.16)" font-size="7.9" text-anchor="end">-1</text><text transform="translate(510.20,829.54) scale(1,1.16)" font-size="7.9" text-anchor="start">0</text><text transform="translate(563.50,812.91) scale(1,1.16)" font-size="7.9" text-anchor="start">50</text><text transform="translate(616.80,796.28) scale(1,1.16)" font-size="7.9" text-anchor="start">100</text><text transform="translate(670.10,779.64) scale(1,1.16)" font-size="7.9" text-anchor="start">150</text></g>
<g fill="#262626" stroke="#262626" stroke-width="0.25"><text x="0" y="0" font-size="9.80" text-anchor="middle" transform="translate(350.50,681.10) rotate(-90) scale(1,1.16)">Velocity (m/s)</text><text transform="translate(419.00,823.50) scale(1,1.16)" font-size="9.8" text-anchor="middle">Displacement (m)</text><text transform="translate(606.00,823.50) scale(1,1.16)" font-size="9.8" text-anchor="middle">Time (s)</text><text transform="translate(364.60,795.20) scale(1,1.0)" font-size="7.6" text-anchor="start" fill="#555">×</text><text transform="translate(370.50,795.00) scale(1,1.16)" font-size="7.5" text-anchor="start">10</text><text transform="translate(379.10,790.90) scale(1,1.16)" font-size="6.5" text-anchor="start">-3</text></g>
<g fill="#000"><rect x="573.10" y="624.20" width="74.70" height="24.30" fill="#fff" stroke="#262626" stroke-width="0.6"/><line x1="575.70" y1="631.25" x2="593.70" y2="631.25" stroke="#0000ff" stroke-width="0.6"/><line x1="575.70" y1="642.67" x2="593.70" y2="642.67" stroke="#ff0000" stroke-width="0.6"/><text transform="translate(595.50,634.55) scale(1,1.0)" font-size="9.0" text-anchor="start">CryStAl</text><text transform="translate(595.50,646.27) scale(1,1.0)" font-size="9.0" text-anchor="start">Uncontrolled</text></g>
<text x="343.5" y="577.0" font-size="14" fill="#000">(<tspan font-weight="bold">f</tspan>) Turkey</text>
</svg></body></html>
